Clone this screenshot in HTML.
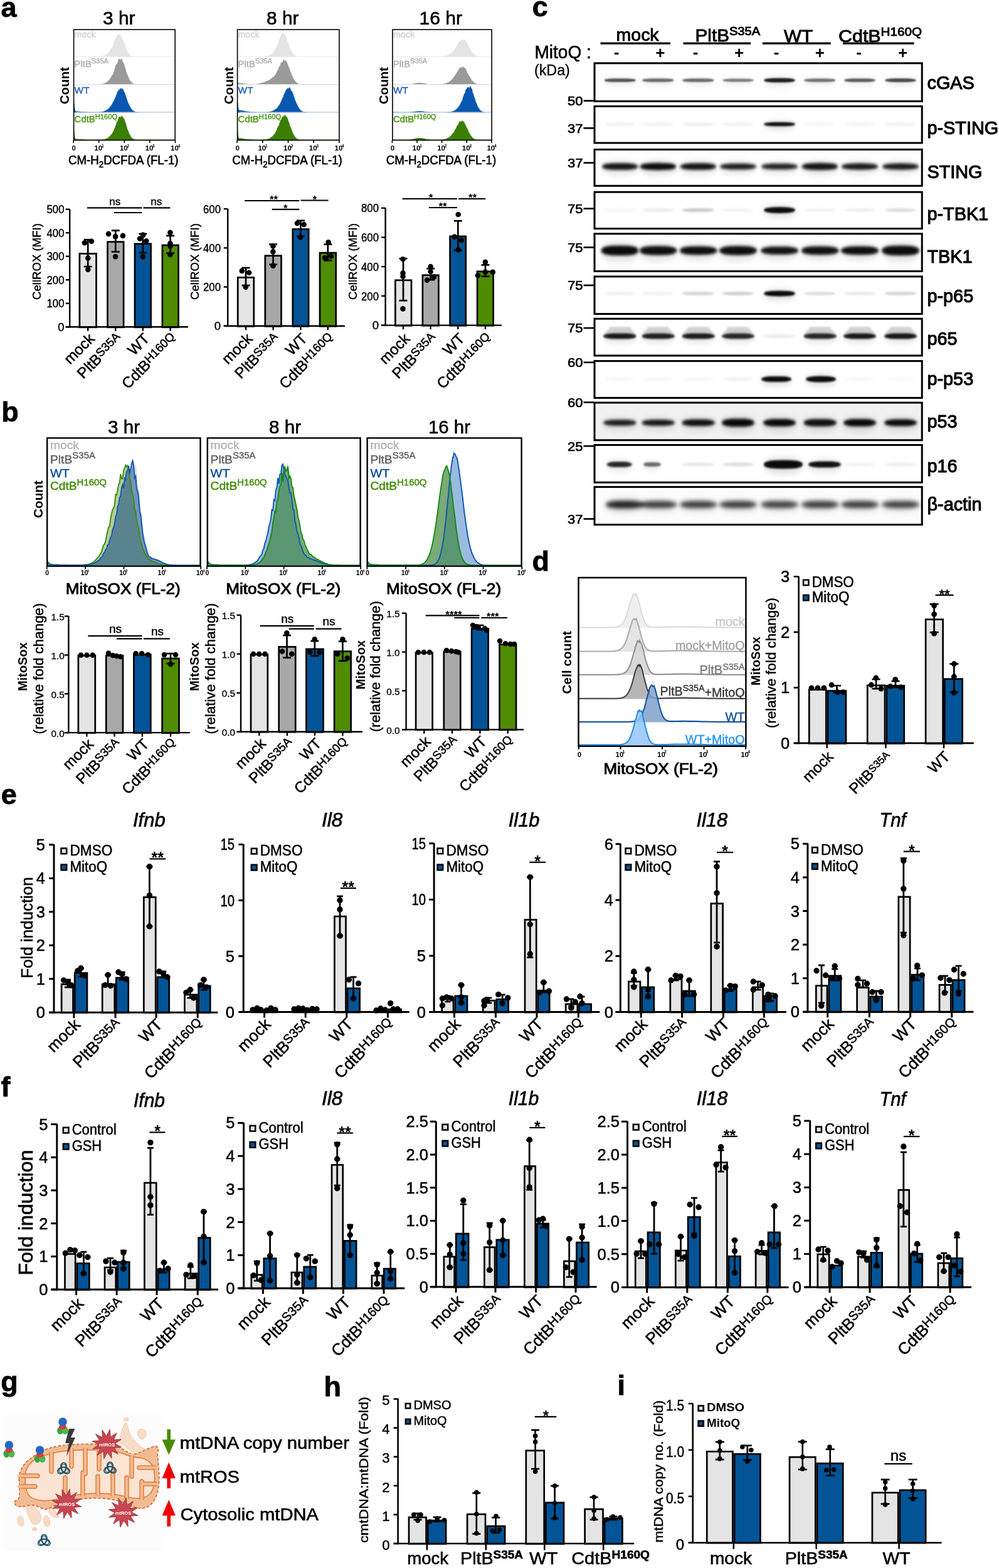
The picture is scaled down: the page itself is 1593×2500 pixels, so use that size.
<!DOCTYPE html>
<html><head><meta charset="utf-8"><title>Figure</title>
<style>html,body{margin:0;padding:0;background:#fff;} svg{display:block;} text{font-family:"Liberation Sans", Arial, sans-serif;}</style>
</head><body>
<svg xmlns="http://www.w3.org/2000/svg" width="1593" height="2500" viewBox="0 0 1593 2500">
<defs>
<filter id="b1" x="-50%" y="-300%" width="200%" height="700%"><feGaussianBlur stdDeviation="1.2"/></filter>
<filter id="b2" x="-50%" y="-300%" width="200%" height="700%"><feGaussianBlur stdDeviation="2"/></filter>
<filter id="b3" x="-50%" y="-300%" width="200%" height="700%"><feGaussianBlur stdDeviation="3.2"/></filter>
<filter id="b5" x="-50%" y="-300%" width="200%" height="700%"><feGaussianBlur stdDeviation="5"/></filter>
<filter id="bh" x="-30%" y="-300%" width="160%" height="700%"><feGaussianBlur stdDeviation="4"/></filter><filter id="bb0" x="-20%" y="-300%" width="140%" height="700%"><feGaussianBlur stdDeviation="1.3"/></filter><filter id="bb1" x="-20%" y="-300%" width="140%" height="700%"><feGaussianBlur stdDeviation="1.5"/></filter><filter id="bb2" x="-20%" y="-300%" width="140%" height="700%"><feGaussianBlur stdDeviation="2.0"/></filter><filter id="bb3" x="-20%" y="-300%" width="140%" height="700%"><feGaussianBlur stdDeviation="1.4"/></filter><filter id="bb4" x="-20%" y="-300%" width="140%" height="700%"><feGaussianBlur stdDeviation="2.2"/></filter><filter id="bb5" x="-20%" y="-300%" width="140%" height="700%"><feGaussianBlur stdDeviation="1.4"/></filter><filter id="bb6" x="-20%" y="-300%" width="140%" height="700%"><feGaussianBlur stdDeviation="1.8"/></filter><filter id="bb7" x="-20%" y="-300%" width="140%" height="700%"><feGaussianBlur stdDeviation="1.5"/></filter><filter id="bb8" x="-20%" y="-300%" width="140%" height="700%"><feGaussianBlur stdDeviation="2.0"/></filter><filter id="bb9" x="-20%" y="-300%" width="140%" height="700%"><feGaussianBlur stdDeviation="1.6"/></filter><filter id="bb10" x="-20%" y="-300%" width="140%" height="700%"><feGaussianBlur stdDeviation="3.0"/></filter>
</defs>
<rect x="0" y="0" width="1593" height="2500" fill="#fff"/>
<text x="1.6" y="26.6" font-size="45" font-weight="bold" stroke="#000" stroke-width="0.8" >a</text>
<text x="2.2" y="671.7" font-size="45" font-weight="bold" stroke="#000" stroke-width="0.8" >b</text>
<text x="848.8" y="26.2" font-size="45" font-weight="bold" stroke="#000" stroke-width="0.8" >c</text>
<text x="848.4" y="909.6" font-size="45" font-weight="bold" stroke="#000" stroke-width="0.8" >d</text>
<text x="1.8" y="1282.4" font-size="45" font-weight="bold" stroke="#000" stroke-width="0.8" >e</text>
<text x="1.6" y="1748.4" font-size="45" font-weight="bold" stroke="#000" stroke-width="0.8" >f</text>
<text x="1.2" y="2217.5" font-size="45" font-weight="bold" stroke="#000" stroke-width="0.8" >g</text>
<text x="516.4" y="2225.6" font-size="45" font-weight="bold" stroke="#000" stroke-width="0.8" >h</text>
<text x="984.6" y="2224.2" font-size="45" font-weight="bold" stroke="#000" stroke-width="0.8" >i</text>
<path d="M117.8 90.6 L117.8 90.6 L118.4 90.6 L119 90.6 L119.6 90.6 L120.2 90.6 L120.8 90.6 L121.4 90.6 L122 90.6 L122.6 90.6 L123.2 90.6 L123.8 90.6 L124.4 90.6 L125 90.6 L125.6 90.6 L126.2 90.6 L126.8 90.6 L127.4 90.6 L128 90.6 L128.6 90.6 L129.2 90.6 L129.8 90.6 L130.4 90.6 L131 90.6 L131.6 90.6 L132.2 90.6 L132.8 90.6 L133.4 90.6 L134 90.6 L134.6 90.6 L135.2 90.6 L135.8 90.6 L136.4 90.6 L137 90.6 L137.6 90.6 L138.2 90.6 L138.8 90.6 L139.4 90.6 L140 90.6 L140.6 90.6 L141.2 90.6 L141.8 90.6 L142.4 90.6 L143 90.6 L143.6 90.6 L144.2 90.6 L144.8 90.6 L145.4 90.6 L146 90.6 L146.6 90.6 L147.2 90.6 L147.8 90.6 L148.4 90.6 L149 90.6 L149.6 90.6 L150.2 90.5 L150.8 90.5 L151.4 90.5 L152 90.5 L152.6 90.5 L153.2 90.5 L153.8 90.4 L154.4 90.4 L155 90.4 L155.6 90.4 L156.2 90.3 L156.8 90.3 L157.4 90.2 L158 90.1 L158.6 90.1 L159.2 90 L159.8 90 L160.4 89.8 L161 89.7 L161.6 89.6 L162.2 89.5 L162.8 89.4 L163.4 89.2 L164 89.1 L164.6 88.8 L165.2 88.6 L165.8 88.4 L166.4 88.2 L167 88 L167.6 87.8 L168.2 87.4 L168.8 86.9 L169.4 86.6 L170 86.3 L170.6 85.7 L171.2 85.3 L171.8 84.8 L172.4 84 L173 83.4 L173.6 83 L174.2 82 L174.8 81.3 L175.4 80.1 L176 79.3 L176.6 78.8 L177.2 76.8 L177.8 76.9 L178.4 75.3 L179 73.4 L179.6 73.2 L180.2 71.2 L180.8 70.7 L181.4 68 L182 66.2 L182.6 65.2 L183.2 63 L183.8 63.1 L184.4 60.6 L185 59.6 L185.6 58.4 L186.2 57.7 L186.8 55.4 L187.4 54.2 L188 55.5 L188.6 54.8 L189.2 57 L189.8 54.7 L190.4 54.9 L191 53.7 L191.6 54.3 L192.2 56.3 L192.8 56.7 L193.4 56.7 L194 60 L194.6 59.8 L195.2 62.1 L195.8 63.7 L196.4 65.3 L197 65.1 L197.6 68.3 L198.2 69.6 L198.8 71 L199.4 71.7 L200 74.7 L200.6 75.6 L201.2 77 L201.8 78 L202.4 79.4 L203 80.6 L203.6 82.3 L204.2 83.2 L204.8 84.2 L205.4 84.8 L206 85.5 L206.6 86.6 L207.2 87.2 L207.8 87.7 L208.4 88.1 L209 88.5 L209.6 88.8 L210.2 89.1 L210.8 89.4 L211.4 89.6 L212 89.8 L212.6 89.9 L213.2 90 L213.8 90.1 L214.4 90.2 L215 90.3 L215.6 90.4 L216.2 90.4 L216.8 90.4 L217.4 90.5 L218 90.5 L218.6 90.5 L219.2 90.5 L219.8 90.6 L220.4 90.6 L221 90.6 L221.6 90.6 L222.2 90.6 L222.8 90.6 L223.4 90.6 L224 90.6 L224.6 90.6 L225.2 90.6 L225.8 90.6 L226.4 90.6 L227 90.6 L227.6 90.6 L228.2 90.6 L228.8 90.6 L229.4 90.6 L230 90.6 L230.6 90.6 L231.2 90.6 L231.8 90.6 L232.4 90.6 L233 90.6 L233.6 90.6 L234.2 90.6 L234.8 90.6 L235.4 90.6 L236 90.6 L236.6 90.6 L237.2 90.6 L237.8 90.6 L238.4 90.6 L239 90.6 L239.6 90.6 L240.2 90.6 L240.8 90.6 L241.4 90.6 L242 90.6 L242.6 90.6 L243.2 90.6 L243.8 90.6 L244.4 90.6 L245 90.6 L245.6 90.6 L246.2 90.6 L246.8 90.6 L247.4 90.6 L248 90.6 L248.6 90.6 L249.2 90.6 L249.8 90.6 L250.4 90.6 L251 90.6 L251.6 90.6 L252.2 90.6 L252.8 90.6 L253.4 90.6 L254 90.6 L254.6 90.6 L255.2 90.6 L255.8 90.6 L256.4 90.6 L257 90.6 L257.6 90.6 L258.2 90.6 L258.8 90.6 L259.4 90.6 L260 90.6 L260.6 90.6 L261.2 90.6 L261.8 90.6 L262.4 90.6 L263 90.6 L263.6 90.6 L264.2 90.6 L264.8 90.6 L265.4 90.6 L266 90.6 L266.6 90.6 L267.2 90.6 L267.8 90.6 L268.4 90.6 L269 90.6 L269.6 90.6 L270.2 90.6 L270.8 90.6 L271.4 90.6 L272 90.6 L272.6 90.6 L273.2 90.6 L273.8 90.6 L274.4 90.6 L275 90.6 L275.6 90.6 L276.2 90.6 L276.8 90.6 L277.4 90.6 L278 90.6 L278.6 90.6 L279 90.6 Z" fill="#e4e4e4" />
<line x1="117.8" y1="90.2" x2="279" y2="90.2" stroke="#e8e8e8" stroke-width="1.0" />
<path d="M117.8 135 L117.8 135 L118.4 135 L119 135 L119.6 135 L120.2 135 L120.8 135 L121.4 135 L122 135 L122.6 135 L123.2 135 L123.8 135 L124.4 135 L125 135 L125.6 135 L126.2 135 L126.8 135 L127.4 135 L128 135 L128.6 135 L129.2 135 L129.8 135 L130.4 135 L131 135 L131.6 135 L132.2 135 L132.8 135 L133.4 135 L134 135 L134.6 135 L135.2 135 L135.8 135 L136.4 135 L137 135 L137.6 135 L138.2 135 L138.8 135 L139.4 135 L140 135 L140.6 135 L141.2 135 L141.8 135 L142.4 135 L143 135 L143.6 135 L144.2 135 L144.8 135 L145.4 135 L146 135 L146.6 135 L147.2 135 L147.8 135 L148.4 135 L149 135 L149.6 135 L150.2 135 L150.8 134.9 L151.4 134.9 L152 134.9 L152.6 134.9 L153.2 134.9 L153.8 134.9 L154.4 134.8 L155 134.8 L155.6 134.8 L156.2 134.7 L156.8 134.7 L157.4 134.6 L158 134.6 L158.6 134.5 L159.2 134.5 L159.8 134.4 L160.4 134.3 L161 134.2 L161.6 134.1 L162.2 134 L162.8 133.9 L163.4 133.8 L164 133.5 L164.6 133.4 L165.2 133.3 L165.8 133 L166.4 132.9 L167 132.5 L167.6 132.1 L168.2 131.9 L168.8 131.6 L169.4 131.4 L170 131 L170.6 130.7 L171.2 129.9 L171.8 129.6 L172.4 128.9 L173 128.6 L173.6 128.1 L174.2 126.9 L174.8 126 L175.4 125.3 L176 124.5 L176.6 123.5 L177.2 122.6 L177.8 122.2 L178.4 120.6 L179 119.6 L179.6 118.9 L180.2 117.6 L180.8 115.8 L181.4 114.4 L182 111.9 L182.6 109.6 L183.2 109.3 L183.8 106.3 L184.4 104.4 L185 102.9 L185.6 103.1 L186.2 102.1 L186.8 100.7 L187.4 99.5 L188 98.3 L188.6 95.6 L189.2 93.5 L189.8 93.3 L190.4 94.8 L191 94.1 L191.6 93.5 L192.2 96.4 L192.8 94.1 L193.4 93.1 L194 93.6 L194.6 94.5 L195.2 96.6 L195.8 99 L196.4 98.1 L197 101.2 L197.6 101.3 L198.2 102.5 L198.8 106.1 L199.4 107.9 L200 108.3 L200.6 110.8 L201.2 113.9 L201.8 115.7 L202.4 117.4 L203 117.8 L203.6 119.6 L204.2 122.1 L204.8 122.6 L205.4 123.9 L206 125.5 L206.6 126.9 L207.2 127.7 L207.8 129 L208.4 129.8 L209 130.1 L209.6 130.9 L210.2 131.6 L210.8 132 L211.4 132.6 L212 132.9 L212.6 133.2 L213.2 133.6 L213.8 133.8 L214.4 134 L215 134.2 L215.6 134.3 L216.2 134.5 L216.8 134.6 L217.4 134.7 L218 134.7 L218.6 134.8 L219.2 134.8 L219.8 134.8 L220.4 134.9 L221 134.9 L221.6 134.9 L222.2 134.9 L222.8 135 L223.4 135 L224 135 L224.6 135 L225.2 135 L225.8 135 L226.4 135 L227 135 L227.6 135 L228.2 135 L228.8 135 L229.4 135 L230 135 L230.6 135 L231.2 135 L231.8 135 L232.4 135 L233 135 L233.6 135 L234.2 135 L234.8 135 L235.4 135 L236 135 L236.6 135 L237.2 135 L237.8 135 L238.4 135 L239 135 L239.6 135 L240.2 135 L240.8 135 L241.4 135 L242 135 L242.6 135 L243.2 135 L243.8 135 L244.4 135 L245 135 L245.6 135 L246.2 135 L246.8 135 L247.4 135 L248 135 L248.6 135 L249.2 135 L249.8 135 L250.4 135 L251 135 L251.6 135 L252.2 135 L252.8 135 L253.4 135 L254 135 L254.6 135 L255.2 135 L255.8 135 L256.4 135 L257 135 L257.6 135 L258.2 135 L258.8 135 L259.4 135 L260 135 L260.6 135 L261.2 135 L261.8 135 L262.4 135 L263 135 L263.6 135 L264.2 135 L264.8 135 L265.4 135 L266 135 L266.6 135 L267.2 135 L267.8 135 L268.4 135 L269 135 L269.6 135 L270.2 135 L270.8 135 L271.4 135 L272 135 L272.6 135 L273.2 135 L273.8 135 L274.4 135 L275 135 L275.6 135 L276.2 135 L276.8 135 L277.4 135 L278 135 L278.6 135 L279 135 Z" fill="#9a9a9a" />
<line x1="117.8" y1="134.6" x2="279" y2="134.6" stroke="#d8d8d8" stroke-width="1.0" />
<path d="M117.8 179.3 L117.8 176.9 L118.4 177 L119 176.9 L119.6 177.1 L120.2 177.1 L120.8 177.2 L121.4 177.3 L122 177.4 L122.6 177.4 L123.2 177.4 L123.8 177.4 L124.4 177.6 L125 177.6 L125.6 177.7 L126.2 177.7 L126.8 177.7 L127.4 177.8 L128 177.9 L128.6 177.9 L129.2 177.9 L129.8 178 L130.4 178 L131 178.1 L131.6 178.2 L132.2 178.2 L132.8 178.3 L133.4 178.3 L134 178.3 L134.6 178.3 L135.2 178.4 L135.8 178.4 L136.4 178.5 L137 178.6 L137.6 178.6 L138.2 178.6 L138.8 178.6 L139.4 178.7 L140 178.8 L140.6 178.8 L141.2 178.8 L141.8 178.8 L142.4 178.9 L143 178.9 L143.6 178.9 L144.2 178.9 L144.8 178.9 L145.4 178.9 L146 178.9 L146.6 179 L147.2 179 L147.8 179 L148.4 179 L149 179 L149.6 179 L150.2 179 L150.8 179 L151.4 179 L152 179 L152.6 179 L153.2 179 L153.8 179 L154.4 178.9 L155 178.9 L155.6 178.9 L156.2 178.9 L156.8 178.8 L157.4 178.8 L158 178.7 L158.6 178.7 L159.2 178.6 L159.8 178.5 L160.4 178.5 L161 178.3 L161.6 178.2 L162.2 178.1 L162.8 178 L163.4 177.9 L164 177.8 L164.6 177.5 L165.2 177.4 L165.8 177.3 L166.4 177 L167 176.6 L167.6 176.4 L168.2 176.3 L168.8 176 L169.4 175.5 L170 175.2 L170.6 174.8 L171.2 174.7 L171.8 174.3 L172.4 173.5 L173 173.1 L173.6 172.8 L174.2 171.6 L174.8 171.1 L175.4 170.3 L176 170.2 L176.6 168.6 L177.2 168.5 L177.8 166.7 L178.4 166.2 L179 165.3 L179.6 163.8 L180.2 162 L180.8 161.9 L181.4 160.8 L182 158.7 L182.6 158 L183.2 156.9 L183.8 155.3 L184.4 154.2 L185 152.4 L185.6 150.7 L186.2 149.3 L186.8 146.5 L187.4 146.7 L188 144.8 L188.6 144.8 L189.2 143.2 L189.8 143.5 L190.4 142 L191 142.9 L191.6 140.1 L192.2 140.8 L192.8 142.2 L193.4 141.1 L194 139.4 L194.6 142.5 L195.2 139.9 L195.8 142.2 L196.4 142.9 L197 142.8 L197.6 145.6 L198.2 146.6 L198.8 147.5 L199.4 148.2 L200 151.7 L200.6 152 L201.2 154 L201.8 155.9 L202.4 158.1 L203 159.8 L203.6 162 L204.2 163.3 L204.8 164.9 L205.4 165.3 L206 167.3 L206.6 168.6 L207.2 169.9 L207.8 170.3 L208.4 171.3 L209 172.4 L209.6 173.5 L210.2 174.3 L210.8 174.9 L211.4 175.4 L212 176.1 L212.6 176.5 L213.2 176.9 L213.8 177.1 L214.4 177.5 L215 177.8 L215.6 178.1 L216.2 178.2 L216.8 178.5 L217.4 178.6 L218 178.7 L218.6 178.8 L219.2 178.9 L219.8 179 L220.4 179 L221 179.1 L221.6 179.1 L222.2 179.2 L222.8 179.2 L223.4 179.2 L224 179.2 L224.6 179.2 L225.2 179.2 L225.8 179.3 L226.4 179.3 L227 179.3 L227.6 179.3 L228.2 179.3 L228.8 179.3 L229.4 179.3 L230 179.3 L230.6 179.3 L231.2 179.3 L231.8 179.3 L232.4 179.3 L233 179.3 L233.6 179.3 L234.2 179.3 L234.8 179.3 L235.4 179.3 L236 179.3 L236.6 179.3 L237.2 179.3 L237.8 179.3 L238.4 179.3 L239 179.3 L239.6 179.3 L240.2 179.3 L240.8 179.3 L241.4 179.3 L242 179.3 L242.6 179.3 L243.2 179.3 L243.8 179.3 L244.4 179.3 L245 179.3 L245.6 179.3 L246.2 179.3 L246.8 179.3 L247.4 179.3 L248 179.3 L248.6 179.3 L249.2 179.3 L249.8 179.3 L250.4 179.3 L251 179.3 L251.6 179.3 L252.2 179.3 L252.8 179.3 L253.4 179.3 L254 179.3 L254.6 179.3 L255.2 179.3 L255.8 179.3 L256.4 179.3 L257 179.3 L257.6 179.3 L258.2 179.3 L258.8 179.3 L259.4 179.3 L260 179.3 L260.6 179.3 L261.2 179.3 L261.8 179.3 L262.4 179.3 L263 179.3 L263.6 179.3 L264.2 179.3 L264.8 179.3 L265.4 179.3 L266 179.3 L266.6 179.3 L267.2 179.3 L267.8 179.3 L268.4 179.3 L269 179.3 L269.6 179.3 L270.2 179.3 L270.8 179.3 L271.4 179.3 L272 179.3 L272.6 179.3 L273.2 179.3 L273.8 179.3 L274.4 179.3 L275 179.3 L275.6 179.3 L276.2 179.3 L276.8 179.3 L277.4 179.3 L278 179.3 L278.6 179.3 L279 179.3 Z" fill="#0a57b0" />
<line x1="117.8" y1="178.9" x2="279" y2="178.9" stroke="#9ab8e0" stroke-width="1.0" />
<path d="M117.6 179.3 L117.6 157.3 L119 171.3 L120.3 177.3 L121.8 179.3 Z" fill="#0a57b0" />
<path d="M117.8 223.5 L117.8 221 L118.4 221.1 L119 221.1 L119.6 221.3 L120.2 221.4 L120.8 221.3 L121.4 221.5 L122 221.5 L122.6 221.6 L123.2 221.7 L123.8 221.6 L124.4 221.7 L125 221.8 L125.6 221.8 L126.2 221.9 L126.8 222 L127.4 222 L128 222.1 L128.6 222.1 L129.2 222.1 L129.8 222.2 L130.4 222.3 L131 222.3 L131.6 222.3 L132.2 222.4 L132.8 222.5 L133.4 222.5 L134 222.6 L134.6 222.6 L135.2 222.7 L135.8 222.6 L136.4 222.7 L137 222.7 L137.6 222.8 L138.2 222.8 L138.8 222.9 L139.4 222.9 L140 222.9 L140.6 222.9 L141.2 223 L141.8 223 L142.4 223 L143 223.1 L143.6 223.1 L144.2 223.1 L144.8 223.1 L145.4 223.2 L146 223.2 L146.6 223.2 L147.2 223.2 L147.8 223.2 L148.4 223.2 L149 223.2 L149.6 223.2 L150.2 223.2 L150.8 223.2 L151.4 223.3 L152 223.3 L152.6 223.3 L153.2 223.3 L153.8 223.3 L154.4 223.2 L155 223.2 L155.6 223.2 L156.2 223.2 L156.8 223.2 L157.4 223.2 L158 223.1 L158.6 223.1 L159.2 223.1 L159.8 223 L160.4 223 L161 222.9 L161.6 222.9 L162.2 222.8 L162.8 222.7 L163.4 222.6 L164 222.5 L164.6 222.3 L165.2 222.3 L165.8 222.1 L166.4 221.9 L167 221.7 L167.6 221.6 L168.2 221.5 L168.8 221.2 L169.4 220.8 L170 220.7 L170.6 220.3 L171.2 220.2 L171.8 219.7 L172.4 219.1 L173 219 L173.6 218.2 L174.2 217.9 L174.8 217.1 L175.4 216.6 L176 216.3 L176.6 215.1 L177.2 214.6 L177.8 214.3 L178.4 213.4 L179 211.9 L179.6 210.9 L180.2 210 L180.8 209.1 L181.4 207.6 L182 206.3 L182.6 203.9 L183.2 204.1 L183.8 201 L184.4 199.3 L185 199.4 L185.6 195.8 L186.2 194.7 L186.8 192.6 L187.4 192.9 L188 191.2 L188.6 189.8 L189.2 186.4 L189.8 186.7 L190.4 186.6 L191 185.5 L191.6 186.1 L192.2 187 L192.8 186.8 L193.4 183.9 L194 186 L194.6 183.6 L195.2 186.2 L195.8 186.6 L196.4 186.7 L197 189 L197.6 189.6 L198.2 189.2 L198.8 191 L199.4 193 L200 195.3 L200.6 196.3 L201.2 198.1 L201.8 200.9 L202.4 202.4 L203 205.4 L203.6 205.9 L204.2 208 L204.8 209.1 L205.4 210.8 L206 212.6 L206.6 214.1 L207.2 214.5 L207.8 216.2 L208.4 216.9 L209 217.9 L209.6 218.7 L210.2 219.2 L210.8 219.8 L211.4 220.5 L212 220.9 L212.6 221.4 L213.2 221.7 L213.8 222 L214.4 222.3 L215 222.5 L215.6 222.7 L216.2 222.8 L216.8 222.9 L217.4 223.1 L218 223.1 L218.6 223.2 L219.2 223.3 L219.8 223.3 L220.4 223.4 L221 223.4 L221.6 223.4 L222.2 223.4 L222.8 223.4 L223.4 223.5 L224 223.5 L224.6 223.5 L225.2 223.5 L225.8 223.5 L226.4 223.5 L227 223.5 L227.6 223.5 L228.2 223.5 L228.8 223.5 L229.4 223.5 L230 223.5 L230.6 223.5 L231.2 223.5 L231.8 223.5 L232.4 223.5 L233 223.5 L233.6 223.5 L234.2 223.5 L234.8 223.5 L235.4 223.5 L236 223.5 L236.6 223.5 L237.2 223.5 L237.8 223.5 L238.4 223.5 L239 223.5 L239.6 223.5 L240.2 223.5 L240.8 223.5 L241.4 223.5 L242 223.5 L242.6 223.5 L243.2 223.5 L243.8 223.5 L244.4 223.5 L245 223.5 L245.6 223.5 L246.2 223.5 L246.8 223.5 L247.4 223.5 L248 223.5 L248.6 223.5 L249.2 223.5 L249.8 223.5 L250.4 223.5 L251 223.5 L251.6 223.5 L252.2 223.5 L252.8 223.5 L253.4 223.5 L254 223.5 L254.6 223.5 L255.2 223.5 L255.8 223.5 L256.4 223.5 L257 223.5 L257.6 223.5 L258.2 223.5 L258.8 223.5 L259.4 223.5 L260 223.5 L260.6 223.5 L261.2 223.5 L261.8 223.5 L262.4 223.5 L263 223.5 L263.6 223.5 L264.2 223.5 L264.8 223.5 L265.4 223.5 L266 223.5 L266.6 223.5 L267.2 223.5 L267.8 223.5 L268.4 223.5 L269 223.5 L269.6 223.5 L270.2 223.5 L270.8 223.5 L271.4 223.5 L272 223.5 L272.6 223.5 L273.2 223.5 L273.8 223.5 L274.4 223.5 L275 223.5 L275.6 223.5 L276.2 223.5 L276.8 223.5 L277.4 223.5 L278 223.5 L278.6 223.5 L279 223.5 Z" fill="#3b7f00" />
<line x1="117.8" y1="223.1" x2="279" y2="223.1" stroke="#3b7f00" stroke-width="1.0" />
<path d="M117.6 223.5 L117.6 201.5 L119 215.5 L120.3 221.5 L121.8 223.5 Z" fill="#3b7f00" />
<rect x="117.6" y="47.2" width="161.6" height="176.3" fill="none" stroke="#000" stroke-width="1.6" />
<text x="118.6" y="59.7" font-size="15" fill="#cfcfcf" textLength="34.4" lengthAdjust="spacingAndGlyphs" stroke="#cfcfcf" stroke-width="0.33" >mock</text>
<text x="118.6" y="106.8" font-size="15" fill="#ababab" textLength="54.4" lengthAdjust="spacingAndGlyphs" stroke="#ababab" stroke-width="0.33" >PltB<tspan font-size="0.75em" dy="-0.5em">S35A</tspan></text>
<text x="118.6" y="149.2" font-size="15" fill="#1a5fb4" textLength="24" lengthAdjust="spacingAndGlyphs" stroke="#1a5fb4" stroke-width="0.33" >WT</text>
<text x="118.6" y="195.4" font-size="15" fill="#3e9000" textLength="68.7" lengthAdjust="spacingAndGlyphs" stroke="#3e9000" stroke-width="0.33" >CdtB<tspan font-size="0.75em" dy="-0.5em">H160Q</tspan></text>
<text x="164" y="38.9" font-size="30" textLength="51.6" lengthAdjust="spacingAndGlyphs" stroke="#000" stroke-width="0.6" >3 hr</text>
<text x="109.9" y="136.5" font-size="21" text-anchor="middle" font-weight="bold" textLength="59.5" lengthAdjust="spacingAndGlyphs" transform="rotate(-90 109.9 136.5)" >Count</text>
<line x1="117.1" y1="223.5" x2="117.1" y2="228" stroke="#000" stroke-width="1.6" />
<text x="117.6" y="240" font-size="11.5" text-anchor="middle" font-weight="bold" >0</text>
<line x1="157.7" y1="223.5" x2="157.7" y2="228" stroke="#000" stroke-width="1.6" />
<text x="156.7" y="240" font-size="11.5" text-anchor="middle" font-weight="bold" >10</text>
<text x="163.7" y="234.5" font-size="6.5" text-anchor="middle" font-weight="bold" >1</text>
<line x1="198.3" y1="223.5" x2="198.3" y2="228" stroke="#000" stroke-width="1.6" />
<text x="197.3" y="240" font-size="11.5" text-anchor="middle" font-weight="bold" >10</text>
<text x="204.3" y="234.5" font-size="6.5" text-anchor="middle" font-weight="bold" >2</text>
<line x1="238.9" y1="223.5" x2="238.9" y2="228" stroke="#000" stroke-width="1.6" />
<text x="237.9" y="240" font-size="11.5" text-anchor="middle" font-weight="bold" >10</text>
<text x="244.9" y="234.5" font-size="6.5" text-anchor="middle" font-weight="bold" >3</text>
<line x1="279.5" y1="223.5" x2="279.5" y2="228" stroke="#000" stroke-width="1.6" />
<text x="278.5" y="240" font-size="11.5" text-anchor="middle" font-weight="bold" >10</text>
<text x="285.5" y="234.5" font-size="6.5" text-anchor="middle" font-weight="bold" >4</text>
<text x="196.8" y="261.5" font-size="20" text-anchor="middle" textLength="175.5" lengthAdjust="spacingAndGlyphs" stroke="#000" stroke-width="0.6">CM-H<tspan font-size="14" dy="5">2</tspan><tspan dy="-5">DCFDA (FL-1)</tspan></text>
<path d="M378.8 90.6 L378.8 90.6 L379.4 90.6 L380 90.6 L380.6 90.6 L381.2 90.6 L381.8 90.6 L382.4 90.6 L383 90.6 L383.6 90.6 L384.2 90.6 L384.8 90.6 L385.4 90.6 L386 90.6 L386.6 90.6 L387.2 90.6 L387.8 90.6 L388.4 90.6 L389 90.6 L389.6 90.6 L390.2 90.6 L390.8 90.6 L391.4 90.6 L392 90.6 L392.6 90.6 L393.2 90.6 L393.8 90.6 L394.4 90.6 L395 90.6 L395.6 90.6 L396.2 90.6 L396.8 90.6 L397.4 90.6 L398 90.6 L398.6 90.6 L399.2 90.6 L399.8 90.6 L400.4 90.6 L401 90.6 L401.6 90.6 L402.2 90.6 L402.8 90.6 L403.4 90.6 L404 90.6 L404.6 90.6 L405.2 90.6 L405.8 90.6 L406.4 90.6 L407 90.6 L407.6 90.6 L408.2 90.6 L408.8 90.6 L409.4 90.6 L410 90.6 L410.6 90.6 L411.2 90.6 L411.8 90.6 L412.4 90.6 L413 90.6 L413.6 90.6 L414.2 90.5 L414.8 90.5 L415.4 90.5 L416 90.5 L416.6 90.5 L417.2 90.4 L417.8 90.4 L418.4 90.4 L419 90.4 L419.6 90.3 L420.2 90.3 L420.8 90.2 L421.4 90.1 L422 90 L422.6 90 L423.2 89.9 L423.8 89.8 L424.4 89.6 L425 89.5 L425.6 89.4 L426.2 89.3 L426.8 89.1 L427.4 88.8 L428 88.6 L428.6 88.3 L429.2 88.1 L429.8 88 L430.4 87.7 L431 87.4 L431.6 86.9 L432.2 86.4 L432.8 85.8 L433.4 85.4 L434 84.9 L434.6 84.2 L435.2 83.8 L435.8 83 L436.4 82.7 L437 81.2 L437.6 80.8 L438.2 79.1 L438.8 78.3 L439.4 77.6 L440 76.6 L440.6 75.2 L441.2 73.2 L441.8 71.6 L442.4 71.2 L443 69.8 L443.6 67.2 L444.2 65.5 L444.8 64.3 L445.4 63.2 L446 60.5 L446.6 60.8 L447.2 58.5 L447.8 56.7 L448.4 53.7 L449 53.8 L449.6 52 L450.2 53.5 L450.8 54.4 L451.4 54.3 L452 51.7 L452.6 52.6 L453.2 54.1 L453.8 55.2 L454.4 54.2 L455 54.6 L455.6 56.8 L456.2 58.7 L456.8 59 L457.4 59.9 L458 63.7 L458.6 65.9 L459.2 67 L459.8 68.6 L460.4 69.9 L461 72.7 L461.6 73.4 L462.2 75.2 L462.8 77.2 L463.4 79 L464 79.6 L464.6 81.5 L465.2 82.3 L465.8 83.8 L466.4 84.8 L467 85.3 L467.6 86.3 L468.2 86.7 L468.8 87.5 L469.4 88.1 L470 88.5 L470.6 88.8 L471.2 89.1 L471.8 89.3 L472.4 89.7 L473 89.8 L473.6 90 L474.2 90.1 L474.8 90.2 L475.4 90.3 L476 90.4 L476.6 90.4 L477.2 90.4 L477.8 90.5 L478.4 90.5 L479 90.5 L479.6 90.5 L480.2 90.6 L480.8 90.6 L481.4 90.6 L482 90.6 L482.6 90.6 L483.2 90.6 L483.8 90.6 L484.4 90.6 L485 90.6 L485.6 90.6 L486.2 90.6 L486.8 90.6 L487.4 90.6 L488 90.6 L488.6 90.6 L489.2 90.6 L489.8 90.6 L490.4 90.6 L491 90.6 L491.6 90.6 L492.2 90.6 L492.8 90.6 L493.4 90.6 L494 90.6 L494.6 90.6 L495.2 90.6 L495.8 90.6 L496.4 90.6 L497 90.6 L497.6 90.6 L498.2 90.6 L498.8 90.6 L499.4 90.6 L500 90.6 L500.6 90.6 L501.2 90.6 L501.8 90.6 L502.4 90.6 L503 90.6 L503.6 90.6 L504.2 90.6 L504.8 90.6 L505.4 90.6 L506 90.6 L506.6 90.6 L507.2 90.6 L507.8 90.6 L508.4 90.6 L509 90.6 L509.6 90.6 L510.2 90.6 L510.8 90.6 L511.4 90.6 L512 90.6 L512.6 90.6 L513.2 90.6 L513.8 90.6 L514.4 90.6 L515 90.6 L515.6 90.6 L516.2 90.6 L516.8 90.6 L517.4 90.6 L518 90.6 L518.6 90.6 L519.2 90.6 L519.8 90.6 L520.4 90.6 L521 90.6 L521.6 90.6 L522.2 90.6 L522.8 90.6 L523.4 90.6 L524 90.6 L524.6 90.6 L525.2 90.6 L525.8 90.6 L526.4 90.6 L527 90.6 L527.6 90.6 L528.2 90.6 L528.8 90.6 L529.4 90.6 L530 90.6 L530.6 90.6 L531.2 90.6 L531.8 90.6 L532.4 90.6 L533 90.6 L533.6 90.6 L534.2 90.6 L534.8 90.6 L535.4 90.6 L536 90.6 L536.6 90.6 L537.2 90.6 L537.8 90.6 L538.4 90.6 L539 90.6 L539.6 90.6 L540.2 90.6 L540.7 90.6 Z" fill="#e4e4e4" />
<line x1="378.8" y1="90.2" x2="540.7" y2="90.2" stroke="#e8e8e8" stroke-width="1.0" />
<path d="M378.8 135 L378.8 131.8 L379.4 131.7 L380 131.9 L380.6 132 L381.2 132.2 L381.8 132.3 L382.4 132.5 L383 132.5 L383.6 132.5 L384.2 132.5 L384.8 132.8 L385.4 132.7 L386 132.9 L386.6 133 L387.2 132.9 L387.8 133 L388.4 133.2 L389 133.3 L389.6 133.3 L390.2 133.4 L390.8 133.4 L391.4 133.5 L392 133.6 L392.6 133.6 L393.2 133.7 L393.8 133.7 L394.4 133.7 L395 133.8 L395.6 133.9 L396.2 134 L396.8 134 L397.4 134 L398 134.1 L398.6 134 L399.2 134.1 L399.8 134.1 L400.4 134.1 L401 134.1 L401.6 134.1 L402.2 134.2 L402.8 134.1 L403.4 134.2 L404 134.1 L404.6 134.2 L405.2 134.1 L405.8 134 L406.4 134 L407 133.9 L407.6 134 L408.2 133.9 L408.8 133.8 L409.4 133.7 L410 133.6 L410.6 133.6 L411.2 133.5 L411.8 133.4 L412.4 133.2 L413 133 L413.6 133.1 L414.2 132.8 L414.8 132.7 L415.4 132.5 L416 132.4 L416.6 132.2 L417.2 132.1 L417.8 132 L418.4 131.8 L419 131.4 L419.6 131.5 L420.2 131.2 L420.8 130.8 L421.4 130.8 L422 130.7 L422.6 130.5 L423.2 130 L423.8 129.9 L424.4 129.3 L425 129.1 L425.6 128.7 L426.2 128.9 L426.8 128.8 L427.4 128.5 L428 127.9 L428.6 127.5 L429.2 127.4 L429.8 127.2 L430.4 126.7 L431 126.2 L431.6 125.8 L432.2 125.3 L432.8 124.8 L433.4 124.5 L434 124.6 L434.6 123.3 L435.2 123.4 L435.8 122.5 L436.4 122.1 L437 121 L437.6 121 L438.2 120.2 L438.8 119.4 L439.4 118.7 L440 116.5 L440.6 116 L441.2 115.4 L441.8 114.2 L442.4 111.7 L443 111.6 L443.6 111 L444.2 108.3 L444.8 107.4 L445.4 105.1 L446 106.4 L446.6 104 L447.2 101.6 L447.8 100.3 L448.4 98.9 L449 100.9 L449.6 99 L450.2 98.8 L450.8 97.9 L451.4 94.4 L452 96 L452.6 94.8 L453.2 97 L453.8 95.2 L454.4 96.8 L455 97.6 L455.6 95.7 L456.2 95.3 L456.8 99.3 L457.4 98.5 L458 99.5 L458.6 102.2 L459.2 103 L459.8 105.2 L460.4 106.5 L461 107.9 L461.6 108.6 L462.2 110.1 L462.8 112.8 L463.4 114.8 L464 115.7 L464.6 116.6 L465.2 119 L465.8 120.3 L466.4 121.8 L467 122.4 L467.6 123.9 L468.2 125.6 L468.8 126.6 L469.4 127.3 L470 128.1 L470.6 128.9 L471.2 130 L471.8 130.6 L472.4 131 L473 131.6 L473.6 132.1 L474.2 132.6 L474.8 132.8 L475.4 133.2 L476 133.5 L476.6 133.7 L477.2 133.9 L477.8 134.1 L478.4 134.2 L479 134.4 L479.6 134.5 L480.2 134.6 L480.8 134.7 L481.4 134.7 L482 134.8 L482.6 134.8 L483.2 134.8 L483.8 134.9 L484.4 134.9 L485 134.9 L485.6 134.9 L486.2 134.9 L486.8 135 L487.4 135 L488 135 L488.6 135 L489.2 135 L489.8 135 L490.4 135 L491 135 L491.6 135 L492.2 135 L492.8 135 L493.4 135 L494 135 L494.6 135 L495.2 135 L495.8 135 L496.4 135 L497 135 L497.6 135 L498.2 135 L498.8 135 L499.4 135 L500 135 L500.6 135 L501.2 135 L501.8 135 L502.4 135 L503 135 L503.6 135 L504.2 135 L504.8 135 L505.4 135 L506 135 L506.6 135 L507.2 135 L507.8 135 L508.4 135 L509 135 L509.6 135 L510.2 135 L510.8 135 L511.4 135 L512 135 L512.6 135 L513.2 135 L513.8 135 L514.4 135 L515 135 L515.6 135 L516.2 135 L516.8 135 L517.4 135 L518 135 L518.6 135 L519.2 135 L519.8 135 L520.4 135 L521 135 L521.6 135 L522.2 135 L522.8 135 L523.4 135 L524 135 L524.6 135 L525.2 135 L525.8 135 L526.4 135 L527 135 L527.6 135 L528.2 135 L528.8 135 L529.4 135 L530 135 L530.6 135 L531.2 135 L531.8 135 L532.4 135 L533 135 L533.6 135 L534.2 135 L534.8 135 L535.4 135 L536 135 L536.6 135 L537.2 135 L537.8 135 L538.4 135 L539 135 L539.6 135 L540.2 135 L540.7 135 Z" fill="#9a9a9a" />
<line x1="378.8" y1="134.6" x2="540.7" y2="134.6" stroke="#d8d8d8" stroke-width="1.0" />
<path d="M378.8 179.3 L378.8 174.4 L379.4 174.7 L380 174.8 L380.6 175.2 L381.2 175.2 L381.8 175.3 L382.4 175.3 L383 175.7 L383.6 175.7 L384.2 175.7 L384.8 175.8 L385.4 176.1 L386 176.3 L386.6 176.1 L387.2 176.2 L387.8 176.5 L388.4 176.7 L389 176.6 L389.6 176.8 L390.2 176.8 L390.8 176.9 L391.4 177 L392 177.2 L392.6 177.2 L393.2 177.4 L393.8 177.4 L394.4 177.4 L395 177.5 L395.6 177.7 L396.2 177.8 L396.8 177.8 L397.4 177.9 L398 178 L398.6 178.1 L399.2 178.1 L399.8 178.2 L400.4 178.2 L401 178.4 L401.6 178.4 L402.2 178.4 L402.8 178.5 L403.4 178.5 L404 178.6 L404.6 178.6 L405.2 178.6 L405.8 178.7 L406.4 178.7 L407 178.7 L407.6 178.8 L408.2 178.8 L408.8 178.8 L409.4 178.9 L410 178.9 L410.6 178.9 L411.2 178.9 L411.8 178.9 L412.4 179 L413 178.9 L413.6 179 L414.2 179 L414.8 179 L415.4 179 L416 179 L416.6 179 L417.2 179 L417.8 179 L418.4 179 L419 179 L419.6 179 L420.2 179 L420.8 179 L421.4 178.9 L422 178.9 L422.6 178.9 L423.2 178.9 L423.8 178.8 L424.4 178.8 L425 178.7 L425.6 178.7 L426.2 178.6 L426.8 178.5 L427.4 178.5 L428 178.4 L428.6 178.3 L429.2 178.1 L429.8 178.1 L430.4 177.9 L431 177.8 L431.6 177.7 L432.2 177.4 L432.8 177.2 L433.4 177.2 L434 176.9 L434.6 176.6 L435.2 176.5 L435.8 176 L436.4 175.9 L437 175.4 L437.6 175.3 L438.2 174.8 L438.8 174.2 L439.4 174.1 L440 173.6 L440.6 172.9 L441.2 172.5 L441.8 172.1 L442.4 171.4 L443 170.7 L443.6 169.2 L444.2 168.6 L444.8 167.5 L445.4 167.4 L446 165.6 L446.6 165.4 L447.2 163.7 L447.8 162.3 L448.4 161.6 L449 159.3 L449.6 158.5 L450.2 157.1 L450.8 154.9 L451.4 155.4 L452 151.6 L452.6 151.1 L453.2 150.3 L453.8 147.6 L454.4 147.9 L455 144.2 L455.6 144.3 L456.2 143.9 L456.8 141.4 L457.4 141.7 L458 141.9 L458.6 139.6 L459.2 142.3 L459.8 139.3 L460.4 141.5 L461 140 L461.6 138.6 L462.2 140.2 L462.8 139.9 L463.4 141.8 L464 143.9 L464.6 144.8 L465.2 145.5 L465.8 145.2 L466.4 147.2 L467 148.5 L467.6 148.9 L468.2 152.7 L468.8 154.1 L469.4 154.7 L470 157.8 L470.6 159.5 L471.2 160.3 L471.8 162.3 L472.4 163.4 L473 165.1 L473.6 165.9 L474.2 167.3 L474.8 168.9 L475.4 169.7 L476 170.9 L476.6 172.1 L477.2 172.5 L477.8 173.7 L478.4 174.5 L479 175.1 L479.6 175.5 L480.2 176 L480.8 176.5 L481.4 177 L482 177.3 L482.6 177.7 L483.2 177.9 L483.8 178.1 L484.4 178.3 L485 178.5 L485.6 178.6 L486.2 178.7 L486.8 178.8 L487.4 178.9 L488 179 L488.6 179 L489.2 179.1 L489.8 179.1 L490.4 179.2 L491 179.2 L491.6 179.2 L492.2 179.2 L492.8 179.2 L493.4 179.2 L494 179.3 L494.6 179.3 L495.2 179.3 L495.8 179.3 L496.4 179.3 L497 179.3 L497.6 179.3 L498.2 179.3 L498.8 179.3 L499.4 179.3 L500 179.3 L500.6 179.3 L501.2 179.3 L501.8 179.3 L502.4 179.3 L503 179.3 L503.6 179.3 L504.2 179.3 L504.8 179.3 L505.4 179.3 L506 179.3 L506.6 179.3 L507.2 179.3 L507.8 179.3 L508.4 179.3 L509 179.3 L509.6 179.3 L510.2 179.3 L510.8 179.3 L511.4 179.3 L512 179.3 L512.6 179.3 L513.2 179.3 L513.8 179.3 L514.4 179.3 L515 179.3 L515.6 179.3 L516.2 179.3 L516.8 179.3 L517.4 179.3 L518 179.3 L518.6 179.3 L519.2 179.3 L519.8 179.3 L520.4 179.3 L521 179.3 L521.6 179.3 L522.2 179.3 L522.8 179.3 L523.4 179.3 L524 179.3 L524.6 179.3 L525.2 179.3 L525.8 179.3 L526.4 179.3 L527 179.3 L527.6 179.3 L528.2 179.3 L528.8 179.3 L529.4 179.3 L530 179.3 L530.6 179.3 L531.2 179.3 L531.8 179.3 L532.4 179.3 L533 179.3 L533.6 179.3 L534.2 179.3 L534.8 179.3 L535.4 179.3 L536 179.3 L536.6 179.3 L537.2 179.3 L537.8 179.3 L538.4 179.3 L539 179.3 L539.6 179.3 L540.2 179.3 L540.7 179.3 Z" fill="#0a57b0" />
<line x1="378.8" y1="178.9" x2="540.7" y2="178.9" stroke="#9ab8e0" stroke-width="1.0" />
<path d="M378.6 179.3 L378.6 157.3 L380 171.3 L381.3 177.3 L382.8 179.3 Z" fill="#0a57b0" />
<path d="M378.8 223.5 L378.8 219.3 L379.4 219.3 L380 219.7 L380.6 219.8 L381.2 220 L381.8 220.2 L382.4 220 L383 220.2 L383.6 220.3 L384.2 220.6 L384.8 220.5 L385.4 220.6 L386 220.8 L386.6 220.8 L387.2 221 L387.8 221.1 L388.4 221.2 L389 221.3 L389.6 221.4 L390.2 221.4 L390.8 221.4 L391.4 221.5 L392 221.6 L392.6 221.7 L393.2 221.8 L393.8 221.9 L394.4 221.9 L395 222 L395.6 222.1 L396.2 222.2 L396.8 222.2 L397.4 222.2 L398 222.4 L398.6 222.4 L399.2 222.5 L399.8 222.5 L400.4 222.6 L401 222.6 L401.6 222.6 L402.2 222.7 L402.8 222.8 L403.4 222.8 L404 222.8 L404.6 222.9 L405.2 222.9 L405.8 222.9 L406.4 222.9 L407 223 L407.6 223 L408.2 223 L408.8 223 L409.4 223 L410 223 L410.6 223.1 L411.2 223.1 L411.8 223.1 L412.4 223.1 L413 223.1 L413.6 223.1 L414.2 223.1 L414.8 223.1 L415.4 223.1 L416 223.1 L416.6 223.1 L417.2 223 L417.8 223 L418.4 223 L419 222.9 L419.6 222.9 L420.2 222.8 L420.8 222.7 L421.4 222.6 L422 222.6 L422.6 222.5 L423.2 222.4 L423.8 222.3 L424.4 222.1 L425 222 L425.6 221.8 L426.2 221.8 L426.8 221.4 L427.4 221.2 L428 221 L428.6 220.9 L429.2 220.7 L429.8 220.4 L430.4 220.1 L431 219.5 L431.6 219.1 L432.2 218.8 L432.8 218.3 L433.4 217.9 L434 217.6 L434.6 217.1 L435.2 216.6 L435.8 215.4 L436.4 215.2 L437 214.3 L437.6 213.4 L438.2 212.9 L438.8 211.8 L439.4 210.7 L440 209 L440.6 208.4 L441.2 207.2 L441.8 204.8 L442.4 204.3 L443 202.1 L443.6 201.1 L444.2 201 L444.8 198.6 L445.4 197 L446 194.5 L446.6 194.2 L447.2 191.6 L447.8 190.7 L448.4 190.4 L449 186.8 L449.6 188.4 L450.2 184.6 L450.8 186.2 L451.4 186.2 L452 185.4 L452.6 183.2 L453.2 182.3 L453.8 186.2 L454.4 184.2 L455 184.2 L455.6 183 L456.2 185.7 L456.8 185.4 L457.4 187 L458 186.5 L458.6 189.8 L459.2 189 L459.8 192.7 L460.4 194.5 L461 194.8 L461.6 197.2 L462.2 199.9 L462.8 200.4 L463.4 203.3 L464 203.6 L464.6 205.5 L465.2 207 L465.8 208.8 L466.4 210.6 L467 211.9 L467.6 213.2 L468.2 213.9 L468.8 215.7 L469.4 216.1 L470 217.5 L470.6 218.2 L471.2 218.9 L471.8 219.3 L472.4 220 L473 220.6 L473.6 220.9 L474.2 221.4 L474.8 221.7 L475.4 222 L476 222.2 L476.6 222.4 L477.2 222.6 L477.8 222.8 L478.4 222.9 L479 223 L479.6 223.1 L480.2 223.2 L480.8 223.2 L481.4 223.3 L482 223.3 L482.6 223.4 L483.2 223.4 L483.8 223.4 L484.4 223.4 L485 223.4 L485.6 223.5 L486.2 223.5 L486.8 223.5 L487.4 223.5 L488 223.5 L488.6 223.5 L489.2 223.5 L489.8 223.5 L490.4 223.5 L491 223.5 L491.6 223.5 L492.2 223.5 L492.8 223.5 L493.4 223.5 L494 223.5 L494.6 223.5 L495.2 223.5 L495.8 223.5 L496.4 223.5 L497 223.5 L497.6 223.5 L498.2 223.5 L498.8 223.5 L499.4 223.5 L500 223.5 L500.6 223.5 L501.2 223.5 L501.8 223.5 L502.4 223.5 L503 223.5 L503.6 223.5 L504.2 223.5 L504.8 223.5 L505.4 223.5 L506 223.5 L506.6 223.5 L507.2 223.5 L507.8 223.5 L508.4 223.5 L509 223.5 L509.6 223.5 L510.2 223.5 L510.8 223.5 L511.4 223.5 L512 223.5 L512.6 223.5 L513.2 223.5 L513.8 223.5 L514.4 223.5 L515 223.5 L515.6 223.5 L516.2 223.5 L516.8 223.5 L517.4 223.5 L518 223.5 L518.6 223.5 L519.2 223.5 L519.8 223.5 L520.4 223.5 L521 223.5 L521.6 223.5 L522.2 223.5 L522.8 223.5 L523.4 223.5 L524 223.5 L524.6 223.5 L525.2 223.5 L525.8 223.5 L526.4 223.5 L527 223.5 L527.6 223.5 L528.2 223.5 L528.8 223.5 L529.4 223.5 L530 223.5 L530.6 223.5 L531.2 223.5 L531.8 223.5 L532.4 223.5 L533 223.5 L533.6 223.5 L534.2 223.5 L534.8 223.5 L535.4 223.5 L536 223.5 L536.6 223.5 L537.2 223.5 L537.8 223.5 L538.4 223.5 L539 223.5 L539.6 223.5 L540.2 223.5 L540.7 223.5 Z" fill="#3b7f00" />
<line x1="378.8" y1="223.1" x2="540.7" y2="223.1" stroke="#3b7f00" stroke-width="1.0" />
<path d="M378.6 223.5 L378.6 201.5 L380 215.5 L381.3 221.5 L382.8 223.5 Z" fill="#3b7f00" />
<rect x="378.6" y="47.2" width="162.3" height="176.3" fill="none" stroke="#000" stroke-width="1.6" />
<text x="379.6" y="59.7" font-size="15" fill="#cfcfcf" textLength="34.4" lengthAdjust="spacingAndGlyphs" stroke="#cfcfcf" stroke-width="0.33" >mock</text>
<text x="379.6" y="106.8" font-size="15" fill="#ababab" textLength="54.4" lengthAdjust="spacingAndGlyphs" stroke="#ababab" stroke-width="0.33" >PltB<tspan font-size="0.75em" dy="-0.5em">S35A</tspan></text>
<text x="379.6" y="149.2" font-size="15" fill="#1a5fb4" textLength="24" lengthAdjust="spacingAndGlyphs" stroke="#1a5fb4" stroke-width="0.33" >WT</text>
<text x="379.6" y="195.4" font-size="15" fill="#3e9000" textLength="68.7" lengthAdjust="spacingAndGlyphs" stroke="#3e9000" stroke-width="0.33" >CdtB<tspan font-size="0.75em" dy="-0.5em">H160Q</tspan></text>
<text x="425" y="38.9" font-size="30" textLength="51.5" lengthAdjust="spacingAndGlyphs" stroke="#000" stroke-width="0.6" >8 hr</text>
<text x="372.2" y="136.5" font-size="21" text-anchor="middle" font-weight="bold" textLength="59.5" lengthAdjust="spacingAndGlyphs" transform="rotate(-90 372.2 136.5)" >Count</text>
<line x1="378.1" y1="223.5" x2="378.1" y2="228" stroke="#000" stroke-width="1.6" />
<text x="378.6" y="240" font-size="11.5" text-anchor="middle" font-weight="bold" >0</text>
<line x1="418.8" y1="223.5" x2="418.8" y2="228" stroke="#000" stroke-width="1.6" />
<text x="417.8" y="240" font-size="11.5" text-anchor="middle" font-weight="bold" >10</text>
<text x="424.8" y="234.5" font-size="6.5" text-anchor="middle" font-weight="bold" >1</text>
<line x1="459.5" y1="223.5" x2="459.5" y2="228" stroke="#000" stroke-width="1.6" />
<text x="458.5" y="240" font-size="11.5" text-anchor="middle" font-weight="bold" >10</text>
<text x="465.5" y="234.5" font-size="6.5" text-anchor="middle" font-weight="bold" >2</text>
<line x1="500.2" y1="223.5" x2="500.2" y2="228" stroke="#000" stroke-width="1.6" />
<text x="499.2" y="240" font-size="11.5" text-anchor="middle" font-weight="bold" >10</text>
<text x="506.2" y="234.5" font-size="6.5" text-anchor="middle" font-weight="bold" >3</text>
<line x1="540.9" y1="223.5" x2="540.9" y2="228" stroke="#000" stroke-width="1.6" />
<text x="539.9" y="240" font-size="11.5" text-anchor="middle" font-weight="bold" >10</text>
<text x="546.9" y="234.5" font-size="6.5" text-anchor="middle" font-weight="bold" >4</text>
<text x="458.1" y="261.5" font-size="20" text-anchor="middle" textLength="175.5" lengthAdjust="spacingAndGlyphs" stroke="#000" stroke-width="0.6">CM-H<tspan font-size="14" dy="5">2</tspan><tspan dy="-5">DCFDA (FL-1)</tspan></text>
<path d="M626.1 90.6 L626.1 90.2 L626.7 90.2 L627.3 90.2 L627.9 90.2 L628.5 90.2 L629.1 90.2 L629.7 90.2 L630.3 90.3 L630.9 90.2 L631.5 90.3 L632.1 90.3 L632.7 90.3 L633.3 90.3 L633.9 90.3 L634.5 90.3 L635.1 90.3 L635.7 90.3 L636.3 90.3 L636.9 90.4 L637.5 90.4 L638.1 90.4 L638.7 90.4 L639.3 90.4 L639.9 90.4 L640.5 90.4 L641.1 90.4 L641.7 90.4 L642.3 90.4 L642.9 90.4 L643.5 90.4 L644.1 90.4 L644.7 90.4 L645.3 90.5 L645.9 90.4 L646.5 90.4 L647.1 90.5 L647.7 90.4 L648.3 90.4 L648.9 90.4 L649.5 90.4 L650.1 90.4 L650.7 90.4 L651.3 90.4 L651.9 90.4 L652.5 90.3 L653.1 90.3 L653.7 90.3 L654.3 90.3 L654.9 90.2 L655.5 90.2 L656.1 90.2 L656.7 90.1 L657.3 90.1 L657.9 90 L658.5 90 L659.1 90 L659.7 89.9 L660.3 89.9 L660.9 89.8 L661.5 89.8 L662.1 89.7 L662.7 89.6 L663.3 89.7 L663.9 89.6 L664.5 89.5 L665.1 89.5 L665.7 89.5 L666.3 89.4 L666.9 89.5 L667.5 89.4 L668.1 89.4 L668.7 89.4 L669.3 89.3 L669.9 89.4 L670.5 89.5 L671.1 89.4 L671.7 89.4 L672.3 89.4 L672.9 89.5 L673.5 89.5 L674.1 89.5 L674.7 89.6 L675.3 89.7 L675.9 89.7 L676.5 89.8 L677.1 89.8 L677.7 89.8 L678.3 89.9 L678.9 90 L679.5 90 L680.1 90 L680.7 90.1 L681.3 90.1 L681.9 90.2 L682.5 90.2 L683.1 90.2 L683.7 90.3 L684.3 90.3 L684.9 90.3 L685.5 90.4 L686.1 90.4 L686.7 90.4 L687.3 90.4 L687.9 90.5 L688.5 90.5 L689.1 90.5 L689.7 90.5 L690.3 90.5 L690.9 90.5 L691.5 90.5 L692.1 90.5 L692.7 90.5 L693.3 90.5 L693.9 90.5 L694.5 90.5 L695.1 90.5 L695.7 90.5 L696.3 90.5 L696.9 90.5 L697.5 90.5 L698.1 90.4 L698.7 90.4 L699.3 90.4 L699.9 90.4 L700.5 90.3 L701.1 90.3 L701.7 90.3 L702.3 90.2 L702.9 90.2 L703.5 90.1 L704.1 90.1 L704.7 90 L705.3 90 L705.9 89.8 L706.5 89.8 L707.1 89.7 L707.7 89.6 L708.3 89.5 L708.9 89.4 L709.5 89.2 L710.1 89.1 L710.7 89 L711.3 88.7 L711.9 88.5 L712.5 88.5 L713.1 88.1 L713.7 87.9 L714.3 87.6 L714.9 87.6 L715.5 87.1 L716.1 86.8 L716.7 86.8 L717.3 86.4 L717.9 85.6 L718.5 85.3 L719.1 85.1 L719.7 84.7 L720.3 84.2 L720.9 83.6 L721.5 82.6 L722.1 82.3 L722.7 81.9 L723.3 80.4 L723.9 79.8 L724.5 79.7 L725.1 78 L725.7 77.5 L726.3 76.3 L726.9 75.5 L727.5 74.2 L728.1 73.3 L728.7 72.2 L729.3 72.4 L729.9 70.4 L730.5 69.7 L731.1 68.3 L731.7 68 L732.3 66 L732.9 65.9 L733.5 65.9 L734.1 65.2 L734.7 64.8 L735.3 63.3 L735.9 64.3 L736.5 63.2 L737.1 64 L737.7 63.1 L738.3 63.1 L738.9 63 L739.5 62.1 L740.1 64.4 L740.7 62.2 L741.3 63.8 L741.9 64.2 L742.5 64.7 L743.1 65.1 L743.7 67.2 L744.3 68 L744.9 67.9 L745.5 70.9 L746.1 70.9 L746.7 72 L747.3 74.2 L747.9 74.4 L748.5 75.4 L749.1 76.2 L749.7 78.1 L750.3 78.4 L750.9 80 L751.5 81 L752.1 81.6 L752.7 83.1 L753.3 83.4 L753.9 84.3 L754.5 85.1 L755.1 85.5 L755.7 86.3 L756.3 86.8 L756.9 87.3 L757.5 87.6 L758.1 88.2 L758.7 88.4 L759.3 88.8 L759.9 89 L760.5 89.2 L761.1 89.5 L761.7 89.6 L762.3 89.8 L762.9 89.9 L763.5 90 L764.1 90.1 L764.7 90.2 L765.3 90.3 L765.9 90.3 L766.5 90.4 L767.1 90.4 L767.7 90.4 L768.3 90.5 L768.9 90.5 L769.5 90.5 L770.1 90.5 L770.7 90.5 L771.3 90.6 L771.9 90.6 L772.5 90.6 L773.1 90.6 L773.7 90.6 L774.3 90.6 L774.9 90.6 L775.5 90.6 L776.1 90.6 L776.7 90.6 L777.3 90.6 L777.9 90.6 L778.5 90.6 L779.1 90.6 L779.7 90.6 L780.3 90.6 L780.9 90.6 L781.5 90.6 L782.1 90.6 L782.7 90.6 L783.3 90.6 L783.9 90.6 L783.9 90.6 Z" fill="#e4e4e4" />
<line x1="626.1" y1="90.2" x2="783.9" y2="90.2" stroke="#e8e8e8" stroke-width="1.0" />
<path d="M626.1 135 L626.1 134.4 L626.7 134.4 L627.3 134.4 L627.9 134.4 L628.5 134.5 L629.1 134.5 L629.7 134.5 L630.3 134.5 L630.9 134.5 L631.5 134.5 L632.1 134.6 L632.7 134.6 L633.3 134.6 L633.9 134.6 L634.5 134.6 L635.1 134.6 L635.7 134.7 L636.3 134.7 L636.9 134.7 L637.5 134.7 L638.1 134.7 L638.7 134.7 L639.3 134.7 L639.9 134.7 L640.5 134.7 L641.1 134.7 L641.7 134.8 L642.3 134.8 L642.9 134.8 L643.5 134.8 L644.1 134.8 L644.7 134.8 L645.3 134.7 L645.9 134.8 L646.5 134.7 L647.1 134.7 L647.7 134.7 L648.3 134.7 L648.9 134.7 L649.5 134.6 L650.1 134.6 L650.7 134.6 L651.3 134.5 L651.9 134.5 L652.5 134.4 L653.1 134.3 L653.7 134.3 L654.3 134.2 L654.9 134.1 L655.5 134 L656.1 133.9 L656.7 133.9 L657.3 133.8 L657.9 133.7 L658.5 133.5 L659.1 133.4 L659.7 133.2 L660.3 133.2 L660.9 132.9 L661.5 133 L662.1 132.9 L662.7 132.6 L663.3 132.6 L663.9 132.4 L664.5 132.4 L665.1 132.4 L665.7 132.1 L666.3 132.1 L666.9 132 L667.5 132 L668.1 132.1 L668.7 132 L669.3 131.9 L669.9 132 L670.5 131.9 L671.1 132.1 L671.7 132 L672.3 132.1 L672.9 132.4 L673.5 132.5 L674.1 132.4 L674.7 132.4 L675.3 132.7 L675.9 132.8 L676.5 132.8 L677.1 133 L677.7 133 L678.3 133.2 L678.9 133.4 L679.5 133.5 L680.1 133.6 L680.7 133.7 L681.3 133.8 L681.9 133.9 L682.5 134 L683.1 134.1 L683.7 134.2 L684.3 134.3 L684.9 134.4 L685.5 134.4 L686.1 134.5 L686.7 134.5 L687.3 134.6 L687.9 134.6 L688.5 134.7 L689.1 134.7 L689.7 134.7 L690.3 134.8 L690.9 134.8 L691.5 134.8 L692.1 134.8 L692.7 134.8 L693.3 134.8 L693.9 134.8 L694.5 134.8 L695.1 134.8 L695.7 134.8 L696.3 134.8 L696.9 134.8 L697.5 134.8 L698.1 134.7 L698.7 134.7 L699.3 134.7 L699.9 134.7 L700.5 134.6 L701.1 134.6 L701.7 134.5 L702.3 134.4 L702.9 134.4 L703.5 134.3 L704.1 134.2 L704.7 134.1 L705.3 134 L705.9 134 L706.5 133.9 L707.1 133.7 L707.7 133.6 L708.3 133.5 L708.9 133.3 L709.5 133.2 L710.1 133.1 L710.7 132.8 L711.3 132.5 L711.9 132.5 L712.5 132.1 L713.1 131.8 L713.7 131.7 L714.3 131.3 L714.9 131 L715.5 130.7 L716.1 130.5 L716.7 130.1 L717.3 129.4 L717.9 128.9 L718.5 128.6 L719.1 128.3 L719.7 127.3 L720.3 126.7 L720.9 126.5 L721.5 125.5 L722.1 124.5 L722.7 123.7 L723.3 123.3 L723.9 122.5 L724.5 121.5 L725.1 121.1 L725.7 120.2 L726.3 119.3 L726.9 117.5 L727.5 117.1 L728.1 115.7 L728.7 115 L729.3 113.8 L729.9 113.6 L730.5 112.9 L731.1 109.8 L731.7 110.4 L732.3 110.3 L732.9 108.2 L733.5 107.1 L734.1 108.2 L734.7 106.7 L735.3 107.4 L735.9 106.9 L736.5 108.3 L737.1 108.3 L737.7 105.6 L738.3 105.9 L738.9 107 L739.5 106.8 L740.1 108 L740.7 107.2 L741.3 108.9 L741.9 108.3 L742.5 109.7 L743.1 110.5 L743.7 111.3 L744.3 113.9 L744.9 115.4 L745.5 116.2 L746.1 117.3 L746.7 118.6 L747.3 119.8 L747.9 120.1 L748.5 120.8 L749.1 122.4 L749.7 122.9 L750.3 124 L750.9 125.8 L751.5 126.2 L752.1 127.2 L752.7 128.2 L753.3 128.4 L753.9 129.5 L754.5 130 L755.1 130.5 L755.7 130.9 L756.3 131.5 L756.9 132.1 L757.5 132.4 L758.1 132.8 L758.7 133 L759.3 133.3 L759.9 133.6 L760.5 133.8 L761.1 134 L761.7 134.1 L762.3 134.2 L762.9 134.4 L763.5 134.5 L764.1 134.6 L764.7 134.6 L765.3 134.7 L765.9 134.7 L766.5 134.8 L767.1 134.8 L767.7 134.9 L768.3 134.9 L768.9 134.9 L769.5 134.9 L770.1 134.9 L770.7 134.9 L771.3 135 L771.9 135 L772.5 135 L773.1 135 L773.7 135 L774.3 135 L774.9 135 L775.5 135 L776.1 135 L776.7 135 L777.3 135 L777.9 135 L778.5 135 L779.1 135 L779.7 135 L780.3 135 L780.9 135 L781.5 135 L782.1 135 L782.7 135 L783.3 135 L783.9 135 L783.9 135 Z" fill="#9a9a9a" />
<line x1="626.1" y1="134.6" x2="783.9" y2="134.6" stroke="#d8d8d8" stroke-width="1.0" />
<path d="M626.1 179.3 L626.1 178.6 L626.7 178.6 L627.3 178.6 L627.9 178.6 L628.5 178.7 L629.1 178.6 L629.7 178.7 L630.3 178.7 L630.9 178.7 L631.5 178.8 L632.1 178.7 L632.7 178.8 L633.3 178.8 L633.9 178.8 L634.5 178.8 L635.1 178.8 L635.7 178.9 L636.3 178.9 L636.9 178.9 L637.5 178.9 L638.1 178.9 L638.7 178.9 L639.3 178.9 L639.9 178.9 L640.5 179 L641.1 179 L641.7 179 L642.3 179 L642.9 179 L643.5 179 L644.1 179 L644.7 179 L645.3 179 L645.9 179 L646.5 179 L647.1 179 L647.7 179 L648.3 179 L648.9 179 L649.5 179 L650.1 179 L650.7 178.9 L651.3 178.9 L651.9 178.9 L652.5 178.8 L653.1 178.8 L653.7 178.7 L654.3 178.7 L654.9 178.6 L655.5 178.6 L656.1 178.5 L656.7 178.4 L657.3 178.4 L657.9 178.3 L658.5 178.1 L659.1 178 L659.7 178 L660.3 178 L660.9 177.9 L661.5 177.7 L662.1 177.7 L662.7 177.5 L663.3 177.5 L663.9 177.3 L664.5 177.5 L665.1 177.2 L665.7 177.3 L666.3 177.3 L666.9 177.3 L667.5 177.1 L668.1 177.1 L668.7 177.2 L669.3 177.1 L669.9 177 L670.5 177.2 L671.1 177.1 L671.7 177.3 L672.3 177.3 L672.9 177.2 L673.5 177.3 L674.1 177.5 L674.7 177.6 L675.3 177.6 L675.9 177.6 L676.5 177.7 L677.1 177.9 L677.7 177.9 L678.3 178 L678.9 178.1 L679.5 178.1 L680.1 178.2 L680.7 178.4 L681.3 178.5 L681.9 178.5 L682.5 178.6 L683.1 178.6 L683.7 178.7 L684.3 178.8 L684.9 178.8 L685.5 178.9 L686.1 178.9 L686.7 179 L687.3 179 L687.9 179 L688.5 179.1 L689.1 179.1 L689.7 179.1 L690.3 179.2 L690.9 179.2 L691.5 179.2 L692.1 179.2 L692.7 179.2 L693.3 179.2 L693.9 179.3 L694.5 179.3 L695.1 179.3 L695.7 179.3 L696.3 179.3 L696.9 179.3 L697.5 179.3 L698.1 179.3 L698.7 179.3 L699.3 179.3 L699.9 179.3 L700.5 179.3 L701.1 179.3 L701.7 179.3 L702.3 179.3 L702.9 179.3 L703.5 179.3 L704.1 179.3 L704.7 179.3 L705.3 179.3 L705.9 179.3 L706.5 179.2 L707.1 179.2 L707.7 179.2 L708.3 179.2 L708.9 179.2 L709.5 179.2 L710.1 179.1 L710.7 179.1 L711.3 179.1 L711.9 179.1 L712.5 179 L713.1 179 L713.7 178.9 L714.3 178.9 L714.9 178.8 L715.5 178.8 L716.1 178.6 L716.7 178.6 L717.3 178.5 L717.9 178.3 L718.5 178.2 L719.1 178.1 L719.7 177.9 L720.3 177.8 L720.9 177.5 L721.5 177.4 L722.1 177.3 L722.7 177 L723.3 176.7 L723.9 176.4 L724.5 176.2 L725.1 175.9 L725.7 175.5 L726.3 175.2 L726.9 174.6 L727.5 174 L728.1 173.8 L728.7 173.1 L729.3 172.3 L729.9 172.1 L730.5 170.9 L731.1 170 L731.7 169.7 L732.3 168.7 L732.9 167.3 L733.5 166.6 L734.1 165.7 L734.7 163.7 L735.3 162.6 L735.9 162 L736.5 160.9 L737.1 159.2 L737.7 157.5 L738.3 154.7 L738.9 153.4 L739.5 151.4 L740.1 150 L740.7 148.2 L741.3 149 L741.9 146 L742.5 142.9 L743.1 141.5 L743.7 142.7 L744.3 140.9 L744.9 139 L745.5 139.2 L746.1 138.4 L746.7 140.3 L747.3 138.8 L747.9 138.5 L748.5 140.5 L749.1 140 L749.7 136.6 L750.3 137.6 L750.9 137.9 L751.5 140.2 L752.1 140.9 L752.7 142.1 L753.3 143.7 L753.9 148.2 L754.5 148.1 L755.1 151 L755.7 151.7 L756.3 154.6 L756.9 155.9 L757.5 156.9 L758.1 159.4 L758.7 161.8 L759.3 163 L759.9 164.8 L760.5 165.6 L761.1 167.9 L761.7 169.2 L762.3 170 L762.9 171.6 L763.5 172.3 L764.1 173 L764.7 174.1 L765.3 174.9 L765.9 175.5 L766.5 176 L767.1 176.6 L767.7 177.1 L768.3 177.4 L768.9 177.7 L769.5 178 L770.1 178.2 L770.7 178.4 L771.3 178.6 L771.9 178.7 L772.5 178.8 L773.1 178.9 L773.7 179 L774.3 179 L774.9 179.1 L775.5 179.1 L776.1 179.2 L776.7 179.2 L777.3 179.2 L777.9 179.2 L778.5 179.2 L779.1 179.3 L779.7 179.3 L780.3 179.3 L780.9 179.3 L781.5 179.3 L782.1 179.3 L782.7 179.3 L783.3 179.3 L783.9 179.3 L783.9 179.3 Z" fill="#0a57b0" />
<line x1="626.1" y1="178.9" x2="783.9" y2="178.9" stroke="#9ab8e0" stroke-width="1.0" />
<path d="M626.1 223.5 L626.1 222.7 L626.7 222.8 L627.3 222.8 L627.9 222.8 L628.5 222.9 L629.1 222.9 L629.7 222.9 L630.3 222.9 L630.9 222.9 L631.5 222.9 L632.1 222.9 L632.7 223 L633.3 223 L633.9 223 L634.5 223 L635.1 223.1 L635.7 223.1 L636.3 223.1 L636.9 223.1 L637.5 223.1 L638.1 223.1 L638.7 223.1 L639.3 223.1 L639.9 223.2 L640.5 223.2 L641.1 223.2 L641.7 223.2 L642.3 223.2 L642.9 223.2 L643.5 223.2 L644.1 223.2 L644.7 223.2 L645.3 223.2 L645.9 223.2 L646.5 223.2 L647.1 223.2 L647.7 223.1 L648.3 223.1 L648.9 223.1 L649.5 223 L650.1 223 L650.7 223 L651.3 222.9 L651.9 222.8 L652.5 222.7 L653.1 222.7 L653.7 222.6 L654.3 222.5 L654.9 222.4 L655.5 222.3 L656.1 222.2 L656.7 222.1 L657.3 222 L657.9 221.8 L658.5 221.7 L659.1 221.6 L659.7 221.4 L660.3 221.3 L660.9 221.2 L661.5 220.9 L662.1 220.7 L662.7 220.7 L663.3 220.6 L663.9 220.5 L664.5 220.4 L665.1 220.3 L665.7 220.1 L666.3 220 L666.9 220.1 L667.5 219.8 L668.1 220 L668.7 219.8 L669.3 219.8 L669.9 219.7 L670.5 220 L671.1 220 L671.7 219.9 L672.3 220.3 L672.9 220.4 L673.5 220.3 L674.1 220.4 L674.7 220.4 L675.3 220.6 L675.9 220.8 L676.5 220.8 L677.1 221.1 L677.7 221.2 L678.3 221.3 L678.9 221.5 L679.5 221.7 L680.1 221.8 L680.7 222 L681.3 222 L681.9 222.2 L682.5 222.3 L683.1 222.5 L683.7 222.5 L684.3 222.6 L684.9 222.7 L685.5 222.8 L686.1 222.9 L686.7 222.9 L687.3 223 L687.9 223.1 L688.5 223.1 L689.1 223.2 L689.7 223.2 L690.3 223.2 L690.9 223.3 L691.5 223.3 L692.1 223.3 L692.7 223.3 L693.3 223.3 L693.9 223.4 L694.5 223.4 L695.1 223.3 L695.7 223.3 L696.3 223.3 L696.9 223.3 L697.5 223.3 L698.1 223.3 L698.7 223.3 L699.3 223.2 L699.9 223.2 L700.5 223.2 L701.1 223.1 L701.7 223.1 L702.3 223 L702.9 223 L703.5 222.9 L704.1 222.8 L704.7 222.7 L705.3 222.7 L705.9 222.6 L706.5 222.4 L707.1 222.3 L707.7 222.2 L708.3 222.1 L708.9 221.9 L709.5 221.7 L710.1 221.5 L710.7 221.3 L711.3 221.2 L711.9 220.9 L712.5 220.6 L713.1 220.5 L713.7 220 L714.3 219.8 L714.9 219.2 L715.5 219 L716.1 218.7 L716.7 218.4 L717.3 218 L717.9 217.1 L718.5 217 L719.1 216.4 L719.7 215.8 L720.3 214.8 L720.9 213.8 L721.5 213.2 L722.1 212.1 L722.7 212.1 L723.3 211.3 L723.9 209.4 L724.5 209 L725.1 207.3 L725.7 206.8 L726.3 206.1 L726.9 204.8 L727.5 204 L728.1 201.2 L728.7 200.7 L729.3 200.2 L729.9 198.9 L730.5 198 L731.1 197.9 L731.7 194.7 L732.3 194.7 L732.9 192.9 L733.5 193.8 L734.1 193 L734.7 194.2 L735.3 194.8 L735.9 192.1 L736.5 192.3 L737.1 194 L737.7 192.2 L738.3 192.5 L738.9 194.3 L739.5 194.1 L740.1 193.9 L740.7 196.2 L741.3 196 L741.9 198.9 L742.5 199.7 L743.1 200.1 L743.7 202.5 L744.3 203.6 L744.9 203.8 L745.5 205.8 L746.1 206.6 L746.7 208.7 L747.3 210.1 L747.9 211 L748.5 212.3 L749.1 212.6 L749.7 214.3 L750.3 215 L750.9 216.3 L751.5 216.8 L752.1 217.7 L752.7 218.3 L753.3 219.1 L753.9 219.7 L754.5 219.9 L755.1 220.6 L755.7 221 L756.3 221.4 L756.9 221.7 L757.5 221.9 L758.1 222.2 L758.7 222.3 L759.3 222.6 L759.9 222.7 L760.5 222.8 L761.1 223 L761.7 223.1 L762.3 223.1 L762.9 223.2 L763.5 223.2 L764.1 223.3 L764.7 223.3 L765.3 223.4 L765.9 223.4 L766.5 223.4 L767.1 223.4 L767.7 223.4 L768.3 223.5 L768.9 223.5 L769.5 223.5 L770.1 223.5 L770.7 223.5 L771.3 223.5 L771.9 223.5 L772.5 223.5 L773.1 223.5 L773.7 223.5 L774.3 223.5 L774.9 223.5 L775.5 223.5 L776.1 223.5 L776.7 223.5 L777.3 223.5 L777.9 223.5 L778.5 223.5 L779.1 223.5 L779.7 223.5 L780.3 223.5 L780.9 223.5 L781.5 223.5 L782.1 223.5 L782.7 223.5 L783.3 223.5 L783.9 223.5 L783.9 223.5 Z" fill="#3b7f00" />
<line x1="626.1" y1="223.1" x2="783.9" y2="223.1" stroke="#3b7f00" stroke-width="1.0" />
<rect x="625.9" y="47.2" width="158.2" height="176.3" fill="none" stroke="#000" stroke-width="1.6" />
<text x="626.9" y="59.7" font-size="15" fill="#cfcfcf" textLength="34.4" lengthAdjust="spacingAndGlyphs" stroke="#cfcfcf" stroke-width="0.33" >mock</text>
<text x="626.9" y="106.8" font-size="15" fill="#ababab" textLength="54.4" lengthAdjust="spacingAndGlyphs" stroke="#ababab" stroke-width="0.33" >PltB<tspan font-size="0.75em" dy="-0.5em">S35A</tspan></text>
<text x="626.9" y="149.2" font-size="15" fill="#1a5fb4" textLength="24" lengthAdjust="spacingAndGlyphs" stroke="#1a5fb4" stroke-width="0.33" >WT</text>
<text x="626.9" y="195.4" font-size="15" fill="#3e9000" textLength="68.7" lengthAdjust="spacingAndGlyphs" stroke="#3e9000" stroke-width="0.33" >CdtB<tspan font-size="0.75em" dy="-0.5em">H160Q</tspan></text>
<text x="668.5" y="38.9" font-size="30" textLength="68.5" lengthAdjust="spacingAndGlyphs" stroke="#000" stroke-width="0.6" >16 hr</text>
<text x="619.1" y="136.5" font-size="21" text-anchor="middle" font-weight="bold" textLength="59.5" lengthAdjust="spacingAndGlyphs" transform="rotate(-90 619.1 136.5)" >Count</text>
<line x1="625.4" y1="223.5" x2="625.4" y2="228" stroke="#000" stroke-width="1.6" />
<text x="625.9" y="240" font-size="11.5" text-anchor="middle" font-weight="bold" >0</text>
<line x1="665" y1="223.5" x2="665" y2="228" stroke="#000" stroke-width="1.6" />
<text x="664" y="240" font-size="11.5" text-anchor="middle" font-weight="bold" >10</text>
<text x="671" y="234.5" font-size="6.5" text-anchor="middle" font-weight="bold" >1</text>
<line x1="704.6" y1="223.5" x2="704.6" y2="228" stroke="#000" stroke-width="1.6" />
<text x="703.6" y="240" font-size="11.5" text-anchor="middle" font-weight="bold" >10</text>
<text x="710.6" y="234.5" font-size="6.5" text-anchor="middle" font-weight="bold" >2</text>
<line x1="744.2" y1="223.5" x2="744.2" y2="228" stroke="#000" stroke-width="1.6" />
<text x="743.2" y="240" font-size="11.5" text-anchor="middle" font-weight="bold" >10</text>
<text x="750.2" y="234.5" font-size="6.5" text-anchor="middle" font-weight="bold" >3</text>
<line x1="783.8" y1="223.5" x2="783.8" y2="228" stroke="#000" stroke-width="1.6" />
<text x="782.8" y="240" font-size="11.5" text-anchor="middle" font-weight="bold" >10</text>
<text x="789.8" y="234.5" font-size="6.5" text-anchor="middle" font-weight="bold" >4</text>
<text x="703.4" y="261.5" font-size="20" text-anchor="middle" textLength="175.5" lengthAdjust="spacingAndGlyphs" stroke="#000" stroke-width="0.6">CM-H<tspan font-size="14" dy="5">2</tspan><tspan dy="-5">DCFDA (FL-1)</tspan></text>
<rect x="126.9" y="404.4" width="26.6" height="117.4" fill="#e4e4e4" stroke="#000" stroke-width="2.7" />
<rect x="171.5" y="385.6" width="25.6" height="136.2" fill="#a8a8a8" stroke="#000" stroke-width="2.7" />
<rect x="215" y="388.7" width="25.6" height="133.1" fill="#025497" stroke="#000" stroke-width="2.7" />
<rect x="258.9" y="390.9" width="25.6" height="130.9" fill="#4f8c00" stroke="#000" stroke-width="2.7" />
<line x1="140.2" y1="382.2" x2="140.2" y2="425" stroke="#000" stroke-width="2.7" />
<line x1="133.7" y1="382.2" x2="146.7" y2="382.2" stroke="#000" stroke-width="2.7" />
<line x1="133.7" y1="425" x2="146.7" y2="425" stroke="#000" stroke-width="2.7" />
<line x1="184.3" y1="367.5" x2="184.3" y2="401.4" stroke="#000" stroke-width="2.7" />
<line x1="177.8" y1="367.5" x2="190.8" y2="367.5" stroke="#000" stroke-width="2.7" />
<line x1="177.8" y1="401.4" x2="190.8" y2="401.4" stroke="#000" stroke-width="2.7" />
<line x1="227.8" y1="372.9" x2="227.8" y2="402.9" stroke="#000" stroke-width="2.7" />
<line x1="221.3" y1="372.9" x2="234.3" y2="372.9" stroke="#000" stroke-width="2.7" />
<line x1="221.3" y1="402.9" x2="234.3" y2="402.9" stroke="#000" stroke-width="2.7" />
<line x1="271.6" y1="375.8" x2="271.6" y2="403.7" stroke="#000" stroke-width="2.7" />
<line x1="265.1" y1="375.8" x2="278.1" y2="375.8" stroke="#000" stroke-width="2.7" />
<line x1="265.1" y1="403.7" x2="278.1" y2="403.7" stroke="#000" stroke-width="2.7" />
<circle cx="134.9" cy="387.3" r="4.3" fill="#000"/>
<circle cx="145.9" cy="384.7" r="4.3" fill="#000"/>
<circle cx="140.3" cy="411.5" r="4.3" fill="#000"/>
<circle cx="140.3" cy="429.7" r="4.3" fill="#000"/>
<circle cx="173" cy="372.9" r="4.3" fill="#000"/>
<circle cx="184.1" cy="377.1" r="4.3" fill="#000"/>
<circle cx="195.9" cy="375.9" r="4.3" fill="#000"/>
<circle cx="184.1" cy="409.3" r="4.3" fill="#000"/>
<circle cx="223" cy="380.5" r="4.3" fill="#000"/>
<circle cx="228.1" cy="374.6" r="4.3" fill="#000"/>
<circle cx="233.2" cy="384.2" r="4.3" fill="#000"/>
<circle cx="227.8" cy="409.3" r="4.3" fill="#000"/>
<circle cx="271.4" cy="370.8" r="4.3" fill="#000"/>
<circle cx="271.4" cy="388.1" r="4.3" fill="#000"/>
<circle cx="271.4" cy="392.4" r="4.3" fill="#000"/>
<circle cx="271.4" cy="405.9" r="4.3" fill="#000"/>
<line x1="111.2" y1="522.4" x2="111.2" y2="333.5" stroke="#000" stroke-width="2.4" />
<line x1="104.7" y1="521.2" x2="300" y2="521.2" stroke="#000" stroke-width="2.4" />
<line x1="104.7" y1="521.2" x2="111.2" y2="521.2" stroke="#000" stroke-width="2.4" />
<text x="102.5" y="527.8" font-size="18.5" text-anchor="end" stroke="#000" stroke-width="0.41" >0</text>
<line x1="104.7" y1="483.7" x2="111.2" y2="483.7" stroke="#000" stroke-width="2.4" />
<text x="102.5" y="490.3" font-size="18.5" text-anchor="end" textLength="28" lengthAdjust="spacingAndGlyphs" stroke="#000" stroke-width="0.41" >100</text>
<line x1="104.7" y1="446.2" x2="111.2" y2="446.2" stroke="#000" stroke-width="2.4" />
<text x="102.5" y="452.8" font-size="18.5" text-anchor="end" textLength="28" lengthAdjust="spacingAndGlyphs" stroke="#000" stroke-width="0.41" >200</text>
<line x1="104.7" y1="408.7" x2="111.2" y2="408.7" stroke="#000" stroke-width="2.4" />
<text x="102.5" y="415.3" font-size="18.5" text-anchor="end" textLength="28" lengthAdjust="spacingAndGlyphs" stroke="#000" stroke-width="0.41" >300</text>
<line x1="104.7" y1="371.2" x2="111.2" y2="371.2" stroke="#000" stroke-width="2.4" />
<text x="102.5" y="377.8" font-size="18.5" text-anchor="end" textLength="28" lengthAdjust="spacingAndGlyphs" stroke="#000" stroke-width="0.41" >400</text>
<line x1="104.7" y1="333.7" x2="111.2" y2="333.7" stroke="#000" stroke-width="2.4" />
<text x="102.5" y="340.3" font-size="18.5" text-anchor="end" textLength="28" lengthAdjust="spacingAndGlyphs" stroke="#000" stroke-width="0.41" >500</text>
<line x1="140.2" y1="521.2" x2="140.2" y2="527.7" stroke="#000" stroke-width="2.4" />
<line x1="184.3" y1="521.2" x2="184.3" y2="527.7" stroke="#000" stroke-width="2.4" />
<line x1="227.8" y1="521.2" x2="227.8" y2="527.7" stroke="#000" stroke-width="2.4" />
<line x1="271.6" y1="521.2" x2="271.6" y2="527.7" stroke="#000" stroke-width="2.4" />
<line x1="139" y1="331.4" x2="226.4" y2="331.4" stroke="#000" stroke-width="2.2" />
<text x="183.3" y="327" font-size="17" text-anchor="middle" stroke="#000" stroke-width="0.37" >ns</text>
<line x1="182" y1="339" x2="226.4" y2="339" stroke="#000" stroke-width="2.2" />
<line x1="228.5" y1="331.4" x2="271.4" y2="331.4" stroke="#000" stroke-width="2.2" />
<text x="249.3" y="327" font-size="17" text-anchor="middle" stroke="#000" stroke-width="0.37" >ns</text>
<text x="152.2" y="541.5" font-size="24" text-anchor="end" transform="rotate(-45 152.2 541.5)" stroke="#000" stroke-width="0.53" >mock</text>
<text x="196.3" y="541.5" font-size="24" text-anchor="end" transform="rotate(-45 196.3 541.5)" stroke="#000" stroke-width="0.53" >PltB<tspan font-size="0.78em" dy="-0.28em">S35A</tspan></text>
<text x="239.8" y="541.5" font-size="24" text-anchor="end" transform="rotate(-45 239.8 541.5)" stroke="#000" stroke-width="0.53" >WT</text>
<text x="283.6" y="541.5" font-size="24" text-anchor="end" transform="rotate(-45 283.6 541.5)" stroke="#000" stroke-width="0.53" >CdtB<tspan font-size="0.78em" dy="-0.28em">H160Q</tspan></text>
<text x="65" y="417" font-size="19" text-anchor="middle" textLength="122" lengthAdjust="spacingAndGlyphs" transform="rotate(-90 65 417)" stroke="#000" stroke-width="0.42" >CellROX (MFI)</text>
<rect x="379.2" y="442.4" width="25.6" height="77.9" fill="#e4e4e4" stroke="#000" stroke-width="2.7" />
<rect x="422.8" y="407.7" width="25.7" height="112.6" fill="#a8a8a8" stroke="#000" stroke-width="2.7" />
<rect x="466.8" y="365.4" width="25.3" height="154.9" fill="#025497" stroke="#000" stroke-width="2.7" />
<rect x="510" y="403.1" width="25.7" height="117.2" fill="#4f8c00" stroke="#000" stroke-width="2.7" />
<line x1="392" y1="427" x2="392" y2="455" stroke="#000" stroke-width="2.7" />
<line x1="385.5" y1="427" x2="398.5" y2="427" stroke="#000" stroke-width="2.7" />
<line x1="385.5" y1="455" x2="398.5" y2="455" stroke="#000" stroke-width="2.7" />
<line x1="435.6" y1="389.5" x2="435.6" y2="421.7" stroke="#000" stroke-width="2.7" />
<line x1="429.1" y1="389.5" x2="442.1" y2="389.5" stroke="#000" stroke-width="2.7" />
<line x1="429.1" y1="421.7" x2="442.1" y2="421.7" stroke="#000" stroke-width="2.7" />
<line x1="479.4" y1="351.7" x2="479.4" y2="376.8" stroke="#000" stroke-width="2.7" />
<line x1="472.9" y1="351.7" x2="485.9" y2="351.7" stroke="#000" stroke-width="2.7" />
<line x1="472.9" y1="376.8" x2="485.9" y2="376.8" stroke="#000" stroke-width="2.7" />
<line x1="522.8" y1="389.5" x2="522.8" y2="415.3" stroke="#000" stroke-width="2.7" />
<line x1="516.3" y1="389.5" x2="529.3" y2="389.5" stroke="#000" stroke-width="2.7" />
<line x1="516.3" y1="415.3" x2="529.3" y2="415.3" stroke="#000" stroke-width="2.7" />
<circle cx="385.8" cy="431.9" r="4.3" fill="#000"/>
<circle cx="397.1" cy="434.7" r="4.3" fill="#000"/>
<circle cx="391.7" cy="457.6" r="4.3" fill="#000"/>
<circle cx="435.4" cy="392.4" r="4.3" fill="#000"/>
<circle cx="435.4" cy="401.4" r="4.3" fill="#000"/>
<circle cx="435.4" cy="423.7" r="4.3" fill="#000"/>
<circle cx="473.9" cy="356" r="4.3" fill="#000"/>
<circle cx="484.6" cy="358" r="4.3" fill="#000"/>
<circle cx="479" cy="378.3" r="4.3" fill="#000"/>
<circle cx="523.6" cy="386.4" r="4.3" fill="#000"/>
<circle cx="518" cy="411" r="4.3" fill="#000"/>
<circle cx="528.1" cy="408.5" r="4.3" fill="#000"/>
<line x1="363.2" y1="521" x2="363.2" y2="332.8" stroke="#000" stroke-width="2.4" />
<line x1="356.7" y1="519.8" x2="550" y2="519.8" stroke="#000" stroke-width="2.4" />
<line x1="356.7" y1="519.8" x2="363.2" y2="519.8" stroke="#000" stroke-width="2.4" />
<text x="352" y="526.4" font-size="18.5" text-anchor="end" stroke="#000" stroke-width="0.41" >0</text>
<line x1="356.7" y1="457.5" x2="363.2" y2="457.5" stroke="#000" stroke-width="2.4" />
<text x="352" y="464.1" font-size="18.5" text-anchor="end" textLength="28" lengthAdjust="spacingAndGlyphs" stroke="#000" stroke-width="0.41" >200</text>
<line x1="356.7" y1="395.3" x2="363.2" y2="395.3" stroke="#000" stroke-width="2.4" />
<text x="352" y="401.9" font-size="18.5" text-anchor="end" textLength="28" lengthAdjust="spacingAndGlyphs" stroke="#000" stroke-width="0.41" >400</text>
<line x1="356.7" y1="333" x2="363.2" y2="333" stroke="#000" stroke-width="2.4" />
<text x="352" y="339.6" font-size="18.5" text-anchor="end" textLength="28" lengthAdjust="spacingAndGlyphs" stroke="#000" stroke-width="0.41" >600</text>
<line x1="392" y1="519.8" x2="392" y2="526.3" stroke="#000" stroke-width="2.4" />
<line x1="435.6" y1="519.8" x2="435.6" y2="526.3" stroke="#000" stroke-width="2.4" />
<line x1="479.4" y1="519.8" x2="479.4" y2="526.3" stroke="#000" stroke-width="2.4" />
<line x1="522.8" y1="519.8" x2="522.8" y2="526.3" stroke="#000" stroke-width="2.4" />
<line x1="390" y1="320" x2="477.3" y2="320" stroke="#000" stroke-width="2.2" />
<text x="436.5" y="324.1" font-size="17" text-anchor="middle" font-weight="bold" >**</text>
<line x1="433.7" y1="333.9" x2="477.3" y2="333.9" stroke="#000" stroke-width="2.2" />
<text x="455.3" y="338" font-size="17" text-anchor="middle" font-weight="bold" >*</text>
<line x1="479.5" y1="319.5" x2="523.6" y2="319.5" stroke="#000" stroke-width="2.2" />
<text x="501.8" y="323.6" font-size="17" text-anchor="middle" font-weight="bold" >*</text>
<text x="404" y="541.5" font-size="24" text-anchor="end" transform="rotate(-45 404 541.5)" stroke="#000" stroke-width="0.53" >mock</text>
<text x="447.6" y="541.5" font-size="24" text-anchor="end" transform="rotate(-45 447.6 541.5)" stroke="#000" stroke-width="0.53" >PltB<tspan font-size="0.78em" dy="-0.28em">S35A</tspan></text>
<text x="491.4" y="541.5" font-size="24" text-anchor="end" transform="rotate(-45 491.4 541.5)" stroke="#000" stroke-width="0.53" >WT</text>
<text x="534.8" y="541.5" font-size="24" text-anchor="end" transform="rotate(-45 534.8 541.5)" stroke="#000" stroke-width="0.53" >CdtB<tspan font-size="0.78em" dy="-0.28em">H160Q</tspan></text>
<text x="317" y="417" font-size="19" text-anchor="middle" textLength="122" lengthAdjust="spacingAndGlyphs" transform="rotate(-90 317 417)" stroke="#000" stroke-width="0.42" >CellROX (MFI)</text>
<rect x="630.4" y="446.8" width="25.6" height="72.4" fill="#e4e4e4" stroke="#000" stroke-width="2.7" />
<rect x="673.9" y="438.7" width="25.5" height="80.5" fill="#a8a8a8" stroke="#000" stroke-width="2.7" />
<rect x="717.6" y="376.8" width="25.2" height="142.4" fill="#025497" stroke="#000" stroke-width="2.7" />
<rect x="761.1" y="432.8" width="25.5" height="86.4" fill="#4f8c00" stroke="#000" stroke-width="2.7" />
<line x1="643" y1="412.2" x2="643" y2="479.2" stroke="#000" stroke-width="2.7" />
<line x1="636.5" y1="412.2" x2="649.5" y2="412.2" stroke="#000" stroke-width="2.7" />
<line x1="636.5" y1="479.2" x2="649.5" y2="479.2" stroke="#000" stroke-width="2.7" />
<line x1="686.6" y1="428.3" x2="686.6" y2="446.1" stroke="#000" stroke-width="2.7" />
<line x1="680.1" y1="428.3" x2="693.1" y2="428.3" stroke="#000" stroke-width="2.7" />
<line x1="680.1" y1="446.1" x2="693.1" y2="446.1" stroke="#000" stroke-width="2.7" />
<line x1="730.3" y1="352.2" x2="730.3" y2="399.2" stroke="#000" stroke-width="2.7" />
<line x1="723.8" y1="352.2" x2="736.8" y2="352.2" stroke="#000" stroke-width="2.7" />
<line x1="723.8" y1="399.2" x2="736.8" y2="399.2" stroke="#000" stroke-width="2.7" />
<line x1="774" y1="422.4" x2="774" y2="440.7" stroke="#000" stroke-width="2.7" />
<line x1="767.5" y1="422.4" x2="780.5" y2="422.4" stroke="#000" stroke-width="2.7" />
<line x1="767.5" y1="440.7" x2="780.5" y2="440.7" stroke="#000" stroke-width="2.7" />
<circle cx="642.5" cy="413.2" r="4.3" fill="#000"/>
<circle cx="642.5" cy="435.6" r="4.3" fill="#000"/>
<circle cx="642.5" cy="440.7" r="4.3" fill="#000"/>
<circle cx="642.5" cy="492.4" r="4.3" fill="#000"/>
<circle cx="686.6" cy="425" r="4.3" fill="#000"/>
<circle cx="686.6" cy="433" r="4.3" fill="#000"/>
<circle cx="692.2" cy="441.5" r="4.3" fill="#000"/>
<circle cx="681" cy="446.6" r="4.3" fill="#000"/>
<circle cx="730.7" cy="342" r="4.3" fill="#000"/>
<circle cx="724.7" cy="377.5" r="4.3" fill="#000"/>
<circle cx="735.8" cy="383" r="4.3" fill="#000"/>
<circle cx="730.7" cy="398.3" r="4.3" fill="#000"/>
<circle cx="773.9" cy="417.8" r="4.3" fill="#000"/>
<circle cx="773.9" cy="433.9" r="4.3" fill="#000"/>
<circle cx="762" cy="439.3" r="4.3" fill="#000"/>
<circle cx="785.8" cy="433.9" r="4.3" fill="#000"/>
<line x1="614.6" y1="519.8" x2="614.6" y2="331.5" stroke="#000" stroke-width="2.4" />
<line x1="608.1" y1="518.6" x2="800" y2="518.6" stroke="#000" stroke-width="2.4" />
<line x1="608.1" y1="518.6" x2="614.6" y2="518.6" stroke="#000" stroke-width="2.4" />
<text x="604" y="525.2" font-size="18.5" text-anchor="end" stroke="#000" stroke-width="0.41" >0</text>
<line x1="608.1" y1="471.9" x2="614.6" y2="471.9" stroke="#000" stroke-width="2.4" />
<text x="604" y="478.5" font-size="18.5" text-anchor="end" textLength="28" lengthAdjust="spacingAndGlyphs" stroke="#000" stroke-width="0.41" >200</text>
<line x1="608.1" y1="425.1" x2="614.6" y2="425.1" stroke="#000" stroke-width="2.4" />
<text x="604" y="431.8" font-size="18.5" text-anchor="end" textLength="28" lengthAdjust="spacingAndGlyphs" stroke="#000" stroke-width="0.41" >400</text>
<line x1="608.1" y1="378.4" x2="614.6" y2="378.4" stroke="#000" stroke-width="2.4" />
<text x="604" y="385" font-size="18.5" text-anchor="end" textLength="28" lengthAdjust="spacingAndGlyphs" stroke="#000" stroke-width="0.41" >600</text>
<line x1="608.1" y1="331.7" x2="614.6" y2="331.7" stroke="#000" stroke-width="2.4" />
<text x="604" y="338.3" font-size="18.5" text-anchor="end" textLength="28" lengthAdjust="spacingAndGlyphs" stroke="#000" stroke-width="0.41" >800</text>
<line x1="643" y1="518.6" x2="643" y2="525.1" stroke="#000" stroke-width="2.4" />
<line x1="686.6" y1="518.6" x2="686.6" y2="525.1" stroke="#000" stroke-width="2.4" />
<line x1="730.3" y1="518.6" x2="730.3" y2="525.1" stroke="#000" stroke-width="2.4" />
<line x1="774" y1="518.6" x2="774" y2="525.1" stroke="#000" stroke-width="2.4" />
<line x1="641.4" y1="317" x2="729" y2="317" stroke="#000" stroke-width="2.2" />
<text x="687" y="321.1" font-size="17" text-anchor="middle" font-weight="bold" >*</text>
<line x1="684" y1="331" x2="729" y2="331" stroke="#000" stroke-width="2.2" />
<text x="706" y="335.1" font-size="17" text-anchor="middle" font-weight="bold" >**</text>
<line x1="731" y1="317" x2="774.2" y2="317" stroke="#000" stroke-width="2.2" />
<text x="753.5" y="321.1" font-size="17" text-anchor="middle" font-weight="bold" >**</text>
<text x="655" y="541.5" font-size="24" text-anchor="end" transform="rotate(-45 655 541.5)" stroke="#000" stroke-width="0.53" >mock</text>
<text x="698.6" y="541.5" font-size="24" text-anchor="end" transform="rotate(-45 698.6 541.5)" stroke="#000" stroke-width="0.53" >PltB<tspan font-size="0.78em" dy="-0.28em">S35A</tspan></text>
<text x="742.3" y="541.5" font-size="24" text-anchor="end" transform="rotate(-45 742.3 541.5)" stroke="#000" stroke-width="0.53" >WT</text>
<text x="786" y="541.5" font-size="24" text-anchor="end" transform="rotate(-45 786 541.5)" stroke="#000" stroke-width="0.53" >CdtB<tspan font-size="0.78em" dy="-0.28em">H160Q</tspan></text>
<text x="568.5" y="417" font-size="19" text-anchor="middle" textLength="122" lengthAdjust="spacingAndGlyphs" transform="rotate(-90 568.5 417)" stroke="#000" stroke-width="0.42" >CellROX (MFI)</text>
<path d="M75.5 901.4 L75.5 895.1 L77.1 897.3 L78.7 899 L80.3 899.6 L81.9 900.1 L83.5 900.4 L85.1 900.5 L86.7 900.6 L88.3 900.7 L89.9 900.7 L91.5 900.8 L93.1 900.8 L94.7 900.9 L96.3 900.9 L97.9 900.9 L99.5 901 L101.1 901 L102.7 901 L104.3 901.1 L105.9 901.1 L107.5 901.1 L109.1 901.1 L110.7 901.1 L112.3 901.1 L113.9 901.1 L115.5 901.2 L117.1 901.2 L118.7 901.2 L120.3 901.2 L121.9 901.2 L123.5 901.2 L125.1 901.2 L126.7 901.2 L128.3 901.2 L129.9 901.1 L131.5 901.1 L133.1 901.1 L134.7 901 L136.3 900.9 L137.9 900.8 L139.5 900.7 L141.1 900.6 L142.7 900.4 L144.3 900.2 L145.9 899.7 L147.5 899.4 L149.1 899 L150.7 898.4 L152.3 897.7 L153.9 896.8 L155.5 896.2 L157.1 894.6 L158.7 893.8 L160.3 892 L161.9 890.9 L163.5 889.2 L165.1 885.4 L166.7 883.1 L168.3 880.2 L169.9 879.1 L171.5 875.8 L173.1 871.6 L174.7 867.3 L176.3 862.2 L177.9 856.8 L179.5 853.8 L181.1 846.3 L182.7 837.4 L184.3 835.3 L185.9 821.9 L187.5 817.8 L189.1 808.9 L190.7 807.8 L192.3 798.3 L193.9 787.4 L195.5 785.8 L197.1 785.3 L198.7 764.1 L200.3 758.9 L201.9 763 L203.5 763.3 L205.1 742 L206.7 743.5 L208.3 753.1 L209.9 746.7 L211.5 748.5 L213.1 732.7 L214.7 747.8 L216.3 738 L217.9 750.7 L219.5 774.9 L221.1 777.1 L222.7 796.3 L224.3 806.1 L225.9 820 L227.5 838.8 L229.1 851.7 L230.7 856.2 L232.3 867.7 L233.9 872.5 L235.5 878.8 L237.1 882.7 L238.7 885.4 L240.3 887.8 L241.9 889.4 L243.5 890.9 L245.1 890.6 L246.7 891.6 L248.3 892 L249.9 892.1 L251.5 893.7 L253.1 893.7 L254.7 895.2 L256.3 895.4 L257.9 896.2 L259.5 897.3 L261.1 897.9 L262.7 898.4 L264.3 899.1 L265.9 899.6 L267.5 900.1 L269.1 900.5 L270.7 900.7 L272.3 900.9 L273.9 901.1 L275.5 901.2 L277.1 901.2 L278.7 901.3 L280.3 901.3 L281.9 901.4 L283.5 901.4 L285.1 901.4 L286.7 901.4 L288.3 901.4 L289.9 901.4 L291.5 901.4 L293.1 901.4 L294.7 901.4 L296.3 901.4 L297.9 901.4 L299.5 901.4 L301.1 901.4 L302.7 901.4 L304.3 901.4 L305.9 901.4 L307.5 901.4 L309.1 901.4 L310.7 901.4 L312.3 901.4 L313.9 901.4 L315.5 901.4 L317.1 901.4 L318.7 901.4 L319.2 901.4 Z" fill="#d8d8d8" />
<path d="M75.5 901.4 L75.5 894.8 L77.1 897.5 L78.7 898.7 L80.3 899.7 L81.9 900.1 L83.5 900.3 L85.1 900.6 L86.7 900.6 L88.3 900.7 L89.9 900.7 L91.5 900.8 L93.1 900.8 L94.7 900.9 L96.3 900.9 L97.9 900.9 L99.5 901 L101.1 901 L102.7 901 L104.3 901.1 L105.9 901.1 L107.5 901.1 L109.1 901.1 L110.7 901.1 L112.3 901.1 L113.9 901.2 L115.5 901.1 L117.1 901.2 L118.7 901.2 L120.3 901.2 L121.9 901.2 L123.5 901.2 L125.1 901.1 L126.7 901.1 L128.3 901.1 L129.9 901 L131.5 900.9 L133.1 900.8 L134.7 900.6 L136.3 900.4 L137.9 900.2 L139.5 900 L141.1 899.6 L142.7 899.2 L144.3 898.7 L145.9 897.9 L147.5 897.4 L149.1 895.7 L150.7 894.7 L152.3 893.3 L153.9 891.2 L155.5 889.6 L157.1 888.1 L158.7 885.6 L160.3 883 L161.9 880.2 L163.5 874 L165.1 869.4 L166.7 867.2 L168.3 862.9 L169.9 854.8 L171.5 847.3 L173.1 840.1 L174.7 839.9 L176.3 827.2 L177.9 819.2 L179.5 812.6 L181.1 810.4 L182.7 805.2 L184.3 788.5 L185.9 789.2 L187.5 781.8 L189.1 772.3 L190.7 769.8 L192.3 755.7 L193.9 763 L195.5 763.5 L197.1 749.9 L198.7 746.7 L200.3 741.6 L201.9 744.3 L203.5 742.2 L205.1 745.7 L206.7 760.6 L208.3 767.8 L209.9 782.3 L211.5 789 L213.1 794.6 L214.7 811.8 L216.3 814.5 L217.9 830.4 L219.5 837.1 L221.1 842 L222.7 856.6 L224.3 863.9 L225.9 868 L227.5 874.5 L229.1 877.2 L230.7 883.1 L232.3 884.1 L233.9 886.7 L235.5 889 L237.1 891.2 L238.7 892.6 L240.3 893.2 L241.9 894.3 L243.5 895.2 L245.1 896 L246.7 896.5 L248.3 897 L249.9 897.6 L251.5 898.1 L253.1 898.9 L254.7 899.3 L256.3 899.7 L257.9 900 L259.5 900.4 L261.1 900.6 L262.7 900.8 L264.3 901 L265.9 901.1 L267.5 901.2 L269.1 901.2 L270.7 901.3 L272.3 901.3 L273.9 901.4 L275.5 901.4 L277.1 901.4 L278.7 901.4 L280.3 901.4 L281.9 901.4 L283.5 901.4 L285.1 901.4 L286.7 901.4 L288.3 901.4 L289.9 901.4 L291.5 901.4 L293.1 901.4 L294.7 901.4 L296.3 901.4 L297.9 901.4 L299.5 901.4 L301.1 901.4 L302.7 901.4 L304.3 901.4 L305.9 901.4 L307.5 901.4 L309.1 901.4 L310.7 901.4 L312.3 901.4 L313.9 901.4 L315.5 901.4 L317.1 901.4 L318.7 901.4 L319.2 901.4 Z" fill="rgb(107,159,43)" fill-opacity="0.5"/>
<path d="M75.5 901.4 L75.5 894.5 L77.1 897.7 L78.7 898.8 L80.3 899.6 L81.9 900.1 L83.5 900.3 L85.1 900.5 L86.7 900.6 L88.3 900.7 L89.9 900.8 L91.5 900.8 L93.1 900.8 L94.7 900.9 L96.3 900.9 L97.9 900.9 L99.5 901 L101.1 901 L102.7 901 L104.3 901 L105.9 901.1 L107.5 901.1 L109.1 901.1 L110.7 901.1 L112.3 901.1 L113.9 901.2 L115.5 901.2 L117.1 901.2 L118.7 901.2 L120.3 901.2 L121.9 901.2 L123.5 901.2 L125.1 901.2 L126.7 901.2 L128.3 901.1 L129.9 901.1 L131.5 901 L133.1 901 L134.7 900.9 L136.3 900.8 L137.9 900.7 L139.5 900.5 L141.1 900.4 L142.7 900.1 L144.3 899.8 L145.9 899.4 L147.5 898.8 L149.1 898.3 L150.7 897.6 L152.3 896.7 L153.9 896.2 L155.5 894.4 L157.1 893.3 L158.7 892.6 L160.3 889.8 L161.9 888.6 L163.5 886.8 L165.1 882.4 L166.7 880.5 L168.3 876.6 L169.9 875.4 L171.5 868.8 L173.1 868 L174.7 862.6 L176.3 856.9 L177.9 854.2 L179.5 844.3 L181.1 841.5 L182.7 834.7 L184.3 824 L185.9 820.3 L187.5 807.8 L189.1 804.1 L190.7 793.5 L192.3 791 L193.9 778.5 L195.5 772.5 L197.1 778.8 L198.7 762.5 L200.3 765 L201.9 751.9 L203.5 749.5 L205.1 743 L206.7 755.5 L208.3 748.3 L209.9 739.3 L211.5 734.6 L213.1 742.3 L214.7 762.4 L216.3 759.3 L217.9 779.3 L219.5 783.6 L221.1 793.3 L222.7 816.2 L224.3 819.9 L225.9 835.4 L227.5 850.1 L229.1 859.9 L230.7 866.7 L232.3 871.8 L233.9 878.2 L235.5 883.6 L237.1 886.6 L238.7 888.3 L240.3 888.5 L241.9 890.5 L243.5 890.5 L245.1 891.4 L246.7 891.4 L248.3 892.2 L249.9 893.1 L251.5 892.9 L253.1 893.9 L254.7 894.6 L256.3 895.3 L257.9 896.1 L259.5 897.4 L261.1 898 L262.7 898.7 L264.3 899.1 L265.9 899.6 L267.5 900 L269.1 900.5 L270.7 900.7 L272.3 900.9 L273.9 901 L275.5 901.2 L277.1 901.2 L278.7 901.3 L280.3 901.3 L281.9 901.4 L283.5 901.4 L285.1 901.4 L286.7 901.4 L288.3 901.4 L289.9 901.4 L291.5 901.4 L293.1 901.4 L294.7 901.4 L296.3 901.4 L297.9 901.4 L299.5 901.4 L301.1 901.4 L302.7 901.4 L304.3 901.4 L305.9 901.4 L307.5 901.4 L309.1 901.4 L310.7 901.4 L312.3 901.4 L313.9 901.4 L315.5 901.4 L317.1 901.4 L318.7 901.4 L319.2 901.4 Z" fill="rgb(0,61,157)" fill-opacity="0.45"/>
<path d="M75.5 894.8 L77.1 897.5 L78.7 898.7 L80.3 899.7 L81.9 900.1 L83.5 900.3 L85.1 900.6 L86.7 900.6 L88.3 900.7 L89.9 900.7 L91.5 900.8 L93.1 900.8 L94.7 900.9 L96.3 900.9 L97.9 900.9 L99.5 901 L101.1 901 L102.7 901 L104.3 901.1 L105.9 901.1 L107.5 901.1 L109.1 901.1 L110.7 901.1 L112.3 901.1 L113.9 901.2 L115.5 901.1 L117.1 901.2 L118.7 901.2 L120.3 901.2 L121.9 901.2 L123.5 901.2 L125.1 901.1 L126.7 901.1 L128.3 901.1 L129.9 901 L131.5 900.9 L133.1 900.8 L134.7 900.6 L136.3 900.4 L137.9 900.2 L139.5 900 L141.1 899.6 L142.7 899.2 L144.3 898.7 L145.9 897.9 L147.5 897.4 L149.1 895.7 L150.7 894.7 L152.3 893.3 L153.9 891.2 L155.5 889.6 L157.1 888.1 L158.7 885.6 L160.3 883 L161.9 880.2 L163.5 874 L165.1 869.4 L166.7 867.2 L168.3 862.9 L169.9 854.8 L171.5 847.3 L173.1 840.1 L174.7 839.9 L176.3 827.2 L177.9 819.2 L179.5 812.6 L181.1 810.4 L182.7 805.2 L184.3 788.5 L185.9 789.2 L187.5 781.8 L189.1 772.3 L190.7 769.8 L192.3 755.7 L193.9 763 L195.5 763.5 L197.1 749.9 L198.7 746.7 L200.3 741.6 L201.9 744.3 L203.5 742.2 L205.1 745.7 L206.7 760.6 L208.3 767.8 L209.9 782.3 L211.5 789 L213.1 794.6 L214.7 811.8 L216.3 814.5 L217.9 830.4 L219.5 837.1 L221.1 842 L222.7 856.6 L224.3 863.9 L225.9 868 L227.5 874.5 L229.1 877.2 L230.7 883.1 L232.3 884.1 L233.9 886.7 L235.5 889 L237.1 891.2 L238.7 892.6 L240.3 893.2 L241.9 894.3 L243.5 895.2 L245.1 896 L246.7 896.5 L248.3 897 L249.9 897.6 L251.5 898.1 L253.1 898.9 L254.7 899.3 L256.3 899.7 L257.9 900 L259.5 900.4 L261.1 900.6 L262.7 900.8 L264.3 901 L265.9 901.1 L267.5 901.2 L269.1 901.2 L270.7 901.3 L272.3 901.3 L273.9 901.4 L275.5 901.4 L277.1 901.4 L278.7 901.4 L280.3 901.4 L281.9 901.4 L283.5 901.4 L285.1 901.4 L286.7 901.4 L288.3 901.4 L289.9 901.4 L291.5 901.4 L293.1 901.4 L294.7 901.4 L296.3 901.4 L297.9 901.4 L299.5 901.4 L301.1 901.4 L302.7 901.4 L304.3 901.4 L305.9 901.4 L307.5 901.4 L309.1 901.4 L310.7 901.4 L312.3 901.4 L313.9 901.4 L315.5 901.4 L317.1 901.4 L318.7 901.4" fill="none" stroke="#3c8a10" stroke-width="1.9" />
<path d="M75.5 894.5 L77.1 897.7 L78.7 898.8 L80.3 899.6 L81.9 900.1 L83.5 900.3 L85.1 900.5 L86.7 900.6 L88.3 900.7 L89.9 900.8 L91.5 900.8 L93.1 900.8 L94.7 900.9 L96.3 900.9 L97.9 900.9 L99.5 901 L101.1 901 L102.7 901 L104.3 901 L105.9 901.1 L107.5 901.1 L109.1 901.1 L110.7 901.1 L112.3 901.1 L113.9 901.2 L115.5 901.2 L117.1 901.2 L118.7 901.2 L120.3 901.2 L121.9 901.2 L123.5 901.2 L125.1 901.2 L126.7 901.2 L128.3 901.1 L129.9 901.1 L131.5 901 L133.1 901 L134.7 900.9 L136.3 900.8 L137.9 900.7 L139.5 900.5 L141.1 900.4 L142.7 900.1 L144.3 899.8 L145.9 899.4 L147.5 898.8 L149.1 898.3 L150.7 897.6 L152.3 896.7 L153.9 896.2 L155.5 894.4 L157.1 893.3 L158.7 892.6 L160.3 889.8 L161.9 888.6 L163.5 886.8 L165.1 882.4 L166.7 880.5 L168.3 876.6 L169.9 875.4 L171.5 868.8 L173.1 868 L174.7 862.6 L176.3 856.9 L177.9 854.2 L179.5 844.3 L181.1 841.5 L182.7 834.7 L184.3 824 L185.9 820.3 L187.5 807.8 L189.1 804.1 L190.7 793.5 L192.3 791 L193.9 778.5 L195.5 772.5 L197.1 778.8 L198.7 762.5 L200.3 765 L201.9 751.9 L203.5 749.5 L205.1 743 L206.7 755.5 L208.3 748.3 L209.9 739.3 L211.5 734.6 L213.1 742.3 L214.7 762.4 L216.3 759.3 L217.9 779.3 L219.5 783.6 L221.1 793.3 L222.7 816.2 L224.3 819.9 L225.9 835.4 L227.5 850.1 L229.1 859.9 L230.7 866.7 L232.3 871.8 L233.9 878.2 L235.5 883.6 L237.1 886.6 L238.7 888.3 L240.3 888.5 L241.9 890.5 L243.5 890.5 L245.1 891.4 L246.7 891.4 L248.3 892.2 L249.9 893.1 L251.5 892.9 L253.1 893.9 L254.7 894.6 L256.3 895.3 L257.9 896.1 L259.5 897.4 L261.1 898 L262.7 898.7 L264.3 899.1 L265.9 899.6 L267.5 900 L269.1 900.5 L270.7 900.7 L272.3 900.9 L273.9 901 L275.5 901.2 L277.1 901.2 L278.7 901.3 L280.3 901.3 L281.9 901.4 L283.5 901.4 L285.1 901.4 L286.7 901.4 L288.3 901.4 L289.9 901.4 L291.5 901.4 L293.1 901.4 L294.7 901.4 L296.3 901.4 L297.9 901.4 L299.5 901.4 L301.1 901.4 L302.7 901.4 L304.3 901.4 L305.9 901.4 L307.5 901.4 L309.1 901.4 L310.7 901.4 L312.3 901.4 L313.9 901.4 L315.5 901.4 L317.1 901.4 L318.7 901.4" fill="none" stroke="#0b58b0" stroke-width="1.9" />
<rect x="75.2" y="698.4" width="244.3" height="204.2" fill="none" stroke="#000" stroke-width="2.4" />
<text x="80" y="715.5" font-size="18" fill="#b4b4b4" textLength="46" lengthAdjust="spacingAndGlyphs" stroke="#b4b4b4" stroke-width="0.4" >mock</text>
<text x="80" y="738.5" font-size="18" fill="#606060" textLength="72" lengthAdjust="spacingAndGlyphs" stroke="#606060" stroke-width="0.4" >PltB<tspan font-size="0.78em" dy="-0.5em">S35A</tspan></text>
<text x="80" y="760.5" font-size="18" fill="#0b4d9a" textLength="31" lengthAdjust="spacingAndGlyphs" stroke="#0b4d9a" stroke-width="0.4" >WT</text>
<text x="80" y="781" font-size="18" fill="#3c8a00" textLength="90" lengthAdjust="spacingAndGlyphs" stroke="#3c8a00" stroke-width="0.4" >CdtB<tspan font-size="0.78em" dy="-0.5em">H160Q</tspan></text>
<text x="172" y="690.5" font-size="30" textLength="51" lengthAdjust="spacingAndGlyphs" stroke="#000" stroke-width="0.6" >3 hr</text>
<text x="67.7" y="796" font-size="21" text-anchor="middle" font-weight="bold" textLength="60" lengthAdjust="spacingAndGlyphs" transform="rotate(-90 67.7 796)" >Count</text>
<line x1="74.7" y1="902.6" x2="74.7" y2="907.6" stroke="#000" stroke-width="1.8" />
<text x="75.2" y="917.1" font-size="10.5" text-anchor="middle" font-weight="bold" >0</text>
<line x1="136.1" y1="902.6" x2="136.1" y2="907.6" stroke="#000" stroke-width="1.8" />
<text x="134.6" y="917.1" font-size="10.5" text-anchor="middle" font-weight="bold" >10</text>
<text x="140.6" y="912.1" font-size="6" text-anchor="middle" font-weight="bold" >1</text>
<line x1="197.5" y1="902.6" x2="197.5" y2="907.6" stroke="#000" stroke-width="1.8" />
<text x="196" y="917.1" font-size="10.5" text-anchor="middle" font-weight="bold" >10</text>
<text x="202" y="912.1" font-size="6" text-anchor="middle" font-weight="bold" >2</text>
<line x1="258.9" y1="902.6" x2="258.9" y2="907.6" stroke="#000" stroke-width="1.8" />
<text x="257.4" y="917.1" font-size="10.5" text-anchor="middle" font-weight="bold" >10</text>
<text x="263.4" y="912.1" font-size="6" text-anchor="middle" font-weight="bold" >3</text>
<line x1="320.3" y1="902.6" x2="320.3" y2="907.6" stroke="#000" stroke-width="1.8" />
<text x="318.8" y="917.1" font-size="10.5" text-anchor="middle" font-weight="bold" >10</text>
<text x="324.8" y="912.1" font-size="6" text-anchor="middle" font-weight="bold" >4</text>
<text x="196.3" y="946.5" font-size="23" text-anchor="middle" textLength="183" lengthAdjust="spacingAndGlyphs" stroke="#000" stroke-width="0.9" >MitoSOX (FL-2)</text>
<path d="M331.1 901.4 L331.1 894.7 L332.7 897.7 L334.3 898.9 L335.9 899.7 L337.5 900 L339.1 900.3 L340.7 900.6 L342.3 900.7 L343.9 900.7 L345.5 900.8 L347.1 900.8 L348.7 900.8 L350.3 900.9 L351.9 900.9 L353.5 900.9 L355.1 901 L356.7 901 L358.3 901 L359.9 901 L361.5 901.1 L363.1 901.1 L364.7 901.1 L366.3 901.1 L367.9 901.1 L369.5 901.2 L371.1 901.2 L372.7 901.2 L374.3 901.2 L375.9 901.2 L377.5 901.2 L379.1 901.2 L380.7 901.2 L382.3 901.2 L383.9 901.2 L385.5 901.3 L387.1 901.3 L388.7 901.3 L390.3 901.3 L391.9 901.2 L393.5 901.2 L395.1 901.2 L396.7 901.1 L398.3 901 L399.9 900.9 L401.5 900.7 L403.1 900.5 L404.7 900.2 L406.3 899.8 L407.9 899.3 L409.5 898.5 L411.1 897.7 L412.7 896.8 L414.3 895.2 L415.9 893.5 L417.5 890.4 L419.1 888.5 L420.7 885.6 L422.3 882.3 L423.9 878.1 L425.5 872.8 L427.1 868.2 L428.7 862.8 L430.3 850.3 L431.9 845.3 L433.5 837 L435.1 826.8 L436.7 820.5 L438.3 812.9 L439.9 805.1 L441.5 792.4 L443.1 783.3 L444.7 767.2 L446.3 762.4 L447.9 747.5 L449.5 753.9 L451.1 736.9 L452.7 741.2 L454.3 750.9 L455.9 748.8 L457.5 741.5 L459.1 735.9 L460.7 754.1 L462.3 751.4 L463.9 765.4 L465.5 765.3 L467.1 787.9 L468.7 790 L470.3 793.4 L471.9 811.5 L473.5 820.7 L475.1 831.8 L476.7 838.4 L478.3 845 L479.9 848.9 L481.5 858.6 L483.1 863.2 L484.7 869.1 L486.3 871.7 L487.9 874.5 L489.5 878.5 L491.1 882.5 L492.7 883.3 L494.3 884.7 L495.9 887.1 L497.5 889.5 L499.1 889.4 L500.7 890.5 L502.3 892.2 L503.9 893.4 L505.5 894.2 L507.1 894.7 L508.7 895.2 L510.3 896.2 L511.9 896.7 L513.5 897.8 L515.1 898.3 L516.7 898.7 L518.3 899.2 L519.9 899.7 L521.5 900 L523.1 900.3 L524.7 900.6 L526.3 900.8 L527.9 901 L529.5 901 L531.1 901.1 L532.7 901.2 L534.3 901.3 L535.9 901.3 L537.5 901.3 L539.1 901.4 L540.7 901.4 L542.3 901.4 L543.9 901.4 L545.5 901.4 L547.1 901.4 L548.7 901.4 L550.3 901.4 L551.9 901.4 L553.5 901.4 L555.1 901.4 L556.7 901.4 L558.3 901.4 L559.9 901.4 L561.5 901.4 L563.1 901.4 L564.7 901.4 L566.3 901.4 L567.9 901.4 L569.5 901.4 L571.1 901.4 L572.7 901.4 L574.3 901.4 L574.3 901.4 Z" fill="#d8d8d8" />
<path d="M331.1 901.4 L331.1 894.7 L332.7 897.2 L334.3 899 L335.9 899.6 L337.5 900.1 L339.1 900.4 L340.7 900.6 L342.3 900.7 L343.9 900.7 L345.5 900.7 L347.1 900.8 L348.7 900.8 L350.3 900.9 L351.9 900.9 L353.5 900.9 L355.1 901 L356.7 901 L358.3 901 L359.9 901.1 L361.5 901.1 L363.1 901.1 L364.7 901.1 L366.3 901.1 L367.9 901.1 L369.5 901.2 L371.1 901.2 L372.7 901.2 L374.3 901.2 L375.9 901.2 L377.5 901.2 L379.1 901.2 L380.7 901.2 L382.3 901.2 L383.9 901.2 L385.5 901.2 L387.1 901.2 L388.7 901.1 L390.3 901.1 L391.9 901 L393.5 900.9 L395.1 900.8 L396.7 900.6 L398.3 900.3 L399.9 900 L401.5 899.5 L403.1 898.9 L404.7 898.3 L406.3 897 L407.9 896.2 L409.5 895 L411.1 893.3 L412.7 890.5 L414.3 887.6 L415.9 886.2 L417.5 883.3 L419.1 877.1 L420.7 874.5 L422.3 866.1 L423.9 862.6 L425.5 855.4 L427.1 850.5 L428.7 839.5 L430.3 834.5 L431.9 827.7 L433.5 812.6 L435.1 813.7 L436.7 796.7 L438.3 798.2 L439.9 781 L441.5 777.5 L443.1 762.1 L444.7 771.3 L446.3 756.4 L447.9 755.6 L449.5 742.2 L451.1 740.1 L452.7 746.8 L454.3 756.9 L455.9 759.5 L457.5 763.9 L459.1 766.6 L460.7 777.6 L462.3 786.1 L463.9 786.1 L465.5 797.6 L467.1 811.8 L468.7 813.1 L470.3 831.1 L471.9 836.5 L473.5 848.1 L475.1 850.6 L476.7 857.7 L478.3 867 L479.9 870 L481.5 874.3 L483.1 879.8 L484.7 882.6 L486.3 884.6 L487.9 885.6 L489.5 888.6 L491.1 888.8 L492.7 889.8 L494.3 890.8 L495.9 891.2 L497.5 891.4 L499.1 892.8 L500.7 892.5 L502.3 893.6 L503.9 893.8 L505.5 894.3 L507.1 895.6 L508.7 895.7 L510.3 896.2 L511.9 897.3 L513.5 898 L515.1 898.5 L516.7 898.7 L518.3 899.4 L519.9 899.6 L521.5 900.1 L523.1 900.3 L524.7 900.6 L526.3 900.8 L527.9 900.9 L529.5 901.1 L531.1 901.1 L532.7 901.2 L534.3 901.3 L535.9 901.3 L537.5 901.3 L539.1 901.4 L540.7 901.4 L542.3 901.4 L543.9 901.4 L545.5 901.4 L547.1 901.4 L548.7 901.4 L550.3 901.4 L551.9 901.4 L553.5 901.4 L555.1 901.4 L556.7 901.4 L558.3 901.4 L559.9 901.4 L561.5 901.4 L563.1 901.4 L564.7 901.4 L566.3 901.4 L567.9 901.4 L569.5 901.4 L571.1 901.4 L572.7 901.4 L574.3 901.4 L574.3 901.4 Z" fill="rgb(55,117,191)" fill-opacity="0.5"/>
<path d="M331.1 901.4 L331.1 894.5 L332.7 897.3 L334.3 899 L335.9 899.7 L337.5 900.1 L339.1 900.4 L340.7 900.6 L342.3 900.7 L343.9 900.6 L345.5 900.8 L347.1 900.8 L348.7 900.9 L350.3 900.9 L351.9 900.9 L353.5 900.9 L355.1 901 L356.7 901 L358.3 901 L359.9 901 L361.5 901.1 L363.1 901.1 L364.7 901.1 L366.3 901.1 L367.9 901.1 L369.5 901.2 L371.1 901.2 L372.7 901.2 L374.3 901.2 L375.9 901.2 L377.5 901.2 L379.1 901.2 L380.7 901.2 L382.3 901.3 L383.9 901.3 L385.5 901.3 L387.1 901.3 L388.7 901.3 L390.3 901.3 L391.9 901.3 L393.5 901.2 L395.1 901.2 L396.7 901.2 L398.3 901.1 L399.9 901 L401.5 900.8 L403.1 900.7 L404.7 900.4 L406.3 900.2 L407.9 899.8 L409.5 899.2 L411.1 898.2 L412.7 897.6 L414.3 896.4 L415.9 895 L417.5 893.5 L419.1 890.1 L420.7 889.1 L422.3 884.8 L423.9 880.1 L425.5 877.8 L427.1 871.6 L428.7 867 L430.3 861.6 L431.9 855.2 L433.5 848.6 L435.1 834.4 L436.7 826 L438.3 815.4 L439.9 816.7 L441.5 799.2 L443.1 795.7 L444.7 782.1 L446.3 775.7 L447.9 772.8 L449.5 754.1 L451.1 768.3 L452.7 749.5 L454.3 744.8 L455.9 751.2 L457.5 750 L459.1 743.7 L460.7 762.6 L462.3 759.3 L463.9 762.9 L465.5 776.2 L467.1 777.8 L468.7 791 L470.3 797.3 L471.9 804.7 L473.5 812.6 L475.1 825.1 L476.7 830 L478.3 838.6 L479.9 848.3 L481.5 851.9 L483.1 860 L484.7 861.7 L486.3 868.6 L487.9 871.5 L489.5 875.7 L491.1 878.7 L492.7 881.9 L494.3 884 L495.9 883.8 L497.5 886.2 L499.1 887.4 L500.7 888.5 L502.3 889.1 L503.9 891 L505.5 892 L507.1 892 L508.7 893.3 L510.3 894 L511.9 894.7 L513.5 895.5 L515.1 896.3 L516.7 897.5 L518.3 898 L519.9 898.4 L521.5 898.9 L523.1 899.6 L524.7 900 L526.3 900.3 L527.9 900.5 L529.5 900.7 L531.1 900.9 L532.7 901 L534.3 901.1 L535.9 901.2 L537.5 901.3 L539.1 901.3 L540.7 901.3 L542.3 901.4 L543.9 901.4 L545.5 901.4 L547.1 901.4 L548.7 901.4 L550.3 901.4 L551.9 901.4 L553.5 901.4 L555.1 901.4 L556.7 901.4 L558.3 901.4 L559.9 901.4 L561.5 901.4 L563.1 901.4 L564.7 901.4 L566.3 901.4 L567.9 901.4 L569.5 901.4 L571.1 901.4 L572.7 901.4 L574.3 901.4 L574.3 901.4 Z" fill="rgb(66,142,63)" fill-opacity="0.63"/>
<path d="M331.1 894.7 L332.7 897.2 L334.3 899 L335.9 899.6 L337.5 900.1 L339.1 900.4 L340.7 900.6 L342.3 900.7 L343.9 900.7 L345.5 900.7 L347.1 900.8 L348.7 900.8 L350.3 900.9 L351.9 900.9 L353.5 900.9 L355.1 901 L356.7 901 L358.3 901 L359.9 901.1 L361.5 901.1 L363.1 901.1 L364.7 901.1 L366.3 901.1 L367.9 901.1 L369.5 901.2 L371.1 901.2 L372.7 901.2 L374.3 901.2 L375.9 901.2 L377.5 901.2 L379.1 901.2 L380.7 901.2 L382.3 901.2 L383.9 901.2 L385.5 901.2 L387.1 901.2 L388.7 901.1 L390.3 901.1 L391.9 901 L393.5 900.9 L395.1 900.8 L396.7 900.6 L398.3 900.3 L399.9 900 L401.5 899.5 L403.1 898.9 L404.7 898.3 L406.3 897 L407.9 896.2 L409.5 895 L411.1 893.3 L412.7 890.5 L414.3 887.6 L415.9 886.2 L417.5 883.3 L419.1 877.1 L420.7 874.5 L422.3 866.1 L423.9 862.6 L425.5 855.4 L427.1 850.5 L428.7 839.5 L430.3 834.5 L431.9 827.7 L433.5 812.6 L435.1 813.7 L436.7 796.7 L438.3 798.2 L439.9 781 L441.5 777.5 L443.1 762.1 L444.7 771.3 L446.3 756.4 L447.9 755.6 L449.5 742.2 L451.1 740.1 L452.7 746.8 L454.3 756.9 L455.9 759.5 L457.5 763.9 L459.1 766.6 L460.7 777.6 L462.3 786.1 L463.9 786.1 L465.5 797.6 L467.1 811.8 L468.7 813.1 L470.3 831.1 L471.9 836.5 L473.5 848.1 L475.1 850.6 L476.7 857.7 L478.3 867 L479.9 870 L481.5 874.3 L483.1 879.8 L484.7 882.6 L486.3 884.6 L487.9 885.6 L489.5 888.6 L491.1 888.8 L492.7 889.8 L494.3 890.8 L495.9 891.2 L497.5 891.4 L499.1 892.8 L500.7 892.5 L502.3 893.6 L503.9 893.8 L505.5 894.3 L507.1 895.6 L508.7 895.7 L510.3 896.2 L511.9 897.3 L513.5 898 L515.1 898.5 L516.7 898.7 L518.3 899.4 L519.9 899.6 L521.5 900.1 L523.1 900.3 L524.7 900.6 L526.3 900.8 L527.9 900.9 L529.5 901.1 L531.1 901.1 L532.7 901.2 L534.3 901.3 L535.9 901.3 L537.5 901.3 L539.1 901.4 L540.7 901.4 L542.3 901.4 L543.9 901.4 L545.5 901.4 L547.1 901.4 L548.7 901.4 L550.3 901.4 L551.9 901.4 L553.5 901.4 L555.1 901.4 L556.7 901.4 L558.3 901.4 L559.9 901.4 L561.5 901.4 L563.1 901.4 L564.7 901.4 L566.3 901.4 L567.9 901.4 L569.5 901.4 L571.1 901.4 L572.7 901.4 L574.3 901.4" fill="none" stroke="#0b58b0" stroke-width="1.9" />
<path d="M331.1 894.5 L332.7 897.3 L334.3 899 L335.9 899.7 L337.5 900.1 L339.1 900.4 L340.7 900.6 L342.3 900.7 L343.9 900.6 L345.5 900.8 L347.1 900.8 L348.7 900.9 L350.3 900.9 L351.9 900.9 L353.5 900.9 L355.1 901 L356.7 901 L358.3 901 L359.9 901 L361.5 901.1 L363.1 901.1 L364.7 901.1 L366.3 901.1 L367.9 901.1 L369.5 901.2 L371.1 901.2 L372.7 901.2 L374.3 901.2 L375.9 901.2 L377.5 901.2 L379.1 901.2 L380.7 901.2 L382.3 901.3 L383.9 901.3 L385.5 901.3 L387.1 901.3 L388.7 901.3 L390.3 901.3 L391.9 901.3 L393.5 901.2 L395.1 901.2 L396.7 901.2 L398.3 901.1 L399.9 901 L401.5 900.8 L403.1 900.7 L404.7 900.4 L406.3 900.2 L407.9 899.8 L409.5 899.2 L411.1 898.2 L412.7 897.6 L414.3 896.4 L415.9 895 L417.5 893.5 L419.1 890.1 L420.7 889.1 L422.3 884.8 L423.9 880.1 L425.5 877.8 L427.1 871.6 L428.7 867 L430.3 861.6 L431.9 855.2 L433.5 848.6 L435.1 834.4 L436.7 826 L438.3 815.4 L439.9 816.7 L441.5 799.2 L443.1 795.7 L444.7 782.1 L446.3 775.7 L447.9 772.8 L449.5 754.1 L451.1 768.3 L452.7 749.5 L454.3 744.8 L455.9 751.2 L457.5 750 L459.1 743.7 L460.7 762.6 L462.3 759.3 L463.9 762.9 L465.5 776.2 L467.1 777.8 L468.7 791 L470.3 797.3 L471.9 804.7 L473.5 812.6 L475.1 825.1 L476.7 830 L478.3 838.6 L479.9 848.3 L481.5 851.9 L483.1 860 L484.7 861.7 L486.3 868.6 L487.9 871.5 L489.5 875.7 L491.1 878.7 L492.7 881.9 L494.3 884 L495.9 883.8 L497.5 886.2 L499.1 887.4 L500.7 888.5 L502.3 889.1 L503.9 891 L505.5 892 L507.1 892 L508.7 893.3 L510.3 894 L511.9 894.7 L513.5 895.5 L515.1 896.3 L516.7 897.5 L518.3 898 L519.9 898.4 L521.5 898.9 L523.1 899.6 L524.7 900 L526.3 900.3 L527.9 900.5 L529.5 900.7 L531.1 900.9 L532.7 901 L534.3 901.1 L535.9 901.2 L537.5 901.3 L539.1 901.3 L540.7 901.3 L542.3 901.4 L543.9 901.4 L545.5 901.4 L547.1 901.4 L548.7 901.4 L550.3 901.4 L551.9 901.4 L553.5 901.4 L555.1 901.4 L556.7 901.4 L558.3 901.4 L559.9 901.4 L561.5 901.4 L563.1 901.4 L564.7 901.4 L566.3 901.4 L567.9 901.4 L569.5 901.4 L571.1 901.4 L572.7 901.4 L574.3 901.4" fill="none" stroke="#138a10" stroke-width="1.9" />
<rect x="330.8" y="698.4" width="243.8" height="204.2" fill="none" stroke="#000" stroke-width="2.4" />
<text x="335.6" y="715.5" font-size="18" fill="#b4b4b4" textLength="46" lengthAdjust="spacingAndGlyphs" stroke="#b4b4b4" stroke-width="0.4" >mock</text>
<text x="335.6" y="738.5" font-size="18" fill="#606060" textLength="72" lengthAdjust="spacingAndGlyphs" stroke="#606060" stroke-width="0.4" >PltB<tspan font-size="0.78em" dy="-0.5em">S35A</tspan></text>
<text x="335.6" y="760.5" font-size="18" fill="#0b4d9a" textLength="31" lengthAdjust="spacingAndGlyphs" stroke="#0b4d9a" stroke-width="0.4" >WT</text>
<text x="335.6" y="781" font-size="18" fill="#3c8a00" textLength="90" lengthAdjust="spacingAndGlyphs" stroke="#3c8a00" stroke-width="0.4" >CdtB<tspan font-size="0.78em" dy="-0.5em">H160Q</tspan></text>
<text x="429" y="690.5" font-size="30" textLength="51" lengthAdjust="spacingAndGlyphs" stroke="#000" stroke-width="0.6" >8 hr</text>
<line x1="330" y1="902.6" x2="330" y2="907.6" stroke="#000" stroke-width="1.8" />
<text x="330.5" y="917.1" font-size="10.5" text-anchor="middle" font-weight="bold" >0</text>
<line x1="391.3" y1="902.6" x2="391.3" y2="907.6" stroke="#000" stroke-width="1.8" />
<text x="389.8" y="917.1" font-size="10.5" text-anchor="middle" font-weight="bold" >10</text>
<text x="395.8" y="912.1" font-size="6" text-anchor="middle" font-weight="bold" >1</text>
<line x1="452.6" y1="902.6" x2="452.6" y2="907.6" stroke="#000" stroke-width="1.8" />
<text x="451.1" y="917.1" font-size="10.5" text-anchor="middle" font-weight="bold" >10</text>
<text x="457.1" y="912.1" font-size="6" text-anchor="middle" font-weight="bold" >2</text>
<line x1="513.9" y1="902.6" x2="513.9" y2="907.6" stroke="#000" stroke-width="1.8" />
<text x="512.4" y="917.1" font-size="10.5" text-anchor="middle" font-weight="bold" >10</text>
<text x="518.4" y="912.1" font-size="6" text-anchor="middle" font-weight="bold" >3</text>
<line x1="575.2" y1="902.6" x2="575.2" y2="907.6" stroke="#000" stroke-width="1.8" />
<text x="573.7" y="917.1" font-size="10.5" text-anchor="middle" font-weight="bold" >10</text>
<text x="579.7" y="912.1" font-size="6" text-anchor="middle" font-weight="bold" >4</text>
<text x="451.7" y="946.5" font-size="23" text-anchor="middle" textLength="183" lengthAdjust="spacingAndGlyphs" stroke="#000" stroke-width="0.9" >MitoSOX (FL-2)</text>
<path d="M585.9 901.4 L585.9 894.7 L586.9 896.6 L587.9 897.9 L588.9 898.7 L589.9 899.3 L590.9 899.7 L591.9 900 L592.9 900.2 L593.9 900.4 L594.9 900.5 L595.9 900.6 L596.9 900.6 L597.9 900.7 L598.9 900.7 L599.9 900.7 L600.9 900.8 L601.9 900.8 L602.9 900.8 L603.9 900.8 L604.9 900.9 L605.9 900.9 L606.9 900.9 L607.9 900.9 L608.9 901 L609.9 901 L610.9 901 L611.9 901 L612.9 901 L613.9 901 L614.9 901 L615.9 901.1 L616.9 901.1 L617.9 901.1 L618.9 901.1 L619.9 901.1 L620.9 901.1 L621.9 901.1 L622.9 901.1 L623.9 901.2 L624.9 901.2 L625.9 901.2 L626.9 901.2 L627.9 901.2 L628.9 901.2 L629.9 901.2 L630.9 901.2 L631.9 901.2 L632.9 901.2 L633.9 901.2 L634.9 901.2 L635.9 901.2 L636.9 901.3 L637.9 901.3 L638.9 901.3 L639.9 901.3 L640.9 901.3 L641.9 901.3 L642.9 901.3 L643.9 901.3 L644.9 901.3 L645.9 901.3 L646.9 901.3 L647.9 901.3 L648.9 901.3 L649.9 901.3 L650.9 901.3 L651.9 901.3 L652.9 901.3 L653.9 901.3 L654.9 901.3 L655.9 901.3 L656.9 901.3 L657.9 901.3 L658.9 901.3 L659.9 901.3 L660.9 901.3 L661.9 901.3 L662.9 901.3 L663.9 901.3 L664.9 901.2 L665.9 901.2 L666.9 901.1 L667.9 901 L668.9 900.9 L669.9 900.8 L670.9 900.7 L671.9 900.4 L672.9 900.2 L673.9 899.9 L674.9 899.4 L675.9 898.9 L676.9 898.3 L677.9 897.6 L678.9 896.7 L679.9 895.6 L680.9 894.4 L681.9 892.6 L682.9 891 L683.9 888.9 L684.9 886.5 L685.9 883.7 L686.9 880.3 L687.9 876.9 L688.9 872.9 L689.9 868.5 L690.9 864 L691.9 858.5 L692.9 852.1 L693.9 846 L694.9 839.3 L695.9 833.3 L696.9 826.2 L697.9 819.2 L698.9 810.6 L699.9 803.4 L700.9 795.6 L701.9 788.1 L702.9 780.7 L703.9 774.5 L704.9 766.8 L705.9 763 L706.9 755.5 L707.9 752.4 L708.9 750.8 L709.9 747.3 L710.9 744.9 L711.9 744.7 L712.9 744.7 L713.9 747.4 L714.9 750.6 L715.9 752.9 L716.9 759.9 L717.9 764.7 L718.9 771.5 L719.9 779.8 L720.9 788.3 L721.9 795.6 L722.9 805.4 L723.9 813.2 L724.9 823.3 L725.9 830.8 L726.9 838.5 L727.9 846.8 L728.9 852.7 L729.9 860.1 L730.9 865.4 L731.9 871.1 L732.9 875.3 L733.9 879.7 L734.9 883.3 L735.9 886.6 L736.9 889.2 L737.9 891.5 L738.9 893.5 L739.9 895.1 L740.9 896.4 L741.9 897.5 L742.9 898.3 L743.9 899.1 L744.9 899.6 L745.9 900.1 L746.9 900.4 L747.9 900.6 L748.9 900.8 L749.9 901 L750.9 901.1 L751.9 901.2 L752.9 901.2 L753.9 901.3 L754.9 901.3 L755.9 901.3 L756.9 901.4 L757.9 901.4 L758.9 901.4 L759.9 901.4 L760.9 901.4 L761.9 901.4 L762.9 901.4 L763.9 901.4 L764.9 901.4 L765.9 901.4 L766.9 901.4 L767.9 901.4 L768.9 901.4 L769.9 901.4 L770.9 901.4 L771.9 901.4 L772.9 901.4 L773.9 901.4 L774.9 901.4 L775.9 901.4 L776.9 901.4 L777.9 901.4 L778.9 901.4 L779.9 901.4 L780.9 901.4 L781.9 901.4 L782.9 901.4 L783.9 901.4 L784.9 901.4 L785.9 901.4 L786.9 901.4 L787.9 901.4 L788.9 901.4 L789.9 901.4 L790.9 901.4 L791.9 901.4 L792.9 901.4 L793.9 901.4 L794.9 901.4 L795.9 901.4 L796.9 901.4 L797.9 901.4 L798.9 901.4 L799.9 901.4 L800.9 901.4 L801.9 901.4 L802.9 901.4 L803.9 901.4 L804.9 901.4 L805.9 901.4 L806.9 901.4 L807.9 901.4 L808.9 901.4 L809.9 901.4 L810.9 901.4 L811.9 901.4 L812.9 901.4 L813.9 901.4 L814.9 901.4 L815.9 901.4 L816.9 901.4 L817.9 901.4 L818.9 901.4 L819.9 901.4 L820.9 901.4 L821.9 901.4 L822.9 901.4 L823.9 901.4 L824.9 901.4 L825.9 901.4 L826.9 901.4 L827.9 901.4 L828.9 901.4 L829.9 901.4 L830.9 901.4 L831.3 901.4 Z" fill="#d8d8d8" />
<path d="M585.9 901.4 L585.9 894.8 L586.9 896.7 L587.9 897.9 L588.9 898.8 L589.9 899.3 L590.9 899.7 L591.9 900 L592.9 900.2 L593.9 900.3 L594.9 900.5 L595.9 900.5 L596.9 900.6 L597.9 900.7 L598.9 900.7 L599.9 900.7 L600.9 900.8 L601.9 900.8 L602.9 900.8 L603.9 900.9 L604.9 900.9 L605.9 900.9 L606.9 900.9 L607.9 900.9 L608.9 901 L609.9 901 L610.9 901 L611.9 901 L612.9 901 L613.9 901 L614.9 901 L615.9 901.1 L616.9 901.1 L617.9 901.1 L618.9 901.1 L619.9 901.1 L620.9 901.1 L621.9 901.1 L622.9 901.1 L623.9 901.2 L624.9 901.2 L625.9 901.2 L626.9 901.2 L627.9 901.2 L628.9 901.2 L629.9 901.2 L630.9 901.2 L631.9 901.2 L632.9 901.2 L633.9 901.2 L634.9 901.2 L635.9 901.2 L636.9 901.3 L637.9 901.3 L638.9 901.3 L639.9 901.3 L640.9 901.3 L641.9 901.3 L642.9 901.3 L643.9 901.3 L644.9 901.3 L645.9 901.3 L646.9 901.3 L647.9 901.3 L648.9 901.3 L649.9 901.3 L650.9 901.3 L651.9 901.3 L652.9 901.3 L653.9 901.3 L654.9 901.3 L655.9 901.3 L656.9 901.3 L657.9 901.3 L658.9 901.3 L659.9 901.3 L660.9 901.3 L661.9 901.3 L662.9 901.3 L663.9 901.4 L664.9 901.4 L665.9 901.4 L666.9 901.4 L667.9 901.4 L668.9 901.4 L669.9 901.4 L670.9 901.4 L671.9 901.4 L672.9 901.4 L673.9 901.4 L674.9 901.4 L675.9 901.4 L676.9 901.4 L677.9 901.4 L678.9 901.4 L679.9 901.4 L680.9 901.3 L681.9 901.3 L682.9 901.3 L683.9 901.3 L684.9 901.3 L685.9 901.2 L686.9 901.1 L687.9 901 L688.9 900.9 L689.9 900.7 L690.9 900.5 L691.9 900.1 L692.9 899.7 L693.9 899.2 L694.9 898.4 L695.9 897.6 L696.9 896.4 L697.9 895.1 L698.9 893.3 L699.9 891.3 L700.9 888.6 L701.9 885.6 L702.9 882.1 L703.9 877.5 L704.9 873.2 L705.9 867.3 L706.9 861.4 L707.9 854 L708.9 846.1 L709.9 837.8 L710.9 829.9 L711.9 820.2 L712.9 809.5 L713.9 798.4 L714.9 790.6 L715.9 778.8 L716.9 768.6 L717.9 758.7 L718.9 751.6 L719.9 742 L720.9 736.6 L721.9 729.3 L722.9 729 L723.9 722.5 L724.9 723.8 L725.9 724.2 L726.9 727.2 L727.9 729.1 L728.9 730.8 L729.9 735.8 L730.9 743.4 L731.9 749 L732.9 756.6 L733.9 763.9 L734.9 771.8 L735.9 779.7 L736.9 786.3 L737.9 794.8 L738.9 803.8 L739.9 812.7 L740.9 820.6 L741.9 827.7 L742.9 834.8 L743.9 841.9 L744.9 848.4 L745.9 854.8 L746.9 859.6 L747.9 864.3 L748.9 868.9 L749.9 873.3 L750.9 876.5 L751.9 879.9 L752.9 882.8 L753.9 885 L754.9 887.4 L755.9 889.4 L756.9 891.3 L757.9 892.7 L758.9 894.1 L759.9 895.3 L760.9 896.3 L761.9 897.2 L762.9 898 L763.9 898.7 L764.9 899.2 L765.9 899.7 L766.9 900 L767.9 900.3 L768.9 900.6 L769.9 900.8 L770.9 900.9 L771.9 901.1 L772.9 901.2 L773.9 901.2 L774.9 901.3 L775.9 901.3 L776.9 901.3 L777.9 901.4 L778.9 901.4 L779.9 901.4 L780.9 901.4 L781.9 901.4 L782.9 901.4 L783.9 901.4 L784.9 901.4 L785.9 901.4 L786.9 901.4 L787.9 901.4 L788.9 901.4 L789.9 901.4 L790.9 901.4 L791.9 901.4 L792.9 901.4 L793.9 901.4 L794.9 901.4 L795.9 901.4 L796.9 901.4 L797.9 901.4 L798.9 901.4 L799.9 901.4 L800.9 901.4 L801.9 901.4 L802.9 901.4 L803.9 901.4 L804.9 901.4 L805.9 901.4 L806.9 901.4 L807.9 901.4 L808.9 901.4 L809.9 901.4 L810.9 901.4 L811.9 901.4 L812.9 901.4 L813.9 901.4 L814.9 901.4 L815.9 901.4 L816.9 901.4 L817.9 901.4 L818.9 901.4 L819.9 901.4 L820.9 901.4 L821.9 901.4 L822.9 901.4 L823.9 901.4 L824.9 901.4 L825.9 901.4 L826.9 901.4 L827.9 901.4 L828.9 901.4 L829.9 901.4 L830.9 901.4 L831.3 901.4 Z" fill="rgb(55,117,191)" fill-opacity="0.5"/>
<path d="M585.9 901.4 L585.9 894.8 L586.9 896.6 L587.9 897.9 L588.9 898.7 L589.9 899.3 L590.9 899.7 L591.9 900 L592.9 900.2 L593.9 900.4 L594.9 900.5 L595.9 900.5 L596.9 900.6 L597.9 900.7 L598.9 900.7 L599.9 900.7 L600.9 900.8 L601.9 900.8 L602.9 900.8 L603.9 900.8 L604.9 900.9 L605.9 900.9 L606.9 900.9 L607.9 900.9 L608.9 900.9 L609.9 901 L610.9 901 L611.9 901 L612.9 901 L613.9 901 L614.9 901 L615.9 901.1 L616.9 901.1 L617.9 901.1 L618.9 901.1 L619.9 901.1 L620.9 901.1 L621.9 901.1 L622.9 901.1 L623.9 901.2 L624.9 901.2 L625.9 901.2 L626.9 901.2 L627.9 901.2 L628.9 901.2 L629.9 901.2 L630.9 901.2 L631.9 901.2 L632.9 901.2 L633.9 901.2 L634.9 901.2 L635.9 901.2 L636.9 901.3 L637.9 901.3 L638.9 901.3 L639.9 901.3 L640.9 901.3 L641.9 901.3 L642.9 901.3 L643.9 901.3 L644.9 901.3 L645.9 901.3 L646.9 901.3 L647.9 901.3 L648.9 901.3 L649.9 901.3 L650.9 901.3 L651.9 901.3 L652.9 901.3 L653.9 901.3 L654.9 901.3 L655.9 901.3 L656.9 901.3 L657.9 901.3 L658.9 901.3 L659.9 901.3 L660.9 901.3 L661.9 901.2 L662.9 901.2 L663.9 901.2 L664.9 901.1 L665.9 901 L666.9 900.9 L667.9 900.8 L668.9 900.6 L669.9 900.4 L670.9 900.2 L671.9 899.9 L672.9 899.5 L673.9 899 L674.9 898.5 L675.9 897.8 L676.9 897 L677.9 896.1 L678.9 895 L679.9 893.7 L680.9 892.2 L681.9 890.5 L682.9 888.5 L683.9 886.5 L684.9 883.8 L685.9 881.1 L686.9 877.4 L687.9 873.7 L688.9 870.2 L689.9 865.4 L690.9 860.5 L691.9 855.8 L692.9 849.8 L693.9 843.2 L694.9 836.9 L695.9 830.7 L696.9 822.8 L697.9 816.5 L698.9 808.6 L699.9 801.5 L700.9 792.7 L701.9 786.2 L702.9 778.7 L703.9 772.4 L704.9 767.2 L705.9 759.6 L706.9 755.5 L707.9 751.3 L708.9 749.5 L709.9 747.4 L710.9 744.4 L711.9 742.9 L712.9 743.6 L713.9 747.1 L714.9 750.9 L715.9 753.8 L716.9 757.9 L717.9 766.5 L718.9 771.6 L719.9 781 L720.9 788.7 L721.9 797.8 L722.9 805.8 L723.9 814.2 L724.9 821.6 L725.9 829.9 L726.9 839.1 L727.9 846.4 L728.9 852.6 L729.9 859.9 L730.9 865.7 L731.9 870.9 L732.9 875.8 L733.9 879.9 L734.9 883.5 L735.9 886.6 L736.9 889.2 L737.9 891.6 L738.9 893.6 L739.9 895 L740.9 896.4 L741.9 897.5 L742.9 898.4 L743.9 899 L744.9 899.6 L745.9 900 L746.9 900.4 L747.9 900.6 L748.9 900.8 L749.9 901 L750.9 901.1 L751.9 901.2 L752.9 901.2 L753.9 901.3 L754.9 901.3 L755.9 901.3 L756.9 901.4 L757.9 901.4 L758.9 901.4 L759.9 901.4 L760.9 901.4 L761.9 901.4 L762.9 901.4 L763.9 901.4 L764.9 901.4 L765.9 901.4 L766.9 901.4 L767.9 901.4 L768.9 901.4 L769.9 901.4 L770.9 901.4 L771.9 901.4 L772.9 901.4 L773.9 901.4 L774.9 901.4 L775.9 901.4 L776.9 901.4 L777.9 901.4 L778.9 901.4 L779.9 901.4 L780.9 901.4 L781.9 901.4 L782.9 901.4 L783.9 901.4 L784.9 901.4 L785.9 901.4 L786.9 901.4 L787.9 901.4 L788.9 901.4 L789.9 901.4 L790.9 901.4 L791.9 901.4 L792.9 901.4 L793.9 901.4 L794.9 901.4 L795.9 901.4 L796.9 901.4 L797.9 901.4 L798.9 901.4 L799.9 901.4 L800.9 901.4 L801.9 901.4 L802.9 901.4 L803.9 901.4 L804.9 901.4 L805.9 901.4 L806.9 901.4 L807.9 901.4 L808.9 901.4 L809.9 901.4 L810.9 901.4 L811.9 901.4 L812.9 901.4 L813.9 901.4 L814.9 901.4 L815.9 901.4 L816.9 901.4 L817.9 901.4 L818.9 901.4 L819.9 901.4 L820.9 901.4 L821.9 901.4 L822.9 901.4 L823.9 901.4 L824.9 901.4 L825.9 901.4 L826.9 901.4 L827.9 901.4 L828.9 901.4 L829.9 901.4 L830.9 901.4 L831.3 901.4 Z" fill="rgb(66,142,63)" fill-opacity="0.63"/>
<path d="M585.9 894.8 L586.9 896.7 L587.9 897.9 L588.9 898.8 L589.9 899.3 L590.9 899.7 L591.9 900 L592.9 900.2 L593.9 900.3 L594.9 900.5 L595.9 900.5 L596.9 900.6 L597.9 900.7 L598.9 900.7 L599.9 900.7 L600.9 900.8 L601.9 900.8 L602.9 900.8 L603.9 900.9 L604.9 900.9 L605.9 900.9 L606.9 900.9 L607.9 900.9 L608.9 901 L609.9 901 L610.9 901 L611.9 901 L612.9 901 L613.9 901 L614.9 901 L615.9 901.1 L616.9 901.1 L617.9 901.1 L618.9 901.1 L619.9 901.1 L620.9 901.1 L621.9 901.1 L622.9 901.1 L623.9 901.2 L624.9 901.2 L625.9 901.2 L626.9 901.2 L627.9 901.2 L628.9 901.2 L629.9 901.2 L630.9 901.2 L631.9 901.2 L632.9 901.2 L633.9 901.2 L634.9 901.2 L635.9 901.2 L636.9 901.3 L637.9 901.3 L638.9 901.3 L639.9 901.3 L640.9 901.3 L641.9 901.3 L642.9 901.3 L643.9 901.3 L644.9 901.3 L645.9 901.3 L646.9 901.3 L647.9 901.3 L648.9 901.3 L649.9 901.3 L650.9 901.3 L651.9 901.3 L652.9 901.3 L653.9 901.3 L654.9 901.3 L655.9 901.3 L656.9 901.3 L657.9 901.3 L658.9 901.3 L659.9 901.3 L660.9 901.3 L661.9 901.3 L662.9 901.3 L663.9 901.4 L664.9 901.4 L665.9 901.4 L666.9 901.4 L667.9 901.4 L668.9 901.4 L669.9 901.4 L670.9 901.4 L671.9 901.4 L672.9 901.4 L673.9 901.4 L674.9 901.4 L675.9 901.4 L676.9 901.4 L677.9 901.4 L678.9 901.4 L679.9 901.4 L680.9 901.3 L681.9 901.3 L682.9 901.3 L683.9 901.3 L684.9 901.3 L685.9 901.2 L686.9 901.1 L687.9 901 L688.9 900.9 L689.9 900.7 L690.9 900.5 L691.9 900.1 L692.9 899.7 L693.9 899.2 L694.9 898.4 L695.9 897.6 L696.9 896.4 L697.9 895.1 L698.9 893.3 L699.9 891.3 L700.9 888.6 L701.9 885.6 L702.9 882.1 L703.9 877.5 L704.9 873.2 L705.9 867.3 L706.9 861.4 L707.9 854 L708.9 846.1 L709.9 837.8 L710.9 829.9 L711.9 820.2 L712.9 809.5 L713.9 798.4 L714.9 790.6 L715.9 778.8 L716.9 768.6 L717.9 758.7 L718.9 751.6 L719.9 742 L720.9 736.6 L721.9 729.3 L722.9 729 L723.9 722.5 L724.9 723.8 L725.9 724.2 L726.9 727.2 L727.9 729.1 L728.9 730.8 L729.9 735.8 L730.9 743.4 L731.9 749 L732.9 756.6 L733.9 763.9 L734.9 771.8 L735.9 779.7 L736.9 786.3 L737.9 794.8 L738.9 803.8 L739.9 812.7 L740.9 820.6 L741.9 827.7 L742.9 834.8 L743.9 841.9 L744.9 848.4 L745.9 854.8 L746.9 859.6 L747.9 864.3 L748.9 868.9 L749.9 873.3 L750.9 876.5 L751.9 879.9 L752.9 882.8 L753.9 885 L754.9 887.4 L755.9 889.4 L756.9 891.3 L757.9 892.7 L758.9 894.1 L759.9 895.3 L760.9 896.3 L761.9 897.2 L762.9 898 L763.9 898.7 L764.9 899.2 L765.9 899.7 L766.9 900 L767.9 900.3 L768.9 900.6 L769.9 900.8 L770.9 900.9 L771.9 901.1 L772.9 901.2 L773.9 901.2 L774.9 901.3 L775.9 901.3 L776.9 901.3 L777.9 901.4 L778.9 901.4 L779.9 901.4 L780.9 901.4 L781.9 901.4 L782.9 901.4 L783.9 901.4 L784.9 901.4 L785.9 901.4 L786.9 901.4 L787.9 901.4 L788.9 901.4 L789.9 901.4 L790.9 901.4 L791.9 901.4 L792.9 901.4 L793.9 901.4 L794.9 901.4 L795.9 901.4 L796.9 901.4 L797.9 901.4 L798.9 901.4 L799.9 901.4 L800.9 901.4 L801.9 901.4 L802.9 901.4 L803.9 901.4 L804.9 901.4 L805.9 901.4 L806.9 901.4 L807.9 901.4 L808.9 901.4 L809.9 901.4 L810.9 901.4 L811.9 901.4 L812.9 901.4 L813.9 901.4 L814.9 901.4 L815.9 901.4 L816.9 901.4 L817.9 901.4 L818.9 901.4 L819.9 901.4 L820.9 901.4 L821.9 901.4 L822.9 901.4 L823.9 901.4 L824.9 901.4 L825.9 901.4 L826.9 901.4 L827.9 901.4 L828.9 901.4 L829.9 901.4 L830.9 901.4" fill="none" stroke="#0b58b0" stroke-width="1.9" />
<path d="M585.9 894.8 L586.9 896.6 L587.9 897.9 L588.9 898.7 L589.9 899.3 L590.9 899.7 L591.9 900 L592.9 900.2 L593.9 900.4 L594.9 900.5 L595.9 900.5 L596.9 900.6 L597.9 900.7 L598.9 900.7 L599.9 900.7 L600.9 900.8 L601.9 900.8 L602.9 900.8 L603.9 900.8 L604.9 900.9 L605.9 900.9 L606.9 900.9 L607.9 900.9 L608.9 900.9 L609.9 901 L610.9 901 L611.9 901 L612.9 901 L613.9 901 L614.9 901 L615.9 901.1 L616.9 901.1 L617.9 901.1 L618.9 901.1 L619.9 901.1 L620.9 901.1 L621.9 901.1 L622.9 901.1 L623.9 901.2 L624.9 901.2 L625.9 901.2 L626.9 901.2 L627.9 901.2 L628.9 901.2 L629.9 901.2 L630.9 901.2 L631.9 901.2 L632.9 901.2 L633.9 901.2 L634.9 901.2 L635.9 901.2 L636.9 901.3 L637.9 901.3 L638.9 901.3 L639.9 901.3 L640.9 901.3 L641.9 901.3 L642.9 901.3 L643.9 901.3 L644.9 901.3 L645.9 901.3 L646.9 901.3 L647.9 901.3 L648.9 901.3 L649.9 901.3 L650.9 901.3 L651.9 901.3 L652.9 901.3 L653.9 901.3 L654.9 901.3 L655.9 901.3 L656.9 901.3 L657.9 901.3 L658.9 901.3 L659.9 901.3 L660.9 901.3 L661.9 901.2 L662.9 901.2 L663.9 901.2 L664.9 901.1 L665.9 901 L666.9 900.9 L667.9 900.8 L668.9 900.6 L669.9 900.4 L670.9 900.2 L671.9 899.9 L672.9 899.5 L673.9 899 L674.9 898.5 L675.9 897.8 L676.9 897 L677.9 896.1 L678.9 895 L679.9 893.7 L680.9 892.2 L681.9 890.5 L682.9 888.5 L683.9 886.5 L684.9 883.8 L685.9 881.1 L686.9 877.4 L687.9 873.7 L688.9 870.2 L689.9 865.4 L690.9 860.5 L691.9 855.8 L692.9 849.8 L693.9 843.2 L694.9 836.9 L695.9 830.7 L696.9 822.8 L697.9 816.5 L698.9 808.6 L699.9 801.5 L700.9 792.7 L701.9 786.2 L702.9 778.7 L703.9 772.4 L704.9 767.2 L705.9 759.6 L706.9 755.5 L707.9 751.3 L708.9 749.5 L709.9 747.4 L710.9 744.4 L711.9 742.9 L712.9 743.6 L713.9 747.1 L714.9 750.9 L715.9 753.8 L716.9 757.9 L717.9 766.5 L718.9 771.6 L719.9 781 L720.9 788.7 L721.9 797.8 L722.9 805.8 L723.9 814.2 L724.9 821.6 L725.9 829.9 L726.9 839.1 L727.9 846.4 L728.9 852.6 L729.9 859.9 L730.9 865.7 L731.9 870.9 L732.9 875.8 L733.9 879.9 L734.9 883.5 L735.9 886.6 L736.9 889.2 L737.9 891.6 L738.9 893.6 L739.9 895 L740.9 896.4 L741.9 897.5 L742.9 898.4 L743.9 899 L744.9 899.6 L745.9 900 L746.9 900.4 L747.9 900.6 L748.9 900.8 L749.9 901 L750.9 901.1 L751.9 901.2 L752.9 901.2 L753.9 901.3 L754.9 901.3 L755.9 901.3 L756.9 901.4 L757.9 901.4 L758.9 901.4 L759.9 901.4 L760.9 901.4 L761.9 901.4 L762.9 901.4 L763.9 901.4 L764.9 901.4 L765.9 901.4 L766.9 901.4 L767.9 901.4 L768.9 901.4 L769.9 901.4 L770.9 901.4 L771.9 901.4 L772.9 901.4 L773.9 901.4 L774.9 901.4 L775.9 901.4 L776.9 901.4 L777.9 901.4 L778.9 901.4 L779.9 901.4 L780.9 901.4 L781.9 901.4 L782.9 901.4 L783.9 901.4 L784.9 901.4 L785.9 901.4 L786.9 901.4 L787.9 901.4 L788.9 901.4 L789.9 901.4 L790.9 901.4 L791.9 901.4 L792.9 901.4 L793.9 901.4 L794.9 901.4 L795.9 901.4 L796.9 901.4 L797.9 901.4 L798.9 901.4 L799.9 901.4 L800.9 901.4 L801.9 901.4 L802.9 901.4 L803.9 901.4 L804.9 901.4 L805.9 901.4 L806.9 901.4 L807.9 901.4 L808.9 901.4 L809.9 901.4 L810.9 901.4 L811.9 901.4 L812.9 901.4 L813.9 901.4 L814.9 901.4 L815.9 901.4 L816.9 901.4 L817.9 901.4 L818.9 901.4 L819.9 901.4 L820.9 901.4 L821.9 901.4 L822.9 901.4 L823.9 901.4 L824.9 901.4 L825.9 901.4 L826.9 901.4 L827.9 901.4 L828.9 901.4 L829.9 901.4 L830.9 901.4" fill="none" stroke="#138a10" stroke-width="1.9" />
<rect x="585.6" y="698.4" width="246" height="204.2" fill="none" stroke="#000" stroke-width="2.4" />
<text x="590.4" y="715.5" font-size="18" fill="#b4b4b4" textLength="46" lengthAdjust="spacingAndGlyphs" stroke="#b4b4b4" stroke-width="0.4" >mock</text>
<text x="590.4" y="738.5" font-size="18" fill="#606060" textLength="72" lengthAdjust="spacingAndGlyphs" stroke="#606060" stroke-width="0.4" >PltB<tspan font-size="0.78em" dy="-0.5em">S35A</tspan></text>
<text x="590.4" y="760.5" font-size="18" fill="#0b4d9a" textLength="31" lengthAdjust="spacingAndGlyphs" stroke="#0b4d9a" stroke-width="0.4" >WT</text>
<text x="590.4" y="781" font-size="18" fill="#3c8a00" textLength="90" lengthAdjust="spacingAndGlyphs" stroke="#3c8a00" stroke-width="0.4" >CdtB<tspan font-size="0.78em" dy="-0.5em">H160Q</tspan></text>
<text x="683" y="690.5" font-size="30" textLength="67" lengthAdjust="spacingAndGlyphs" stroke="#000" stroke-width="0.6" >16 hr</text>
<line x1="585.4" y1="902.6" x2="585.4" y2="907.6" stroke="#000" stroke-width="1.8" />
<text x="585.9" y="917.1" font-size="10.5" text-anchor="middle" font-weight="bold" >0</text>
<line x1="647.1" y1="902.6" x2="647.1" y2="907.6" stroke="#000" stroke-width="1.8" />
<text x="645.6" y="917.1" font-size="10.5" text-anchor="middle" font-weight="bold" >10</text>
<text x="651.6" y="912.1" font-size="6" text-anchor="middle" font-weight="bold" >1</text>
<line x1="708.8" y1="902.6" x2="708.8" y2="907.6" stroke="#000" stroke-width="1.8" />
<text x="707.3" y="917.1" font-size="10.5" text-anchor="middle" font-weight="bold" >10</text>
<text x="713.3" y="912.1" font-size="6" text-anchor="middle" font-weight="bold" >2</text>
<line x1="770.5" y1="902.6" x2="770.5" y2="907.6" stroke="#000" stroke-width="1.8" />
<text x="769" y="917.1" font-size="10.5" text-anchor="middle" font-weight="bold" >10</text>
<text x="775" y="912.1" font-size="6" text-anchor="middle" font-weight="bold" >3</text>
<line x1="832.2" y1="902.6" x2="832.2" y2="907.6" stroke="#000" stroke-width="1.8" />
<text x="830.7" y="917.1" font-size="10.5" text-anchor="middle" font-weight="bold" >10</text>
<text x="836.7" y="912.1" font-size="6" text-anchor="middle" font-weight="bold" >4</text>
<text x="707.6" y="946.5" font-size="23" text-anchor="middle" textLength="183" lengthAdjust="spacingAndGlyphs" stroke="#000" stroke-width="0.9" >MitoSOX (FL-2)</text>
<rect x="124.9" y="1045.3" width="26.9" height="123.2" fill="#e4e4e4" stroke="#000" stroke-width="2.7" />
<rect x="169.2" y="1045.3" width="26.8" height="123.2" fill="#a8a8a8" stroke="#000" stroke-width="2.7" />
<rect x="213.4" y="1043.5" width="26.9" height="125" fill="#025497" stroke="#000" stroke-width="2.7" />
<rect x="258.6" y="1049.9" width="26.9" height="118.7" fill="#4f8c00" stroke="#000" stroke-width="2.7" />
<line x1="272" y1="1042" x2="272" y2="1058" stroke="#000" stroke-width="2.7" />
<line x1="265.5" y1="1042" x2="278.5" y2="1042" stroke="#000" stroke-width="2.7" />
<line x1="265.5" y1="1058" x2="278.5" y2="1058" stroke="#000" stroke-width="2.7" />
<circle cx="129" cy="1044.5" r="4.3" fill="#000"/>
<circle cx="138.4" cy="1044.5" r="4.3" fill="#000"/>
<circle cx="147.8" cy="1044.5" r="4.3" fill="#000"/>
<circle cx="173" cy="1041.5" r="4.3" fill="#000"/>
<circle cx="180" cy="1045" r="4.3" fill="#000"/>
<circle cx="186" cy="1046" r="4.3" fill="#000"/>
<circle cx="192" cy="1047" r="4.3" fill="#000"/>
<circle cx="216.5" cy="1042" r="4.3" fill="#000"/>
<circle cx="226" cy="1042" r="4.3" fill="#000"/>
<circle cx="236" cy="1044" r="4.3" fill="#000"/>
<circle cx="262" cy="1044" r="4.3" fill="#000"/>
<circle cx="280" cy="1044" r="4.3" fill="#000"/>
<circle cx="272" cy="1059" r="4.3" fill="#000"/>
<line x1="109.4" y1="1169.3" x2="109.4" y2="982.3" stroke="#000" stroke-width="2.4" />
<line x1="102.9" y1="1168.1" x2="302.8" y2="1168.1" stroke="#000" stroke-width="2.4" />
<line x1="102.9" y1="1168.1" x2="109.4" y2="1168.1" stroke="#000" stroke-width="2.4" />
<text x="102.7" y="1174.7" font-size="14.8" text-anchor="end" textLength="21.3" lengthAdjust="spacingAndGlyphs" stroke="#000" stroke-width="0.33" >0.0</text>
<line x1="102.9" y1="1106.2" x2="109.4" y2="1106.2" stroke="#000" stroke-width="2.4" />
<text x="102.7" y="1112.8" font-size="14.8" text-anchor="end" textLength="21.3" lengthAdjust="spacingAndGlyphs" stroke="#000" stroke-width="0.33" >0.5</text>
<line x1="102.9" y1="1044.4" x2="109.4" y2="1044.4" stroke="#000" stroke-width="2.4" />
<text x="102.7" y="1051" font-size="14.8" text-anchor="end" textLength="21.3" lengthAdjust="spacingAndGlyphs" stroke="#000" stroke-width="0.33" >1.0</text>
<line x1="102.9" y1="982.5" x2="109.4" y2="982.5" stroke="#000" stroke-width="2.4" />
<text x="102.7" y="989.1" font-size="14.8" text-anchor="end" textLength="21.3" lengthAdjust="spacingAndGlyphs" stroke="#000" stroke-width="0.33" >1.5</text>
<line x1="138.4" y1="1168.1" x2="138.4" y2="1174.6" stroke="#000" stroke-width="2.4" />
<line x1="182.5" y1="1168.1" x2="182.5" y2="1174.6" stroke="#000" stroke-width="2.4" />
<line x1="226.9" y1="1168.1" x2="226.9" y2="1174.6" stroke="#000" stroke-width="2.4" />
<line x1="272" y1="1168.1" x2="272" y2="1174.6" stroke="#000" stroke-width="2.4" />
<line x1="140.4" y1="1013.9" x2="226.5" y2="1013.9" stroke="#000" stroke-width="2.2" />
<text x="184" y="1008.5" font-size="19" text-anchor="middle" stroke="#000" stroke-width="0.42" >ns</text>
<line x1="186" y1="1018.4" x2="226.5" y2="1018.4" stroke="#000" stroke-width="2.2" />
<line x1="228.9" y1="1018.4" x2="270.9" y2="1018.4" stroke="#000" stroke-width="2.2" />
<text x="251" y="1013" font-size="19" text-anchor="middle" stroke="#000" stroke-width="0.42" >ns</text>
<text x="150.4" y="1188" font-size="24" text-anchor="end" transform="rotate(-45 150.4 1188)" stroke="#000" stroke-width="0.53" >mock</text>
<text x="194.5" y="1188" font-size="24" text-anchor="end" transform="rotate(-45 194.5 1188)" stroke="#000" stroke-width="0.53" >PltB<tspan font-size="0.78em" dy="-0.28em">S35A</tspan></text>
<text x="238.9" y="1188" font-size="24" text-anchor="end" transform="rotate(-45 238.9 1188)" stroke="#000" stroke-width="0.53" >WT</text>
<text x="284" y="1188" font-size="24" text-anchor="end" transform="rotate(-45 284 1188)" stroke="#000" stroke-width="0.53" >CdtB<tspan font-size="0.78em" dy="-0.28em">H160Q</tspan></text>
<text x="42.7" y="1063" font-size="20" text-anchor="middle" font-weight="bold" textLength="77.5" lengthAdjust="spacingAndGlyphs" transform="rotate(-90 42.7 1063)" >MitoSox</text>
<text x="68.5" y="1066" font-size="22.5" text-anchor="middle" textLength="209" lengthAdjust="spacingAndGlyphs" transform="rotate(-90 68.5 1066)" stroke="#000" stroke-width="0.49" >(relative fold change)</text>
<rect x="400" y="1043.5" width="26.8" height="123.7" fill="#e4e4e4" stroke="#000" stroke-width="2.7" />
<rect x="444.7" y="1031.3" width="26.5" height="135.9" fill="#a8a8a8" stroke="#000" stroke-width="2.7" />
<rect x="488.4" y="1034.9" width="27.1" height="132.4" fill="#025497" stroke="#000" stroke-width="2.7" />
<rect x="533.1" y="1038.5" width="26.5" height="128.7" fill="#4f8c00" stroke="#000" stroke-width="2.7" />
<line x1="457.5" y1="1013" x2="457.5" y2="1048.6" stroke="#000" stroke-width="2.7" />
<line x1="451" y1="1013" x2="464" y2="1013" stroke="#000" stroke-width="2.7" />
<line x1="451" y1="1048.6" x2="464" y2="1048.6" stroke="#000" stroke-width="2.7" />
<line x1="501.8" y1="1022" x2="501.8" y2="1045.8" stroke="#000" stroke-width="2.7" />
<line x1="495.3" y1="1022" x2="508.3" y2="1022" stroke="#000" stroke-width="2.7" />
<line x1="495.3" y1="1045.8" x2="508.3" y2="1045.8" stroke="#000" stroke-width="2.7" />
<line x1="546.4" y1="1022.6" x2="546.4" y2="1053.7" stroke="#000" stroke-width="2.7" />
<line x1="539.9" y1="1022.6" x2="552.9" y2="1022.6" stroke="#000" stroke-width="2.7" />
<line x1="539.9" y1="1053.7" x2="552.9" y2="1053.7" stroke="#000" stroke-width="2.7" />
<circle cx="404" cy="1042.7" r="4.3" fill="#000"/>
<circle cx="413.2" cy="1042.7" r="4.3" fill="#000"/>
<circle cx="422.5" cy="1042.7" r="4.3" fill="#000"/>
<circle cx="457.3" cy="1009.3" r="4.3" fill="#000"/>
<circle cx="450" cy="1038.5" r="4.3" fill="#000"/>
<circle cx="465.2" cy="1042.7" r="4.3" fill="#000"/>
<circle cx="501.7" cy="1019.4" r="4.3" fill="#000"/>
<circle cx="494.4" cy="1039.8" r="4.3" fill="#000"/>
<circle cx="509.5" cy="1040.3" r="4.3" fill="#000"/>
<circle cx="546.4" cy="1019.4" r="4.3" fill="#000"/>
<circle cx="538.2" cy="1042.7" r="4.3" fill="#000"/>
<circle cx="553.7" cy="1049.5" r="4.3" fill="#000"/>
<line x1="384" y1="1168" x2="384" y2="980.5" stroke="#000" stroke-width="2.4" />
<line x1="377.5" y1="1166.8" x2="578" y2="1166.8" stroke="#000" stroke-width="2.4" />
<line x1="377.5" y1="1166.8" x2="384" y2="1166.8" stroke="#000" stroke-width="2.4" />
<text x="375" y="1173.4" font-size="14.8" text-anchor="end" textLength="21.3" lengthAdjust="spacingAndGlyphs" stroke="#000" stroke-width="0.33" >0.0</text>
<line x1="377.5" y1="1104.8" x2="384" y2="1104.8" stroke="#000" stroke-width="2.4" />
<text x="375" y="1111.4" font-size="14.8" text-anchor="end" textLength="21.3" lengthAdjust="spacingAndGlyphs" stroke="#000" stroke-width="0.33" >0.5</text>
<line x1="377.5" y1="1042.7" x2="384" y2="1042.7" stroke="#000" stroke-width="2.4" />
<text x="375" y="1049.3" font-size="14.8" text-anchor="end" textLength="21.3" lengthAdjust="spacingAndGlyphs" stroke="#000" stroke-width="0.33" >1.0</text>
<line x1="377.5" y1="980.7" x2="384" y2="980.7" stroke="#000" stroke-width="2.4" />
<text x="375" y="987.3" font-size="14.8" text-anchor="end" textLength="21.3" lengthAdjust="spacingAndGlyphs" stroke="#000" stroke-width="0.33" >1.5</text>
<line x1="413.3" y1="1166.8" x2="413.3" y2="1173.3" stroke="#000" stroke-width="2.4" />
<line x1="457.9" y1="1166.8" x2="457.9" y2="1173.3" stroke="#000" stroke-width="2.4" />
<line x1="501.9" y1="1166.8" x2="501.9" y2="1173.3" stroke="#000" stroke-width="2.4" />
<line x1="546.4" y1="1166.8" x2="546.4" y2="1173.3" stroke="#000" stroke-width="2.4" />
<line x1="414.6" y1="997.8" x2="500.8" y2="997.8" stroke="#000" stroke-width="2.2" />
<text x="458.3" y="992.5" font-size="19" text-anchor="middle" stroke="#000" stroke-width="0.42" >ns</text>
<line x1="460.6" y1="1002.6" x2="500.8" y2="1002.6" stroke="#000" stroke-width="2.2" />
<line x1="503.5" y1="1002.6" x2="544.6" y2="1002.6" stroke="#000" stroke-width="2.2" />
<text x="524.5" y="997" font-size="19" text-anchor="middle" stroke="#000" stroke-width="0.42" >ns</text>
<text x="425.3" y="1187" font-size="24" text-anchor="end" transform="rotate(-45 425.3 1187)" stroke="#000" stroke-width="0.53" >mock</text>
<text x="469.9" y="1187" font-size="24" text-anchor="end" transform="rotate(-45 469.9 1187)" stroke="#000" stroke-width="0.53" >PltB<tspan font-size="0.78em" dy="-0.28em">S35A</tspan></text>
<text x="513.9" y="1187" font-size="24" text-anchor="end" transform="rotate(-45 513.9 1187)" stroke="#000" stroke-width="0.53" >WT</text>
<text x="558.4" y="1187" font-size="24" text-anchor="end" transform="rotate(-45 558.4 1187)" stroke="#000" stroke-width="0.53" >CdtB<tspan font-size="0.78em" dy="-0.28em">H160Q</tspan></text>
<text x="317.3" y="1063" font-size="20" text-anchor="middle" font-weight="bold" textLength="77.5" lengthAdjust="spacingAndGlyphs" transform="rotate(-90 317.3 1063)" >MitoSox</text>
<text x="343" y="1066" font-size="22.5" text-anchor="middle" textLength="209" lengthAdjust="spacingAndGlyphs" transform="rotate(-90 343 1066)" stroke="#000" stroke-width="0.49" >(relative fold change)</text>
<rect x="663.1" y="1040.8" width="26.5" height="122.9" fill="#e4e4e4" stroke="#000" stroke-width="2.7" />
<rect x="707.8" y="1039.3" width="26.5" height="124.4" fill="#a8a8a8" stroke="#000" stroke-width="2.7" />
<rect x="752.1" y="1002.5" width="26.5" height="161.3" fill="#025497" stroke="#000" stroke-width="2.7" />
<rect x="796.5" y="1027.6" width="26.5" height="136.1" fill="#4f8c00" stroke="#000" stroke-width="2.7" />
<line x1="765.4" y1="997" x2="765.4" y2="1004" stroke="#000" stroke-width="2.7" />
<line x1="759.4" y1="997" x2="771.4" y2="997" stroke="#000" stroke-width="2.7" />
<line x1="759.4" y1="1004" x2="771.4" y2="1004" stroke="#000" stroke-width="2.7" />
<circle cx="667" cy="1040" r="4.3" fill="#000"/>
<circle cx="676" cy="1040" r="4.3" fill="#000"/>
<circle cx="685" cy="1040" r="4.3" fill="#000"/>
<circle cx="712" cy="1037" r="4.3" fill="#000"/>
<circle cx="720" cy="1038" r="4.3" fill="#000"/>
<circle cx="727" cy="1039" r="4.3" fill="#000"/>
<circle cx="731" cy="1040" r="4.3" fill="#000"/>
<circle cx="754" cy="997" r="4.3" fill="#000"/>
<circle cx="760" cy="999" r="4.3" fill="#000"/>
<circle cx="773" cy="1002" r="4.3" fill="#000"/>
<circle cx="776" cy="1005" r="4.3" fill="#000"/>
<circle cx="797" cy="1022" r="4.3" fill="#000"/>
<circle cx="806" cy="1026" r="4.3" fill="#000"/>
<circle cx="814" cy="1027" r="4.3" fill="#000"/>
<circle cx="820" cy="1027" r="4.3" fill="#000"/>
<line x1="647.6" y1="1164.4" x2="647.6" y2="977.5" stroke="#000" stroke-width="2.4" />
<line x1="641.1" y1="1163.2" x2="835" y2="1163.2" stroke="#000" stroke-width="2.4" />
<line x1="641.1" y1="1163.2" x2="647.6" y2="1163.2" stroke="#000" stroke-width="2.4" />
<text x="637.6" y="1169.8" font-size="14.8" text-anchor="end" textLength="21.3" lengthAdjust="spacingAndGlyphs" stroke="#000" stroke-width="0.33" >0.0</text>
<line x1="641.1" y1="1101.4" x2="647.6" y2="1101.4" stroke="#000" stroke-width="2.4" />
<text x="637.6" y="1108" font-size="14.8" text-anchor="end" textLength="21.3" lengthAdjust="spacingAndGlyphs" stroke="#000" stroke-width="0.33" >0.5</text>
<line x1="641.1" y1="1039.5" x2="647.6" y2="1039.5" stroke="#000" stroke-width="2.4" />
<text x="637.6" y="1046.1" font-size="14.8" text-anchor="end" textLength="21.3" lengthAdjust="spacingAndGlyphs" stroke="#000" stroke-width="0.33" >1.0</text>
<line x1="641.1" y1="977.7" x2="647.6" y2="977.7" stroke="#000" stroke-width="2.4" />
<text x="637.6" y="984.3" font-size="14.8" text-anchor="end" textLength="21.3" lengthAdjust="spacingAndGlyphs" stroke="#000" stroke-width="0.33" >1.5</text>
<line x1="676.3" y1="1163.2" x2="676.3" y2="1169.7" stroke="#000" stroke-width="2.4" />
<line x1="721" y1="1163.2" x2="721" y2="1169.7" stroke="#000" stroke-width="2.4" />
<line x1="765.4" y1="1163.2" x2="765.4" y2="1169.7" stroke="#000" stroke-width="2.4" />
<line x1="809.7" y1="1163.2" x2="809.7" y2="1169.7" stroke="#000" stroke-width="2.4" />
<line x1="678.7" y1="981.4" x2="764.5" y2="981.4" stroke="#000" stroke-width="2.2" />
<text x="723.5" y="985.5" font-size="17" text-anchor="middle" font-weight="bold" >****</text>
<line x1="724.3" y1="985" x2="764.5" y2="985" stroke="#000" stroke-width="2.2" />
<line x1="767.2" y1="985" x2="808.8" y2="985" stroke="#000" stroke-width="2.2" />
<text x="785.8" y="989.1" font-size="17" text-anchor="middle" font-weight="bold" >***</text>
<text x="688.3" y="1184" font-size="24" text-anchor="end" transform="rotate(-45 688.3 1184)" stroke="#000" stroke-width="0.53" >mock</text>
<text x="733" y="1184" font-size="24" text-anchor="end" transform="rotate(-45 733 1184)" stroke="#000" stroke-width="0.53" >PltB<tspan font-size="0.78em" dy="-0.28em">S35A</tspan></text>
<text x="777.4" y="1184" font-size="24" text-anchor="end" transform="rotate(-45 777.4 1184)" stroke="#000" stroke-width="0.53" >WT</text>
<text x="821.7" y="1184" font-size="24" text-anchor="end" transform="rotate(-45 821.7 1184)" stroke="#000" stroke-width="0.53" >CdtB<tspan font-size="0.78em" dy="-0.28em">H160Q</tspan></text>
<text x="581.5" y="1060" font-size="20" text-anchor="middle" font-weight="bold" textLength="78.5" lengthAdjust="spacingAndGlyphs" transform="rotate(-90 581.5 1060)" >MitoSox</text>
<text x="606.5" y="1062.6" font-size="22.5" text-anchor="middle" textLength="209" lengthAdjust="spacingAndGlyphs" transform="rotate(-90 606.5 1062.6)" stroke="#000" stroke-width="0.49" >(relative fold change)</text>
<rect x="948" y="100.8" width="522.2" height="60.7" fill="#fff" />
<g filter="url(#bh)">
<path d="M1014 130.0 L1013 132.9 L1010 134.7 L1005 136.0 L999 136.8 L989 137.1 L978 136.8 L972 136.0 L967 134.7 L964 132.9 L964 130.0 L964 127.1 L967 125.3 L972 124.0 L978 123.2 L988 123.0 L999 123.2 L1005 124.0 L1010 125.3 L1013 127.1 Z" fill="#000" fill-opacity="0.072"/>
<path d="M1074 130.0 L1074 132.9 L1071 134.7 L1066 136.0 L1060 136.8 L1050 137.1 L1039 136.8 L1033 136.0 L1028 134.7 L1025 132.9 L1024 130.0 L1025 127.1 L1028 125.3 L1033 124.0 L1039 123.2 L1049 123.0 L1060 123.2 L1066 124.0 L1071 125.3 L1074 127.1 Z" fill="#000" fill-opacity="0.062"/>
<path d="M1138 130.0 L1138 132.9 L1135 134.7 L1130 136.0 L1124 136.8 L1114 137.1 L1103 136.8 L1097 136.0 L1092 134.7 L1089 132.9 L1088 130.0 L1089 127.1 L1092 125.3 L1097 124.0 L1103 123.2 L1113 123.0 L1124 123.2 L1130 124.0 L1135 125.3 L1138 127.1 Z" fill="#000" fill-opacity="0.062"/>
<path d="M1202 130.0 L1201 132.7 L1198 134.4 L1194 135.6 L1187 136.4 L1177 136.6 L1167 136.4 L1160 135.6 L1156 134.4 L1153 132.7 L1152 130.0 L1153 127.3 L1156 125.6 L1160 124.4 L1167 123.6 L1177 123.4 L1187 123.6 L1194 124.4 L1198 125.6 L1201 127.3 Z" fill="#000" fill-opacity="0.055"/>
<path d="M1268 130.0 L1267 133.4 L1264 135.6 L1260 137.1 L1253 138.1 L1243 138.4 L1233 138.1 L1226 137.1 L1222 135.6 L1219 133.4 L1218 130.0 L1219 126.6 L1222 124.4 L1226 122.9 L1233 121.9 L1243 121.6 L1253 121.9 L1260 122.9 L1264 124.4 L1267 126.6 Z" fill="#000" fill-opacity="0.088"/>
<path d="M1332 130.0 L1332 132.9 L1329 134.7 L1324 136.0 L1318 136.8 L1308 137.1 L1297 136.8 L1291 136.0 L1286 134.7 L1283 132.9 L1282 130.0 L1283 127.1 L1286 125.3 L1291 124.0 L1297 123.2 L1307 123.0 L1318 123.2 L1324 124.0 L1329 125.3 L1332 127.1 Z" fill="#000" fill-opacity="0.058"/>
<path d="M1396 130.0 L1395 132.9 L1392 134.7 L1388 136.0 L1381 136.8 L1371 137.1 L1361 136.8 L1354 136.0 L1350 134.7 L1347 132.9 L1346 130.0 L1347 127.1 L1350 125.3 L1354 124.0 L1361 123.2 L1371 123.0 L1381 123.2 L1388 124.0 L1392 125.3 L1395 127.1 Z" fill="#000" fill-opacity="0.068"/>
<path d="M1461 130.0 L1460 133.0 L1457 135.0 L1453 136.4 L1446 137.2 L1436 137.5 L1426 137.2 L1419 136.4 L1415 135.0 L1412 133.0 L1411 130.0 L1412 127.0 L1415 125.0 L1419 123.6 L1426 122.8 L1436 122.5 L1446 122.8 L1453 123.6 L1457 125.0 L1460 127.0 Z" fill="#000" fill-opacity="0.075"/>
</g>
<g filter="url(#bb0)">
<path d="M1014 128.0 L1013 129.2 L1010 129.9 L1005 130.4 L999 130.7 L989 130.8 L978 130.7 L972 130.4 L967 129.9 L964 129.2 L964 128.0 L964 126.8 L967 126.1 L972 125.6 L978 125.3 L988 125.2 L999 125.3 L1005 125.6 L1010 126.1 L1013 126.8 Z" fill="#000" fill-opacity="0.662"/>
<path d="M1074 128.0 L1074 129.2 L1071 129.9 L1066 130.4 L1060 130.7 L1050 130.8 L1039 130.7 L1033 130.4 L1028 129.9 L1025 129.2 L1024 128.0 L1025 126.8 L1028 126.1 L1033 125.6 L1039 125.3 L1049 125.2 L1060 125.3 L1066 125.6 L1071 126.1 L1074 126.8 Z" fill="#000" fill-opacity="0.570"/>
<path d="M1138 128.0 L1138 129.2 L1135 129.9 L1130 130.4 L1124 130.7 L1114 130.8 L1103 130.7 L1097 130.4 L1092 129.9 L1089 129.2 L1088 128.0 L1089 126.8 L1092 126.1 L1097 125.6 L1103 125.3 L1113 125.2 L1124 125.3 L1130 125.6 L1135 126.1 L1138 126.8 Z" fill="#000" fill-opacity="0.570"/>
<path d="M1202 128.0 L1201 129.1 L1198 129.7 L1194 130.2 L1187 130.5 L1177 130.6 L1167 130.5 L1160 130.2 L1156 129.7 L1153 129.1 L1152 128.0 L1153 126.9 L1156 126.3 L1160 125.8 L1167 125.5 L1177 125.4 L1187 125.5 L1194 125.8 L1198 126.3 L1201 126.9 Z" fill="#000" fill-opacity="0.506"/>
<path d="M1268 128.0 L1267 129.5 L1264 130.4 L1260 131.1 L1253 131.5 L1243 131.6 L1233 131.5 L1226 131.1 L1222 130.4 L1219 129.5 L1218 128.0 L1219 126.5 L1222 125.6 L1226 124.9 L1233 124.5 L1243 124.4 L1253 124.5 L1260 124.9 L1264 125.6 L1267 126.5 Z" fill="#000" fill-opacity="0.810"/>
<path d="M1264 128.0 L1263 128.8 L1260 129.3 L1257 129.6 L1251 129.8 L1243 129.9 L1235 129.8 L1229 129.6 L1226 129.3 L1223 128.8 L1222 128.0 L1223 127.2 L1226 126.7 L1229 126.4 L1235 126.2 L1243 126.1 L1251 126.2 L1257 126.4 L1260 126.7 L1263 127.2 Z" fill="#000" fill-opacity="0.405"/>
<path d="M1332 128.0 L1332 129.2 L1329 129.9 L1324 130.4 L1318 130.7 L1308 130.8 L1297 130.7 L1291 130.4 L1286 129.9 L1283 129.2 L1282 128.0 L1283 126.8 L1286 126.1 L1291 125.6 L1297 125.3 L1307 125.2 L1318 125.3 L1324 125.6 L1329 126.1 L1332 126.8 Z" fill="#000" fill-opacity="0.534"/>
<path d="M1396 128.0 L1395 129.2 L1392 129.9 L1388 130.4 L1381 130.7 L1371 130.8 L1361 130.7 L1354 130.4 L1350 129.9 L1347 129.2 L1346 128.0 L1347 126.8 L1350 126.1 L1354 125.6 L1361 125.3 L1371 125.2 L1381 125.3 L1388 125.6 L1392 126.1 L1395 126.8 Z" fill="#000" fill-opacity="0.626"/>
<path d="M1461 128.0 L1460 129.3 L1457 130.1 L1453 130.6 L1446 131.0 L1436 131.1 L1426 131.0 L1419 130.6 L1415 130.1 L1412 129.3 L1411 128.0 L1412 126.7 L1415 125.9 L1419 125.4 L1426 125.0 L1436 124.9 L1446 125.0 L1453 125.4 L1457 125.9 L1460 126.7 Z" fill="#000" fill-opacity="0.690"/>
</g>
<rect x="948" y="100.8" width="522.2" height="60.7" fill="none" stroke="#000" stroke-width="3" />
<text x="1478.5" y="142" font-size="28.8" stroke="#000" stroke-width="1.1" >cGAS</text>
<rect x="948" y="169.5" width="522.2" height="58.4" fill="#fff" />
<g filter="url(#bh)">
<path d="M1268 200.0 L1267 203.2 L1264 205.3 L1260 206.8 L1253 207.6 L1243 207.9 L1233 207.6 L1226 206.8 L1222 205.3 L1219 203.2 L1218 200.0 L1219 196.8 L1222 194.7 L1226 193.2 L1233 192.4 L1243 192.1 L1253 192.4 L1260 193.2 L1264 194.7 L1267 196.8 Z" fill="#000" fill-opacity="0.100"/>
</g>
<g filter="url(#bb1)">
<path d="M1014 198.0 L1013 199.3 L1010 200.1 L1005 200.6 L999 201.0 L989 201.1 L978 201.0 L972 200.6 L967 200.1 L964 199.3 L964 198.0 L964 196.7 L967 195.9 L972 195.4 L978 195.0 L988 194.9 L999 195.0 L1005 195.4 L1010 195.9 L1013 196.7 Z" fill="#000" fill-opacity="0.046"/>
<path d="M1074 198.0 L1074 199.3 L1071 200.1 L1066 200.6 L1060 201.0 L1050 201.1 L1039 201.0 L1033 200.6 L1028 200.1 L1025 199.3 L1024 198.0 L1025 196.7 L1028 195.9 L1033 195.4 L1039 195.0 L1049 194.9 L1060 195.0 L1066 195.4 L1071 195.9 L1074 196.7 Z" fill="#000" fill-opacity="0.046"/>
<path d="M1138 198.0 L1138 199.3 L1135 200.1 L1130 200.6 L1124 201.0 L1114 201.1 L1103 201.0 L1097 200.6 L1092 200.1 L1089 199.3 L1088 198.0 L1089 196.7 L1092 195.9 L1097 195.4 L1103 195.0 L1113 194.9 L1124 195.0 L1130 195.4 L1135 195.9 L1138 196.7 Z" fill="#000" fill-opacity="0.064"/>
<path d="M1202 198.0 L1201 199.3 L1198 200.1 L1194 200.6 L1187 201.0 L1177 201.1 L1167 201.0 L1160 200.6 L1156 200.1 L1153 199.3 L1152 198.0 L1153 196.7 L1156 195.9 L1160 195.4 L1167 195.0 L1177 194.9 L1187 195.0 L1194 195.4 L1198 195.9 L1201 196.7 Z" fill="#000" fill-opacity="0.046"/>
<path d="M1268 198.0 L1267 199.4 L1264 200.2 L1260 200.8 L1253 201.2 L1243 201.3 L1233 201.2 L1226 200.8 L1222 200.2 L1219 199.4 L1218 198.0 L1219 196.6 L1222 195.8 L1226 195.2 L1233 194.8 L1243 194.7 L1253 194.8 L1260 195.2 L1264 195.8 L1267 196.6 Z" fill="#000" fill-opacity="0.920"/>
<path d="M1264 198.0 L1263 198.7 L1260 199.2 L1257 199.5 L1251 199.7 L1243 199.8 L1235 199.7 L1229 199.5 L1226 199.2 L1223 198.7 L1222 198.0 L1223 197.3 L1226 196.8 L1229 196.5 L1235 196.3 L1243 196.2 L1251 196.3 L1257 196.5 L1260 196.8 L1263 197.3 Z" fill="#000" fill-opacity="0.460"/>
<path d="M1332 198.0 L1332 199.3 L1329 200.1 L1324 200.6 L1318 201.0 L1308 201.1 L1297 201.0 L1291 200.6 L1286 200.1 L1283 199.3 L1282 198.0 L1283 196.7 L1286 195.9 L1291 195.4 L1297 195.0 L1307 194.9 L1318 195.0 L1324 195.4 L1329 195.9 L1332 196.7 Z" fill="#000" fill-opacity="0.032"/>
<path d="M1396 198.0 L1395 199.3 L1392 200.1 L1388 200.6 L1381 201.0 L1371 201.1 L1361 201.0 L1354 200.6 L1350 200.1 L1347 199.3 L1346 198.0 L1347 196.7 L1350 195.9 L1354 195.4 L1361 195.0 L1371 194.9 L1381 195.0 L1388 195.4 L1392 195.9 L1395 196.7 Z" fill="#000" fill-opacity="0.037"/>
<path d="M1461 198.0 L1460 199.3 L1457 200.1 L1453 200.6 L1446 201.0 L1436 201.1 L1426 201.0 L1419 200.6 L1415 200.1 L1412 199.3 L1411 198.0 L1412 196.7 L1415 195.9 L1419 195.4 L1426 195.0 L1436 194.9 L1446 195.0 L1453 195.4 L1457 195.9 L1460 196.7 Z" fill="#000" fill-opacity="0.046"/>
</g>
<rect x="948" y="169.5" width="522.2" height="58.4" fill="none" stroke="#000" stroke-width="3" />
<text x="1478.5" y="214" font-size="28.8" stroke="#000" stroke-width="1.1" >p-STING</text>
<rect x="948" y="238.4" width="522.2" height="57.9" fill="#fff" />
<g filter="url(#bh)">
<path d="M1018 267.5 L1016 272.4 L1013 275.5 L1008 277.7 L1000 279.0 L989 279.5 L977 279.0 L969 277.7 L964 275.5 L961 272.4 L960 267.5 L961 262.6 L964 259.5 L969 257.3 L977 256.0 L988 255.5 L1000 256.0 L1008 257.3 L1013 259.5 L1016 262.6 Z" fill="#000" fill-opacity="0.092"/>
<path d="M1078 267.5 L1077 272.5 L1074 275.8 L1069 278.1 L1061 279.5 L1050 279.9 L1038 279.5 L1030 278.1 L1025 275.8 L1022 272.5 L1020 267.5 L1022 262.5 L1025 259.2 L1030 256.9 L1038 255.5 L1049 255.1 L1061 255.5 L1069 256.9 L1074 259.2 L1077 262.5 Z" fill="#000" fill-opacity="0.098"/>
<path d="M1142 267.5 L1141 272.4 L1138 275.5 L1133 277.7 L1125 279.0 L1114 279.5 L1102 279.0 L1094 277.7 L1089 275.5 L1086 272.4 L1084 267.5 L1086 262.6 L1089 259.5 L1094 257.3 L1102 256.0 L1113 255.5 L1125 256.0 L1133 257.3 L1138 259.5 L1141 262.6 Z" fill="#000" fill-opacity="0.092"/>
<path d="M1206 267.5 L1205 272.0 L1202 274.9 L1196 276.9 L1189 278.2 L1177 278.6 L1165 278.2 L1158 276.9 L1152 274.9 L1149 272.0 L1148 267.5 L1149 263.0 L1152 260.1 L1158 258.1 L1165 256.8 L1177 256.4 L1189 256.8 L1196 258.1 L1202 260.1 L1205 263.0 Z" fill="#000" fill-opacity="0.085"/>
<path d="M1272 267.5 L1271 272.0 L1268 274.9 L1262 276.9 L1255 278.2 L1243 278.6 L1231 278.2 L1224 276.9 L1218 274.9 L1215 272.0 L1214 267.5 L1215 263.0 L1218 260.1 L1224 258.1 L1231 256.8 L1243 256.4 L1255 256.8 L1262 258.1 L1268 260.1 L1271 263.0 Z" fill="#000" fill-opacity="0.082"/>
<path d="M1336 267.5 L1335 272.5 L1332 275.8 L1327 278.1 L1319 279.5 L1308 279.9 L1296 279.5 L1288 278.1 L1283 275.8 L1280 272.5 L1278 267.5 L1280 262.5 L1283 259.2 L1288 256.9 L1296 255.5 L1307 255.1 L1319 255.5 L1327 256.9 L1332 259.2 L1335 262.5 Z" fill="#000" fill-opacity="0.092"/>
<path d="M1400 267.5 L1399 272.2 L1396 275.2 L1390 277.3 L1383 278.6 L1371 279.1 L1359 278.6 L1352 277.3 L1346 275.2 L1343 272.2 L1342 267.5 L1343 262.8 L1346 259.8 L1352 257.7 L1359 256.4 L1371 255.9 L1383 256.4 L1390 257.7 L1396 259.8 L1399 262.8 Z" fill="#000" fill-opacity="0.088"/>
<path d="M1465 267.5 L1464 272.2 L1461 275.2 L1455 277.3 L1448 278.6 L1436 279.1 L1424 278.6 L1417 277.3 L1411 275.2 L1408 272.2 L1407 267.5 L1408 262.8 L1411 259.8 L1417 257.7 L1424 256.4 L1436 255.9 L1448 256.4 L1455 257.7 L1461 259.8 L1464 262.8 Z" fill="#000" fill-opacity="0.086"/>
</g>
<g filter="url(#bb2)">
<path d="M1018 265.5 L1016 267.8 L1013 269.2 L1008 270.3 L1000 270.9 L989 271.1 L977 270.9 L969 270.3 L964 269.2 L961 267.8 L960 265.5 L961 263.2 L964 261.8 L969 260.7 L977 260.1 L988 259.9 L1000 260.1 L1008 260.7 L1013 261.8 L1016 263.2 Z" fill="#000" fill-opacity="0.846"/>
<path d="M1012 265.5 L1011 266.8 L1009 267.6 L1004 268.2 L998 268.6 L989 268.7 L979 268.6 L973 268.2 L968 267.6 L966 266.8 L965 265.5 L966 264.2 L968 263.4 L973 262.8 L979 262.4 L988 262.3 L998 262.4 L1004 262.8 L1009 263.4 L1011 264.2 Z" fill="#000" fill-opacity="0.423"/>
<path d="M1078 265.5 L1077 267.9 L1074 269.4 L1069 270.5 L1061 271.1 L1050 271.4 L1038 271.1 L1030 270.5 L1025 269.4 L1022 267.9 L1020 265.5 L1022 263.1 L1025 261.6 L1030 260.5 L1038 259.9 L1049 259.6 L1061 259.9 L1069 260.5 L1074 261.6 L1077 263.1 Z" fill="#000" fill-opacity="0.902"/>
<path d="M1073 265.5 L1072 266.9 L1070 267.7 L1065 268.4 L1059 268.7 L1050 268.9 L1040 268.7 L1034 268.4 L1029 267.7 L1027 266.9 L1026 265.5 L1027 264.1 L1029 263.3 L1034 262.6 L1040 262.3 L1049 262.1 L1059 262.3 L1065 262.6 L1070 263.3 L1072 264.1 Z" fill="#000" fill-opacity="0.451"/>
<path d="M1142 265.5 L1141 267.8 L1138 269.2 L1133 270.3 L1125 270.9 L1114 271.1 L1102 270.9 L1094 270.3 L1089 269.2 L1086 267.8 L1084 265.5 L1086 263.2 L1089 261.8 L1094 260.7 L1102 260.1 L1113 259.9 L1125 260.1 L1133 260.7 L1138 261.8 L1141 263.2 Z" fill="#000" fill-opacity="0.846"/>
<path d="M1137 265.5 L1136 266.8 L1134 267.6 L1129 268.2 L1123 268.6 L1114 268.7 L1104 268.6 L1098 268.2 L1093 267.6 L1091 266.8 L1090 265.5 L1091 264.2 L1093 263.4 L1098 262.8 L1104 262.4 L1113 262.3 L1123 262.4 L1129 262.8 L1134 263.4 L1136 264.2 Z" fill="#000" fill-opacity="0.423"/>
<path d="M1206 265.5 L1205 267.6 L1202 268.9 L1196 269.8 L1189 270.4 L1177 270.6 L1165 270.4 L1158 269.8 L1152 268.9 L1149 267.6 L1148 265.5 L1149 263.4 L1152 262.1 L1158 261.2 L1165 260.6 L1177 260.4 L1189 260.6 L1196 261.2 L1202 262.1 L1205 263.4 Z" fill="#000" fill-opacity="0.782"/>
<path d="M1201 265.5 L1200 266.7 L1197 267.4 L1193 267.9 L1187 268.3 L1177 268.4 L1167 268.3 L1161 267.9 L1157 267.4 L1154 266.7 L1153 265.5 L1154 264.3 L1157 263.6 L1161 263.1 L1167 262.7 L1177 262.6 L1187 262.7 L1193 263.1 L1197 263.6 L1200 264.3 Z" fill="#000" fill-opacity="0.391"/>
<path d="M1272 265.5 L1271 267.6 L1268 268.9 L1262 269.8 L1255 270.4 L1243 270.6 L1231 270.4 L1224 269.8 L1218 268.9 L1215 267.6 L1214 265.5 L1215 263.4 L1218 262.1 L1224 261.2 L1231 260.6 L1243 260.4 L1255 260.6 L1262 261.2 L1268 262.1 L1271 263.4 Z" fill="#000" fill-opacity="0.754"/>
<path d="M1267 265.5 L1266 266.7 L1263 267.4 L1259 267.9 L1253 268.3 L1243 268.4 L1233 268.3 L1227 267.9 L1223 267.4 L1220 266.7 L1219 265.5 L1220 264.3 L1223 263.6 L1227 263.1 L1233 262.7 L1243 262.6 L1253 262.7 L1259 263.1 L1263 263.6 L1266 264.3 Z" fill="#000" fill-opacity="0.377"/>
<path d="M1336 265.5 L1335 267.9 L1332 269.4 L1327 270.5 L1319 271.1 L1308 271.4 L1296 271.1 L1288 270.5 L1283 269.4 L1280 267.9 L1278 265.5 L1280 263.1 L1283 261.6 L1288 260.5 L1296 259.9 L1307 259.6 L1319 259.9 L1327 260.5 L1332 261.6 L1335 263.1 Z" fill="#000" fill-opacity="0.846"/>
<path d="M1331 265.5 L1330 266.9 L1328 267.7 L1323 268.4 L1317 268.7 L1308 268.9 L1298 268.7 L1292 268.4 L1287 267.7 L1285 266.9 L1284 265.5 L1285 264.1 L1287 263.3 L1292 262.6 L1298 262.3 L1307 262.1 L1317 262.3 L1323 262.6 L1328 263.3 L1330 264.1 Z" fill="#000" fill-opacity="0.423"/>
<path d="M1400 265.5 L1399 267.7 L1396 269.1 L1390 270.0 L1383 270.6 L1371 270.9 L1359 270.6 L1352 270.0 L1346 269.1 L1343 267.7 L1342 265.5 L1343 263.3 L1346 261.9 L1352 261.0 L1359 260.4 L1371 260.1 L1383 260.4 L1390 261.0 L1396 261.9 L1399 263.3 Z" fill="#000" fill-opacity="0.810"/>
<path d="M1395 265.5 L1394 266.7 L1391 267.5 L1387 268.1 L1381 268.4 L1371 268.5 L1361 268.4 L1355 268.1 L1351 267.5 L1348 266.7 L1347 265.5 L1348 264.3 L1351 263.5 L1355 262.9 L1361 262.6 L1371 262.5 L1381 262.6 L1387 262.9 L1391 263.5 L1394 264.3 Z" fill="#000" fill-opacity="0.405"/>
<path d="M1465 265.5 L1464 267.7 L1461 269.1 L1455 270.0 L1448 270.6 L1436 270.9 L1424 270.6 L1417 270.0 L1411 269.1 L1408 267.7 L1407 265.5 L1408 263.3 L1411 261.9 L1417 261.0 L1424 260.4 L1436 260.1 L1448 260.4 L1455 261.0 L1461 261.9 L1464 263.3 Z" fill="#000" fill-opacity="0.791"/>
<path d="M1460 265.5 L1459 266.7 L1456 267.5 L1452 268.1 L1446 268.4 L1436 268.5 L1426 268.4 L1420 268.1 L1416 267.5 L1413 266.7 L1412 265.5 L1413 264.3 L1416 263.5 L1420 262.9 L1426 262.6 L1436 262.5 L1446 262.6 L1452 262.9 L1456 263.5 L1459 264.3 Z" fill="#000" fill-opacity="0.396"/>
</g>
<rect x="948" y="238.4" width="522.2" height="57.9" fill="none" stroke="#000" stroke-width="3" />
<text x="1478.5" y="283.5" font-size="28.8" stroke="#000" stroke-width="1.1" >STING</text>
<rect x="948" y="306.2" width="522.2" height="58.3" fill="#fff" />
<g filter="url(#bh)">
<path d="M1268 337.0 L1267 341.3 L1264 344.1 L1260 346.0 L1253 347.2 L1243 347.6 L1233 347.2 L1226 346.0 L1222 344.1 L1219 341.3 L1218 337.0 L1219 332.7 L1222 329.9 L1226 328.0 L1233 326.8 L1243 326.4 L1253 326.8 L1260 328.0 L1264 329.9 L1267 332.7 Z" fill="#000" fill-opacity="0.100"/>
</g>
<g filter="url(#bb3)">
<path d="M1014 335.0 L1013 336.3 L1010 337.1 L1005 337.6 L999 338.0 L989 338.1 L978 338.0 L972 337.6 L967 337.1 L964 336.3 L964 335.0 L964 333.7 L967 332.9 L972 332.4 L978 332.0 L988 331.9 L999 332.0 L1005 332.4 L1010 332.9 L1013 333.7 Z" fill="#000" fill-opacity="0.028"/>
<path d="M1074 335.0 L1074 336.3 L1071 337.1 L1066 337.6 L1060 338.0 L1050 338.1 L1039 338.0 L1033 337.6 L1028 337.1 L1025 336.3 L1024 335.0 L1025 333.7 L1028 332.9 L1033 332.4 L1039 332.0 L1049 331.9 L1060 332.0 L1066 332.4 L1071 332.9 L1074 333.7 Z" fill="#000" fill-opacity="0.074"/>
<path d="M1138 335.0 L1138 336.3 L1135 337.1 L1130 337.6 L1124 338.0 L1114 338.1 L1103 338.0 L1097 337.6 L1092 337.1 L1089 336.3 L1088 335.0 L1089 333.7 L1092 332.9 L1097 332.4 L1103 332.0 L1113 331.9 L1124 332.0 L1130 332.4 L1135 332.9 L1138 333.7 Z" fill="#000" fill-opacity="0.202"/>
<path d="M1202 335.0 L1201 336.3 L1198 337.1 L1194 337.6 L1187 338.0 L1177 338.1 L1167 338.0 L1160 337.6 L1156 337.1 L1153 336.3 L1152 335.0 L1153 333.7 L1156 332.9 L1160 332.4 L1167 332.0 L1177 331.9 L1187 332.0 L1194 332.4 L1198 332.9 L1201 333.7 Z" fill="#000" fill-opacity="0.046"/>
<path d="M1268 335.0 L1267 337.0 L1264 338.2 L1260 339.1 L1253 339.7 L1243 339.9 L1233 339.7 L1226 339.1 L1222 338.2 L1219 337.0 L1218 335.0 L1219 333.0 L1222 331.8 L1226 330.9 L1233 330.3 L1243 330.1 L1253 330.3 L1260 330.9 L1264 331.8 L1267 333.0 Z" fill="#000" fill-opacity="0.920"/>
<path d="M1264 335.0 L1263 336.1 L1260 336.8 L1257 337.3 L1251 337.6 L1243 337.7 L1235 337.6 L1229 337.3 L1226 336.8 L1223 336.1 L1222 335.0 L1223 333.9 L1226 333.2 L1229 332.7 L1235 332.4 L1243 332.3 L1251 332.4 L1257 332.7 L1260 333.2 L1263 333.9 Z" fill="#000" fill-opacity="0.460"/>
<path d="M1332 335.0 L1332 336.3 L1329 337.1 L1324 337.6 L1318 338.0 L1308 338.1 L1297 338.0 L1291 337.6 L1286 337.1 L1283 336.3 L1282 335.0 L1283 333.7 L1286 332.9 L1291 332.4 L1297 332.0 L1307 331.9 L1318 332.0 L1324 332.4 L1329 332.9 L1332 333.7 Z" fill="#000" fill-opacity="0.046"/>
<path d="M1396 335.0 L1395 336.3 L1392 337.1 L1388 337.6 L1381 338.0 L1371 338.1 L1361 338.0 L1354 337.6 L1350 337.1 L1347 336.3 L1346 335.0 L1347 333.7 L1350 332.9 L1354 332.4 L1361 332.0 L1371 331.9 L1381 332.0 L1388 332.4 L1392 332.9 L1395 333.7 Z" fill="#000" fill-opacity="0.064"/>
<path d="M1461 335.0 L1460 336.3 L1457 337.1 L1453 337.6 L1446 338.0 L1436 338.1 L1426 338.0 L1419 337.6 L1415 337.1 L1412 336.3 L1411 335.0 L1412 333.7 L1415 332.9 L1419 332.4 L1426 332.0 L1436 331.9 L1446 332.0 L1453 332.4 L1457 332.9 L1460 333.7 Z" fill="#000" fill-opacity="0.120"/>
</g>
<rect x="948" y="306.2" width="522.2" height="58.3" fill="none" stroke="#000" stroke-width="3" />
<text x="1478.5" y="351" font-size="28.8" stroke="#000" stroke-width="1.1" >p-TBK1</text>
<rect x="948" y="372.7" width="522.2" height="59.8" fill="#fff" />
<g filter="url(#bh)">
<path d="M1018 401.5 L1017 408.2 L1014 412.5 L1008 415.5 L1001 417.4 L989 418.0 L976 417.4 L969 415.5 L963 412.5 L960 408.2 L958 401.5 L960 394.8 L963 390.5 L969 387.5 L976 385.6 L988 385.0 L1001 385.6 L1008 387.5 L1014 390.5 L1017 394.8 Z" fill="#000" fill-opacity="0.100"/>
<path d="M1080 401.5 L1078 407.8 L1075 411.9 L1069 414.8 L1062 416.5 L1050 417.1 L1037 416.5 L1030 414.8 L1024 411.9 L1021 407.8 L1020 401.5 L1021 395.2 L1024 391.1 L1030 388.2 L1037 386.5 L1049 385.9 L1062 386.5 L1069 388.2 L1075 391.1 L1078 395.2 Z" fill="#000" fill-opacity="0.097"/>
<path d="M1144 401.5 L1142 407.5 L1139 411.3 L1133 414.0 L1126 415.6 L1114 416.2 L1101 415.6 L1094 414.0 L1088 411.3 L1085 407.5 L1084 401.5 L1085 395.5 L1088 391.7 L1094 389.0 L1101 387.4 L1113 386.8 L1126 387.4 L1133 389.0 L1139 391.7 L1142 395.5 Z" fill="#000" fill-opacity="0.097"/>
<path d="M1207 401.5 L1206 407.8 L1202 411.9 L1197 414.8 L1189 416.5 L1177 417.1 L1165 416.5 L1157 414.8 L1152 411.9 L1148 407.8 L1147 401.5 L1148 395.2 L1152 391.1 L1157 388.2 L1165 386.5 L1177 385.9 L1189 386.5 L1197 388.2 L1202 391.1 L1206 395.2 Z" fill="#000" fill-opacity="0.097"/>
<path d="M1273 401.5 L1272 407.1 L1268 410.7 L1263 413.2 L1255 414.8 L1243 415.3 L1231 414.8 L1223 413.2 L1218 410.7 L1214 407.1 L1213 401.5 L1214 395.9 L1218 392.3 L1223 389.8 L1231 388.2 L1243 387.7 L1255 388.2 L1263 389.8 L1268 392.3 L1272 395.9 Z" fill="#000" fill-opacity="0.093"/>
<path d="M1338 401.5 L1336 407.5 L1333 411.3 L1327 414.0 L1320 415.6 L1308 416.2 L1295 415.6 L1288 414.0 L1282 411.3 L1279 407.5 L1278 401.5 L1279 395.5 L1282 391.7 L1288 389.0 L1295 387.4 L1307 386.8 L1320 387.4 L1327 389.0 L1333 391.7 L1336 395.5 Z" fill="#000" fill-opacity="0.095"/>
<path d="M1401 401.5 L1400 407.5 L1396 411.3 L1391 414.0 L1383 415.6 L1371 416.2 L1359 415.6 L1351 414.0 L1346 411.3 L1342 407.5 L1341 401.5 L1342 395.5 L1346 391.7 L1351 389.0 L1359 387.4 L1371 386.8 L1383 387.4 L1391 389.0 L1396 391.7 L1400 395.5 Z" fill="#000" fill-opacity="0.097"/>
<path d="M1466 401.5 L1465 408.2 L1461 412.5 L1456 415.5 L1448 417.4 L1436 418.0 L1424 417.4 L1416 415.5 L1411 412.5 L1407 408.2 L1406 401.5 L1407 394.8 L1411 390.5 L1416 387.5 L1424 385.6 L1436 385.0 L1448 385.6 L1456 387.5 L1461 390.5 L1465 394.8 Z" fill="#000" fill-opacity="0.099"/>
</g>
<g filter="url(#bb4)">
<path d="M1018 399.5 L1017 402.8 L1014 404.9 L1008 406.4 L1001 407.3 L989 407.6 L976 407.3 L969 406.4 L963 404.9 L960 402.8 L958 399.5 L960 396.2 L963 394.1 L969 392.6 L976 391.7 L988 391.4 L1001 391.7 L1008 392.6 L1014 394.1 L1017 396.2 Z" fill="#000" fill-opacity="0.920"/>
<path d="M1013 399.5 L1012 401.4 L1009 402.7 L1005 403.6 L998 404.1 L989 404.3 L979 404.1 L972 403.6 L968 402.7 L965 401.4 L964 399.5 L965 397.6 L968 396.3 L972 395.4 L979 394.9 L988 394.7 L998 394.9 L1005 395.4 L1009 396.3 L1012 397.6 Z" fill="#000" fill-opacity="0.460"/>
<path d="M1080 399.5 L1078 402.6 L1075 404.5 L1069 406.0 L1062 406.8 L1050 407.1 L1037 406.8 L1030 406.0 L1024 404.5 L1021 402.6 L1020 399.5 L1021 396.4 L1024 394.5 L1030 393.0 L1037 392.2 L1049 391.9 L1062 392.2 L1069 393.0 L1075 394.5 L1078 396.4 Z" fill="#000" fill-opacity="0.892"/>
<path d="M1074 399.5 L1073 401.3 L1070 402.5 L1066 403.3 L1059 403.8 L1050 404.0 L1040 403.8 L1033 403.3 L1029 402.5 L1026 401.3 L1025 399.5 L1026 397.7 L1029 396.5 L1033 395.7 L1040 395.2 L1049 395.0 L1059 395.2 L1066 395.7 L1070 396.5 L1073 397.7 Z" fill="#000" fill-opacity="0.446"/>
<path d="M1144 399.5 L1142 402.4 L1139 404.2 L1133 405.5 L1126 406.3 L1114 406.6 L1101 406.3 L1094 405.5 L1088 404.2 L1085 402.4 L1084 399.5 L1085 396.6 L1088 394.8 L1094 393.5 L1101 392.7 L1113 392.4 L1126 392.7 L1133 393.5 L1139 394.8 L1142 396.6 Z" fill="#000" fill-opacity="0.892"/>
<path d="M1138 399.5 L1137 401.2 L1134 402.3 L1130 403.0 L1123 403.5 L1114 403.7 L1104 403.5 L1097 403.0 L1093 402.3 L1090 401.2 L1089 399.5 L1090 397.8 L1093 396.7 L1097 396.0 L1104 395.5 L1113 395.3 L1123 395.5 L1130 396.0 L1134 396.7 L1137 397.8 Z" fill="#000" fill-opacity="0.446"/>
<path d="M1207 399.5 L1206 402.6 L1202 404.5 L1197 406.0 L1189 406.8 L1177 407.1 L1165 406.8 L1157 406.0 L1152 404.5 L1148 402.6 L1147 399.5 L1148 396.4 L1152 394.5 L1157 393.0 L1165 392.2 L1177 391.9 L1189 392.2 L1197 393.0 L1202 394.5 L1206 396.4 Z" fill="#000" fill-opacity="0.892"/>
<path d="M1202 399.5 L1201 401.3 L1198 402.5 L1193 403.3 L1187 403.8 L1177 404.0 L1167 403.8 L1161 403.3 L1156 402.5 L1153 401.3 L1152 399.5 L1153 397.7 L1156 396.5 L1161 395.7 L1167 395.2 L1177 395.0 L1187 395.2 L1193 395.7 L1198 396.5 L1201 397.7 Z" fill="#000" fill-opacity="0.446"/>
<path d="M1273 399.5 L1272 402.2 L1268 403.9 L1263 405.1 L1255 405.9 L1243 406.1 L1231 405.9 L1223 405.1 L1218 403.9 L1214 402.2 L1213 399.5 L1214 396.8 L1218 395.1 L1223 393.9 L1231 393.1 L1243 392.9 L1255 393.1 L1263 393.9 L1268 395.1 L1272 396.8 Z" fill="#000" fill-opacity="0.856"/>
<path d="M1268 399.5 L1267 401.1 L1264 402.1 L1259 402.8 L1253 403.2 L1243 403.3 L1233 403.2 L1227 402.8 L1222 402.1 L1219 401.1 L1218 399.5 L1219 397.9 L1222 396.9 L1227 396.2 L1233 395.8 L1243 395.7 L1253 395.8 L1259 396.2 L1264 396.9 L1267 397.9 Z" fill="#000" fill-opacity="0.428"/>
<path d="M1338 399.5 L1336 402.4 L1333 404.2 L1327 405.5 L1320 406.3 L1308 406.6 L1295 406.3 L1288 405.5 L1282 404.2 L1279 402.4 L1278 399.5 L1279 396.6 L1282 394.8 L1288 393.5 L1295 392.7 L1307 392.4 L1320 392.7 L1327 393.5 L1333 394.8 L1336 396.6 Z" fill="#000" fill-opacity="0.874"/>
<path d="M1332 399.5 L1331 401.2 L1328 402.3 L1324 403.0 L1317 403.5 L1308 403.7 L1298 403.5 L1291 403.0 L1287 402.3 L1284 401.2 L1283 399.5 L1284 397.8 L1287 396.7 L1291 396.0 L1298 395.5 L1307 395.3 L1317 395.5 L1324 396.0 L1328 396.7 L1331 397.8 Z" fill="#000" fill-opacity="0.437"/>
<path d="M1401 399.5 L1400 402.4 L1396 404.2 L1391 405.5 L1383 406.3 L1371 406.6 L1359 406.3 L1351 405.5 L1346 404.2 L1342 402.4 L1341 399.5 L1342 396.6 L1346 394.8 L1351 393.5 L1359 392.7 L1371 392.4 L1383 392.7 L1391 393.5 L1396 394.8 L1400 396.6 Z" fill="#000" fill-opacity="0.892"/>
<path d="M1396 399.5 L1395 401.2 L1392 402.3 L1387 403.0 L1381 403.5 L1371 403.7 L1361 403.5 L1355 403.0 L1350 402.3 L1347 401.2 L1346 399.5 L1347 397.8 L1350 396.7 L1355 396.0 L1361 395.5 L1371 395.3 L1381 395.5 L1387 396.0 L1392 396.7 L1395 397.8 Z" fill="#000" fill-opacity="0.446"/>
<path d="M1466 399.5 L1465 402.8 L1461 404.9 L1456 406.4 L1448 407.3 L1436 407.6 L1424 407.3 L1416 406.4 L1411 404.9 L1407 402.8 L1406 399.5 L1407 396.2 L1411 394.1 L1416 392.6 L1424 391.7 L1436 391.4 L1448 391.7 L1456 392.6 L1461 394.1 L1465 396.2 Z" fill="#000" fill-opacity="0.911"/>
<path d="M1461 399.5 L1460 401.4 L1457 402.7 L1452 403.6 L1446 404.1 L1436 404.3 L1426 404.1 L1420 403.6 L1415 402.7 L1412 401.4 L1411 399.5 L1412 397.6 L1415 396.3 L1420 395.4 L1426 394.9 L1436 394.7 L1446 394.9 L1452 395.4 L1457 396.3 L1460 397.6 Z" fill="#000" fill-opacity="0.455"/>
</g>
<rect x="948" y="372.7" width="522.2" height="59.8" fill="none" stroke="#000" stroke-width="3" />
<text x="1478.5" y="418.5" font-size="28.8" stroke="#000" stroke-width="1.1" >TBK1</text>
<rect x="948" y="440.9" width="522.2" height="59.6" fill="#fff" />
<g filter="url(#bh)">
<path d="M1268 470.0 L1267 474.0 L1264 476.5 L1260 478.3 L1253 479.4 L1243 479.8 L1233 479.4 L1226 478.3 L1222 476.5 L1219 474.0 L1218 470.0 L1219 466.0 L1222 463.5 L1226 461.7 L1233 460.6 L1243 460.2 L1253 460.6 L1260 461.7 L1264 463.5 L1267 466.0 Z" fill="#000" fill-opacity="0.100"/>
</g>
<g filter="url(#bb5)">
<path d="M1014 468.0 L1013 469.2 L1010 469.9 L1005 470.4 L999 470.7 L989 470.9 L978 470.7 L972 470.4 L967 469.9 L964 469.2 L964 468.0 L964 466.8 L967 466.1 L972 465.6 L978 465.3 L988 465.1 L999 465.3 L1005 465.6 L1010 466.1 L1013 466.8 Z" fill="#000" fill-opacity="0.055"/>
<path d="M1074 468.0 L1074 469.2 L1071 469.9 L1066 470.4 L1060 470.7 L1050 470.9 L1039 470.7 L1033 470.4 L1028 469.9 L1025 469.2 L1024 468.0 L1025 466.8 L1028 466.1 L1033 465.6 L1039 465.3 L1049 465.1 L1060 465.3 L1066 465.6 L1071 466.1 L1074 466.8 Z" fill="#000" fill-opacity="0.046"/>
<path d="M1138 468.0 L1138 469.2 L1135 469.9 L1130 470.4 L1124 470.7 L1114 470.9 L1103 470.7 L1097 470.4 L1092 469.9 L1089 469.2 L1088 468.0 L1089 466.8 L1092 466.1 L1097 465.6 L1103 465.3 L1113 465.1 L1124 465.3 L1130 465.6 L1135 466.1 L1138 466.8 Z" fill="#000" fill-opacity="0.166"/>
<path d="M1202 468.0 L1201 469.2 L1198 469.9 L1194 470.4 L1187 470.7 L1177 470.9 L1167 470.7 L1160 470.4 L1156 469.9 L1153 469.2 L1152 468.0 L1153 466.8 L1156 466.1 L1160 465.6 L1167 465.3 L1177 465.1 L1187 465.3 L1194 465.6 L1198 466.1 L1201 466.8 Z" fill="#000" fill-opacity="0.184"/>
<path d="M1268 468.0 L1267 469.8 L1264 470.9 L1260 471.7 L1253 472.2 L1243 472.4 L1233 472.2 L1226 471.7 L1222 470.9 L1219 469.8 L1218 468.0 L1219 466.2 L1222 465.1 L1226 464.3 L1233 463.8 L1243 463.6 L1253 463.8 L1260 464.3 L1264 465.1 L1267 466.2 Z" fill="#000" fill-opacity="0.920"/>
<path d="M1264 468.0 L1263 469.0 L1260 469.6 L1257 470.0 L1251 470.3 L1243 470.4 L1235 470.3 L1229 470.0 L1226 469.6 L1223 469.0 L1222 468.0 L1223 467.0 L1226 466.4 L1229 466.0 L1235 465.7 L1243 465.6 L1251 465.7 L1257 466.0 L1260 466.4 L1263 467.0 Z" fill="#000" fill-opacity="0.460"/>
<path d="M1332 468.0 L1332 469.2 L1329 469.9 L1324 470.4 L1318 470.7 L1308 470.9 L1297 470.7 L1291 470.4 L1286 469.9 L1283 469.2 L1282 468.0 L1283 466.8 L1286 466.1 L1291 465.6 L1297 465.3 L1307 465.1 L1318 465.3 L1324 465.6 L1329 466.1 L1332 466.8 Z" fill="#000" fill-opacity="0.129"/>
<path d="M1396 468.0 L1395 469.2 L1392 469.9 L1388 470.4 L1381 470.7 L1371 470.9 L1361 470.7 L1354 470.4 L1350 469.9 L1347 469.2 L1346 468.0 L1347 466.8 L1350 466.1 L1354 465.6 L1361 465.3 L1371 465.1 L1381 465.3 L1388 465.6 L1392 466.1 L1395 466.8 Z" fill="#000" fill-opacity="0.083"/>
<path d="M1461 468.0 L1460 469.2 L1457 469.9 L1453 470.4 L1446 470.7 L1436 470.9 L1426 470.7 L1419 470.4 L1415 469.9 L1412 469.2 L1411 468.0 L1412 466.8 L1415 466.1 L1419 465.6 L1426 465.3 L1436 465.1 L1446 465.3 L1453 465.6 L1457 466.1 L1460 466.8 Z" fill="#000" fill-opacity="0.166"/>
</g>
<rect x="948" y="440.9" width="522.2" height="59.6" fill="none" stroke="#000" stroke-width="3" />
<text x="1478.5" y="482" font-size="28.8" stroke="#000" stroke-width="1.1" >p-p65</text>
<rect x="948" y="508.2" width="522.2" height="58.8" fill="#fff" />
<g filter="url(#bh)">
<path d="M1014 538.0 L1014 542.1 L1011 544.8 L1006 546.7 L999 547.8 L989 548.2 L978 547.8 L971 546.7 L966 544.8 L963 542.1 L962 538.0 L963 533.9 L966 531.2 L971 529.3 L978 528.2 L988 527.8 L999 528.2 L1006 529.3 L1011 531.2 L1014 533.9 Z" fill="#000" fill-opacity="0.090"/>
<path d="M1076 538.0 L1075 542.1 L1072 544.8 L1067 546.7 L1060 547.8 L1050 548.2 L1039 547.8 L1032 546.7 L1027 544.8 L1024 542.1 L1024 538.0 L1024 533.9 L1027 531.2 L1032 529.3 L1039 528.2 L1049 527.8 L1060 528.2 L1067 529.3 L1072 531.2 L1075 533.9 Z" fill="#000" fill-opacity="0.086"/>
<path d="M1140 538.0 L1139 542.1 L1136 544.8 L1131 546.7 L1124 547.8 L1114 548.2 L1103 547.8 L1096 546.7 L1091 544.8 L1088 542.1 L1088 538.0 L1088 533.9 L1091 531.2 L1096 529.3 L1103 528.2 L1113 527.8 L1124 528.2 L1131 529.3 L1136 531.2 L1139 533.9 Z" fill="#000" fill-opacity="0.088"/>
<path d="M1203 538.0 L1202 542.1 L1199 544.8 L1194 546.7 L1188 547.8 L1177 548.2 L1166 547.8 L1160 546.7 L1155 544.8 L1152 542.1 L1151 538.0 L1152 533.9 L1155 531.2 L1160 529.3 L1166 528.2 L1177 527.8 L1188 528.2 L1194 529.3 L1199 531.2 L1202 533.9 Z" fill="#000" fill-opacity="0.082"/>
<path d="M1334 538.0 L1333 542.1 L1330 544.8 L1325 546.7 L1318 547.8 L1308 548.2 L1297 547.8 L1290 546.7 L1285 544.8 L1282 542.1 L1282 538.0 L1282 533.9 L1285 531.2 L1290 529.3 L1297 528.2 L1307 527.8 L1318 528.2 L1325 529.3 L1330 531.2 L1333 533.9 Z" fill="#000" fill-opacity="0.082"/>
<path d="M1397 538.0 L1396 542.1 L1393 544.8 L1388 546.7 L1382 547.8 L1371 548.2 L1360 547.8 L1354 546.7 L1349 544.8 L1346 542.1 L1345 538.0 L1346 533.9 L1349 531.2 L1354 529.3 L1360 528.2 L1371 527.8 L1382 528.2 L1388 529.3 L1393 531.2 L1396 533.9 Z" fill="#000" fill-opacity="0.090"/>
<path d="M1462 538.0 L1461 542.1 L1458 544.8 L1453 546.7 L1447 547.8 L1436 548.2 L1425 547.8 L1419 546.7 L1414 544.8 L1411 542.1 L1410 538.0 L1411 533.9 L1414 531.2 L1419 529.3 L1425 528.2 L1436 527.8 L1447 528.2 L1453 529.3 L1458 531.2 L1461 533.9 Z" fill="#000" fill-opacity="0.092"/>
</g>
<g filter="url(#bb6)">
<path d="M1014 536.0 L1014 537.9 L1011 539.1 L1006 539.9 L999 540.4 L989 540.6 L978 540.4 L971 539.9 L966 539.1 L963 537.9 L962 536.0 L963 534.1 L966 532.9 L971 532.1 L978 531.6 L988 531.4 L999 531.6 L1006 532.1 L1011 532.9 L1014 534.1 Z" fill="#000" fill-opacity="0.828"/>
<path d="M1010 536.0 L1009 537.0 L1007 537.7 L1003 538.2 L997 538.5 L989 538.6 L980 538.5 L974 538.2 L970 537.7 L968 537.0 L967 536.0 L968 535.0 L970 534.3 L974 533.8 L980 533.5 L988 533.4 L997 533.5 L1003 533.8 L1007 534.3 L1009 535.0 Z" fill="#000" fill-opacity="0.414"/>
<path d="M963.8 533 L972.9 521 L1004.1 521 L1013.2 533 Z" fill="#000" fill-opacity="0.16"/>
<path d="M1076 536.0 L1075 537.9 L1072 539.1 L1067 539.9 L1060 540.4 L1050 540.6 L1039 540.4 L1032 539.9 L1027 539.1 L1024 537.9 L1024 536.0 L1024 534.1 L1027 532.9 L1032 532.1 L1039 531.6 L1049 531.4 L1060 531.6 L1067 532.1 L1072 532.9 L1075 534.1 Z" fill="#000" fill-opacity="0.791"/>
<path d="M1071 536.0 L1070 537.0 L1068 537.7 L1064 538.2 L1058 538.5 L1050 538.6 L1041 538.5 L1035 538.2 L1031 537.7 L1029 537.0 L1028 536.0 L1029 535.0 L1031 534.3 L1035 533.8 L1041 533.5 L1049 533.4 L1058 533.5 L1064 533.8 L1068 534.3 L1070 535.0 Z" fill="#000" fill-opacity="0.396"/>
<path d="M1024.8 533 L1033.9 521 L1065.1 521 L1074.2 533 Z" fill="#000" fill-opacity="0.16"/>
<path d="M1140 536.0 L1139 537.9 L1136 539.1 L1131 539.9 L1124 540.4 L1114 540.6 L1103 540.4 L1096 539.9 L1091 539.1 L1088 537.9 L1088 536.0 L1088 534.1 L1091 532.9 L1096 532.1 L1103 531.6 L1113 531.4 L1124 531.6 L1131 532.1 L1136 532.9 L1139 534.1 Z" fill="#000" fill-opacity="0.810"/>
<path d="M1135 536.0 L1134 537.0 L1132 537.7 L1128 538.2 L1122 538.5 L1114 538.6 L1105 538.5 L1099 538.2 L1095 537.7 L1093 537.0 L1092 536.0 L1093 535.0 L1095 534.3 L1099 533.8 L1105 533.5 L1113 533.4 L1122 533.5 L1128 533.8 L1132 534.3 L1134 535.0 Z" fill="#000" fill-opacity="0.405"/>
<path d="M1088.8 533 L1097.9 521 L1129.1 521 L1138.2 533 Z" fill="#000" fill-opacity="0.16"/>
<path d="M1203 536.0 L1202 537.9 L1199 539.1 L1194 539.9 L1188 540.4 L1177 540.6 L1166 540.4 L1160 539.9 L1155 539.1 L1152 537.9 L1151 536.0 L1152 534.1 L1155 532.9 L1160 532.1 L1166 531.6 L1177 531.4 L1188 531.6 L1194 532.1 L1199 532.9 L1202 534.1 Z" fill="#000" fill-opacity="0.754"/>
<path d="M1198 536.0 L1198 537.0 L1195 537.7 L1191 538.2 L1186 538.5 L1177 538.6 L1168 538.5 L1163 538.2 L1159 537.7 L1156 537.0 L1156 536.0 L1156 535.0 L1159 534.3 L1163 533.8 L1168 533.5 L1177 533.4 L1186 533.5 L1191 533.8 L1195 534.3 L1198 535.0 Z" fill="#000" fill-opacity="0.377"/>
<path d="M1152.3 533 L1161.4 521 L1192.6 521 L1201.7 533 Z" fill="#000" fill-opacity="0.16"/>
<path d="M1269 536.0 L1268 537.3 L1265 538.1 L1260 538.6 L1254 539.0 L1243 539.1 L1232 539.0 L1226 538.6 L1221 538.1 L1218 537.3 L1217 536.0 L1218 534.7 L1221 533.9 L1226 533.4 L1232 533.0 L1243 532.9 L1254 533.0 L1260 533.4 L1265 533.9 L1268 534.7 Z" fill="#000" fill-opacity="0.074"/>
<path d="M1334 536.0 L1333 537.9 L1330 539.1 L1325 539.9 L1318 540.4 L1308 540.6 L1297 540.4 L1290 539.9 L1285 539.1 L1282 537.9 L1282 536.0 L1282 534.1 L1285 532.9 L1290 532.1 L1297 531.6 L1307 531.4 L1318 531.6 L1325 532.1 L1330 532.9 L1333 534.1 Z" fill="#000" fill-opacity="0.754"/>
<path d="M1329 536.0 L1328 537.0 L1326 537.7 L1322 538.2 L1316 538.5 L1308 538.6 L1299 538.5 L1293 538.2 L1289 537.7 L1287 537.0 L1286 536.0 L1287 535.0 L1289 534.3 L1293 533.8 L1299 533.5 L1307 533.4 L1316 533.5 L1322 533.8 L1326 534.3 L1328 535.0 Z" fill="#000" fill-opacity="0.377"/>
<path d="M1282.8 533 L1291.9 521 L1323.1 521 L1332.2 533 Z" fill="#000" fill-opacity="0.16"/>
<path d="M1397 536.0 L1396 537.9 L1393 539.1 L1388 539.9 L1382 540.4 L1371 540.6 L1360 540.4 L1354 539.9 L1349 539.1 L1346 537.9 L1345 536.0 L1346 534.1 L1349 532.9 L1354 532.1 L1360 531.6 L1371 531.4 L1382 531.6 L1388 532.1 L1393 532.9 L1396 534.1 Z" fill="#000" fill-opacity="0.828"/>
<path d="M1392 536.0 L1392 537.0 L1389 537.7 L1385 538.2 L1380 538.5 L1371 538.6 L1362 538.5 L1357 538.2 L1353 537.7 L1350 537.0 L1350 536.0 L1350 535.0 L1353 534.3 L1357 533.8 L1362 533.5 L1371 533.4 L1380 533.5 L1385 533.8 L1389 534.3 L1392 535.0 Z" fill="#000" fill-opacity="0.414"/>
<path d="M1346.3 533 L1355.4 521 L1386.6 521 L1395.7 533 Z" fill="#000" fill-opacity="0.16"/>
<path d="M1462 536.0 L1461 537.9 L1458 539.1 L1453 539.9 L1447 540.4 L1436 540.6 L1425 540.4 L1419 539.9 L1414 539.1 L1411 537.9 L1410 536.0 L1411 534.1 L1414 532.9 L1419 532.1 L1425 531.6 L1436 531.4 L1447 531.6 L1453 532.1 L1458 532.9 L1461 534.1 Z" fill="#000" fill-opacity="0.846"/>
<path d="M1457 536.0 L1457 537.0 L1454 537.7 L1450 538.2 L1445 538.5 L1436 538.6 L1427 538.5 L1422 538.2 L1418 537.7 L1415 537.0 L1415 536.0 L1415 535.0 L1418 534.3 L1422 533.8 L1427 533.5 L1436 533.4 L1445 533.5 L1450 533.8 L1454 534.3 L1457 535.0 Z" fill="#000" fill-opacity="0.423"/>
<path d="M1411.3 533 L1420.4 521 L1451.6 521 L1460.7 533 Z" fill="#000" fill-opacity="0.16"/>
</g>
<rect x="948" y="508.2" width="522.2" height="58.8" fill="none" stroke="#000" stroke-width="3" />
<text x="1478.5" y="549.5" font-size="28.8" stroke="#000" stroke-width="1.1" >p65</text>
<rect x="948" y="575.6" width="522.2" height="58.8" fill="#fff" />
<g filter="url(#bh)">
<path d="M1262 606.5 L1261 610.6 L1258 613.3 L1254 615.2 L1248 616.3 L1238 616.7 L1228 616.3 L1222 615.2 L1218 613.3 L1215 610.6 L1214 606.5 L1215 602.4 L1218 599.7 L1222 597.8 L1228 596.7 L1238 596.3 L1248 596.7 L1254 597.8 L1258 599.7 L1261 602.4 Z" fill="#000" fill-opacity="0.100"/>
<path d="M1333 606.5 L1332 610.8 L1329 613.6 L1325 615.5 L1319 616.7 L1309 617.1 L1299 616.7 L1293 615.5 L1289 613.6 L1286 610.8 L1285 606.5 L1286 602.2 L1289 599.4 L1293 597.5 L1299 596.3 L1309 595.9 L1319 596.3 L1325 597.5 L1329 599.4 L1332 602.2 Z" fill="#000" fill-opacity="0.100"/>
</g>
<g filter="url(#bb7)">
<path d="M1012 604.5 L1012 605.8 L1009 606.6 L1004 607.1 L998 607.5 L989 607.6 L979 607.5 L973 607.1 L968 606.6 L965 605.8 L964 604.5 L965 603.2 L968 602.4 L973 601.9 L979 601.5 L988 601.4 L998 601.5 L1004 601.9 L1009 602.4 L1012 603.2 Z" fill="#000" fill-opacity="0.028"/>
<path d="M1074 604.5 L1073 605.8 L1070 606.6 L1065 607.1 L1059 607.5 L1050 607.6 L1040 607.5 L1034 607.1 L1029 606.6 L1026 605.8 L1026 604.5 L1026 603.2 L1029 602.4 L1034 601.9 L1040 601.5 L1049 601.4 L1059 601.5 L1065 601.9 L1070 602.4 L1073 603.2 Z" fill="#000" fill-opacity="0.028"/>
<path d="M1138 604.5 L1137 605.8 L1134 606.6 L1129 607.1 L1123 607.5 L1114 607.6 L1104 607.5 L1098 607.1 L1093 606.6 L1090 605.8 L1090 604.5 L1090 603.2 L1093 602.4 L1098 601.9 L1104 601.5 L1113 601.4 L1123 601.5 L1129 601.9 L1134 602.4 L1137 603.2 Z" fill="#000" fill-opacity="0.028"/>
<path d="M1201 604.5 L1200 605.8 L1197 606.6 L1193 607.1 L1187 607.5 L1177 607.6 L1167 607.5 L1161 607.1 L1157 606.6 L1154 605.8 L1153 604.5 L1154 603.2 L1157 602.4 L1161 601.9 L1167 601.5 L1177 601.4 L1187 601.5 L1193 601.9 L1197 602.4 L1200 603.2 Z" fill="#000" fill-opacity="0.046"/>
<path d="M1262 604.5 L1261 606.4 L1258 607.6 L1254 608.4 L1248 608.9 L1238 609.1 L1228 608.9 L1222 608.4 L1218 607.6 L1215 606.4 L1214 604.5 L1215 602.6 L1218 601.4 L1222 600.6 L1228 600.1 L1238 599.9 L1248 600.1 L1254 600.6 L1258 601.4 L1261 602.6 Z" fill="#000" fill-opacity="0.920"/>
<path d="M1258 604.5 L1257 605.5 L1255 606.2 L1251 606.7 L1246 607.0 L1238 607.1 L1230 607.0 L1225 606.7 L1221 606.2 L1219 605.5 L1218 604.5 L1219 603.5 L1221 602.8 L1225 602.3 L1230 602.0 L1238 601.9 L1246 602.0 L1251 602.3 L1255 602.8 L1257 603.5 Z" fill="#000" fill-opacity="0.460"/>
<path d="M1333 604.5 L1332 606.5 L1329 607.7 L1325 608.6 L1319 609.2 L1309 609.4 L1299 609.2 L1293 608.6 L1289 607.7 L1286 606.5 L1285 604.5 L1286 602.5 L1289 601.3 L1293 600.4 L1299 599.8 L1309 599.6 L1319 599.8 L1325 600.4 L1329 601.3 L1332 602.5 Z" fill="#000" fill-opacity="0.920"/>
<path d="M1329 604.5 L1328 605.6 L1326 606.3 L1322 606.8 L1317 607.1 L1309 607.2 L1301 607.1 L1296 606.8 L1292 606.3 L1290 605.6 L1289 604.5 L1290 603.4 L1292 602.7 L1296 602.2 L1301 601.9 L1309 601.8 L1317 601.9 L1322 602.2 L1326 602.7 L1328 603.4 Z" fill="#000" fill-opacity="0.460"/>
<path d="M1395 604.5 L1394 605.8 L1391 606.6 L1387 607.1 L1381 607.5 L1371 607.6 L1361 607.5 L1355 607.1 L1351 606.6 L1348 605.8 L1347 604.5 L1348 603.2 L1351 602.4 L1355 601.9 L1361 601.5 L1371 601.4 L1381 601.5 L1387 601.9 L1391 602.4 L1394 603.2 Z" fill="#000" fill-opacity="0.028"/>
<path d="M1460 604.5 L1459 605.8 L1456 606.6 L1452 607.1 L1446 607.5 L1436 607.6 L1426 607.5 L1420 607.1 L1416 606.6 L1413 605.8 L1412 604.5 L1413 603.2 L1416 602.4 L1420 601.9 L1426 601.5 L1436 601.4 L1446 601.5 L1452 601.9 L1456 602.4 L1459 603.2 Z" fill="#000" fill-opacity="0.018"/>
</g>
<rect x="948" y="575.6" width="522.2" height="58.8" fill="none" stroke="#000" stroke-width="3" />
<text x="1478.5" y="613.5" font-size="28.8" stroke="#000" stroke-width="1.1" >p-p53</text>
<rect x="948" y="642" width="522.2" height="59.8" fill="#f1f1f1" />
<g filter="url(#bh)">
<path d="M1014 676.0 L1014 680.5 L1011 683.4 L1006 685.4 L999 686.7 L989 687.1 L978 686.7 L971 685.4 L966 683.4 L963 680.5 L962 676.0 L963 671.5 L966 668.6 L971 666.6 L978 665.3 L988 664.9 L999 665.3 L1006 666.6 L1011 668.6 L1014 671.5 Z" fill="#000" fill-opacity="0.085"/>
<path d="M1076 676.0 L1075 680.5 L1072 683.4 L1067 685.4 L1060 686.7 L1050 687.1 L1039 686.7 L1032 685.4 L1027 683.4 L1024 680.5 L1024 676.0 L1024 671.5 L1027 668.6 L1032 666.6 L1039 665.3 L1049 664.9 L1060 665.3 L1067 666.6 L1072 668.6 L1075 671.5 Z" fill="#000" fill-opacity="0.090"/>
<path d="M1140 676.0 L1139 680.9 L1136 684.0 L1131 686.2 L1124 687.5 L1114 688.0 L1103 687.5 L1096 686.2 L1091 684.0 L1088 680.9 L1088 676.0 L1088 671.1 L1091 668.0 L1096 665.8 L1103 664.5 L1113 664.0 L1124 664.5 L1131 665.8 L1136 668.0 L1139 671.1 Z" fill="#000" fill-opacity="0.095"/>
<path d="M1203 676.0 L1202 681.6 L1199 685.2 L1194 687.7 L1188 689.3 L1177 689.8 L1166 689.3 L1160 687.7 L1155 685.2 L1152 681.6 L1151 676.0 L1152 670.4 L1155 666.8 L1160 664.3 L1166 662.7 L1177 662.2 L1188 662.7 L1194 664.3 L1199 666.8 L1202 670.4 Z" fill="#000" fill-opacity="0.100"/>
<path d="M1269 676.0 L1268 681.2 L1265 684.6 L1260 687.0 L1254 688.4 L1243 688.9 L1232 688.4 L1226 687.0 L1221 684.6 L1218 681.2 L1217 676.0 L1218 670.8 L1221 667.4 L1226 665.0 L1232 663.6 L1243 663.1 L1254 663.6 L1260 665.0 L1265 667.4 L1268 670.8 Z" fill="#000" fill-opacity="0.100"/>
<path d="M1334 676.0 L1333 681.2 L1330 684.6 L1325 687.0 L1318 688.4 L1308 688.9 L1297 688.4 L1290 687.0 L1285 684.6 L1282 681.2 L1282 676.0 L1282 670.8 L1285 667.4 L1290 665.0 L1297 663.6 L1307 663.1 L1318 663.6 L1325 665.0 L1330 667.4 L1333 670.8 Z" fill="#000" fill-opacity="0.095"/>
<path d="M1397 676.0 L1396 681.2 L1393 684.6 L1388 687.0 L1382 688.4 L1371 688.9 L1360 688.4 L1354 687.0 L1349 684.6 L1346 681.2 L1345 676.0 L1346 670.8 L1349 667.4 L1354 665.0 L1360 663.6 L1371 663.1 L1382 663.6 L1388 665.0 L1393 667.4 L1396 670.8 Z" fill="#000" fill-opacity="0.100"/>
<path d="M1462 676.0 L1461 680.9 L1458 684.0 L1453 686.2 L1447 687.5 L1436 688.0 L1425 687.5 L1419 686.2 L1414 684.0 L1411 680.9 L1410 676.0 L1411 671.1 L1414 668.0 L1419 665.8 L1425 664.5 L1436 664.0 L1447 664.5 L1453 665.8 L1458 668.0 L1461 671.1 Z" fill="#000" fill-opacity="0.100"/>
</g>
<g filter="url(#bb8)">
<path d="M1014 674.0 L1014 676.1 L1011 677.4 L1006 678.3 L999 678.9 L989 679.1 L978 678.9 L971 678.3 L966 677.4 L963 676.1 L962 674.0 L963 671.9 L966 670.6 L971 669.7 L978 669.1 L988 668.9 L999 669.1 L1006 669.7 L1011 670.6 L1014 671.9 Z" fill="#000" fill-opacity="0.782"/>
<path d="M1010 674.0 L1009 675.2 L1007 675.9 L1003 676.4 L997 676.8 L989 676.9 L980 676.8 L974 676.4 L970 675.9 L968 675.2 L967 674.0 L968 672.8 L970 672.1 L974 671.6 L980 671.2 L988 671.1 L997 671.2 L1003 671.6 L1007 672.1 L1009 672.8 Z" fill="#000" fill-opacity="0.391"/>
<path d="M1076 674.0 L1075 676.1 L1072 677.4 L1067 678.3 L1060 678.9 L1050 679.1 L1039 678.9 L1032 678.3 L1027 677.4 L1024 676.1 L1024 674.0 L1024 671.9 L1027 670.6 L1032 669.7 L1039 669.1 L1049 668.9 L1060 669.1 L1067 669.7 L1072 670.6 L1075 671.9 Z" fill="#000" fill-opacity="0.828"/>
<path d="M1071 674.0 L1070 675.2 L1068 675.9 L1064 676.4 L1058 676.8 L1050 676.9 L1041 676.8 L1035 676.4 L1031 675.9 L1029 675.2 L1028 674.0 L1029 672.8 L1031 672.1 L1035 671.6 L1041 671.2 L1049 671.1 L1058 671.2 L1064 671.6 L1068 672.1 L1070 672.8 Z" fill="#000" fill-opacity="0.414"/>
<path d="M1140 674.0 L1139 676.3 L1136 677.7 L1131 678.8 L1124 679.4 L1114 679.6 L1103 679.4 L1096 678.8 L1091 677.7 L1088 676.3 L1088 674.0 L1088 671.7 L1091 670.3 L1096 669.2 L1103 668.6 L1113 668.4 L1124 668.6 L1131 669.2 L1136 670.3 L1139 671.7 Z" fill="#000" fill-opacity="0.874"/>
<path d="M1135 674.0 L1134 675.3 L1132 676.1 L1128 676.7 L1122 677.1 L1114 677.2 L1105 677.1 L1099 676.7 L1095 676.1 L1093 675.3 L1092 674.0 L1093 672.7 L1095 671.9 L1099 671.3 L1105 670.9 L1113 670.8 L1122 670.9 L1128 671.3 L1132 671.9 L1134 672.7 Z" fill="#000" fill-opacity="0.437"/>
<path d="M1203 674.0 L1202 676.7 L1199 678.4 L1194 679.6 L1188 680.4 L1177 680.6 L1166 680.4 L1160 679.6 L1155 678.4 L1152 676.7 L1151 674.0 L1152 671.3 L1155 669.6 L1160 668.4 L1166 667.6 L1177 667.4 L1188 667.6 L1194 668.4 L1199 669.6 L1202 671.3 Z" fill="#000" fill-opacity="0.920"/>
<path d="M1198 674.0 L1198 675.6 L1195 676.6 L1191 677.3 L1186 677.7 L1177 677.8 L1168 677.7 L1163 677.3 L1159 676.6 L1156 675.6 L1156 674.0 L1156 672.4 L1159 671.4 L1163 670.7 L1168 670.3 L1177 670.2 L1186 670.3 L1191 670.7 L1195 671.4 L1198 672.4 Z" fill="#000" fill-opacity="0.460"/>
<path d="M1269 674.0 L1268 676.5 L1265 678.1 L1260 679.2 L1254 679.9 L1243 680.1 L1232 679.9 L1226 679.2 L1221 678.1 L1218 676.5 L1217 674.0 L1218 671.5 L1221 669.9 L1226 668.8 L1232 668.1 L1243 667.9 L1254 668.1 L1260 668.8 L1265 669.9 L1268 671.5 Z" fill="#000" fill-opacity="0.920"/>
<path d="M1264 674.0 L1264 675.4 L1261 676.3 L1257 677.0 L1252 677.4 L1243 677.5 L1234 677.4 L1229 677.0 L1225 676.3 L1222 675.4 L1222 674.0 L1222 672.6 L1225 671.7 L1229 671.0 L1234 670.6 L1243 670.5 L1252 670.6 L1257 671.0 L1261 671.7 L1264 672.6 Z" fill="#000" fill-opacity="0.460"/>
<path d="M1334 674.0 L1333 676.5 L1330 678.1 L1325 679.2 L1318 679.9 L1308 680.1 L1297 679.9 L1290 679.2 L1285 678.1 L1282 676.5 L1282 674.0 L1282 671.5 L1285 669.9 L1290 668.8 L1297 668.1 L1307 667.9 L1318 668.1 L1325 668.8 L1330 669.9 L1333 671.5 Z" fill="#000" fill-opacity="0.874"/>
<path d="M1329 674.0 L1328 675.4 L1326 676.3 L1322 677.0 L1316 677.4 L1308 677.5 L1299 677.4 L1293 677.0 L1289 676.3 L1287 675.4 L1286 674.0 L1287 672.6 L1289 671.7 L1293 671.0 L1299 670.6 L1307 670.5 L1316 670.6 L1322 671.0 L1326 671.7 L1328 672.6 Z" fill="#000" fill-opacity="0.437"/>
<path d="M1397 674.0 L1396 676.5 L1393 678.1 L1388 679.2 L1382 679.9 L1371 680.1 L1360 679.9 L1354 679.2 L1349 678.1 L1346 676.5 L1345 674.0 L1346 671.5 L1349 669.9 L1354 668.8 L1360 668.1 L1371 667.9 L1382 668.1 L1388 668.8 L1393 669.9 L1396 671.5 Z" fill="#000" fill-opacity="0.920"/>
<path d="M1392 674.0 L1392 675.4 L1389 676.3 L1385 677.0 L1380 677.4 L1371 677.5 L1362 677.4 L1357 677.0 L1353 676.3 L1350 675.4 L1350 674.0 L1350 672.6 L1353 671.7 L1357 671.0 L1362 670.6 L1371 670.5 L1380 670.6 L1385 671.0 L1389 671.7 L1392 672.6 Z" fill="#000" fill-opacity="0.460"/>
<path d="M1462 674.0 L1461 676.3 L1458 677.7 L1453 678.8 L1447 679.4 L1436 679.6 L1425 679.4 L1419 678.8 L1414 677.7 L1411 676.3 L1410 674.0 L1411 671.7 L1414 670.3 L1419 669.2 L1425 668.6 L1436 668.4 L1447 668.6 L1453 669.2 L1458 670.3 L1461 671.7 Z" fill="#000" fill-opacity="0.920"/>
<path d="M1457 674.0 L1457 675.3 L1454 676.1 L1450 676.7 L1445 677.1 L1436 677.2 L1427 677.1 L1422 676.7 L1418 676.1 L1415 675.3 L1415 674.0 L1415 672.7 L1418 671.9 L1422 671.3 L1427 670.9 L1436 670.8 L1445 670.9 L1450 671.3 L1454 671.9 L1457 672.7 Z" fill="#000" fill-opacity="0.460"/>
</g>
<rect x="948" y="642" width="522.2" height="59.8" fill="none" stroke="#000" stroke-width="3" />
<text x="1478.5" y="682" font-size="28.8" stroke="#000" stroke-width="1.1" >p53</text>
<rect x="948" y="709.5" width="522.2" height="59.7" fill="#fff" />
<g filter="url(#bh)">
<path d="M1008 742.5 L1007 746.6 L1004 749.3 L1001 751.2 L996 752.3 L988 752.7 L979 752.3 L974 751.2 L971 749.3 L968 746.6 L968 742.5 L968 738.4 L971 735.7 L974 733.8 L979 732.7 L987 732.3 L996 732.7 L1001 733.8 L1004 735.7 L1007 738.4 Z" fill="#000" fill-opacity="0.082"/>
<path d="M1054 742.5 L1053 745.9 L1052 748.1 L1049 749.6 L1046 750.6 L1040 750.9 L1034 750.6 L1031 749.6 L1028 748.1 L1027 745.9 L1026 742.5 L1027 739.1 L1028 736.9 L1031 735.4 L1034 734.4 L1040 734.1 L1046 734.4 L1049 735.4 L1052 736.9 L1053 739.1 Z" fill="#000" fill-opacity="0.060"/>
<path d="M1280 742.5 L1279 748.5 L1275 752.3 L1270 755.0 L1262 756.6 L1249 757.2 L1236 756.6 L1228 755.0 L1223 752.3 L1219 748.5 L1218 742.5 L1219 736.5 L1223 732.7 L1228 730.0 L1236 728.4 L1249 727.8 L1262 728.4 L1270 730.0 L1275 732.7 L1279 736.5 Z" fill="#000" fill-opacity="0.100"/>
<path d="M1341 742.5 L1340 747.0 L1337 749.9 L1332 751.9 L1326 753.2 L1315 753.6 L1304 753.2 L1298 751.9 L1293 749.9 L1290 747.0 L1289 742.5 L1290 738.0 L1293 735.1 L1298 733.1 L1304 731.8 L1315 731.4 L1326 731.8 L1332 733.1 L1337 735.1 L1340 738.0 Z" fill="#000" fill-opacity="0.096"/>
</g>
<g filter="url(#bb9)">
<path d="M1008 740.5 L1007 742.4 L1004 743.6 L1001 744.4 L996 744.9 L988 745.1 L979 744.9 L974 744.4 L971 743.6 L968 742.4 L968 740.5 L968 738.6 L971 737.4 L974 736.6 L979 736.1 L987 735.9 L996 736.1 L1001 736.6 L1004 737.4 L1007 738.6 Z" fill="#000" fill-opacity="0.754"/>
<path d="M1004 740.5 L1003 741.5 L1001 742.2 L998 742.7 L994 743.0 L988 743.1 L981 743.0 L977 742.7 L974 742.2 L972 741.5 L971 740.5 L972 739.5 L974 738.8 L977 738.3 L981 738.0 L987 737.9 L994 738.0 L998 738.3 L1001 738.8 L1003 739.5 Z" fill="#000" fill-opacity="0.377"/>
<path d="M1054 740.5 L1053 742.0 L1052 742.9 L1049 743.6 L1046 744.0 L1040 744.1 L1034 744.0 L1031 743.6 L1028 742.9 L1027 742.0 L1026 740.5 L1027 739.0 L1028 738.1 L1031 737.4 L1034 737.0 L1040 736.9 L1046 737.0 L1049 737.4 L1052 738.1 L1053 739.0 Z" fill="#000" fill-opacity="0.552"/>
<path d="M1138 740.5 L1138 741.8 L1135 742.6 L1130 743.1 L1124 743.5 L1114 743.6 L1103 743.5 L1097 743.1 L1092 742.6 L1089 741.8 L1088 740.5 L1089 739.2 L1092 738.4 L1097 737.9 L1103 737.5 L1113 737.4 L1124 737.5 L1130 737.9 L1135 738.4 L1138 739.2 Z" fill="#000" fill-opacity="0.092"/>
<path d="M1202 740.5 L1201 741.8 L1198 742.6 L1194 743.1 L1187 743.5 L1177 743.6 L1167 743.5 L1160 743.1 L1156 742.6 L1153 741.8 L1152 740.5 L1153 739.2 L1156 738.4 L1160 737.9 L1167 737.5 L1177 737.4 L1187 737.5 L1194 737.9 L1198 738.4 L1201 739.2 Z" fill="#000" fill-opacity="0.120"/>
<path d="M1280 740.5 L1279 743.4 L1275 745.2 L1270 746.5 L1262 747.3 L1249 747.6 L1236 747.3 L1228 746.5 L1223 745.2 L1219 743.4 L1218 740.5 L1219 737.6 L1223 735.8 L1228 734.5 L1236 733.7 L1249 733.4 L1262 733.7 L1270 734.5 L1275 735.8 L1279 737.6 Z" fill="#000" fill-opacity="0.920"/>
<path d="M1274 740.5 L1273 742.2 L1271 743.3 L1266 744.0 L1259 744.5 L1249 744.7 L1239 744.5 L1232 744.0 L1227 743.3 L1225 742.2 L1224 740.5 L1225 738.8 L1227 737.7 L1232 737.0 L1239 736.5 L1249 736.3 L1259 736.5 L1266 737.0 L1271 737.7 L1273 738.8 Z" fill="#000" fill-opacity="0.460"/>
<path d="M1341 740.5 L1340 742.6 L1337 743.9 L1332 744.8 L1326 745.4 L1315 745.6 L1304 745.4 L1298 744.8 L1293 743.9 L1290 742.6 L1289 740.5 L1290 738.4 L1293 737.1 L1298 736.2 L1304 735.6 L1315 735.4 L1326 735.6 L1332 736.2 L1337 737.1 L1340 738.4 Z" fill="#000" fill-opacity="0.883"/>
<path d="M1336 740.5 L1336 741.7 L1333 742.4 L1329 742.9 L1324 743.3 L1315 743.4 L1306 743.3 L1301 742.9 L1297 742.4 L1294 741.7 L1294 740.5 L1294 739.3 L1297 738.6 L1301 738.1 L1306 737.7 L1315 737.6 L1324 737.7 L1329 738.1 L1333 738.6 L1336 739.3 Z" fill="#000" fill-opacity="0.442"/>
<path d="M1396 740.5 L1395 741.8 L1392 742.6 L1388 743.1 L1381 743.5 L1371 743.6 L1361 743.5 L1354 743.1 L1350 742.6 L1347 741.8 L1346 740.5 L1347 739.2 L1350 738.4 L1354 737.9 L1361 737.5 L1371 737.4 L1381 737.5 L1388 737.9 L1392 738.4 L1395 739.2 Z" fill="#000" fill-opacity="0.046"/>
<path d="M1461 740.5 L1460 741.8 L1457 742.6 L1453 743.1 L1446 743.5 L1436 743.6 L1426 743.5 L1419 743.1 L1415 742.6 L1412 741.8 L1411 740.5 L1412 739.2 L1415 738.4 L1419 737.9 L1426 737.5 L1436 737.4 L1446 737.5 L1453 737.9 L1457 738.4 L1460 739.2 Z" fill="#000" fill-opacity="0.064"/>
</g>
<rect x="948" y="709.5" width="522.2" height="59.7" fill="none" stroke="#000" stroke-width="3" />
<text x="1478.5" y="752.5" font-size="28.8" stroke="#000" stroke-width="1.1" >p16</text>
<rect x="948" y="776.4" width="522.2" height="60.1" fill="#fcfcfc" />
<g filter="url(#bh)">
<path d="M1026 806.5 L1025 812.1 L1021 815.7 L1016 818.2 L1008 819.8 L996 820.3 L984 819.8 L976 818.2 L971 815.7 L967 812.1 L966 806.5 L967 800.9 L971 797.3 L976 794.8 L984 793.2 L996 792.7 L1008 793.2 L1016 794.8 L1021 797.3 L1025 800.9 Z" fill="#000" fill-opacity="0.082"/>
<path d="M1080 806.5 L1078 811.7 L1075 815.1 L1069 817.5 L1062 818.9 L1050 819.4 L1037 818.9 L1030 817.5 L1024 815.1 L1021 811.7 L1020 806.5 L1021 801.3 L1024 797.9 L1030 795.5 L1037 794.1 L1049 793.6 L1062 794.1 L1069 795.5 L1075 797.9 L1078 801.3 Z" fill="#000" fill-opacity="0.068"/>
<path d="M1144 806.5 L1142 811.7 L1139 815.1 L1133 817.5 L1126 818.9 L1114 819.4 L1101 818.9 L1094 817.5 L1088 815.1 L1085 811.7 L1084 806.5 L1085 801.3 L1088 797.9 L1094 795.5 L1101 794.1 L1113 793.6 L1126 794.1 L1133 795.5 L1139 797.9 L1142 801.3 Z" fill="#000" fill-opacity="0.068"/>
<path d="M1207 806.5 L1206 811.7 L1202 815.1 L1197 817.5 L1189 818.9 L1177 819.4 L1165 818.9 L1157 817.5 L1152 815.1 L1148 811.7 L1147 806.5 L1148 801.3 L1152 797.9 L1157 795.5 L1165 794.1 L1177 793.6 L1189 794.1 L1197 795.5 L1202 797.9 L1206 801.3 Z" fill="#000" fill-opacity="0.068"/>
<path d="M1273 806.5 L1272 811.7 L1268 815.1 L1263 817.5 L1255 818.9 L1243 819.4 L1231 818.9 L1223 817.5 L1218 815.1 L1214 811.7 L1213 806.5 L1214 801.3 L1218 797.9 L1223 795.5 L1231 794.1 L1243 793.6 L1255 794.1 L1263 795.5 L1268 797.9 L1272 801.3 Z" fill="#000" fill-opacity="0.066"/>
<path d="M1338 806.5 L1336 811.7 L1333 815.1 L1327 817.5 L1320 818.9 L1308 819.4 L1295 818.9 L1288 817.5 L1282 815.1 L1279 811.7 L1278 806.5 L1279 801.3 L1282 797.9 L1288 795.5 L1295 794.1 L1307 793.6 L1320 794.1 L1327 795.5 L1333 797.9 L1336 801.3 Z" fill="#000" fill-opacity="0.068"/>
<path d="M1401 806.5 L1400 811.7 L1396 815.1 L1391 817.5 L1383 818.9 L1371 819.4 L1359 818.9 L1351 817.5 L1346 815.1 L1342 811.7 L1341 806.5 L1342 801.3 L1346 797.9 L1351 795.5 L1359 794.1 L1371 793.6 L1383 794.1 L1391 795.5 L1396 797.9 L1400 801.3 Z" fill="#000" fill-opacity="0.068"/>
<path d="M1466 806.5 L1465 811.7 L1461 815.1 L1456 817.5 L1448 818.9 L1436 819.4 L1424 818.9 L1416 817.5 L1411 815.1 L1407 811.7 L1406 806.5 L1407 801.3 L1411 797.9 L1416 795.5 L1424 794.1 L1436 793.6 L1448 794.1 L1456 795.5 L1461 797.9 L1465 801.3 Z" fill="#000" fill-opacity="0.066"/>
</g>
<g filter="url(#bb10)">
<path d="M1026 804.5 L1025 807.2 L1021 808.9 L1016 810.1 L1008 810.9 L996 811.1 L984 810.9 L976 810.1 L971 808.9 L967 807.2 L966 804.5 L967 801.8 L971 800.1 L976 798.9 L984 798.1 L996 797.9 L1008 798.1 L1016 798.9 L1021 800.1 L1025 801.8 Z" fill="#000" fill-opacity="0.754"/>
<path d="M1021 804.5 L1020 806.1 L1017 807.1 L1012 807.8 L1006 808.2 L996 808.3 L986 808.2 L980 807.8 L975 807.1 L972 806.1 L971 804.5 L972 802.9 L975 801.9 L980 801.2 L986 800.8 L996 800.7 L1006 800.8 L1012 801.2 L1017 801.9 L1020 802.9 Z" fill="#000" fill-opacity="0.377"/>
<path d="M1080 804.5 L1078 807.0 L1075 808.6 L1069 809.7 L1062 810.4 L1050 810.6 L1037 810.4 L1030 809.7 L1024 808.6 L1021 807.0 L1020 804.5 L1021 802.0 L1024 800.4 L1030 799.3 L1037 798.6 L1049 798.4 L1062 798.6 L1069 799.3 L1075 800.4 L1078 802.0 Z" fill="#000" fill-opacity="0.626"/>
<path d="M1074 804.5 L1073 805.9 L1070 806.8 L1066 807.5 L1059 807.9 L1050 808.0 L1040 807.9 L1033 807.5 L1029 806.8 L1026 805.9 L1025 804.5 L1026 803.1 L1029 802.2 L1033 801.5 L1040 801.1 L1049 801.0 L1059 801.1 L1066 801.5 L1070 802.2 L1073 803.1 Z" fill="#000" fill-opacity="0.313"/>
<path d="M1144 804.5 L1142 807.0 L1139 808.6 L1133 809.7 L1126 810.4 L1114 810.6 L1101 810.4 L1094 809.7 L1088 808.6 L1085 807.0 L1084 804.5 L1085 802.0 L1088 800.4 L1094 799.3 L1101 798.6 L1113 798.4 L1126 798.6 L1133 799.3 L1139 800.4 L1142 802.0 Z" fill="#000" fill-opacity="0.626"/>
<path d="M1138 804.5 L1137 805.9 L1134 806.8 L1130 807.5 L1123 807.9 L1114 808.0 L1104 807.9 L1097 807.5 L1093 806.8 L1090 805.9 L1089 804.5 L1090 803.1 L1093 802.2 L1097 801.5 L1104 801.1 L1113 801.0 L1123 801.1 L1130 801.5 L1134 802.2 L1137 803.1 Z" fill="#000" fill-opacity="0.313"/>
<path d="M1207 804.5 L1206 807.0 L1202 808.6 L1197 809.7 L1189 810.4 L1177 810.6 L1165 810.4 L1157 809.7 L1152 808.6 L1148 807.0 L1147 804.5 L1148 802.0 L1152 800.4 L1157 799.3 L1165 798.6 L1177 798.4 L1189 798.6 L1197 799.3 L1202 800.4 L1206 802.0 Z" fill="#000" fill-opacity="0.626"/>
<path d="M1202 804.5 L1201 805.9 L1198 806.8 L1193 807.5 L1187 807.9 L1177 808.0 L1167 807.9 L1161 807.5 L1156 806.8 L1153 805.9 L1152 804.5 L1153 803.1 L1156 802.2 L1161 801.5 L1167 801.1 L1177 801.0 L1187 801.1 L1193 801.5 L1198 802.2 L1201 803.1 Z" fill="#000" fill-opacity="0.313"/>
<path d="M1273 804.5 L1272 807.0 L1268 808.6 L1263 809.7 L1255 810.4 L1243 810.6 L1231 810.4 L1223 809.7 L1218 808.6 L1214 807.0 L1213 804.5 L1214 802.0 L1218 800.4 L1223 799.3 L1231 798.6 L1243 798.4 L1255 798.6 L1263 799.3 L1268 800.4 L1272 802.0 Z" fill="#000" fill-opacity="0.607"/>
<path d="M1268 804.5 L1267 805.9 L1264 806.8 L1259 807.5 L1253 807.9 L1243 808.0 L1233 807.9 L1227 807.5 L1222 806.8 L1219 805.9 L1218 804.5 L1219 803.1 L1222 802.2 L1227 801.5 L1233 801.1 L1243 801.0 L1253 801.1 L1259 801.5 L1264 802.2 L1267 803.1 Z" fill="#000" fill-opacity="0.304"/>
<path d="M1338 804.5 L1336 807.0 L1333 808.6 L1327 809.7 L1320 810.4 L1308 810.6 L1295 810.4 L1288 809.7 L1282 808.6 L1279 807.0 L1278 804.5 L1279 802.0 L1282 800.4 L1288 799.3 L1295 798.6 L1307 798.4 L1320 798.6 L1327 799.3 L1333 800.4 L1336 802.0 Z" fill="#000" fill-opacity="0.626"/>
<path d="M1332 804.5 L1331 805.9 L1328 806.8 L1324 807.5 L1317 807.9 L1308 808.0 L1298 807.9 L1291 807.5 L1287 806.8 L1284 805.9 L1283 804.5 L1284 803.1 L1287 802.2 L1291 801.5 L1298 801.1 L1307 801.0 L1317 801.1 L1324 801.5 L1328 802.2 L1331 803.1 Z" fill="#000" fill-opacity="0.313"/>
<path d="M1401 804.5 L1400 807.0 L1396 808.6 L1391 809.7 L1383 810.4 L1371 810.6 L1359 810.4 L1351 809.7 L1346 808.6 L1342 807.0 L1341 804.5 L1342 802.0 L1346 800.4 L1351 799.3 L1359 798.6 L1371 798.4 L1383 798.6 L1391 799.3 L1396 800.4 L1400 802.0 Z" fill="#000" fill-opacity="0.626"/>
<path d="M1396 804.5 L1395 805.9 L1392 806.8 L1387 807.5 L1381 807.9 L1371 808.0 L1361 807.9 L1355 807.5 L1350 806.8 L1347 805.9 L1346 804.5 L1347 803.1 L1350 802.2 L1355 801.5 L1361 801.1 L1371 801.0 L1381 801.1 L1387 801.5 L1392 802.2 L1395 803.1 Z" fill="#000" fill-opacity="0.313"/>
<path d="M1466 804.5 L1465 807.0 L1461 808.6 L1456 809.7 L1448 810.4 L1436 810.6 L1424 810.4 L1416 809.7 L1411 808.6 L1407 807.0 L1406 804.5 L1407 802.0 L1411 800.4 L1416 799.3 L1424 798.6 L1436 798.4 L1448 798.6 L1456 799.3 L1461 800.4 L1465 802.0 Z" fill="#000" fill-opacity="0.607"/>
<path d="M1461 804.5 L1460 805.9 L1457 806.8 L1452 807.5 L1446 807.9 L1436 808.0 L1426 807.9 L1420 807.5 L1415 806.8 L1412 805.9 L1411 804.5 L1412 803.1 L1415 802.2 L1420 801.5 L1426 801.1 L1436 801.0 L1446 801.1 L1452 801.5 L1457 802.2 L1460 803.1 Z" fill="#000" fill-opacity="0.304"/>
</g>
<rect x="948" y="776.4" width="522.2" height="60.1" fill="none" stroke="#000" stroke-width="3" />
<text x="1478.5" y="814" font-size="28.8" stroke="#000" stroke-width="1.1" >β-actin</text>
<line x1="930.5" y1="160.7" x2="947" y2="160.7" stroke="#000" stroke-width="2.6" />
<text x="929.5" y="168" font-size="21" text-anchor="end" textLength="24.5" lengthAdjust="spacingAndGlyphs" stroke="#000" stroke-width="0.7" >50</text>
<line x1="930.5" y1="204.3" x2="947" y2="204.3" stroke="#000" stroke-width="2.6" />
<text x="929.5" y="211.6" font-size="21" text-anchor="end" textLength="24.5" lengthAdjust="spacingAndGlyphs" stroke="#000" stroke-width="0.7" >37</text>
<line x1="930.5" y1="259.6" x2="947" y2="259.6" stroke="#000" stroke-width="2.6" />
<text x="929.5" y="266.9" font-size="21" text-anchor="end" textLength="24.5" lengthAdjust="spacingAndGlyphs" stroke="#000" stroke-width="0.7" >37</text>
<line x1="930.5" y1="332.6" x2="947" y2="332.6" stroke="#000" stroke-width="2.6" />
<text x="929.5" y="339.9" font-size="21" text-anchor="end" textLength="24.5" lengthAdjust="spacingAndGlyphs" stroke="#000" stroke-width="0.7" >75</text>
<line x1="930.5" y1="394.4" x2="947" y2="394.4" stroke="#000" stroke-width="2.6" />
<text x="929.5" y="401.7" font-size="21" text-anchor="end" textLength="24.5" lengthAdjust="spacingAndGlyphs" stroke="#000" stroke-width="0.7" >75</text>
<line x1="930.5" y1="454.9" x2="947" y2="454.9" stroke="#000" stroke-width="2.6" />
<text x="929.5" y="462.2" font-size="21" text-anchor="end" textLength="24.5" lengthAdjust="spacingAndGlyphs" stroke="#000" stroke-width="0.7" >75</text>
<line x1="930.5" y1="523" x2="947" y2="523" stroke="#000" stroke-width="2.6" />
<text x="929.5" y="530.3" font-size="21" text-anchor="end" textLength="24.5" lengthAdjust="spacingAndGlyphs" stroke="#000" stroke-width="0.7" >75</text>
<line x1="930.5" y1="577.8" x2="947" y2="577.8" stroke="#000" stroke-width="2.6" />
<text x="929.5" y="585.1" font-size="21" text-anchor="end" textLength="24.5" lengthAdjust="spacingAndGlyphs" stroke="#000" stroke-width="0.7" >60</text>
<line x1="930.5" y1="641.5" x2="947" y2="641.5" stroke="#000" stroke-width="2.6" />
<text x="929.5" y="648.8" font-size="21" text-anchor="end" textLength="24.5" lengthAdjust="spacingAndGlyphs" stroke="#000" stroke-width="0.7" >60</text>
<line x1="930.5" y1="711.2" x2="947" y2="711.2" stroke="#000" stroke-width="2.6" />
<text x="929.5" y="718.5" font-size="21" text-anchor="end" textLength="24.5" lengthAdjust="spacingAndGlyphs" stroke="#000" stroke-width="0.7" >25</text>
<line x1="930.5" y1="827.4" x2="947" y2="827.4" stroke="#000" stroke-width="2.6" />
<text x="929.5" y="834.7" font-size="21" text-anchor="end" textLength="24.5" lengthAdjust="spacingAndGlyphs" stroke="#000" stroke-width="0.7" >37</text>
<text x="982.6" y="65.2" font-size="28" textLength="68" lengthAdjust="spacingAndGlyphs" stroke="#000" stroke-width="0.9" >mock</text>
<text x="1108.6" y="65.6" font-size="28" textLength="103.5" lengthAdjust="spacingAndGlyphs" stroke="#000" stroke-width="0.9" >PltB<tspan font-size="19" dy="-9.5">S35A</tspan></text>
<text x="1250" y="66.6" font-size="28" textLength="46" lengthAdjust="spacingAndGlyphs" stroke="#000" stroke-width="0.9" >WT</text>
<text x="1337" y="66.6" font-size="28" textLength="133" lengthAdjust="spacingAndGlyphs" stroke="#000" stroke-width="0.9" >CdtB<tspan font-size="19" dy="-10">H160Q</tspan></text>
<line x1="957.6" y1="69.1" x2="1069" y2="69.1" stroke="#000" stroke-width="3.2" />
<line x1="1089.6" y1="69.1" x2="1197.2" y2="69.1" stroke="#000" stroke-width="3.2" />
<line x1="1215.9" y1="69.1" x2="1324.8" y2="69.1" stroke="#000" stroke-width="3.2" />
<line x1="1344" y1="69.1" x2="1457.5" y2="69.1" stroke="#000" stroke-width="3.2" />
<text x="852.4" y="92.9" font-size="29" textLength="90.4" lengthAdjust="spacingAndGlyphs" stroke="#000" stroke-width="0.6" >MitoQ :</text>
<text x="851.9" y="119.5" font-size="23" textLength="57" lengthAdjust="spacingAndGlyphs" stroke="#000" stroke-width="0.3" >(kDa)</text>
<text x="983" y="92" font-size="26" text-anchor="middle" font-weight="bold" >-</text>
<text x="1109" y="92" font-size="26" text-anchor="middle" font-weight="bold" >-</text>
<text x="1238" y="92" font-size="26" text-anchor="middle" font-weight="bold" >-</text>
<text x="1369.5" y="92" font-size="26" text-anchor="middle" font-weight="bold" >-</text>
<text x="1052.8" y="92.5" font-size="26" text-anchor="middle" font-weight="bold" >+</text>
<text x="1178.5" y="92.5" font-size="26" text-anchor="middle" font-weight="bold" >+</text>
<text x="1307.4" y="92.5" font-size="26" text-anchor="middle" font-weight="bold" >+</text>
<text x="1439.5" y="92.5" font-size="26" text-anchor="middle" font-weight="bold" >+</text>
<path d="M923.3 1001 L923.3 1000.4 L924.1 1000.4 L924.9 1000.4 L925.7 1000.4 L926.5 1000.4 L927.3 1000.4 L928.1 1000.4 L928.9 1000.4 L929.7 1000.4 L930.5 1000.4 L931.3 1000.4 L932.1 1000.4 L932.9 1000.4 L933.7 1000.4 L934.5 1000.4 L935.3 1000.4 L936.1 1000.4 L936.9 1000.4 L937.7 1000.4 L938.5 1000.4 L939.3 1000.4 L940.1 1000.4 L940.9 1000.4 L941.7 1000.4 L942.5 1000.4 L943.3 1000.4 L944.1 1000.4 L944.9 1000.4 L945.7 1000.4 L946.5 1000.4 L947.3 1000.4 L948.1 1000.4 L948.9 1000.4 L949.7 1000.4 L950.5 1000.4 L951.3 1000.4 L952.1 1000.4 L952.9 1000.4 L953.7 1000.4 L954.5 1000.4 L955.3 1000.4 L956.1 1000.4 L956.9 1000.4 L957.7 1000.4 L958.5 1000.4 L959.3 1000.4 L960.1 1000.4 L960.9 1000.4 L961.7 1000.4 L962.5 1000.4 L963.3 1000.4 L964.1 1000.4 L964.9 1000.4 L965.7 1000.4 L966.5 1000.4 L967.3 1000.4 L968.1 1000.4 L968.9 1000.4 L969.7 1000.4 L970.5 1000.4 L971.3 1000.4 L972.1 1000.4 L972.9 1000.3 L973.7 1000.3 L974.5 1000.3 L975.3 1000.3 L976.1 1000.3 L976.9 1000.2 L977.7 1000.1 L978.5 1000.1 L979.3 1000 L980.1 1000 L980.9 999.9 L981.7 999.7 L982.5 999.6 L983.3 999.4 L984.1 999.3 L984.9 999.1 L985.7 998.8 L986.5 998.5 L987.3 998 L988.1 997.7 L988.9 997.3 L989.7 996.6 L990.5 996.2 L991.3 995.4 L992.1 994.4 L992.9 993.5 L993.7 992.8 L994.5 990.9 L995.3 990.2 L996.1 988.6 L996.9 986.3 L997.7 984.9 L998.5 982.9 L999.3 981 L1000.1 978.6 L1000.9 975.1 L1001.7 973.1 L1002.5 969.4 L1003.3 967.1 L1004.1 964 L1004.9 959.5 L1005.7 958.2 L1006.5 955.2 L1007.3 951.6 L1008.1 952.1 L1008.9 950.4 L1009.7 945.7 L1010.5 946 L1011.3 948.5 L1012.1 948.7 L1012.9 946.4 L1013.7 945.5 L1014.5 949 L1015.3 947.5 L1016.1 949.9 L1016.9 953.4 L1017.7 956.7 L1018.5 960.6 L1019.3 963.7 L1020.1 964.1 L1020.9 969.2 L1021.7 971.2 L1022.5 975.2 L1023.3 977.1 L1024.1 980.3 L1024.9 983.3 L1025.7 985.8 L1026.5 987.4 L1027.3 989.9 L1028.1 991.5 L1028.9 992.8 L1029.7 993.9 L1030.5 995.2 L1031.3 996.3 L1032.1 996.9 L1032.9 997.8 L1033.7 998.3 L1034.5 998.7 L1035.3 999 L1036.1 999.4 L1036.9 999.6 L1037.7 999.7 L1038.5 999.8 L1039.3 1000 L1040.1 1000 L1040.9 1000 L1041.7 1000.1 L1042.5 1000.1 L1043.3 1000.1 L1044.1 1000.1 L1044.9 1000.2 L1045.7 1000.2 L1046.5 1000.2 L1047.3 1000.1 L1048.1 1000.1 L1048.9 1000 L1049.7 1000.1 L1050.5 1000 L1051.3 1000 L1052.1 1000 L1052.9 1000 L1053.7 999.9 L1054.5 1000 L1055.3 999.9 L1056.1 999.9 L1056.9 999.9 L1057.7 999.9 L1058.5 999.8 L1059.3 999.8 L1060.1 999.8 L1060.9 999.8 L1061.7 999.7 L1062.5 999.7 L1063.3 999.7 L1064.1 999.7 L1064.9 999.6 L1065.7 999.6 L1066.5 999.6 L1067.3 999.6 L1068.1 999.6 L1068.9 999.6 L1069.7 999.5 L1070.5 999.6 L1071.3 999.5 L1072.1 999.4 L1072.9 999.4 L1073.7 999.4 L1074.5 999.4 L1075.3 999.4 L1076.1 999.4 L1076.9 999.4 L1077.7 999.3 L1078.5 999.4 L1079.3 999.3 L1080.1 999.4 L1080.9 999.3 L1081.7 999.3 L1082.5 999.3 L1083.3 999.2 L1084.1 999.2 L1084.9 999.2 L1085.7 999.2 L1086.5 999.2 L1087.3 999.3 L1088.1 999.2 L1088.9 999.2 L1089.7 999.2 L1090.5 999.2 L1091.3 999.1 L1092.1 999.2 L1092.9 999.2 L1093.7 999.2 L1094.5 999.2 L1095.3 999.2 L1096.1 999.3 L1096.9 999.3 L1097.7 999.2 L1098.5 999.2 L1099.3 999.2 L1100.1 999.3 L1100.9 999.3 L1101.7 999.3 L1102.5 999.4 L1103.3 999.4 L1104.1 999.3 L1104.9 999.4 L1105.7 999.4 L1106.5 999.4 L1107.3 999.5 L1108.1 999.5 L1108.9 999.5 L1109.7 999.5 L1110.5 999.6 L1111.3 999.6 L1112.1 999.6 L1112.9 999.6 L1113.7 999.7 L1114.5 999.6 L1115.3 999.6 L1116.1 999.7 L1116.9 999.8 L1117.7 999.8 L1118.5 999.7 L1119.3 999.8 L1120.1 999.8 L1120.9 999.8 L1121.7 999.9 L1122.5 999.9 L1123.3 999.9 L1124.1 1000 L1124.9 1000 L1125.7 1000 L1126.5 1000 L1127.3 1000 L1128.1 1000.1 L1128.9 1000.1 L1129.7 1000.1 L1130.5 1000.1 L1131.3 1000.1 L1132.1 1000.1 L1132.9 1000.1 L1133.7 1000.1 L1134.5 1000.1 L1135.3 1000.2 L1136.1 1000.2 L1136.9 1000.2 L1137.7 1000.2 L1138.5 1000.2 L1139.3 1000.2 L1140.1 1000.3 L1140.9 1000.3 L1141.7 1000.3 L1142.5 1000.3 L1143.3 1000.3 L1144.1 1000.3 L1144.9 1000.3 L1145.7 1000.3 L1146.5 1000.3 L1147.3 1000.3 L1148.1 1000.3 L1148.9 1000.3 L1149.7 1000.3 L1150.5 1000.4 L1151.3 1000.3 L1152.1 1000.3 L1152.9 1000.3 L1153.7 1000.4 L1154.5 1000.4 L1155.3 1000.3 L1156.1 1000.3 L1156.9 1000.3 L1157.7 1000.4 L1158.5 1000.4 L1159.3 1000.4 L1160.1 1000.4 L1160.9 1000.4 L1161.7 1000.4 L1162.5 1000.4 L1163.3 1000.4 L1164.1 1000.4 L1164.9 1000.4 L1165.7 1000.4 L1166.5 1000.4 L1167.3 1000.4 L1168.1 1000.4 L1168.9 1000.4 L1169.7 1000.4 L1170.5 1000.4 L1171.3 1000.4 L1172.1 1000.4 L1172.9 1000.4 L1173.7 1000.4 L1174.5 1000.4 L1175.3 1000.4 L1176.1 1000.4 L1176.9 1000.4 L1177.7 1000.4 L1178.5 1000.4 L1179.3 1000.4 L1180.1 1000.4 L1180.9 1000.4 L1181.7 1000.4 L1182.5 1000.4 L1183.3 1000.4 L1184.1 1000.4 L1184.9 1000.4 L1185.7 1000.4 L1186.5 1000.4 L1187.3 1000.4 L1188.1 1000.4 L1188.6 1001 Z" fill="#ececec" fill-opacity="0.85"/>
<path d="M923.3 1000.4 L924.1 1000.4 L924.9 1000.4 L925.7 1000.4 L926.5 1000.4 L927.3 1000.4 L928.1 1000.4 L928.9 1000.4 L929.7 1000.4 L930.5 1000.4 L931.3 1000.4 L932.1 1000.4 L932.9 1000.4 L933.7 1000.4 L934.5 1000.4 L935.3 1000.4 L936.1 1000.4 L936.9 1000.4 L937.7 1000.4 L938.5 1000.4 L939.3 1000.4 L940.1 1000.4 L940.9 1000.4 L941.7 1000.4 L942.5 1000.4 L943.3 1000.4 L944.1 1000.4 L944.9 1000.4 L945.7 1000.4 L946.5 1000.4 L947.3 1000.4 L948.1 1000.4 L948.9 1000.4 L949.7 1000.4 L950.5 1000.4 L951.3 1000.4 L952.1 1000.4 L952.9 1000.4 L953.7 1000.4 L954.5 1000.4 L955.3 1000.4 L956.1 1000.4 L956.9 1000.4 L957.7 1000.4 L958.5 1000.4 L959.3 1000.4 L960.1 1000.4 L960.9 1000.4 L961.7 1000.4 L962.5 1000.4 L963.3 1000.4 L964.1 1000.4 L964.9 1000.4 L965.7 1000.4 L966.5 1000.4 L967.3 1000.4 L968.1 1000.4 L968.9 1000.4 L969.7 1000.4 L970.5 1000.4 L971.3 1000.4 L972.1 1000.4 L972.9 1000.3 L973.7 1000.3 L974.5 1000.3 L975.3 1000.3 L976.1 1000.3 L976.9 1000.2 L977.7 1000.1 L978.5 1000.1 L979.3 1000 L980.1 999.9 L980.9 999.8 L981.7 999.8 L982.5 999.6 L983.3 999.4 L984.1 999.2 L984.9 999.1 L985.7 998.8 L986.5 998.4 L987.3 998.2 L988.1 997.6 L988.9 997.2 L989.7 996.8 L990.5 996.2 L991.3 995.3 L992.1 994.7 L992.9 993.8 L993.7 992.4 L994.5 991.4 L995.3 989.7 L996.1 988.6 L996.9 986.7 L997.7 984.5 L998.5 983.1 L999.3 980.7 L1000.1 977.6 L1000.9 974.6 L1001.7 971.7 L1002.5 970.4 L1003.3 966.8 L1004.1 963.3 L1004.9 961 L1005.7 957.7 L1006.5 956.3 L1007.3 954.3 L1008.1 952 L1008.9 950.4 L1009.7 947.3 L1010.5 947.3 L1011.3 947.2 L1012.1 948.5 L1012.9 948.4 L1013.7 948.3 L1014.5 946.6 L1015.3 947.9 L1016.1 950.1 L1016.9 954.9 L1017.7 957.6 L1018.5 958.1 L1019.3 962.4 L1020.1 964.8 L1020.9 968.9 L1021.7 971.7 L1022.5 974.7 L1023.3 977.8 L1024.1 980.3 L1024.9 983.6 L1025.7 985.2 L1026.5 987.3 L1027.3 989.8 L1028.1 991.3 L1028.9 992.7 L1029.7 994.2 L1030.5 995.4 L1031.3 996.3 L1032.1 997 L1032.9 997.8 L1033.7 998.2 L1034.5 998.6 L1035.3 999 L1036.1 999.3 L1036.9 999.5 L1037.7 999.7 L1038.5 999.8 L1039.3 999.9 L1040.1 1000 L1040.9 1000 L1041.7 1000.1 L1042.5 1000.1 L1043.3 1000.1 L1044.1 1000.1 L1044.9 1000.1 L1045.7 1000.1 L1046.5 1000.1 L1047.3 1000.1 L1048.1 1000.1 L1048.9 1000.1 L1049.7 1000.1 L1050.5 1000.1 L1051.3 1000 L1052.1 1000 L1052.9 1000 L1053.7 1000 L1054.5 1000 L1055.3 1000 L1056.1 999.9 L1056.9 999.9 L1057.7 999.9 L1058.5 999.8 L1059.3 999.8 L1060.1 999.8 L1060.9 999.8 L1061.7 999.8 L1062.5 999.7 L1063.3 999.7 L1064.1 999.7 L1064.9 999.7 L1065.7 999.6 L1066.5 999.6 L1067.3 999.6 L1068.1 999.6 L1068.9 999.5 L1069.7 999.5 L1070.5 999.5 L1071.3 999.5 L1072.1 999.5 L1072.9 999.5 L1073.7 999.4 L1074.5 999.4 L1075.3 999.4 L1076.1 999.3 L1076.9 999.3 L1077.7 999.3 L1078.5 999.3 L1079.3 999.3 L1080.1 999.2 L1080.9 999.3 L1081.7 999.2 L1082.5 999.3 L1083.3 999.2 L1084.1 999.2 L1084.9 999.3 L1085.7 999.2 L1086.5 999.2 L1087.3 999.2 L1088.1 999.2 L1088.9 999.2 L1089.7 999.2 L1090.5 999.2 L1091.3 999.2 L1092.1 999.2 L1092.9 999.2 L1093.7 999.2 L1094.5 999.2 L1095.3 999.2 L1096.1 999.2 L1096.9 999.2 L1097.7 999.3 L1098.5 999.2 L1099.3 999.3 L1100.1 999.3 L1100.9 999.3 L1101.7 999.4 L1102.5 999.4 L1103.3 999.3 L1104.1 999.4 L1104.9 999.4 L1105.7 999.4 L1106.5 999.5 L1107.3 999.4 L1108.1 999.4 L1108.9 999.5 L1109.7 999.5 L1110.5 999.5 L1111.3 999.6 L1112.1 999.5 L1112.9 999.6 L1113.7 999.6 L1114.5 999.6 L1115.3 999.7 L1116.1 999.7 L1116.9 999.7 L1117.7 999.7 L1118.5 999.8 L1119.3 999.8 L1120.1 999.8 L1120.9 999.8 L1121.7 999.9 L1122.5 999.9 L1123.3 999.9 L1124.1 1000 L1124.9 1000 L1125.7 1000 L1126.5 1000 L1127.3 1000 L1128.1 1000 L1128.9 1000 L1129.7 1000 L1130.5 1000.1 L1131.3 1000.1 L1132.1 1000.1 L1132.9 1000.1 L1133.7 1000.2 L1134.5 1000.2 L1135.3 1000.1 L1136.1 1000.2 L1136.9 1000.2 L1137.7 1000.2 L1138.5 1000.2 L1139.3 1000.2 L1140.1 1000.2 L1140.9 1000.2 L1141.7 1000.3 L1142.5 1000.3 L1143.3 1000.3 L1144.1 1000.3 L1144.9 1000.3 L1145.7 1000.3 L1146.5 1000.3 L1147.3 1000.3 L1148.1 1000.3 L1148.9 1000.3 L1149.7 1000.3 L1150.5 1000.3 L1151.3 1000.4 L1152.1 1000.3 L1152.9 1000.4 L1153.7 1000.4 L1154.5 1000.4 L1155.3 1000.4 L1156.1 1000.4 L1156.9 1000.4 L1157.7 1000.4 L1158.5 1000.4 L1159.3 1000.4 L1160.1 1000.4 L1160.9 1000.4 L1161.7 1000.4 L1162.5 1000.4 L1163.3 1000.4 L1164.1 1000.4 L1164.9 1000.4 L1165.7 1000.4 L1166.5 1000.4 L1167.3 1000.4 L1168.1 1000.4 L1168.9 1000.4 L1169.7 1000.4 L1170.5 1000.4 L1171.3 1000.4 L1172.1 1000.4 L1172.9 1000.4 L1173.7 1000.4 L1174.5 1000.4 L1175.3 1000.4 L1176.1 1000.4 L1176.9 1000.4 L1177.7 1000.4 L1178.5 1000.4 L1179.3 1000.4 L1180.1 1000.4 L1180.9 1000.4 L1181.7 1000.4 L1182.5 1000.4 L1183.3 1000.4 L1184.1 1000.4 L1184.9 1000.4 L1185.7 1000.4 L1186.5 1000.4 L1187.3 1000.4 L1188.1 1000.4" fill="none" stroke="#dadada" stroke-width="2.0" />
<text x="1187.5" y="998" font-size="20" text-anchor="end" fill="#c8c8c8" textLength="47" lengthAdjust="spacingAndGlyphs" stroke="#c8c8c8" stroke-width="0.44" >mock</text>
<path d="M923.3 1039.1 L923.3 1038.5 L924.1 1038.5 L924.9 1038.5 L925.7 1038.5 L926.5 1038.5 L927.3 1038.5 L928.1 1038.5 L928.9 1038.5 L929.7 1038.5 L930.5 1038.5 L931.3 1038.5 L932.1 1038.5 L932.9 1038.5 L933.7 1038.5 L934.5 1038.5 L935.3 1038.5 L936.1 1038.5 L936.9 1038.5 L937.7 1038.5 L938.5 1038.5 L939.3 1038.5 L940.1 1038.5 L940.9 1038.5 L941.7 1038.5 L942.5 1038.5 L943.3 1038.5 L944.1 1038.5 L944.9 1038.5 L945.7 1038.5 L946.5 1038.5 L947.3 1038.5 L948.1 1038.5 L948.9 1038.5 L949.7 1038.5 L950.5 1038.5 L951.3 1038.5 L952.1 1038.5 L952.9 1038.5 L953.7 1038.5 L954.5 1038.5 L955.3 1038.5 L956.1 1038.5 L956.9 1038.5 L957.7 1038.5 L958.5 1038.5 L959.3 1038.5 L960.1 1038.5 L960.9 1038.5 L961.7 1038.5 L962.5 1038.5 L963.3 1038.5 L964.1 1038.5 L964.9 1038.5 L965.7 1038.5 L966.5 1038.5 L967.3 1038.5 L968.1 1038.5 L968.9 1038.5 L969.7 1038.5 L970.5 1038.5 L971.3 1038.4 L972.1 1038.4 L972.9 1038.4 L973.7 1038.4 L974.5 1038.4 L975.3 1038.4 L976.1 1038.3 L976.9 1038.3 L977.7 1038.2 L978.5 1038.2 L979.3 1038.1 L980.1 1038 L980.9 1037.9 L981.7 1037.8 L982.5 1037.7 L983.3 1037.6 L984.1 1037.4 L984.9 1037.2 L985.7 1036.9 L986.5 1036.7 L987.3 1036.4 L988.1 1036 L988.9 1035.4 L989.7 1034.8 L990.5 1034.4 L991.3 1033.8 L992.1 1033 L992.9 1032 L993.7 1031.1 L994.5 1029.4 L995.3 1028.8 L996.1 1027.1 L996.9 1025.7 L997.7 1023.2 L998.5 1021 L999.3 1019.7 L1000.1 1017.6 L1000.9 1014.4 L1001.7 1011.5 L1002.5 1008 L1003.3 1007.4 L1004.1 1004.5 L1004.9 1001.5 L1005.7 998.8 L1006.5 996.2 L1007.3 992.1 L1008.1 990.4 L1008.9 990.1 L1009.7 988.8 L1010.5 988.4 L1011.3 988.8 L1012.1 986.4 L1012.9 988.3 L1013.7 987.3 L1014.5 986.5 L1015.3 989.5 L1016.1 992.3 L1016.9 992.2 L1017.7 994.7 L1018.5 999.4 L1019.3 1001.7 L1020.1 1003.6 L1020.9 1007.9 L1021.7 1011.5 L1022.5 1014.7 L1023.3 1015.8 L1024.1 1018.8 L1024.9 1021.9 L1025.7 1024.1 L1026.5 1026.2 L1027.3 1028.3 L1028.1 1029.4 L1028.9 1031.1 L1029.7 1032.6 L1030.5 1033.8 L1031.3 1034.5 L1032.1 1035.3 L1032.9 1035.8 L1033.7 1036.4 L1034.5 1036.8 L1035.3 1037.2 L1036.1 1037.5 L1036.9 1037.7 L1037.7 1037.8 L1038.5 1037.9 L1039.3 1038 L1040.1 1038.1 L1040.9 1038.1 L1041.7 1038.2 L1042.5 1038.2 L1043.3 1038.2 L1044.1 1038.2 L1044.9 1038.3 L1045.7 1038.2 L1046.5 1038.2 L1047.3 1038.2 L1048.1 1038.2 L1048.9 1038.2 L1049.7 1038.2 L1050.5 1038.2 L1051.3 1038.1 L1052.1 1038.1 L1052.9 1038.1 L1053.7 1038.1 L1054.5 1038 L1055.3 1038.1 L1056.1 1038 L1056.9 1038 L1057.7 1037.9 L1058.5 1038 L1059.3 1037.9 L1060.1 1037.9 L1060.9 1037.9 L1061.7 1037.9 L1062.5 1037.9 L1063.3 1037.8 L1064.1 1037.8 L1064.9 1037.8 L1065.7 1037.8 L1066.5 1037.7 L1067.3 1037.7 L1068.1 1037.7 L1068.9 1037.7 L1069.7 1037.6 L1070.5 1037.7 L1071.3 1037.6 L1072.1 1037.6 L1072.9 1037.5 L1073.7 1037.5 L1074.5 1037.5 L1075.3 1037.6 L1076.1 1037.5 L1076.9 1037.4 L1077.7 1037.5 L1078.5 1037.4 L1079.3 1037.4 L1080.1 1037.5 L1080.9 1037.3 L1081.7 1037.3 L1082.5 1037.4 L1083.3 1037.3 L1084.1 1037.4 L1084.9 1037.3 L1085.7 1037.3 L1086.5 1037.3 L1087.3 1037.3 L1088.1 1037.3 L1088.9 1037.3 L1089.7 1037.3 L1090.5 1037.3 L1091.3 1037.3 L1092.1 1037.3 L1092.9 1037.2 L1093.7 1037.3 L1094.5 1037.3 L1095.3 1037.4 L1096.1 1037.3 L1096.9 1037.4 L1097.7 1037.4 L1098.5 1037.4 L1099.3 1037.4 L1100.1 1037.4 L1100.9 1037.5 L1101.7 1037.4 L1102.5 1037.4 L1103.3 1037.4 L1104.1 1037.5 L1104.9 1037.5 L1105.7 1037.6 L1106.5 1037.6 L1107.3 1037.6 L1108.1 1037.6 L1108.9 1037.5 L1109.7 1037.6 L1110.5 1037.6 L1111.3 1037.6 L1112.1 1037.7 L1112.9 1037.7 L1113.7 1037.7 L1114.5 1037.8 L1115.3 1037.8 L1116.1 1037.9 L1116.9 1037.8 L1117.7 1037.8 L1118.5 1037.8 L1119.3 1037.9 L1120.1 1037.9 L1120.9 1037.9 L1121.7 1038 L1122.5 1038 L1123.3 1038 L1124.1 1038 L1124.9 1038.1 L1125.7 1038.1 L1126.5 1038.1 L1127.3 1038.1 L1128.1 1038.1 L1128.9 1038.1 L1129.7 1038.2 L1130.5 1038.2 L1131.3 1038.2 L1132.1 1038.2 L1132.9 1038.2 L1133.7 1038.2 L1134.5 1038.3 L1135.3 1038.3 L1136.1 1038.2 L1136.9 1038.3 L1137.7 1038.3 L1138.5 1038.3 L1139.3 1038.3 L1140.1 1038.3 L1140.9 1038.3 L1141.7 1038.4 L1142.5 1038.4 L1143.3 1038.4 L1144.1 1038.4 L1144.9 1038.4 L1145.7 1038.4 L1146.5 1038.4 L1147.3 1038.4 L1148.1 1038.4 L1148.9 1038.4 L1149.7 1038.4 L1150.5 1038.5 L1151.3 1038.4 L1152.1 1038.4 L1152.9 1038.4 L1153.7 1038.5 L1154.5 1038.5 L1155.3 1038.4 L1156.1 1038.4 L1156.9 1038.5 L1157.7 1038.5 L1158.5 1038.5 L1159.3 1038.5 L1160.1 1038.5 L1160.9 1038.5 L1161.7 1038.5 L1162.5 1038.5 L1163.3 1038.5 L1164.1 1038.5 L1164.9 1038.5 L1165.7 1038.5 L1166.5 1038.5 L1167.3 1038.5 L1168.1 1038.5 L1168.9 1038.5 L1169.7 1038.5 L1170.5 1038.5 L1171.3 1038.5 L1172.1 1038.5 L1172.9 1038.5 L1173.7 1038.5 L1174.5 1038.5 L1175.3 1038.5 L1176.1 1038.5 L1176.9 1038.5 L1177.7 1038.5 L1178.5 1038.5 L1179.3 1038.5 L1180.1 1038.5 L1180.9 1038.5 L1181.7 1038.5 L1182.5 1038.5 L1183.3 1038.5 L1184.1 1038.5 L1184.9 1038.5 L1185.7 1038.5 L1186.5 1038.5 L1187.3 1038.5 L1188.1 1038.5 L1188.6 1039.1 Z" fill="#e0e0e0" fill-opacity="0.85"/>
<path d="M923.3 1038.5 L924.1 1038.5 L924.9 1038.5 L925.7 1038.5 L926.5 1038.5 L927.3 1038.5 L928.1 1038.5 L928.9 1038.5 L929.7 1038.5 L930.5 1038.5 L931.3 1038.5 L932.1 1038.5 L932.9 1038.5 L933.7 1038.5 L934.5 1038.5 L935.3 1038.5 L936.1 1038.5 L936.9 1038.5 L937.7 1038.5 L938.5 1038.5 L939.3 1038.5 L940.1 1038.5 L940.9 1038.5 L941.7 1038.5 L942.5 1038.5 L943.3 1038.5 L944.1 1038.5 L944.9 1038.5 L945.7 1038.5 L946.5 1038.5 L947.3 1038.5 L948.1 1038.5 L948.9 1038.5 L949.7 1038.5 L950.5 1038.5 L951.3 1038.5 L952.1 1038.5 L952.9 1038.5 L953.7 1038.5 L954.5 1038.5 L955.3 1038.5 L956.1 1038.5 L956.9 1038.5 L957.7 1038.5 L958.5 1038.5 L959.3 1038.5 L960.1 1038.5 L960.9 1038.5 L961.7 1038.5 L962.5 1038.5 L963.3 1038.5 L964.1 1038.5 L964.9 1038.5 L965.7 1038.5 L966.5 1038.5 L967.3 1038.5 L968.1 1038.5 L968.9 1038.5 L969.7 1038.5 L970.5 1038.5 L971.3 1038.4 L972.1 1038.4 L972.9 1038.4 L973.7 1038.4 L974.5 1038.4 L975.3 1038.4 L976.1 1038.4 L976.9 1038.3 L977.7 1038.3 L978.5 1038.2 L979.3 1038.1 L980.1 1038 L980.9 1038 L981.7 1037.9 L982.5 1037.8 L983.3 1037.5 L984.1 1037.4 L984.9 1037.2 L985.7 1036.9 L986.5 1036.7 L987.3 1036.3 L988.1 1036 L988.9 1035.4 L989.7 1034.9 L990.5 1034.5 L991.3 1033.6 L992.1 1033 L992.9 1031.8 L993.7 1031.2 L994.5 1030 L995.3 1028.3 L996.1 1027.1 L996.9 1024.9 L997.7 1023.1 L998.5 1021.2 L999.3 1019.6 L1000.1 1016.6 L1000.9 1013.7 L1001.7 1011.8 L1002.5 1009.7 L1003.3 1006.7 L1004.1 1003.8 L1004.9 1000.1 L1005.7 998.6 L1006.5 996.1 L1007.3 993.6 L1008.1 990.3 L1008.9 988.1 L1009.7 987.9 L1010.5 987 L1011.3 986.3 L1012.1 987.2 L1012.9 988.3 L1013.7 988.1 L1014.5 986.5 L1015.3 988.9 L1016.1 992 L1016.9 993.2 L1017.7 997.2 L1018.5 997.7 L1019.3 1002 L1020.1 1004.8 L1020.9 1007.8 L1021.7 1011.6 L1022.5 1013.6 L1023.3 1016.9 L1024.1 1019.6 L1024.9 1021.5 L1025.7 1024.5 L1026.5 1026.3 L1027.3 1027.9 L1028.1 1029.9 L1028.9 1031.3 L1029.7 1032.4 L1030.5 1033.6 L1031.3 1034.4 L1032.1 1035.1 L1032.9 1036 L1033.7 1036.4 L1034.5 1036.8 L1035.3 1037.2 L1036.1 1037.4 L1036.9 1037.7 L1037.7 1037.8 L1038.5 1037.9 L1039.3 1038 L1040.1 1038.1 L1040.9 1038.1 L1041.7 1038.2 L1042.5 1038.2 L1043.3 1038.2 L1044.1 1038.2 L1044.9 1038.2 L1045.7 1038.2 L1046.5 1038.2 L1047.3 1038.2 L1048.1 1038.2 L1048.9 1038.2 L1049.7 1038.2 L1050.5 1038.2 L1051.3 1038.1 L1052.1 1038.1 L1052.9 1038.1 L1053.7 1038.1 L1054.5 1038.1 L1055.3 1038 L1056.1 1038 L1056.9 1038 L1057.7 1038 L1058.5 1038 L1059.3 1037.9 L1060.1 1037.9 L1060.9 1037.9 L1061.7 1037.8 L1062.5 1037.9 L1063.3 1037.8 L1064.1 1037.8 L1064.9 1037.8 L1065.7 1037.8 L1066.5 1037.7 L1067.3 1037.7 L1068.1 1037.7 L1068.9 1037.7 L1069.7 1037.6 L1070.5 1037.6 L1071.3 1037.6 L1072.1 1037.5 L1072.9 1037.6 L1073.7 1037.6 L1074.5 1037.5 L1075.3 1037.5 L1076.1 1037.5 L1076.9 1037.4 L1077.7 1037.4 L1078.5 1037.4 L1079.3 1037.4 L1080.1 1037.4 L1080.9 1037.3 L1081.7 1037.4 L1082.5 1037.4 L1083.3 1037.4 L1084.1 1037.3 L1084.9 1037.3 L1085.7 1037.3 L1086.5 1037.4 L1087.3 1037.3 L1088.1 1037.3 L1088.9 1037.3 L1089.7 1037.2 L1090.5 1037.3 L1091.3 1037.3 L1092.1 1037.3 L1092.9 1037.3 L1093.7 1037.4 L1094.5 1037.3 L1095.3 1037.3 L1096.1 1037.4 L1096.9 1037.4 L1097.7 1037.3 L1098.5 1037.4 L1099.3 1037.4 L1100.1 1037.4 L1100.9 1037.4 L1101.7 1037.5 L1102.5 1037.5 L1103.3 1037.4 L1104.1 1037.5 L1104.9 1037.5 L1105.7 1037.5 L1106.5 1037.6 L1107.3 1037.6 L1108.1 1037.6 L1108.9 1037.6 L1109.7 1037.6 L1110.5 1037.7 L1111.3 1037.7 L1112.1 1037.6 L1112.9 1037.7 L1113.7 1037.8 L1114.5 1037.8 L1115.3 1037.8 L1116.1 1037.8 L1116.9 1037.8 L1117.7 1037.8 L1118.5 1037.8 L1119.3 1037.9 L1120.1 1037.9 L1120.9 1037.9 L1121.7 1038 L1122.5 1038 L1123.3 1038 L1124.1 1038 L1124.9 1038.1 L1125.7 1038.1 L1126.5 1038.1 L1127.3 1038.1 L1128.1 1038.1 L1128.9 1038.2 L1129.7 1038.2 L1130.5 1038.2 L1131.3 1038.2 L1132.1 1038.2 L1132.9 1038.2 L1133.7 1038.2 L1134.5 1038.2 L1135.3 1038.3 L1136.1 1038.3 L1136.9 1038.3 L1137.7 1038.3 L1138.5 1038.3 L1139.3 1038.3 L1140.1 1038.4 L1140.9 1038.4 L1141.7 1038.4 L1142.5 1038.4 L1143.3 1038.4 L1144.1 1038.4 L1144.9 1038.4 L1145.7 1038.4 L1146.5 1038.4 L1147.3 1038.4 L1148.1 1038.4 L1148.9 1038.4 L1149.7 1038.4 L1150.5 1038.4 L1151.3 1038.5 L1152.1 1038.5 L1152.9 1038.5 L1153.7 1038.5 L1154.5 1038.4 L1155.3 1038.5 L1156.1 1038.5 L1156.9 1038.5 L1157.7 1038.5 L1158.5 1038.5 L1159.3 1038.5 L1160.1 1038.5 L1160.9 1038.5 L1161.7 1038.5 L1162.5 1038.5 L1163.3 1038.5 L1164.1 1038.5 L1164.9 1038.5 L1165.7 1038.5 L1166.5 1038.5 L1167.3 1038.5 L1168.1 1038.5 L1168.9 1038.5 L1169.7 1038.5 L1170.5 1038.5 L1171.3 1038.5 L1172.1 1038.5 L1172.9 1038.5 L1173.7 1038.5 L1174.5 1038.5 L1175.3 1038.5 L1176.1 1038.5 L1176.9 1038.5 L1177.7 1038.5 L1178.5 1038.5 L1179.3 1038.5 L1180.1 1038.5 L1180.9 1038.5 L1181.7 1038.5 L1182.5 1038.5 L1183.3 1038.5 L1184.1 1038.5 L1184.9 1038.5 L1185.7 1038.5 L1186.5 1038.5 L1187.3 1038.5 L1188.1 1038.5" fill="none" stroke="#a9a9a9" stroke-width="2.0" />
<text x="1187.5" y="1035.7" font-size="20" text-anchor="end" fill="#a3a3a3" textLength="110.6" lengthAdjust="spacingAndGlyphs" stroke="#a3a3a3" stroke-width="0.44" >mock+MitoQ</text>
<path d="M923.3 1076.3 L923.3 1075.7 L924.1 1075.7 L924.9 1075.7 L925.7 1075.7 L926.5 1075.7 L927.3 1075.7 L928.1 1075.7 L928.9 1075.7 L929.7 1075.7 L930.5 1075.7 L931.3 1075.7 L932.1 1075.7 L932.9 1075.7 L933.7 1075.7 L934.5 1075.7 L935.3 1075.7 L936.1 1075.7 L936.9 1075.7 L937.7 1075.7 L938.5 1075.7 L939.3 1075.7 L940.1 1075.7 L940.9 1075.7 L941.7 1075.7 L942.5 1075.7 L943.3 1075.7 L944.1 1075.7 L944.9 1075.7 L945.7 1075.7 L946.5 1075.7 L947.3 1075.7 L948.1 1075.7 L948.9 1075.7 L949.7 1075.7 L950.5 1075.7 L951.3 1075.7 L952.1 1075.7 L952.9 1075.7 L953.7 1075.7 L954.5 1075.7 L955.3 1075.7 L956.1 1075.7 L956.9 1075.7 L957.7 1075.7 L958.5 1075.7 L959.3 1075.7 L960.1 1075.7 L960.9 1075.7 L961.7 1075.7 L962.5 1075.7 L963.3 1075.7 L964.1 1075.7 L964.9 1075.7 L965.7 1075.7 L966.5 1075.7 L967.3 1075.7 L968.1 1075.7 L968.9 1075.7 L969.7 1075.7 L970.5 1075.7 L971.3 1075.7 L972.1 1075.7 L972.9 1075.7 L973.7 1075.7 L974.5 1075.7 L975.3 1075.7 L976.1 1075.7 L976.9 1075.7 L977.7 1075.7 L978.5 1075.7 L979.3 1075.7 L980.1 1075.6 L980.9 1075.6 L981.7 1075.6 L982.5 1075.6 L983.3 1075.5 L984.1 1075.5 L984.9 1075.5 L985.7 1075.4 L986.5 1075.3 L987.3 1075.2 L988.1 1075.2 L988.9 1075.1 L989.7 1074.9 L990.5 1074.8 L991.3 1074.6 L992.1 1074.4 L992.9 1074.1 L993.7 1073.8 L994.5 1073.4 L995.3 1073.2 L996.1 1072.6 L996.9 1072.1 L997.7 1071.4 L998.5 1070.8 L999.3 1070 L1000.1 1068.8 L1000.9 1067.8 L1001.7 1066.8 L1002.5 1065.4 L1003.3 1063.8 L1004.1 1062.2 L1004.9 1059.8 L1005.7 1058.2 L1006.5 1056.1 L1007.3 1053.6 L1008.1 1050.9 L1008.9 1046.8 L1009.7 1045.4 L1010.5 1041.5 L1011.3 1037.6 L1012.1 1035.5 L1012.9 1033.8 L1013.7 1028.6 L1014.5 1026.1 L1015.3 1027.2 L1016.1 1024.7 L1016.9 1022.7 L1017.7 1021.4 L1018.5 1023.1 L1019.3 1021.8 L1020.1 1023.7 L1020.9 1021.7 L1021.7 1024.7 L1022.5 1026.6 L1023.3 1027.2 L1024.1 1029.5 L1024.9 1032.5 L1025.7 1036.5 L1026.5 1040.1 L1027.3 1042.6 L1028.1 1046 L1028.9 1048.7 L1029.7 1051.9 L1030.5 1056 L1031.3 1058.2 L1032.1 1060.3 L1032.9 1063 L1033.7 1065 L1034.5 1066.9 L1035.3 1068 L1036.1 1069.2 L1036.9 1070.4 L1037.7 1071.7 L1038.5 1072.3 L1039.3 1073 L1040.1 1073.5 L1040.9 1074 L1041.7 1074.3 L1042.5 1074.5 L1043.3 1074.9 L1044.1 1074.9 L1044.9 1075.1 L1045.7 1075.2 L1046.5 1075.2 L1047.3 1075.2 L1048.1 1075.3 L1048.9 1075.3 L1049.7 1075.3 L1050.5 1075.4 L1051.3 1075.3 L1052.1 1075.3 L1052.9 1075.3 L1053.7 1075.3 L1054.5 1075.2 L1055.3 1075.2 L1056.1 1075.2 L1056.9 1075.2 L1057.7 1075.2 L1058.5 1075.1 L1059.3 1075.1 L1060.1 1075.1 L1060.9 1075.1 L1061.7 1075.1 L1062.5 1075 L1063.3 1075.1 L1064.1 1075 L1064.9 1075 L1065.7 1074.9 L1066.5 1075 L1067.3 1074.9 L1068.1 1074.9 L1068.9 1074.9 L1069.7 1074.9 L1070.5 1074.8 L1071.3 1074.8 L1072.1 1074.8 L1072.9 1074.8 L1073.7 1074.8 L1074.5 1074.7 L1075.3 1074.7 L1076.1 1074.7 L1076.9 1074.7 L1077.7 1074.7 L1078.5 1074.6 L1079.3 1074.6 L1080.1 1074.6 L1080.9 1074.6 L1081.7 1074.6 L1082.5 1074.5 L1083.3 1074.6 L1084.1 1074.5 L1084.9 1074.5 L1085.7 1074.5 L1086.5 1074.5 L1087.3 1074.5 L1088.1 1074.6 L1088.9 1074.5 L1089.7 1074.5 L1090.5 1074.5 L1091.3 1074.5 L1092.1 1074.4 L1092.9 1074.5 L1093.7 1074.4 L1094.5 1074.5 L1095.3 1074.5 L1096.1 1074.5 L1096.9 1074.6 L1097.7 1074.6 L1098.5 1074.6 L1099.3 1074.6 L1100.1 1074.7 L1100.9 1074.6 L1101.7 1074.6 L1102.5 1074.7 L1103.3 1074.7 L1104.1 1074.7 L1104.9 1074.7 L1105.7 1074.7 L1106.5 1074.8 L1107.3 1074.8 L1108.1 1074.7 L1108.9 1074.8 L1109.7 1074.8 L1110.5 1074.9 L1111.3 1074.8 L1112.1 1074.9 L1112.9 1074.9 L1113.7 1074.9 L1114.5 1075 L1115.3 1074.9 L1116.1 1075 L1116.9 1075 L1117.7 1075.1 L1118.5 1075 L1119.3 1075.1 L1120.1 1075.1 L1120.9 1075.2 L1121.7 1075.2 L1122.5 1075.2 L1123.3 1075.2 L1124.1 1075.2 L1124.9 1075.3 L1125.7 1075.3 L1126.5 1075.3 L1127.3 1075.3 L1128.1 1075.3 L1128.9 1075.4 L1129.7 1075.4 L1130.5 1075.4 L1131.3 1075.4 L1132.1 1075.4 L1132.9 1075.4 L1133.7 1075.4 L1134.5 1075.4 L1135.3 1075.5 L1136.1 1075.5 L1136.9 1075.5 L1137.7 1075.5 L1138.5 1075.5 L1139.3 1075.6 L1140.1 1075.5 L1140.9 1075.6 L1141.7 1075.6 L1142.5 1075.6 L1143.3 1075.6 L1144.1 1075.6 L1144.9 1075.6 L1145.7 1075.6 L1146.5 1075.6 L1147.3 1075.6 L1148.1 1075.6 L1148.9 1075.6 L1149.7 1075.6 L1150.5 1075.7 L1151.3 1075.6 L1152.1 1075.6 L1152.9 1075.7 L1153.7 1075.7 L1154.5 1075.6 L1155.3 1075.6 L1156.1 1075.7 L1156.9 1075.7 L1157.7 1075.7 L1158.5 1075.6 L1159.3 1075.7 L1160.1 1075.7 L1160.9 1075.7 L1161.7 1075.7 L1162.5 1075.7 L1163.3 1075.7 L1164.1 1075.7 L1164.9 1075.7 L1165.7 1075.7 L1166.5 1075.7 L1167.3 1075.7 L1168.1 1075.7 L1168.9 1075.7 L1169.7 1075.7 L1170.5 1075.7 L1171.3 1075.7 L1172.1 1075.7 L1172.9 1075.7 L1173.7 1075.7 L1174.5 1075.7 L1175.3 1075.7 L1176.1 1075.7 L1176.9 1075.7 L1177.7 1075.7 L1178.5 1075.7 L1179.3 1075.7 L1180.1 1075.7 L1180.9 1075.7 L1181.7 1075.7 L1182.5 1075.7 L1183.3 1075.7 L1184.1 1075.7 L1184.9 1075.7 L1185.7 1075.7 L1186.5 1075.7 L1187.3 1075.7 L1188.1 1075.7 L1188.6 1076.3 Z" fill="#d3d3d3" fill-opacity="0.85"/>
<path d="M923.3 1075.7 L924.1 1075.7 L924.9 1075.7 L925.7 1075.7 L926.5 1075.7 L927.3 1075.7 L928.1 1075.7 L928.9 1075.7 L929.7 1075.7 L930.5 1075.7 L931.3 1075.7 L932.1 1075.7 L932.9 1075.7 L933.7 1075.7 L934.5 1075.7 L935.3 1075.7 L936.1 1075.7 L936.9 1075.7 L937.7 1075.7 L938.5 1075.7 L939.3 1075.7 L940.1 1075.7 L940.9 1075.7 L941.7 1075.7 L942.5 1075.7 L943.3 1075.7 L944.1 1075.7 L944.9 1075.7 L945.7 1075.7 L946.5 1075.7 L947.3 1075.7 L948.1 1075.7 L948.9 1075.7 L949.7 1075.7 L950.5 1075.7 L951.3 1075.7 L952.1 1075.7 L952.9 1075.7 L953.7 1075.7 L954.5 1075.7 L955.3 1075.7 L956.1 1075.7 L956.9 1075.7 L957.7 1075.7 L958.5 1075.7 L959.3 1075.7 L960.1 1075.7 L960.9 1075.7 L961.7 1075.7 L962.5 1075.7 L963.3 1075.7 L964.1 1075.7 L964.9 1075.7 L965.7 1075.7 L966.5 1075.7 L967.3 1075.7 L968.1 1075.7 L968.9 1075.7 L969.7 1075.7 L970.5 1075.7 L971.3 1075.7 L972.1 1075.7 L972.9 1075.7 L973.7 1075.7 L974.5 1075.7 L975.3 1075.7 L976.1 1075.7 L976.9 1075.7 L977.7 1075.7 L978.5 1075.7 L979.3 1075.7 L980.1 1075.7 L980.9 1075.6 L981.7 1075.6 L982.5 1075.6 L983.3 1075.6 L984.1 1075.5 L984.9 1075.5 L985.7 1075.4 L986.5 1075.3 L987.3 1075.3 L988.1 1075.2 L988.9 1075.1 L989.7 1074.9 L990.5 1074.8 L991.3 1074.6 L992.1 1074.4 L992.9 1074.1 L993.7 1073.9 L994.5 1073.5 L995.3 1073.1 L996.1 1072.6 L996.9 1072.1 L997.7 1071.4 L998.5 1070.7 L999.3 1069.9 L1000.1 1068.8 L1000.9 1067.9 L1001.7 1066.5 L1002.5 1065.1 L1003.3 1063.6 L1004.1 1062.2 L1004.9 1059.9 L1005.7 1057.9 L1006.5 1055.4 L1007.3 1052.2 L1008.1 1050.4 L1008.9 1047 L1009.7 1044 L1010.5 1041.9 L1011.3 1038.6 L1012.1 1036.4 L1012.9 1031.6 L1013.7 1030.7 L1014.5 1027.8 L1015.3 1025.9 L1016.1 1022.6 L1016.9 1021.6 L1017.7 1022.4 L1018.5 1022.5 L1019.3 1024 L1020.1 1021.4 L1020.9 1024 L1021.7 1024.4 L1022.5 1026.3 L1023.3 1027.5 L1024.1 1030.3 L1024.9 1034.1 L1025.7 1035.8 L1026.5 1038.9 L1027.3 1044.1 L1028.1 1046.1 L1028.9 1049.5 L1029.7 1052.7 L1030.5 1055.4 L1031.3 1058.2 L1032.1 1060.3 L1032.9 1062.7 L1033.7 1064.4 L1034.5 1066.2 L1035.3 1067.8 L1036.1 1069.5 L1036.9 1070.5 L1037.7 1071.5 L1038.5 1072.3 L1039.3 1072.9 L1040.1 1073.6 L1040.9 1074 L1041.7 1074.3 L1042.5 1074.6 L1043.3 1074.8 L1044.1 1074.9 L1044.9 1075.1 L1045.7 1075.2 L1046.5 1075.2 L1047.3 1075.3 L1048.1 1075.3 L1048.9 1075.3 L1049.7 1075.3 L1050.5 1075.3 L1051.3 1075.3 L1052.1 1075.3 L1052.9 1075.3 L1053.7 1075.3 L1054.5 1075.2 L1055.3 1075.2 L1056.1 1075.2 L1056.9 1075.2 L1057.7 1075.2 L1058.5 1075.1 L1059.3 1075.1 L1060.1 1075.1 L1060.9 1075.1 L1061.7 1075.1 L1062.5 1075 L1063.3 1075 L1064.1 1075 L1064.9 1075 L1065.7 1075 L1066.5 1074.9 L1067.3 1074.9 L1068.1 1074.9 L1068.9 1074.9 L1069.7 1074.9 L1070.5 1074.8 L1071.3 1074.8 L1072.1 1074.7 L1072.9 1074.8 L1073.7 1074.7 L1074.5 1074.8 L1075.3 1074.7 L1076.1 1074.7 L1076.9 1074.6 L1077.7 1074.6 L1078.5 1074.6 L1079.3 1074.6 L1080.1 1074.6 L1080.9 1074.6 L1081.7 1074.5 L1082.5 1074.6 L1083.3 1074.6 L1084.1 1074.5 L1084.9 1074.5 L1085.7 1074.5 L1086.5 1074.5 L1087.3 1074.6 L1088.1 1074.5 L1088.9 1074.5 L1089.7 1074.5 L1090.5 1074.5 L1091.3 1074.5 L1092.1 1074.5 L1092.9 1074.6 L1093.7 1074.6 L1094.5 1074.5 L1095.3 1074.5 L1096.1 1074.5 L1096.9 1074.5 L1097.7 1074.6 L1098.5 1074.6 L1099.3 1074.6 L1100.1 1074.6 L1100.9 1074.6 L1101.7 1074.6 L1102.5 1074.7 L1103.3 1074.7 L1104.1 1074.7 L1104.9 1074.7 L1105.7 1074.7 L1106.5 1074.7 L1107.3 1074.8 L1108.1 1074.7 L1108.9 1074.8 L1109.7 1074.8 L1110.5 1074.8 L1111.3 1074.9 L1112.1 1074.9 L1112.9 1074.9 L1113.7 1074.9 L1114.5 1075 L1115.3 1075 L1116.1 1075 L1116.9 1075.1 L1117.7 1075 L1118.5 1075.1 L1119.3 1075.1 L1120.1 1075.1 L1120.9 1075.1 L1121.7 1075.2 L1122.5 1075.2 L1123.3 1075.2 L1124.1 1075.2 L1124.9 1075.2 L1125.7 1075.3 L1126.5 1075.3 L1127.3 1075.3 L1128.1 1075.4 L1128.9 1075.3 L1129.7 1075.3 L1130.5 1075.4 L1131.3 1075.4 L1132.1 1075.4 L1132.9 1075.4 L1133.7 1075.4 L1134.5 1075.5 L1135.3 1075.5 L1136.1 1075.5 L1136.9 1075.5 L1137.7 1075.5 L1138.5 1075.5 L1139.3 1075.5 L1140.1 1075.5 L1140.9 1075.6 L1141.7 1075.6 L1142.5 1075.6 L1143.3 1075.6 L1144.1 1075.6 L1144.9 1075.6 L1145.7 1075.6 L1146.5 1075.6 L1147.3 1075.6 L1148.1 1075.6 L1148.9 1075.6 L1149.7 1075.6 L1150.5 1075.6 L1151.3 1075.6 L1152.1 1075.7 L1152.9 1075.6 L1153.7 1075.6 L1154.5 1075.7 L1155.3 1075.7 L1156.1 1075.7 L1156.9 1075.7 L1157.7 1075.7 L1158.5 1075.7 L1159.3 1075.7 L1160.1 1075.7 L1160.9 1075.7 L1161.7 1075.7 L1162.5 1075.7 L1163.3 1075.7 L1164.1 1075.7 L1164.9 1075.7 L1165.7 1075.7 L1166.5 1075.7 L1167.3 1075.7 L1168.1 1075.7 L1168.9 1075.7 L1169.7 1075.7 L1170.5 1075.7 L1171.3 1075.7 L1172.1 1075.7 L1172.9 1075.7 L1173.7 1075.7 L1174.5 1075.7 L1175.3 1075.7 L1176.1 1075.7 L1176.9 1075.7 L1177.7 1075.7 L1178.5 1075.7 L1179.3 1075.7 L1180.1 1075.7 L1180.9 1075.7 L1181.7 1075.7 L1182.5 1075.7 L1183.3 1075.7 L1184.1 1075.7 L1184.9 1075.7 L1185.7 1075.7 L1186.5 1075.7 L1187.3 1075.7 L1188.1 1075.7" fill="none" stroke="#8c8c8c" stroke-width="2.0" />
<text x="1187.5" y="1074.5" font-size="20" text-anchor="end" fill="#7c7c7c" textLength="72" lengthAdjust="spacingAndGlyphs" stroke="#7c7c7c" stroke-width="0.44" >PltB<tspan font-size="0.72em" dy="-0.45em">S35A</tspan></text>
<path d="M923.3 1114.4 L923.3 1113.8 L924.1 1113.8 L924.9 1113.8 L925.7 1113.8 L926.5 1113.8 L927.3 1113.8 L928.1 1113.8 L928.9 1113.8 L929.7 1113.8 L930.5 1113.8 L931.3 1113.8 L932.1 1113.8 L932.9 1113.8 L933.7 1113.8 L934.5 1113.8 L935.3 1113.8 L936.1 1113.8 L936.9 1113.8 L937.7 1113.8 L938.5 1113.8 L939.3 1113.8 L940.1 1113.8 L940.9 1113.8 L941.7 1113.8 L942.5 1113.8 L943.3 1113.8 L944.1 1113.8 L944.9 1113.8 L945.7 1113.8 L946.5 1113.8 L947.3 1113.8 L948.1 1113.8 L948.9 1113.8 L949.7 1113.8 L950.5 1113.8 L951.3 1113.8 L952.1 1113.8 L952.9 1113.8 L953.7 1113.8 L954.5 1113.8 L955.3 1113.8 L956.1 1113.8 L956.9 1113.8 L957.7 1113.8 L958.5 1113.8 L959.3 1113.8 L960.1 1113.8 L960.9 1113.8 L961.7 1113.8 L962.5 1113.8 L963.3 1113.8 L964.1 1113.8 L964.9 1113.8 L965.7 1113.8 L966.5 1113.8 L967.3 1113.8 L968.1 1113.8 L968.9 1113.8 L969.7 1113.8 L970.5 1113.8 L971.3 1113.8 L972.1 1113.8 L972.9 1113.8 L973.7 1113.8 L974.5 1113.8 L975.3 1113.8 L976.1 1113.8 L976.9 1113.8 L977.7 1113.8 L978.5 1113.8 L979.3 1113.7 L980.1 1113.7 L980.9 1113.7 L981.7 1113.7 L982.5 1113.7 L983.3 1113.6 L984.1 1113.6 L984.9 1113.6 L985.7 1113.5 L986.5 1113.5 L987.3 1113.4 L988.1 1113.3 L988.9 1113.2 L989.7 1113.1 L990.5 1112.9 L991.3 1112.7 L992.1 1112.6 L992.9 1112.3 L993.7 1112 L994.5 1111.7 L995.3 1111.3 L996.1 1110.8 L996.9 1110.1 L997.7 1109.7 L998.5 1108.7 L999.3 1107.9 L1000.1 1107 L1000.9 1106 L1001.7 1104.6 L1002.5 1103.3 L1003.3 1101.6 L1004.1 1099.6 L1004.9 1097.7 L1005.7 1096.3 L1006.5 1094.4 L1007.3 1090.3 L1008.1 1088.7 L1008.9 1085 L1009.7 1083.4 L1010.5 1080 L1011.3 1077.2 L1012.1 1073.2 L1012.9 1069.6 L1013.7 1068.5 L1014.5 1065.8 L1015.3 1064.6 L1016.1 1063.3 L1016.9 1059.4 L1017.7 1062.9 L1018.5 1059.4 L1019.3 1060.6 L1020.1 1063.1 L1020.9 1059.6 L1021.7 1064.2 L1022.5 1064.2 L1023.3 1068.2 L1024.1 1067.6 L1024.9 1072.8 L1025.7 1074 L1026.5 1079.6 L1027.3 1081.1 L1028.1 1085.7 L1028.9 1088.8 L1029.7 1090.7 L1030.5 1092.8 L1031.3 1096 L1032.1 1098.3 L1032.9 1100.7 L1033.7 1102.9 L1034.5 1105 L1035.3 1106.2 L1036.1 1107.8 L1036.9 1108.7 L1037.7 1109.7 L1038.5 1110.5 L1039.3 1111.2 L1040.1 1111.6 L1040.9 1112.1 L1041.7 1112.4 L1042.5 1112.8 L1043.3 1112.9 L1044.1 1113.1 L1044.9 1113.1 L1045.7 1113.3 L1046.5 1113.4 L1047.3 1113.4 L1048.1 1113.4 L1048.9 1113.4 L1049.7 1113.4 L1050.5 1113.4 L1051.3 1113.4 L1052.1 1113.4 L1052.9 1113.4 L1053.7 1113.3 L1054.5 1113.4 L1055.3 1113.3 L1056.1 1113.3 L1056.9 1113.3 L1057.7 1113.3 L1058.5 1113.2 L1059.3 1113.2 L1060.1 1113.3 L1060.9 1113.2 L1061.7 1113.1 L1062.5 1113.2 L1063.3 1113.2 L1064.1 1113.1 L1064.9 1113 L1065.7 1113.1 L1066.5 1113.1 L1067.3 1113 L1068.1 1113 L1068.9 1113 L1069.7 1112.9 L1070.5 1112.9 L1071.3 1112.9 L1072.1 1112.9 L1072.9 1112.9 L1073.7 1112.8 L1074.5 1112.7 L1075.3 1112.7 L1076.1 1112.8 L1076.9 1112.8 L1077.7 1112.8 L1078.5 1112.8 L1079.3 1112.7 L1080.1 1112.7 L1080.9 1112.7 L1081.7 1112.7 L1082.5 1112.7 L1083.3 1112.6 L1084.1 1112.6 L1084.9 1112.7 L1085.7 1112.6 L1086.5 1112.7 L1087.3 1112.7 L1088.1 1112.6 L1088.9 1112.6 L1089.7 1112.6 L1090.5 1112.6 L1091.3 1112.6 L1092.1 1112.6 L1092.9 1112.6 L1093.7 1112.6 L1094.5 1112.7 L1095.3 1112.6 L1096.1 1112.7 L1096.9 1112.7 L1097.7 1112.7 L1098.5 1112.7 L1099.3 1112.6 L1100.1 1112.7 L1100.9 1112.7 L1101.7 1112.7 L1102.5 1112.8 L1103.3 1112.7 L1104.1 1112.8 L1104.9 1112.8 L1105.7 1112.8 L1106.5 1112.8 L1107.3 1112.9 L1108.1 1112.9 L1108.9 1112.8 L1109.7 1112.9 L1110.5 1113 L1111.3 1113 L1112.1 1113 L1112.9 1113 L1113.7 1113.1 L1114.5 1113 L1115.3 1113.1 L1116.1 1113.1 L1116.9 1113.1 L1117.7 1113.1 L1118.5 1113.2 L1119.3 1113.2 L1120.1 1113.3 L1120.9 1113.2 L1121.7 1113.3 L1122.5 1113.3 L1123.3 1113.3 L1124.1 1113.4 L1124.9 1113.4 L1125.7 1113.3 L1126.5 1113.3 L1127.3 1113.4 L1128.1 1113.4 L1128.9 1113.4 L1129.7 1113.5 L1130.5 1113.5 L1131.3 1113.5 L1132.1 1113.5 L1132.9 1113.6 L1133.7 1113.5 L1134.5 1113.5 L1135.3 1113.6 L1136.1 1113.6 L1136.9 1113.6 L1137.7 1113.6 L1138.5 1113.6 L1139.3 1113.6 L1140.1 1113.6 L1140.9 1113.7 L1141.7 1113.7 L1142.5 1113.7 L1143.3 1113.7 L1144.1 1113.7 L1144.9 1113.7 L1145.7 1113.7 L1146.5 1113.7 L1147.3 1113.7 L1148.1 1113.7 L1148.9 1113.7 L1149.7 1113.7 L1150.5 1113.7 L1151.3 1113.8 L1152.1 1113.8 L1152.9 1113.8 L1153.7 1113.8 L1154.5 1113.7 L1155.3 1113.7 L1156.1 1113.8 L1156.9 1113.8 L1157.7 1113.8 L1158.5 1113.8 L1159.3 1113.8 L1160.1 1113.8 L1160.9 1113.8 L1161.7 1113.8 L1162.5 1113.8 L1163.3 1113.8 L1164.1 1113.8 L1164.9 1113.8 L1165.7 1113.8 L1166.5 1113.8 L1167.3 1113.8 L1168.1 1113.8 L1168.9 1113.8 L1169.7 1113.8 L1170.5 1113.8 L1171.3 1113.8 L1172.1 1113.8 L1172.9 1113.8 L1173.7 1113.8 L1174.5 1113.8 L1175.3 1113.8 L1176.1 1113.8 L1176.9 1113.8 L1177.7 1113.8 L1178.5 1113.8 L1179.3 1113.8 L1180.1 1113.8 L1180.9 1113.8 L1181.7 1113.8 L1182.5 1113.8 L1183.3 1113.8 L1184.1 1113.8 L1184.9 1113.8 L1185.7 1113.8 L1186.5 1113.8 L1187.3 1113.8 L1188.1 1113.8 L1188.6 1114.4 Z" fill="#a9a9a9" fill-opacity="0.85"/>
<path d="M923.3 1113.8 L924.1 1113.8 L924.9 1113.8 L925.7 1113.8 L926.5 1113.8 L927.3 1113.8 L928.1 1113.8 L928.9 1113.8 L929.7 1113.8 L930.5 1113.8 L931.3 1113.8 L932.1 1113.8 L932.9 1113.8 L933.7 1113.8 L934.5 1113.8 L935.3 1113.8 L936.1 1113.8 L936.9 1113.8 L937.7 1113.8 L938.5 1113.8 L939.3 1113.8 L940.1 1113.8 L940.9 1113.8 L941.7 1113.8 L942.5 1113.8 L943.3 1113.8 L944.1 1113.8 L944.9 1113.8 L945.7 1113.8 L946.5 1113.8 L947.3 1113.8 L948.1 1113.8 L948.9 1113.8 L949.7 1113.8 L950.5 1113.8 L951.3 1113.8 L952.1 1113.8 L952.9 1113.8 L953.7 1113.8 L954.5 1113.8 L955.3 1113.8 L956.1 1113.8 L956.9 1113.8 L957.7 1113.8 L958.5 1113.8 L959.3 1113.8 L960.1 1113.8 L960.9 1113.8 L961.7 1113.8 L962.5 1113.8 L963.3 1113.8 L964.1 1113.8 L964.9 1113.8 L965.7 1113.8 L966.5 1113.8 L967.3 1113.8 L968.1 1113.8 L968.9 1113.8 L969.7 1113.8 L970.5 1113.8 L971.3 1113.8 L972.1 1113.8 L972.9 1113.8 L973.7 1113.8 L974.5 1113.8 L975.3 1113.8 L976.1 1113.8 L976.9 1113.8 L977.7 1113.8 L978.5 1113.8 L979.3 1113.7 L980.1 1113.8 L980.9 1113.7 L981.7 1113.7 L982.5 1113.7 L983.3 1113.7 L984.1 1113.6 L984.9 1113.6 L985.7 1113.5 L986.5 1113.4 L987.3 1113.4 L988.1 1113.3 L988.9 1113.2 L989.7 1113 L990.5 1112.9 L991.3 1112.7 L992.1 1112.5 L992.9 1112.3 L993.7 1112 L994.5 1111.6 L995.3 1111.2 L996.1 1110.7 L996.9 1110.2 L997.7 1109.7 L998.5 1108.8 L999.3 1108.2 L1000.1 1106.9 L1000.9 1105.9 L1001.7 1104.6 L1002.5 1103.1 L1003.3 1101.8 L1004.1 1099.7 L1004.9 1098 L1005.7 1096 L1006.5 1093.8 L1007.3 1091.3 L1008.1 1089.2 L1008.9 1086.2 L1009.7 1082.2 L1010.5 1080.4 L1011.3 1076.5 L1012.1 1073.3 L1012.9 1070.6 L1013.7 1068.5 L1014.5 1066.6 L1015.3 1064.7 L1016.1 1063.2 L1016.9 1060.8 L1017.7 1060.7 L1018.5 1059.9 L1019.3 1061.8 L1020.1 1059.9 L1020.9 1060 L1021.7 1063.2 L1022.5 1063.1 L1023.3 1066.4 L1024.1 1068.1 L1024.9 1071.5 L1025.7 1075.6 L1026.5 1078.8 L1027.3 1081.5 L1028.1 1084.7 L1028.9 1088.5 L1029.7 1090.3 L1030.5 1093.6 L1031.3 1096.3 L1032.1 1098.5 L1032.9 1101.2 L1033.7 1103.2 L1034.5 1104.7 L1035.3 1106.4 L1036.1 1107.7 L1036.9 1108.9 L1037.7 1109.8 L1038.5 1110.5 L1039.3 1111.1 L1040.1 1111.6 L1040.9 1112.1 L1041.7 1112.4 L1042.5 1112.7 L1043.3 1112.9 L1044.1 1113.1 L1044.9 1113.1 L1045.7 1113.3 L1046.5 1113.3 L1047.3 1113.4 L1048.1 1113.4 L1048.9 1113.4 L1049.7 1113.4 L1050.5 1113.4 L1051.3 1113.4 L1052.1 1113.4 L1052.9 1113.4 L1053.7 1113.3 L1054.5 1113.4 L1055.3 1113.4 L1056.1 1113.3 L1056.9 1113.3 L1057.7 1113.3 L1058.5 1113.3 L1059.3 1113.3 L1060.1 1113.2 L1060.9 1113.2 L1061.7 1113.2 L1062.5 1113.1 L1063.3 1113.1 L1064.1 1113.1 L1064.9 1113.1 L1065.7 1113.1 L1066.5 1113.1 L1067.3 1113 L1068.1 1112.9 L1068.9 1112.9 L1069.7 1113 L1070.5 1113 L1071.3 1112.9 L1072.1 1112.9 L1072.9 1112.9 L1073.7 1112.9 L1074.5 1112.8 L1075.3 1112.8 L1076.1 1112.7 L1076.9 1112.8 L1077.7 1112.7 L1078.5 1112.7 L1079.3 1112.7 L1080.1 1112.7 L1080.9 1112.7 L1081.7 1112.7 L1082.5 1112.7 L1083.3 1112.6 L1084.1 1112.7 L1084.9 1112.7 L1085.7 1112.6 L1086.5 1112.6 L1087.3 1112.6 L1088.1 1112.6 L1088.9 1112.6 L1089.7 1112.6 L1090.5 1112.6 L1091.3 1112.6 L1092.1 1112.6 L1092.9 1112.6 L1093.7 1112.6 L1094.5 1112.6 L1095.3 1112.6 L1096.1 1112.6 L1096.9 1112.7 L1097.7 1112.7 L1098.5 1112.6 L1099.3 1112.7 L1100.1 1112.7 L1100.9 1112.7 L1101.7 1112.7 L1102.5 1112.8 L1103.3 1112.8 L1104.1 1112.8 L1104.9 1112.8 L1105.7 1112.8 L1106.5 1112.8 L1107.3 1112.9 L1108.1 1112.9 L1108.9 1112.9 L1109.7 1112.9 L1110.5 1112.9 L1111.3 1113 L1112.1 1113 L1112.9 1113 L1113.7 1113 L1114.5 1113 L1115.3 1113.1 L1116.1 1113.1 L1116.9 1113.1 L1117.7 1113.2 L1118.5 1113.2 L1119.3 1113.2 L1120.1 1113.2 L1120.9 1113.2 L1121.7 1113.3 L1122.5 1113.3 L1123.3 1113.3 L1124.1 1113.3 L1124.9 1113.3 L1125.7 1113.3 L1126.5 1113.4 L1127.3 1113.4 L1128.1 1113.5 L1128.9 1113.4 L1129.7 1113.4 L1130.5 1113.5 L1131.3 1113.5 L1132.1 1113.5 L1132.9 1113.5 L1133.7 1113.5 L1134.5 1113.6 L1135.3 1113.5 L1136.1 1113.6 L1136.9 1113.6 L1137.7 1113.6 L1138.5 1113.6 L1139.3 1113.6 L1140.1 1113.6 L1140.9 1113.6 L1141.7 1113.6 L1142.5 1113.7 L1143.3 1113.7 L1144.1 1113.7 L1144.9 1113.7 L1145.7 1113.7 L1146.5 1113.7 L1147.3 1113.7 L1148.1 1113.7 L1148.9 1113.7 L1149.7 1113.7 L1150.5 1113.7 L1151.3 1113.7 L1152.1 1113.8 L1152.9 1113.7 L1153.7 1113.8 L1154.5 1113.8 L1155.3 1113.8 L1156.1 1113.8 L1156.9 1113.8 L1157.7 1113.8 L1158.5 1113.8 L1159.3 1113.8 L1160.1 1113.8 L1160.9 1113.8 L1161.7 1113.8 L1162.5 1113.8 L1163.3 1113.8 L1164.1 1113.8 L1164.9 1113.8 L1165.7 1113.8 L1166.5 1113.8 L1167.3 1113.8 L1168.1 1113.8 L1168.9 1113.8 L1169.7 1113.8 L1170.5 1113.8 L1171.3 1113.8 L1172.1 1113.8 L1172.9 1113.8 L1173.7 1113.8 L1174.5 1113.8 L1175.3 1113.8 L1176.1 1113.8 L1176.9 1113.8 L1177.7 1113.8 L1178.5 1113.8 L1179.3 1113.8 L1180.1 1113.8 L1180.9 1113.8 L1181.7 1113.8 L1182.5 1113.8 L1183.3 1113.8 L1184.1 1113.8 L1184.9 1113.8 L1185.7 1113.8 L1186.5 1113.8 L1187.3 1113.8 L1188.1 1113.8" fill="none" stroke="#3e3e3e" stroke-width="2.0" />
<text x="1187.5" y="1108.7" font-size="20" text-anchor="end" fill="#3a3a3a" textLength="135" lengthAdjust="spacingAndGlyphs" stroke="#3a3a3a" stroke-width="0.44" >PltB<tspan font-size="0.72em" dy="-0.45em">S35A</tspan><tspan dy="0.45em">+MitoQ</tspan></text>
<path d="M923.3 1151.6 L923.3 1151 L924.1 1151 L924.9 1151 L925.7 1151 L926.5 1151 L927.3 1151 L928.1 1151 L928.9 1151 L929.7 1151 L930.5 1151 L931.3 1151 L932.1 1151 L932.9 1151 L933.7 1151 L934.5 1151 L935.3 1151 L936.1 1151 L936.9 1151 L937.7 1151 L938.5 1151 L939.3 1151 L940.1 1151 L940.9 1151 L941.7 1151 L942.5 1151 L943.3 1151 L944.1 1151 L944.9 1151 L945.7 1151 L946.5 1151 L947.3 1151 L948.1 1151 L948.9 1151 L949.7 1151 L950.5 1151 L951.3 1151 L952.1 1151 L952.9 1151 L953.7 1151 L954.5 1151 L955.3 1151 L956.1 1151 L956.9 1151 L957.7 1151 L958.5 1151 L959.3 1151 L960.1 1151 L960.9 1151 L961.7 1151 L962.5 1151 L963.3 1151 L964.1 1151 L964.9 1151 L965.7 1151 L966.5 1151 L967.3 1151 L968.1 1151 L968.9 1151 L969.7 1151 L970.5 1151 L971.3 1151 L972.1 1151 L972.9 1151 L973.7 1151 L974.5 1151 L975.3 1151 L976.1 1151 L976.9 1151 L977.7 1151 L978.5 1151 L979.3 1151 L980.1 1151 L980.9 1151 L981.7 1151 L982.5 1151 L983.3 1151 L984.1 1151 L984.9 1151 L985.7 1151 L986.5 1151 L987.3 1151 L988.1 1151 L988.9 1151 L989.7 1151 L990.5 1151 L991.3 1151 L992.1 1151 L992.9 1151 L993.7 1151 L994.5 1151 L995.3 1151 L996.1 1151 L996.9 1151 L997.7 1151 L998.5 1151 L999.3 1151 L1000.1 1150.9 L1000.9 1150.9 L1001.7 1150.9 L1002.5 1150.9 L1003.3 1150.8 L1004.1 1150.8 L1004.9 1150.8 L1005.7 1150.7 L1006.5 1150.6 L1007.3 1150.5 L1008.1 1150.4 L1008.9 1150.3 L1009.7 1150.3 L1010.5 1150.1 L1011.3 1149.8 L1012.1 1149.7 L1012.9 1149.5 L1013.7 1149.2 L1014.5 1148.8 L1015.3 1148.4 L1016.1 1147.9 L1016.9 1147.6 L1017.7 1146.7 L1018.5 1146.4 L1019.3 1145.6 L1020.1 1144.5 L1020.9 1143.3 L1021.7 1142.5 L1022.5 1140.8 L1023.3 1139 L1024.1 1137.8 L1024.9 1135.5 L1025.7 1133.6 L1026.5 1131.3 L1027.3 1129.5 L1028.1 1126.4 L1028.9 1122.6 L1029.7 1120.1 L1030.5 1118.2 L1031.3 1114.5 L1032.1 1111 L1032.9 1108.6 L1033.7 1104.7 L1034.5 1101.6 L1035.3 1101.4 L1036.1 1098.3 L1036.9 1094.3 L1037.7 1094.6 L1038.5 1095.2 L1039.3 1091.9 L1040.1 1093.9 L1040.9 1091 L1041.7 1092.8 L1042.5 1095.1 L1043.3 1094.3 L1044.1 1098 L1044.9 1098.1 L1045.7 1101.3 L1046.5 1104.3 L1047.3 1110 L1048.1 1113.3 L1048.9 1114.3 L1049.7 1119.5 L1050.5 1122.5 L1051.3 1126 L1052.1 1128.7 L1052.9 1130.9 L1053.7 1132.8 L1054.5 1136.1 L1055.3 1138.3 L1056.1 1139.7 L1056.9 1141.9 L1057.7 1143.1 L1058.5 1144.4 L1059.3 1145.3 L1060.1 1146.6 L1060.9 1147.2 L1061.7 1147.9 L1062.5 1148.3 L1063.3 1148.8 L1064.1 1149 L1064.9 1149.4 L1065.7 1149.5 L1066.5 1149.6 L1067.3 1149.8 L1068.1 1149.9 L1068.9 1149.9 L1069.7 1149.9 L1070.5 1150 L1071.3 1150 L1072.1 1150 L1072.9 1150 L1073.7 1150 L1074.5 1150 L1075.3 1149.9 L1076.1 1149.9 L1076.9 1149.9 L1077.7 1149.9 L1078.5 1149.9 L1079.3 1149.9 L1080.1 1149.9 L1080.9 1149.9 L1081.7 1149.9 L1082.5 1149.8 L1083.3 1149.9 L1084.1 1149.9 L1084.9 1149.8 L1085.7 1149.8 L1086.5 1149.8 L1087.3 1149.9 L1088.1 1149.8 L1088.9 1149.7 L1089.7 1149.8 L1090.5 1149.8 L1091.3 1149.8 L1092.1 1149.8 L1092.9 1149.8 L1093.7 1149.9 L1094.5 1149.9 L1095.3 1149.8 L1096.1 1149.9 L1096.9 1149.8 L1097.7 1149.9 L1098.5 1149.9 L1099.3 1149.9 L1100.1 1149.8 L1100.9 1149.9 L1101.7 1149.9 L1102.5 1149.9 L1103.3 1149.9 L1104.1 1150 L1104.9 1150 L1105.7 1150.1 L1106.5 1150.1 L1107.3 1150.1 L1108.1 1150.1 L1108.9 1150.1 L1109.7 1150.1 L1110.5 1150.2 L1111.3 1150.2 L1112.1 1150.1 L1112.9 1150.2 L1113.7 1150.2 L1114.5 1150.3 L1115.3 1150.3 L1116.1 1150.3 L1116.9 1150.4 L1117.7 1150.4 L1118.5 1150.4 L1119.3 1150.4 L1120.1 1150.5 L1120.9 1150.5 L1121.7 1150.5 L1122.5 1150.5 L1123.3 1150.5 L1124.1 1150.5 L1124.9 1150.5 L1125.7 1150.6 L1126.5 1150.6 L1127.3 1150.6 L1128.1 1150.6 L1128.9 1150.7 L1129.7 1150.7 L1130.5 1150.7 L1131.3 1150.7 L1132.1 1150.7 L1132.9 1150.7 L1133.7 1150.7 L1134.5 1150.7 L1135.3 1150.8 L1136.1 1150.8 L1136.9 1150.8 L1137.7 1150.8 L1138.5 1150.8 L1139.3 1150.8 L1140.1 1150.9 L1140.9 1150.9 L1141.7 1150.9 L1142.5 1150.9 L1143.3 1150.9 L1144.1 1150.9 L1144.9 1150.9 L1145.7 1150.9 L1146.5 1150.9 L1147.3 1150.9 L1148.1 1150.9 L1148.9 1150.9 L1149.7 1150.9 L1150.5 1150.9 L1151.3 1150.9 L1152.1 1151 L1152.9 1150.9 L1153.7 1150.9 L1154.5 1150.9 L1155.3 1151 L1156.1 1150.9 L1156.9 1150.9 L1157.7 1151 L1158.5 1151 L1159.3 1151 L1160.1 1151 L1160.9 1151 L1161.7 1151 L1162.5 1151 L1163.3 1151 L1164.1 1151 L1164.9 1151 L1165.7 1151 L1166.5 1151 L1167.3 1151 L1168.1 1151 L1168.9 1151 L1169.7 1151 L1170.5 1151 L1171.3 1151 L1172.1 1151 L1172.9 1151 L1173.7 1151 L1174.5 1151 L1175.3 1151 L1176.1 1151 L1176.9 1151 L1177.7 1151 L1178.5 1151 L1179.3 1151 L1180.1 1151 L1180.9 1151 L1181.7 1151 L1182.5 1151 L1183.3 1151 L1184.1 1151 L1184.9 1151 L1185.7 1151 L1186.5 1151 L1187.3 1151 L1188.1 1151 L1188.6 1151.6 Z" fill="#7fa0ca" fill-opacity="0.85"/>
<path d="M923.3 1151 L924.1 1151 L924.9 1151 L925.7 1151 L926.5 1151 L927.3 1151 L928.1 1151 L928.9 1151 L929.7 1151 L930.5 1151 L931.3 1151 L932.1 1151 L932.9 1151 L933.7 1151 L934.5 1151 L935.3 1151 L936.1 1151 L936.9 1151 L937.7 1151 L938.5 1151 L939.3 1151 L940.1 1151 L940.9 1151 L941.7 1151 L942.5 1151 L943.3 1151 L944.1 1151 L944.9 1151 L945.7 1151 L946.5 1151 L947.3 1151 L948.1 1151 L948.9 1151 L949.7 1151 L950.5 1151 L951.3 1151 L952.1 1151 L952.9 1151 L953.7 1151 L954.5 1151 L955.3 1151 L956.1 1151 L956.9 1151 L957.7 1151 L958.5 1151 L959.3 1151 L960.1 1151 L960.9 1151 L961.7 1151 L962.5 1151 L963.3 1151 L964.1 1151 L964.9 1151 L965.7 1151 L966.5 1151 L967.3 1151 L968.1 1151 L968.9 1151 L969.7 1151 L970.5 1151 L971.3 1151 L972.1 1151 L972.9 1151 L973.7 1151 L974.5 1151 L975.3 1151 L976.1 1151 L976.9 1151 L977.7 1151 L978.5 1151 L979.3 1151 L980.1 1151 L980.9 1151 L981.7 1151 L982.5 1151 L983.3 1151 L984.1 1151 L984.9 1151 L985.7 1151 L986.5 1151 L987.3 1151 L988.1 1151 L988.9 1151 L989.7 1151 L990.5 1151 L991.3 1151 L992.1 1151 L992.9 1151 L993.7 1151 L994.5 1151 L995.3 1151 L996.1 1151 L996.9 1151 L997.7 1151 L998.5 1151 L999.3 1151 L1000.1 1150.9 L1000.9 1150.9 L1001.7 1150.9 L1002.5 1150.9 L1003.3 1150.9 L1004.1 1150.8 L1004.9 1150.8 L1005.7 1150.7 L1006.5 1150.6 L1007.3 1150.6 L1008.1 1150.5 L1008.9 1150.3 L1009.7 1150.3 L1010.5 1150.1 L1011.3 1149.9 L1012.1 1149.7 L1012.9 1149.4 L1013.7 1149.1 L1014.5 1148.9 L1015.3 1148.5 L1016.1 1148 L1016.9 1147.5 L1017.7 1146.9 L1018.5 1146.1 L1019.3 1145.5 L1020.1 1144.4 L1020.9 1143.6 L1021.7 1142 L1022.5 1140.6 L1023.3 1139.3 L1024.1 1137.8 L1024.9 1135.6 L1025.7 1133.3 L1026.5 1131.1 L1027.3 1129.6 L1028.1 1126.3 L1028.9 1124.1 L1029.7 1120.4 L1030.5 1116.5 L1031.3 1113.5 L1032.1 1111.8 L1032.9 1107.9 L1033.7 1105.5 L1034.5 1103.1 L1035.3 1098.7 L1036.1 1096.2 L1036.9 1095.5 L1037.7 1093.6 L1038.5 1092.5 L1039.3 1092.3 L1040.1 1093.3 L1040.9 1094.5 L1041.7 1094.5 L1042.5 1094.4 L1043.3 1093.8 L1044.1 1097 L1044.9 1099 L1045.7 1102.6 L1046.5 1105.6 L1047.3 1109.3 L1048.1 1110.6 L1048.9 1114.9 L1049.7 1119.3 L1050.5 1121.4 L1051.3 1124.8 L1052.1 1127.9 L1052.9 1130.5 L1053.7 1133.4 L1054.5 1135.5 L1055.3 1137.7 L1056.1 1140.1 L1056.9 1141.6 L1057.7 1143.2 L1058.5 1144.5 L1059.3 1145.6 L1060.1 1146.4 L1060.9 1147.3 L1061.7 1147.9 L1062.5 1148.3 L1063.3 1148.7 L1064.1 1149.1 L1064.9 1149.3 L1065.7 1149.6 L1066.5 1149.7 L1067.3 1149.8 L1068.1 1149.9 L1068.9 1150 L1069.7 1149.9 L1070.5 1150 L1071.3 1150 L1072.1 1150 L1072.9 1150 L1073.7 1150 L1074.5 1150 L1075.3 1149.9 L1076.1 1150 L1076.9 1150 L1077.7 1149.9 L1078.5 1149.9 L1079.3 1149.9 L1080.1 1149.9 L1080.9 1149.9 L1081.7 1149.9 L1082.5 1149.9 L1083.3 1149.8 L1084.1 1149.9 L1084.9 1149.8 L1085.7 1149.9 L1086.5 1149.8 L1087.3 1149.8 L1088.1 1149.8 L1088.9 1149.8 L1089.7 1149.8 L1090.5 1149.8 L1091.3 1149.8 L1092.1 1149.8 L1092.9 1149.9 L1093.7 1149.8 L1094.5 1149.8 L1095.3 1149.8 L1096.1 1149.9 L1096.9 1149.9 L1097.7 1149.9 L1098.5 1149.8 L1099.3 1149.9 L1100.1 1149.9 L1100.9 1149.9 L1101.7 1149.9 L1102.5 1150 L1103.3 1149.9 L1104.1 1150 L1104.9 1150 L1105.7 1150.1 L1106.5 1150.1 L1107.3 1150.1 L1108.1 1150.1 L1108.9 1150.1 L1109.7 1150.1 L1110.5 1150.1 L1111.3 1150.1 L1112.1 1150.2 L1112.9 1150.2 L1113.7 1150.2 L1114.5 1150.2 L1115.3 1150.3 L1116.1 1150.3 L1116.9 1150.3 L1117.7 1150.4 L1118.5 1150.4 L1119.3 1150.4 L1120.1 1150.4 L1120.9 1150.4 L1121.7 1150.4 L1122.5 1150.5 L1123.3 1150.5 L1124.1 1150.5 L1124.9 1150.6 L1125.7 1150.6 L1126.5 1150.6 L1127.3 1150.6 L1128.1 1150.6 L1128.9 1150.6 L1129.7 1150.7 L1130.5 1150.7 L1131.3 1150.7 L1132.1 1150.7 L1132.9 1150.7 L1133.7 1150.7 L1134.5 1150.8 L1135.3 1150.8 L1136.1 1150.8 L1136.9 1150.8 L1137.7 1150.8 L1138.5 1150.8 L1139.3 1150.8 L1140.1 1150.8 L1140.9 1150.8 L1141.7 1150.9 L1142.5 1150.9 L1143.3 1150.9 L1144.1 1150.9 L1144.9 1150.9 L1145.7 1150.9 L1146.5 1150.9 L1147.3 1150.9 L1148.1 1150.9 L1148.9 1150.9 L1149.7 1150.9 L1150.5 1151 L1151.3 1150.9 L1152.1 1150.9 L1152.9 1151 L1153.7 1151 L1154.5 1150.9 L1155.3 1150.9 L1156.1 1151 L1156.9 1151 L1157.7 1151 L1158.5 1151 L1159.3 1151 L1160.1 1151 L1160.9 1151 L1161.7 1151 L1162.5 1151 L1163.3 1151 L1164.1 1151 L1164.9 1151 L1165.7 1151 L1166.5 1151 L1167.3 1151 L1168.1 1151 L1168.9 1151 L1169.7 1151 L1170.5 1151 L1171.3 1151 L1172.1 1151 L1172.9 1151 L1173.7 1151 L1174.5 1151 L1175.3 1151 L1176.1 1151 L1176.9 1151 L1177.7 1151 L1178.5 1151 L1179.3 1151 L1180.1 1151 L1180.9 1151 L1181.7 1151 L1182.5 1151 L1183.3 1151 L1184.1 1151 L1184.9 1151 L1185.7 1151 L1186.5 1151 L1187.3 1151 L1188.1 1151" fill="none" stroke="#0c4ea0" stroke-width="2.0" />
<text x="1187.5" y="1149.8" font-size="20" text-anchor="end" fill="#1a5599" textLength="31" lengthAdjust="spacingAndGlyphs" stroke="#1a5599" stroke-width="0.44" >WT</text>
<path d="M923.3 1188.2 L923.3 1187.6 L924.1 1187.6 L924.9 1187.6 L925.7 1187.6 L926.5 1187.6 L927.3 1187.6 L928.1 1187.6 L928.9 1187.6 L929.7 1187.6 L930.5 1187.6 L931.3 1187.6 L932.1 1187.6 L932.9 1187.6 L933.7 1187.6 L934.5 1187.6 L935.3 1187.6 L936.1 1187.6 L936.9 1187.6 L937.7 1187.6 L938.5 1187.6 L939.3 1187.6 L940.1 1187.6 L940.9 1187.6 L941.7 1187.6 L942.5 1187.6 L943.3 1187.6 L944.1 1187.6 L944.9 1187.6 L945.7 1187.6 L946.5 1187.6 L947.3 1187.6 L948.1 1187.6 L948.9 1187.6 L949.7 1187.6 L950.5 1187.6 L951.3 1187.6 L952.1 1187.6 L952.9 1187.6 L953.7 1187.6 L954.5 1187.6 L955.3 1187.6 L956.1 1187.6 L956.9 1187.6 L957.7 1187.6 L958.5 1187.6 L959.3 1187.6 L960.1 1187.6 L960.9 1187.6 L961.7 1187.6 L962.5 1187.6 L963.3 1187.6 L964.1 1187.6 L964.9 1187.6 L965.7 1187.6 L966.5 1187.6 L967.3 1187.6 L968.1 1187.6 L968.9 1187.6 L969.7 1187.6 L970.5 1187.6 L971.3 1187.6 L972.1 1187.6 L972.9 1187.6 L973.7 1187.6 L974.5 1187.6 L975.3 1187.6 L976.1 1187.6 L976.9 1187.6 L977.7 1187.6 L978.5 1187.6 L979.3 1187.6 L980.1 1187.6 L980.9 1187.6 L981.7 1187.6 L982.5 1187.6 L983.3 1187.6 L984.1 1187.5 L984.9 1187.5 L985.7 1187.5 L986.5 1187.4 L987.3 1187.4 L988.1 1187.3 L988.9 1187.2 L989.7 1187.1 L990.5 1187 L991.3 1186.9 L992.1 1186.8 L992.9 1186.7 L993.7 1186.5 L994.5 1186.2 L995.3 1185.9 L996.1 1185.6 L996.9 1185.2 L997.7 1184.9 L998.5 1184.2 L999.3 1183.6 L1000.1 1182.9 L1000.9 1182 L1001.7 1181.5 L1002.5 1180.1 L1003.3 1179 L1004.1 1177.1 L1004.9 1176.1 L1005.7 1173.9 L1006.5 1172.4 L1007.3 1169.3 L1008.1 1167.2 L1008.9 1164.1 L1009.7 1162.1 L1010.5 1157.7 L1011.3 1156.8 L1012.1 1153.1 L1012.9 1148.3 L1013.7 1144.6 L1014.5 1141.9 L1015.3 1140.9 L1016.1 1139.2 L1016.9 1134.4 L1017.7 1132.4 L1018.5 1134.8 L1019.3 1131 L1020.1 1132.8 L1020.9 1134.9 L1021.7 1133 L1022.5 1134.5 L1023.3 1137.4 L1024.1 1136.5 L1024.9 1139.2 L1025.7 1145.2 L1026.5 1147.4 L1027.3 1151.3 L1028.1 1153.6 L1028.9 1158.5 L1029.7 1161.3 L1030.5 1164.4 L1031.3 1167.3 L1032.1 1170.2 L1032.9 1172.6 L1033.7 1174.6 L1034.5 1176.8 L1035.3 1178.7 L1036.1 1180.3 L1036.9 1182 L1037.7 1183.1 L1038.5 1183.9 L1039.3 1184.6 L1040.1 1185.3 L1040.9 1185.8 L1041.7 1186.1 L1042.5 1186.5 L1043.3 1186.7 L1044.1 1186.9 L1044.9 1187 L1045.7 1187.1 L1046.5 1187.1 L1047.3 1187.2 L1048.1 1187.2 L1048.9 1187.2 L1049.7 1187.2 L1050.5 1187.2 L1051.3 1187.2 L1052.1 1187.2 L1052.9 1187.2 L1053.7 1187.1 L1054.5 1187.1 L1055.3 1187.1 L1056.1 1187.1 L1056.9 1187.1 L1057.7 1187.1 L1058.5 1187.1 L1059.3 1187 L1060.1 1187 L1060.9 1187 L1061.7 1187 L1062.5 1187 L1063.3 1186.9 L1064.1 1186.9 L1064.9 1186.9 L1065.7 1186.8 L1066.5 1186.8 L1067.3 1186.8 L1068.1 1186.7 L1068.9 1186.7 L1069.7 1186.7 L1070.5 1186.7 L1071.3 1186.7 L1072.1 1186.6 L1072.9 1186.6 L1073.7 1186.6 L1074.5 1186.7 L1075.3 1186.6 L1076.1 1186.5 L1076.9 1186.6 L1077.7 1186.5 L1078.5 1186.5 L1079.3 1186.5 L1080.1 1186.5 L1080.9 1186.5 L1081.7 1186.4 L1082.5 1186.5 L1083.3 1186.4 L1084.1 1186.5 L1084.9 1186.4 L1085.7 1186.4 L1086.5 1186.4 L1087.3 1186.4 L1088.1 1186.4 L1088.9 1186.4 L1089.7 1186.4 L1090.5 1186.4 L1091.3 1186.5 L1092.1 1186.5 L1092.9 1186.4 L1093.7 1186.4 L1094.5 1186.5 L1095.3 1186.5 L1096.1 1186.4 L1096.9 1186.4 L1097.7 1186.4 L1098.5 1186.4 L1099.3 1186.5 L1100.1 1186.4 L1100.9 1186.5 L1101.7 1186.5 L1102.5 1186.5 L1103.3 1186.6 L1104.1 1186.6 L1104.9 1186.7 L1105.7 1186.6 L1106.5 1186.7 L1107.3 1186.6 L1108.1 1186.6 L1108.9 1186.7 L1109.7 1186.7 L1110.5 1186.7 L1111.3 1186.7 L1112.1 1186.8 L1112.9 1186.8 L1113.7 1186.8 L1114.5 1186.9 L1115.3 1186.9 L1116.1 1186.9 L1116.9 1186.9 L1117.7 1186.9 L1118.5 1187 L1119.3 1187 L1120.1 1187 L1120.9 1187 L1121.7 1187 L1122.5 1187.1 L1123.3 1187.1 L1124.1 1187.1 L1124.9 1187.1 L1125.7 1187.2 L1126.5 1187.2 L1127.3 1187.2 L1128.1 1187.3 L1128.9 1187.3 L1129.7 1187.3 L1130.5 1187.2 L1131.3 1187.3 L1132.1 1187.3 L1132.9 1187.3 L1133.7 1187.4 L1134.5 1187.4 L1135.3 1187.4 L1136.1 1187.4 L1136.9 1187.4 L1137.7 1187.4 L1138.5 1187.4 L1139.3 1187.4 L1140.1 1187.4 L1140.9 1187.5 L1141.7 1187.5 L1142.5 1187.5 L1143.3 1187.5 L1144.1 1187.5 L1144.9 1187.5 L1145.7 1187.5 L1146.5 1187.5 L1147.3 1187.5 L1148.1 1187.5 L1148.9 1187.5 L1149.7 1187.6 L1150.5 1187.5 L1151.3 1187.6 L1152.1 1187.5 L1152.9 1187.5 L1153.7 1187.5 L1154.5 1187.6 L1155.3 1187.5 L1156.1 1187.6 L1156.9 1187.6 L1157.7 1187.6 L1158.5 1187.6 L1159.3 1187.6 L1160.1 1187.6 L1160.9 1187.6 L1161.7 1187.6 L1162.5 1187.6 L1163.3 1187.6 L1164.1 1187.6 L1164.9 1187.6 L1165.7 1187.6 L1166.5 1187.6 L1167.3 1187.6 L1168.1 1187.6 L1168.9 1187.6 L1169.7 1187.6 L1170.5 1187.6 L1171.3 1187.6 L1172.1 1187.6 L1172.9 1187.6 L1173.7 1187.6 L1174.5 1187.6 L1175.3 1187.6 L1176.1 1187.6 L1176.9 1187.6 L1177.7 1187.6 L1178.5 1187.6 L1179.3 1187.6 L1180.1 1187.6 L1180.9 1187.6 L1181.7 1187.6 L1182.5 1187.6 L1183.3 1187.6 L1184.1 1187.6 L1184.9 1187.6 L1185.7 1187.6 L1186.5 1187.6 L1187.3 1187.6 L1188.1 1187.6 L1188.6 1188.2 Z" fill="#92c6f6" fill-opacity="0.85"/>
<path d="M923.3 1187.6 L924.1 1187.6 L924.9 1187.6 L925.7 1187.6 L926.5 1187.6 L927.3 1187.6 L928.1 1187.6 L928.9 1187.6 L929.7 1187.6 L930.5 1187.6 L931.3 1187.6 L932.1 1187.6 L932.9 1187.6 L933.7 1187.6 L934.5 1187.6 L935.3 1187.6 L936.1 1187.6 L936.9 1187.6 L937.7 1187.6 L938.5 1187.6 L939.3 1187.6 L940.1 1187.6 L940.9 1187.6 L941.7 1187.6 L942.5 1187.6 L943.3 1187.6 L944.1 1187.6 L944.9 1187.6 L945.7 1187.6 L946.5 1187.6 L947.3 1187.6 L948.1 1187.6 L948.9 1187.6 L949.7 1187.6 L950.5 1187.6 L951.3 1187.6 L952.1 1187.6 L952.9 1187.6 L953.7 1187.6 L954.5 1187.6 L955.3 1187.6 L956.1 1187.6 L956.9 1187.6 L957.7 1187.6 L958.5 1187.6 L959.3 1187.6 L960.1 1187.6 L960.9 1187.6 L961.7 1187.6 L962.5 1187.6 L963.3 1187.6 L964.1 1187.6 L964.9 1187.6 L965.7 1187.6 L966.5 1187.6 L967.3 1187.6 L968.1 1187.6 L968.9 1187.6 L969.7 1187.6 L970.5 1187.6 L971.3 1187.6 L972.1 1187.6 L972.9 1187.6 L973.7 1187.6 L974.5 1187.6 L975.3 1187.6 L976.1 1187.6 L976.9 1187.6 L977.7 1187.6 L978.5 1187.6 L979.3 1187.6 L980.1 1187.6 L980.9 1187.6 L981.7 1187.6 L982.5 1187.6 L983.3 1187.5 L984.1 1187.5 L984.9 1187.5 L985.7 1187.5 L986.5 1187.4 L987.3 1187.4 L988.1 1187.3 L988.9 1187.3 L989.7 1187.2 L990.5 1187.1 L991.3 1186.9 L992.1 1186.8 L992.9 1186.7 L993.7 1186.4 L994.5 1186.3 L995.3 1185.9 L996.1 1185.6 L996.9 1185.2 L997.7 1184.7 L998.5 1184.2 L999.3 1183.8 L1000.1 1183.1 L1000.9 1182.2 L1001.7 1181.3 L1002.5 1180.1 L1003.3 1179.1 L1004.1 1177.3 L1004.9 1175.9 L1005.7 1174.4 L1006.5 1172.3 L1007.3 1169.2 L1008.1 1166.8 L1008.9 1164 L1009.7 1161.9 L1010.5 1157.8 L1011.3 1156.2 L1012.1 1151.8 L1012.9 1148 L1013.7 1146.6 L1014.5 1144.2 L1015.3 1141.1 L1016.1 1138.7 L1016.9 1134.3 L1017.7 1133.1 L1018.5 1133 L1019.3 1134.2 L1020.1 1132.4 L1020.9 1134.1 L1021.7 1134.1 L1022.5 1133.5 L1023.3 1135.2 L1024.1 1137.2 L1024.9 1139.9 L1025.7 1144.9 L1026.5 1147.7 L1027.3 1151.4 L1028.1 1154.1 L1028.9 1158.4 L1029.7 1160.4 L1030.5 1164 L1031.3 1166.9 L1032.1 1170.2 L1032.9 1172.4 L1033.7 1174.8 L1034.5 1176.9 L1035.3 1178.8 L1036.1 1180.7 L1036.9 1181.9 L1037.7 1183.1 L1038.5 1183.9 L1039.3 1184.7 L1040.1 1185.2 L1040.9 1185.8 L1041.7 1186.2 L1042.5 1186.4 L1043.3 1186.6 L1044.1 1186.8 L1044.9 1187 L1045.7 1187 L1046.5 1187.2 L1047.3 1187.2 L1048.1 1187.2 L1048.9 1187.2 L1049.7 1187.2 L1050.5 1187.2 L1051.3 1187.2 L1052.1 1187.2 L1052.9 1187.2 L1053.7 1187.2 L1054.5 1187.2 L1055.3 1187.1 L1056.1 1187.1 L1056.9 1187.1 L1057.7 1187.1 L1058.5 1187.1 L1059.3 1187 L1060.1 1187 L1060.9 1187 L1061.7 1187 L1062.5 1187 L1063.3 1186.9 L1064.1 1186.9 L1064.9 1186.9 L1065.7 1186.9 L1066.5 1186.9 L1067.3 1186.8 L1068.1 1186.8 L1068.9 1186.7 L1069.7 1186.7 L1070.5 1186.7 L1071.3 1186.7 L1072.1 1186.7 L1072.9 1186.7 L1073.7 1186.6 L1074.5 1186.6 L1075.3 1186.6 L1076.1 1186.6 L1076.9 1186.6 L1077.7 1186.6 L1078.5 1186.5 L1079.3 1186.5 L1080.1 1186.4 L1080.9 1186.5 L1081.7 1186.5 L1082.5 1186.5 L1083.3 1186.4 L1084.1 1186.4 L1084.9 1186.4 L1085.7 1186.4 L1086.5 1186.4 L1087.3 1186.5 L1088.1 1186.5 L1088.9 1186.4 L1089.7 1186.4 L1090.5 1186.4 L1091.3 1186.5 L1092.1 1186.4 L1092.9 1186.4 L1093.7 1186.4 L1094.5 1186.4 L1095.3 1186.4 L1096.1 1186.5 L1096.9 1186.4 L1097.7 1186.5 L1098.5 1186.4 L1099.3 1186.5 L1100.1 1186.5 L1100.9 1186.5 L1101.7 1186.5 L1102.5 1186.6 L1103.3 1186.5 L1104.1 1186.6 L1104.9 1186.6 L1105.7 1186.6 L1106.5 1186.7 L1107.3 1186.7 L1108.1 1186.7 L1108.9 1186.7 L1109.7 1186.7 L1110.5 1186.8 L1111.3 1186.7 L1112.1 1186.8 L1112.9 1186.8 L1113.7 1186.9 L1114.5 1186.9 L1115.3 1186.8 L1116.1 1186.9 L1116.9 1186.9 L1117.7 1186.9 L1118.5 1187 L1119.3 1187 L1120.1 1187 L1120.9 1187 L1121.7 1187.1 L1122.5 1187.1 L1123.3 1187.1 L1124.1 1187.1 L1124.9 1187.1 L1125.7 1187.1 L1126.5 1187.2 L1127.3 1187.2 L1128.1 1187.3 L1128.9 1187.3 L1129.7 1187.3 L1130.5 1187.3 L1131.3 1187.3 L1132.1 1187.3 L1132.9 1187.3 L1133.7 1187.3 L1134.5 1187.3 L1135.3 1187.4 L1136.1 1187.4 L1136.9 1187.4 L1137.7 1187.4 L1138.5 1187.4 L1139.3 1187.4 L1140.1 1187.4 L1140.9 1187.5 L1141.7 1187.5 L1142.5 1187.5 L1143.3 1187.5 L1144.1 1187.5 L1144.9 1187.5 L1145.7 1187.5 L1146.5 1187.5 L1147.3 1187.5 L1148.1 1187.5 L1148.9 1187.5 L1149.7 1187.5 L1150.5 1187.5 L1151.3 1187.6 L1152.1 1187.5 L1152.9 1187.5 L1153.7 1187.5 L1154.5 1187.6 L1155.3 1187.6 L1156.1 1187.6 L1156.9 1187.6 L1157.7 1187.6 L1158.5 1187.6 L1159.3 1187.6 L1160.1 1187.6 L1160.9 1187.6 L1161.7 1187.6 L1162.5 1187.6 L1163.3 1187.6 L1164.1 1187.6 L1164.9 1187.6 L1165.7 1187.6 L1166.5 1187.6 L1167.3 1187.6 L1168.1 1187.6 L1168.9 1187.6 L1169.7 1187.6 L1170.5 1187.6 L1171.3 1187.6 L1172.1 1187.6 L1172.9 1187.6 L1173.7 1187.6 L1174.5 1187.6 L1175.3 1187.6 L1176.1 1187.6 L1176.9 1187.6 L1177.7 1187.6 L1178.5 1187.6 L1179.3 1187.6 L1180.1 1187.6 L1180.9 1187.6 L1181.7 1187.6 L1182.5 1187.6 L1183.3 1187.6 L1184.1 1187.6 L1184.9 1187.6 L1185.7 1187.6 L1186.5 1187.6 L1187.3 1187.6 L1188.1 1187.6" fill="none" stroke="#1f8ae6" stroke-width="2.0" />
<text x="1187.5" y="1186" font-size="20" text-anchor="end" fill="#2a96f0" textLength="94.7" lengthAdjust="spacingAndGlyphs" stroke="#2a96f0" stroke-width="0.44" >WT+MitoQ</text>
<rect x="922.5" y="921" width="266.9" height="268.7" fill="none" stroke="#000" stroke-width="2.5" />
<line x1="922.9" y1="1189.7" x2="922.9" y2="1194.7" stroke="#000" stroke-width="2" />
<text x="923.9" y="1206.7" font-size="11.5" text-anchor="middle" font-weight="bold" >0</text>
<line x1="989.4" y1="1189.7" x2="989.4" y2="1194.7" stroke="#000" stroke-width="2" />
<text x="987.9" y="1206.7" font-size="11.5" text-anchor="middle" font-weight="bold" >10</text>
<text x="994.4" y="1201.2" font-size="7" text-anchor="middle" font-weight="bold" >1</text>
<line x1="1056" y1="1189.7" x2="1056" y2="1194.7" stroke="#000" stroke-width="2" />
<text x="1054.5" y="1206.7" font-size="11.5" text-anchor="middle" font-weight="bold" >10</text>
<text x="1061" y="1201.2" font-size="7" text-anchor="middle" font-weight="bold" >2</text>
<line x1="1122.5" y1="1189.7" x2="1122.5" y2="1194.7" stroke="#000" stroke-width="2" />
<text x="1121" y="1206.7" font-size="11.5" text-anchor="middle" font-weight="bold" >10</text>
<text x="1127.5" y="1201.2" font-size="7" text-anchor="middle" font-weight="bold" >3</text>
<line x1="1189.1" y1="1189.7" x2="1189.1" y2="1194.7" stroke="#000" stroke-width="2" />
<text x="1187.6" y="1206.7" font-size="11.5" text-anchor="middle" font-weight="bold" >10</text>
<text x="1194.1" y="1201.2" font-size="7" text-anchor="middle" font-weight="bold" >4</text>
<text x="1053.7" y="1234" font-size="23" text-anchor="middle" textLength="182.6" lengthAdjust="spacingAndGlyphs" stroke="#000" stroke-width="0.9" >MitoSOX (FL-2)</text>
<text x="911" y="1056.2" font-size="21" text-anchor="middle" font-weight="bold" textLength="100.4" lengthAdjust="spacingAndGlyphs" transform="rotate(-90 911 1056.2)" >Cell count</text>
<rect x="1290.3" y="1099.5" width="27" height="85.9" fill="#e4e4e4" stroke="#000" stroke-width="2.7" />
<rect x="1320" y="1101.5" width="29" height="83.9" fill="#025497" stroke="#000" stroke-width="2.7" />
<rect x="1383.2" y="1092.8" width="27.8" height="92.6" fill="#e4e4e4" stroke="#000" stroke-width="2.7" />
<rect x="1413.8" y="1093.3" width="27.9" height="92.1" fill="#025497" stroke="#000" stroke-width="2.7" />
<rect x="1476.1" y="987.6" width="27.5" height="197.9" fill="#e4e4e4" stroke="#000" stroke-width="2.7" />
<rect x="1506.3" y="1082.6" width="28.3" height="102.8" fill="#025497" stroke="#000" stroke-width="2.7" />
<line x1="1334.5" y1="1093.2" x2="1334.5" y2="1104" stroke="#000" stroke-width="2.7" />
<line x1="1328" y1="1093.2" x2="1341" y2="1093.2" stroke="#000" stroke-width="2.7" />
<line x1="1328" y1="1104" x2="1341" y2="1104" stroke="#000" stroke-width="2.7" />
<line x1="1397" y1="1083" x2="1397" y2="1098" stroke="#000" stroke-width="2.7" />
<line x1="1390.5" y1="1083" x2="1403.5" y2="1083" stroke="#000" stroke-width="2.7" />
<line x1="1390.5" y1="1098" x2="1403.5" y2="1098" stroke="#000" stroke-width="2.7" />
<line x1="1428" y1="1086" x2="1428" y2="1096" stroke="#000" stroke-width="2.7" />
<line x1="1421.5" y1="1086" x2="1434.5" y2="1086" stroke="#000" stroke-width="2.7" />
<line x1="1421.5" y1="1096" x2="1434.5" y2="1096" stroke="#000" stroke-width="2.7" />
<line x1="1489.6" y1="963.2" x2="1489.6" y2="1008.2" stroke="#000" stroke-width="2.7" />
<line x1="1482.6" y1="963.2" x2="1496.6" y2="963.2" stroke="#000" stroke-width="2.7" />
<line x1="1482.6" y1="1008.2" x2="1496.6" y2="1008.2" stroke="#000" stroke-width="2.7" />
<line x1="1521.3" y1="1058.5" x2="1521.3" y2="1103.6" stroke="#000" stroke-width="2.7" />
<line x1="1514.3" y1="1058.5" x2="1528.3" y2="1058.5" stroke="#000" stroke-width="2.7" />
<line x1="1514.3" y1="1103.6" x2="1528.3" y2="1103.6" stroke="#000" stroke-width="2.7" />
<circle cx="1294" cy="1096.9" r="4.4" fill="#000"/>
<circle cx="1303.9" cy="1096.9" r="4.4" fill="#000"/>
<circle cx="1313.8" cy="1096.9" r="4.4" fill="#000"/>
<circle cx="1326" cy="1092" r="4.4" fill="#000"/>
<circle cx="1335.6" cy="1103.6" r="4.4" fill="#000"/>
<circle cx="1344.7" cy="1103.6" r="4.4" fill="#000"/>
<circle cx="1396.7" cy="1080.8" r="4.4" fill="#000"/>
<circle cx="1389.3" cy="1092" r="4.4" fill="#000"/>
<circle cx="1404.9" cy="1098.2" r="4.4" fill="#000"/>
<circle cx="1427.7" cy="1083.3" r="4.4" fill="#000"/>
<circle cx="1419.8" cy="1094.5" r="4.4" fill="#000"/>
<circle cx="1436.4" cy="1095.7" r="4.4" fill="#000"/>
<circle cx="1489.6" cy="965.6" r="4.4" fill="#000"/>
<circle cx="1489.6" cy="979.3" r="4.4" fill="#000"/>
<circle cx="1489.6" cy="1010.2" r="4.4" fill="#000"/>
<circle cx="1521.3" cy="1058.5" r="4.4" fill="#000"/>
<circle cx="1521.3" cy="1078.8" r="4.4" fill="#000"/>
<circle cx="1521.3" cy="1104.4" r="4.4" fill="#000"/>
<line x1="1273.6" y1="1186.2" x2="1273.6" y2="919" stroke="#000" stroke-width="2.6" />
<line x1="1265.6" y1="1184.9" x2="1552.8" y2="1184.9" stroke="#000" stroke-width="2.6" />
<line x1="1265.6" y1="1184.9" x2="1273.6" y2="1184.9" stroke="#000" stroke-width="2.6" />
<text x="1259.3" y="1193.9" font-size="25.5" text-anchor="end" stroke="#000" stroke-width="0.56" >0</text>
<line x1="1265.6" y1="1096.4" x2="1273.6" y2="1096.4" stroke="#000" stroke-width="2.6" />
<text x="1259.3" y="1105.4" font-size="25.5" text-anchor="end" stroke="#000" stroke-width="0.56" >1</text>
<line x1="1265.6" y1="1007.8" x2="1273.6" y2="1007.8" stroke="#000" stroke-width="2.6" />
<text x="1259.3" y="1016.8" font-size="25.5" text-anchor="end" stroke="#000" stroke-width="0.56" >2</text>
<line x1="1265.6" y1="919.3" x2="1273.6" y2="919.3" stroke="#000" stroke-width="2.6" />
<text x="1259.3" y="928.3" font-size="25.5" text-anchor="end" stroke="#000" stroke-width="0.56" >3</text>
<line x1="1318.7" y1="1184.9" x2="1318.7" y2="1192.9" stroke="#000" stroke-width="2.6" />
<line x1="1412.4" y1="1184.9" x2="1412.4" y2="1192.9" stroke="#000" stroke-width="2.6" />
<line x1="1505" y1="1184.9" x2="1505" y2="1192.9" stroke="#000" stroke-width="2.6" />
<line x1="1491.6" y1="948.8" x2="1520.6" y2="948.8" stroke="#000" stroke-width="2.2" />
<text x="1506" y="954.7" font-size="22" text-anchor="middle" font-weight="bold" >**</text>
<text x="1330" y="1208" font-size="24" text-anchor="end" transform="rotate(-45 1330 1208)" stroke="#000" stroke-width="0.53" >mock</text>
<text x="1423" y="1208" font-size="24" text-anchor="end" transform="rotate(-45 1423 1208)" stroke="#000" stroke-width="0.53" >PltB<tspan font-size="0.68em" dy="-0.3em">S35A</tspan></text>
<text x="1516" y="1208" font-size="24" text-anchor="end" transform="rotate(-45 1516 1208)" stroke="#000" stroke-width="0.53" >WT</text>
<text x="1212" y="1054" font-size="20" text-anchor="middle" font-weight="bold" textLength="78" lengthAdjust="spacingAndGlyphs" transform="rotate(-90 1212 1054)" >MitoSox</text>
<text x="1237" y="1057" font-size="22.5" text-anchor="middle" textLength="208" lengthAdjust="spacingAndGlyphs" transform="rotate(-90 1237 1057)" stroke="#000" stroke-width="0.49" >(relative fold change)</text>
<rect x="1281" y="924.6" width="8.5" height="8.5" fill="#e4e4e4" stroke="#000" stroke-width="2.4" />
<text x="1294.7" y="935.7" font-size="23" textLength="67" lengthAdjust="spacingAndGlyphs" stroke="#000" stroke-width="0.51" >DMSO</text>
<rect x="1281" y="948.8" width="8.5" height="8.5" fill="#025497" stroke="#000" stroke-width="2.4" />
<text x="1294.7" y="959.9" font-size="23" textLength="59.6" lengthAdjust="spacingAndGlyphs" stroke="#000" stroke-width="0.51" >MitoQ</text>
<rect x="98.1" y="1569.3" width="18.4" height="45.4" fill="#e4e4e4" stroke="#000" stroke-width="2.7" />
<rect x="119.2" y="1551.4" width="19.7" height="63.3" fill="#025497" stroke="#000" stroke-width="2.7" />
<rect x="163.2" y="1569.3" width="19.5" height="45.4" fill="#e4e4e4" stroke="#000" stroke-width="2.7" />
<rect x="185.3" y="1559" width="19.4" height="55.6" fill="#025497" stroke="#000" stroke-width="2.7" />
<rect x="229.3" y="1430.5" width="18.9" height="184.2" fill="#e4e4e4" stroke="#000" stroke-width="2.7" />
<rect x="250.9" y="1557.9" width="18.8" height="56.8" fill="#025497" stroke="#000" stroke-width="2.7" />
<rect x="294.4" y="1585.9" width="19.5" height="28.8" fill="#e4e4e4" stroke="#000" stroke-width="2.7" />
<rect x="316.6" y="1571.9" width="18.6" height="42.8" fill="#025497" stroke="#000" stroke-width="2.7" />
<line x1="108" y1="1562" x2="108" y2="1574" stroke="#000" stroke-width="2.8" />
<line x1="103" y1="1562" x2="113" y2="1562" stroke="#000" stroke-width="2.8" />
<line x1="103" y1="1574" x2="113" y2="1574" stroke="#000" stroke-width="2.8" />
<line x1="129" y1="1544" x2="129" y2="1557" stroke="#000" stroke-width="2.8" />
<line x1="124" y1="1544" x2="134" y2="1544" stroke="#000" stroke-width="2.8" />
<line x1="124" y1="1557" x2="134" y2="1557" stroke="#000" stroke-width="2.8" />
<line x1="172.1" y1="1554.4" x2="172.1" y2="1571" stroke="#000" stroke-width="2.8" />
<line x1="167.1" y1="1554.4" x2="177.1" y2="1554.4" stroke="#000" stroke-width="2.8" />
<line x1="167.1" y1="1571" x2="177.1" y2="1571" stroke="#000" stroke-width="2.8" />
<line x1="194.7" y1="1550" x2="194.7" y2="1562" stroke="#000" stroke-width="2.8" />
<line x1="189.7" y1="1550" x2="199.7" y2="1550" stroke="#000" stroke-width="2.8" />
<line x1="189.7" y1="1562" x2="199.7" y2="1562" stroke="#000" stroke-width="2.8" />
<line x1="238.4" y1="1381.7" x2="238.4" y2="1477" stroke="#000" stroke-width="2.8" />
<line x1="233.4" y1="1381.7" x2="243.4" y2="1381.7" stroke="#000" stroke-width="2.8" />
<line x1="233.4" y1="1477" x2="243.4" y2="1477" stroke="#000" stroke-width="2.8" />
<line x1="260.3" y1="1549" x2="260.3" y2="1558" stroke="#000" stroke-width="2.8" />
<line x1="255.3" y1="1549" x2="265.3" y2="1549" stroke="#000" stroke-width="2.8" />
<line x1="255.3" y1="1558" x2="265.3" y2="1558" stroke="#000" stroke-width="2.8" />
<line x1="303.4" y1="1578" x2="303.4" y2="1591" stroke="#000" stroke-width="2.8" />
<line x1="298.4" y1="1578" x2="308.4" y2="1578" stroke="#000" stroke-width="2.8" />
<line x1="298.4" y1="1591" x2="308.4" y2="1591" stroke="#000" stroke-width="2.8" />
<line x1="324.9" y1="1562" x2="324.9" y2="1578" stroke="#000" stroke-width="2.8" />
<line x1="319.9" y1="1562" x2="329.9" y2="1562" stroke="#000" stroke-width="2.8" />
<line x1="319.9" y1="1578" x2="329.9" y2="1578" stroke="#000" stroke-width="2.8" />
<circle cx="101.5" cy="1563" r="4.7" fill="#000"/>
<circle cx="108.6" cy="1566" r="4.7" fill="#000"/>
<circle cx="114" cy="1571" r="4.7" fill="#000"/>
<circle cx="123.7" cy="1548" r="4.7" fill="#000"/>
<circle cx="129" cy="1543.7" r="4.7" fill="#000"/>
<circle cx="134.5" cy="1555.5" r="4.7" fill="#000"/>
<circle cx="172.1" cy="1554.4" r="4.7" fill="#000"/>
<circle cx="167.8" cy="1570.6" r="4.7" fill="#000"/>
<circle cx="176.4" cy="1571.6" r="4.7" fill="#000"/>
<circle cx="188.9" cy="1550" r="4.7" fill="#000"/>
<circle cx="194.7" cy="1553.4" r="4.7" fill="#000"/>
<circle cx="201.2" cy="1561" r="4.7" fill="#000"/>
<circle cx="238.4" cy="1381.7" r="4.7" fill="#000"/>
<circle cx="238.4" cy="1427.5" r="4.7" fill="#000"/>
<circle cx="238.4" cy="1477" r="4.7" fill="#000"/>
<circle cx="253.9" cy="1549" r="4.7" fill="#000"/>
<circle cx="260.3" cy="1552.3" r="4.7" fill="#000"/>
<circle cx="266.8" cy="1557.7" r="4.7" fill="#000"/>
<circle cx="296.9" cy="1582.5" r="4.7" fill="#000"/>
<circle cx="303.4" cy="1578" r="4.7" fill="#000"/>
<circle cx="308.7" cy="1591" r="4.7" fill="#000"/>
<circle cx="319.5" cy="1570.6" r="4.7" fill="#000"/>
<circle cx="324.9" cy="1562" r="4.7" fill="#000"/>
<circle cx="329" cy="1574" r="4.7" fill="#000"/>
<line x1="86" y1="1615.7" x2="86" y2="1346.3" stroke="#000" stroke-width="3.0" />
<line x1="78.2" y1="1614.2" x2="347.3" y2="1614.2" stroke="#000" stroke-width="3.0" />
<line x1="78.2" y1="1614.2" x2="86" y2="1614.2" stroke="#000" stroke-width="3.0" />
<text x="72" y="1623.2" font-size="25.5" text-anchor="end" stroke="#000" stroke-width="0.56" >0</text>
<line x1="78.2" y1="1560.7" x2="86" y2="1560.7" stroke="#000" stroke-width="3.0" />
<text x="72" y="1569.7" font-size="25.5" text-anchor="end" stroke="#000" stroke-width="0.56" >1</text>
<line x1="78.2" y1="1507.2" x2="86" y2="1507.2" stroke="#000" stroke-width="3.0" />
<text x="72" y="1516.2" font-size="25.5" text-anchor="end" stroke="#000" stroke-width="0.56" >2</text>
<line x1="78.2" y1="1453.8" x2="86" y2="1453.8" stroke="#000" stroke-width="3.0" />
<text x="72" y="1462.8" font-size="25.5" text-anchor="end" stroke="#000" stroke-width="0.56" >3</text>
<line x1="78.2" y1="1400.3" x2="86" y2="1400.3" stroke="#000" stroke-width="3.0" />
<text x="72" y="1409.3" font-size="25.5" text-anchor="end" stroke="#000" stroke-width="0.56" >4</text>
<line x1="78.2" y1="1346.8" x2="86" y2="1346.8" stroke="#000" stroke-width="3.0" />
<text x="72" y="1355.8" font-size="25.5" text-anchor="end" stroke="#000" stroke-width="0.56" >5</text>
<line x1="117.9" y1="1614.2" x2="117.9" y2="1623.2" stroke="#000" stroke-width="3.0" />
<line x1="184" y1="1614.2" x2="184" y2="1623.2" stroke="#000" stroke-width="3.0" />
<line x1="249.1" y1="1614.2" x2="249.1" y2="1623.2" stroke="#000" stroke-width="3.0" />
<line x1="315.2" y1="1614.2" x2="315.2" y2="1623.2" stroke="#000" stroke-width="3.0" />
<line x1="238.4" y1="1369.4" x2="264.2" y2="1369.4" stroke="#000" stroke-width="2.2" />
<text x="251.3" y="1376.4" font-size="25" text-anchor="middle" font-weight="bold" >**</text>
<text x="129.4" y="1635.2" font-size="26" text-anchor="end" transform="rotate(-45 129.4 1635.2)" stroke="#000" stroke-width="0.57" >mock</text>
<text x="195.5" y="1635.2" font-size="26" text-anchor="end" transform="rotate(-45 195.5 1635.2)" stroke="#000" stroke-width="0.57" >PltB<tspan font-size="0.78em" dy="-0.28em">S35A</tspan></text>
<text x="260.6" y="1635.2" font-size="26" text-anchor="end" transform="rotate(-45 260.6 1635.2)" stroke="#000" stroke-width="0.57" >WT</text>
<text x="326.7" y="1635.2" font-size="26" text-anchor="end" transform="rotate(-45 326.7 1635.2)" stroke="#000" stroke-width="0.57" >CdtB<tspan font-size="0.78em" dy="-0.28em">H160Q</tspan></text>
<text x="51.6" y="1479" font-size="25" text-anchor="middle" textLength="161.3" lengthAdjust="spacingAndGlyphs" transform="rotate(-90 51.6 1479)" stroke="#000" stroke-width="0.55" >Fold induction</text>
<rect x="97.5" y="1352.5" width="8.7" height="8.7" fill="#e4e4e4" stroke="#000" stroke-width="2.5" />
<text x="111.5" y="1364.1" font-size="23.5" textLength="67.8" lengthAdjust="spacingAndGlyphs" stroke="#000" stroke-width="0.52" >DMSO</text>
<rect x="97.5" y="1378.5" width="8.7" height="8.7" fill="#025497" stroke="#000" stroke-width="2.5" />
<text x="111.5" y="1390.1" font-size="23.5" textLength="59.6" lengthAdjust="spacingAndGlyphs" stroke="#000" stroke-width="0.52" >MitoQ</text>
<text x="212" y="1317.8" font-size="30.5" font-style="italic" textLength="51.6" lengthAdjust="spacingAndGlyphs" stroke="#000" stroke-width="0.67" >Ifnb</text>
<rect x="401.4" y="1610.8" width="18.9" height="3.2" fill="#e4e4e4" stroke="#000" stroke-width="2.7" />
<rect x="423" y="1610.8" width="18.7" height="3.2" fill="#025497" stroke="#000" stroke-width="2.7" />
<rect x="467.1" y="1610.8" width="18.8" height="3.2" fill="#e4e4e4" stroke="#000" stroke-width="2.7" />
<rect x="488.6" y="1610.8" width="18.8" height="3.2" fill="#025497" stroke="#000" stroke-width="2.7" />
<rect x="533.4" y="1461.1" width="18.1" height="152.9" fill="#e4e4e4" stroke="#000" stroke-width="2.7" />
<rect x="554.1" y="1575.8" width="19.5" height="38.3" fill="#025497" stroke="#000" stroke-width="2.7" />
<rect x="598.4" y="1611.8" width="18.7" height="2.2" fill="#e4e4e4" stroke="#000" stroke-width="2.7" />
<rect x="619.8" y="1609.3" width="19.8" height="4.7" fill="#025497" stroke="#000" stroke-width="2.7" />
<line x1="542" y1="1429" x2="542" y2="1492" stroke="#000" stroke-width="2.8" />
<line x1="537" y1="1429" x2="547" y2="1429" stroke="#000" stroke-width="2.8" />
<line x1="537" y1="1492" x2="547" y2="1492" stroke="#000" stroke-width="2.8" />
<line x1="563.5" y1="1557.7" x2="563.5" y2="1592" stroke="#000" stroke-width="2.8" />
<line x1="558.5" y1="1557.7" x2="568.5" y2="1557.7" stroke="#000" stroke-width="2.8" />
<line x1="558.5" y1="1592" x2="568.5" y2="1592" stroke="#000" stroke-width="2.8" />
<circle cx="403" cy="1610" r="4.7" fill="#000"/>
<circle cx="410" cy="1607.5" r="4.7" fill="#000"/>
<circle cx="416" cy="1610" r="4.7" fill="#000"/>
<circle cx="425" cy="1611" r="4.7" fill="#000"/>
<circle cx="432" cy="1607.5" r="4.7" fill="#000"/>
<circle cx="439" cy="1610" r="4.7" fill="#000"/>
<circle cx="469" cy="1609" r="4.7" fill="#000"/>
<circle cx="476" cy="1607.5" r="4.7" fill="#000"/>
<circle cx="483" cy="1608" r="4.7" fill="#000"/>
<circle cx="490" cy="1610.5" r="4.7" fill="#000"/>
<circle cx="498" cy="1608.5" r="4.7" fill="#000"/>
<circle cx="505" cy="1609" r="4.7" fill="#000"/>
<circle cx="542" cy="1435.5" r="4.7" fill="#000"/>
<circle cx="542" cy="1450" r="4.7" fill="#000"/>
<circle cx="542" cy="1492" r="4.7" fill="#000"/>
<circle cx="556.5" cy="1562" r="4.7" fill="#000"/>
<circle cx="571.5" cy="1568" r="4.7" fill="#000"/>
<circle cx="563.5" cy="1592" r="4.7" fill="#000"/>
<circle cx="600" cy="1611" r="4.7" fill="#000"/>
<circle cx="607" cy="1608" r="4.7" fill="#000"/>
<circle cx="614" cy="1610" r="4.7" fill="#000"/>
<circle cx="622.7" cy="1599.6" r="4.7" fill="#000"/>
<circle cx="627" cy="1609" r="4.7" fill="#000"/>
<circle cx="634" cy="1609" r="4.7" fill="#000"/>
<line x1="388.2" y1="1615.1" x2="388.2" y2="1345.9" stroke="#000" stroke-width="3.0" />
<line x1="380.4" y1="1613.6" x2="652.7" y2="1613.6" stroke="#000" stroke-width="3.0" />
<line x1="380.4" y1="1613.6" x2="388.2" y2="1613.6" stroke="#000" stroke-width="3.0" />
<text x="374" y="1622.6" font-size="25.5" text-anchor="end" stroke="#000" stroke-width="0.56" >0</text>
<line x1="380.4" y1="1524.5" x2="388.2" y2="1524.5" stroke="#000" stroke-width="3.0" />
<text x="374" y="1533.5" font-size="25.5" text-anchor="end" stroke="#000" stroke-width="0.56" >5</text>
<line x1="380.4" y1="1435.5" x2="388.2" y2="1435.5" stroke="#000" stroke-width="3.0" />
<text x="374" y="1444.5" font-size="25.5" text-anchor="end" textLength="22.5" lengthAdjust="spacingAndGlyphs" stroke="#000" stroke-width="0.56" >10</text>
<line x1="380.4" y1="1346.4" x2="388.2" y2="1346.4" stroke="#000" stroke-width="3.0" />
<text x="374" y="1355.4" font-size="25.5" text-anchor="end" textLength="22.5" lengthAdjust="spacingAndGlyphs" stroke="#000" stroke-width="0.56" >15</text>
<line x1="421.6" y1="1613.6" x2="421.6" y2="1622.6" stroke="#000" stroke-width="3.0" />
<line x1="487.2" y1="1613.6" x2="487.2" y2="1622.6" stroke="#000" stroke-width="3.0" />
<line x1="552.8" y1="1613.6" x2="552.8" y2="1622.6" stroke="#000" stroke-width="3.0" />
<line x1="618.4" y1="1613.6" x2="618.4" y2="1622.6" stroke="#000" stroke-width="3.0" />
<line x1="542.7" y1="1416.1" x2="567.9" y2="1416.1" stroke="#000" stroke-width="2.2" />
<text x="555.3" y="1423.1" font-size="25" text-anchor="middle" font-weight="bold" >**</text>
<text x="433.1" y="1634.6" font-size="26" text-anchor="end" transform="rotate(-45 433.1 1634.6)" stroke="#000" stroke-width="0.57" >mock</text>
<text x="498.7" y="1634.6" font-size="26" text-anchor="end" transform="rotate(-45 498.7 1634.6)" stroke="#000" stroke-width="0.57" >PltB<tspan font-size="0.78em" dy="-0.28em">S35A</tspan></text>
<text x="564.3" y="1634.6" font-size="26" text-anchor="end" transform="rotate(-45 564.3 1634.6)" stroke="#000" stroke-width="0.57" >WT</text>
<text x="629.9" y="1634.6" font-size="26" text-anchor="end" transform="rotate(-45 629.9 1634.6)" stroke="#000" stroke-width="0.57" >CdtB<tspan font-size="0.78em" dy="-0.28em">H160Q</tspan></text>
<rect x="400.8" y="1352.8" width="8.7" height="8.7" fill="#e4e4e4" stroke="#000" stroke-width="2.5" />
<text x="414.7" y="1364.3" font-size="23.5" textLength="67.8" lengthAdjust="spacingAndGlyphs" stroke="#000" stroke-width="0.52" >DMSO</text>
<rect x="400.8" y="1378.8" width="8.7" height="8.7" fill="#025497" stroke="#000" stroke-width="2.5" />
<text x="414.7" y="1390.3" font-size="23.5" textLength="59.6" lengthAdjust="spacingAndGlyphs" stroke="#000" stroke-width="0.52" >MitoQ</text>
<text x="513" y="1317.8" font-size="30.5" font-style="italic" textLength="33.3" lengthAdjust="spacingAndGlyphs" stroke="#000" stroke-width="0.67" >Il8</text>
<rect x="704.6" y="1592.3" width="18.4" height="21.7" fill="#e4e4e4" stroke="#000" stroke-width="2.7" />
<rect x="725.8" y="1588" width="19.2" height="26" fill="#025497" stroke="#000" stroke-width="2.7" />
<rect x="770.2" y="1595.3" width="18.8" height="18.7" fill="#e4e4e4" stroke="#000" stroke-width="2.7" />
<rect x="791.8" y="1593.3" width="18.9" height="20.7" fill="#025497" stroke="#000" stroke-width="2.7" />
<rect x="837" y="1466.4" width="18.2" height="147.7" fill="#e4e4e4" stroke="#000" stroke-width="2.7" />
<rect x="857.9" y="1579.3" width="18.3" height="34.7" fill="#025497" stroke="#000" stroke-width="2.7" />
<rect x="902.1" y="1600.9" width="18.8" height="13.2" fill="#e4e4e4" stroke="#000" stroke-width="2.7" />
<rect x="923.6" y="1600.9" width="19" height="13.2" fill="#025497" stroke="#000" stroke-width="2.7" />
<line x1="713.8" y1="1588" x2="713.8" y2="1597" stroke="#000" stroke-width="2.8" />
<line x1="709.3" y1="1588" x2="718.3" y2="1588" stroke="#000" stroke-width="2.8" />
<line x1="709.3" y1="1597" x2="718.3" y2="1597" stroke="#000" stroke-width="2.8" />
<line x1="735.5" y1="1570.6" x2="735.5" y2="1600" stroke="#000" stroke-width="2.8" />
<line x1="730.5" y1="1570.6" x2="740.5" y2="1570.6" stroke="#000" stroke-width="2.8" />
<line x1="730.5" y1="1600" x2="740.5" y2="1600" stroke="#000" stroke-width="2.8" />
<line x1="779.7" y1="1591" x2="779.7" y2="1599" stroke="#000" stroke-width="2.8" />
<line x1="775.2" y1="1591" x2="784.2" y2="1591" stroke="#000" stroke-width="2.8" />
<line x1="775.2" y1="1599" x2="784.2" y2="1599" stroke="#000" stroke-width="2.8" />
<line x1="801.2" y1="1586" x2="801.2" y2="1598" stroke="#000" stroke-width="2.8" />
<line x1="796.7" y1="1586" x2="805.7" y2="1586" stroke="#000" stroke-width="2.8" />
<line x1="796.7" y1="1598" x2="805.7" y2="1598" stroke="#000" stroke-width="2.8" />
<line x1="845.3" y1="1398.5" x2="845.3" y2="1526.5" stroke="#000" stroke-width="2.8" />
<line x1="840.3" y1="1398.5" x2="850.3" y2="1398.5" stroke="#000" stroke-width="2.8" />
<line x1="840.3" y1="1526.5" x2="850.3" y2="1526.5" stroke="#000" stroke-width="2.8" />
<line x1="866.8" y1="1566.3" x2="866.8" y2="1582" stroke="#000" stroke-width="2.8" />
<line x1="861.8" y1="1566.3" x2="871.8" y2="1566.3" stroke="#000" stroke-width="2.8" />
<line x1="861.8" y1="1582" x2="871.8" y2="1582" stroke="#000" stroke-width="2.8" />
<line x1="910.9" y1="1593" x2="910.9" y2="1604" stroke="#000" stroke-width="2.8" />
<line x1="906.4" y1="1593" x2="915.4" y2="1593" stroke="#000" stroke-width="2.8" />
<line x1="906.4" y1="1604" x2="915.4" y2="1604" stroke="#000" stroke-width="2.8" />
<line x1="928" y1="1589" x2="928" y2="1600" stroke="#000" stroke-width="2.8" />
<line x1="923.5" y1="1589" x2="932.5" y2="1589" stroke="#000" stroke-width="2.8" />
<line x1="923.5" y1="1600" x2="932.5" y2="1600" stroke="#000" stroke-width="2.8" />
<circle cx="705.4" cy="1592" r="4.7" fill="#000"/>
<circle cx="705.4" cy="1603" r="4.7" fill="#000"/>
<circle cx="712" cy="1590" r="4.7" fill="#000"/>
<circle cx="720" cy="1592" r="4.7" fill="#000"/>
<circle cx="735.5" cy="1570.6" r="4.7" fill="#000"/>
<circle cx="735.5" cy="1590" r="4.7" fill="#000"/>
<circle cx="735.5" cy="1598.6" r="4.7" fill="#000"/>
<circle cx="772" cy="1596" r="4.7" fill="#000"/>
<circle cx="772" cy="1603" r="4.7" fill="#000"/>
<circle cx="775.3" cy="1594" r="4.7" fill="#000"/>
<circle cx="794.7" cy="1585.6" r="4.7" fill="#000"/>
<circle cx="801.2" cy="1599.6" r="4.7" fill="#000"/>
<circle cx="809.8" cy="1591" r="4.7" fill="#000"/>
<circle cx="845.3" cy="1398.5" r="4.7" fill="#000"/>
<circle cx="845.3" cy="1473.7" r="4.7" fill="#000"/>
<circle cx="845.3" cy="1521" r="4.7" fill="#000"/>
<circle cx="866.8" cy="1566.3" r="4.7" fill="#000"/>
<circle cx="860.3" cy="1582.4" r="4.7" fill="#000"/>
<circle cx="875.4" cy="1580.3" r="4.7" fill="#000"/>
<circle cx="903.4" cy="1593" r="4.7" fill="#000"/>
<circle cx="910.9" cy="1607" r="4.7" fill="#000"/>
<circle cx="917.3" cy="1597.5" r="4.7" fill="#000"/>
<circle cx="924.9" cy="1588.8" r="4.7" fill="#000"/>
<circle cx="928" cy="1599.6" r="4.7" fill="#000"/>
<line x1="692.1" y1="1615.1" x2="692.1" y2="1344.2" stroke="#000" stroke-width="3.0" />
<line x1="684.3" y1="1613.6" x2="956.4" y2="1613.6" stroke="#000" stroke-width="3.0" />
<line x1="684.3" y1="1613.6" x2="692.1" y2="1613.6" stroke="#000" stroke-width="3.0" />
<text x="679" y="1622.6" font-size="25.5" text-anchor="end" stroke="#000" stroke-width="0.56" >0</text>
<line x1="684.3" y1="1524" x2="692.1" y2="1524" stroke="#000" stroke-width="3.0" />
<text x="679" y="1533" font-size="25.5" text-anchor="end" stroke="#000" stroke-width="0.56" >5</text>
<line x1="684.3" y1="1434.3" x2="692.1" y2="1434.3" stroke="#000" stroke-width="3.0" />
<text x="679" y="1443.3" font-size="25.5" text-anchor="end" textLength="22.5" lengthAdjust="spacingAndGlyphs" stroke="#000" stroke-width="0.56" >10</text>
<line x1="684.3" y1="1344.7" x2="692.1" y2="1344.7" stroke="#000" stroke-width="3.0" />
<text x="679" y="1353.7" font-size="25.5" text-anchor="end" textLength="22.5" lengthAdjust="spacingAndGlyphs" stroke="#000" stroke-width="0.56" >15</text>
<line x1="724.4" y1="1613.6" x2="724.4" y2="1622.6" stroke="#000" stroke-width="3.0" />
<line x1="790.4" y1="1613.6" x2="790.4" y2="1622.6" stroke="#000" stroke-width="3.0" />
<line x1="856" y1="1613.6" x2="856" y2="1622.6" stroke="#000" stroke-width="3.0" />
<line x1="922.3" y1="1613.6" x2="922.3" y2="1622.6" stroke="#000" stroke-width="3.0" />
<line x1="844.2" y1="1374.8" x2="870" y2="1374.8" stroke="#000" stroke-width="2.2" />
<text x="857" y="1381.8" font-size="25" text-anchor="middle" font-weight="bold" >*</text>
<text x="735.9" y="1634.6" font-size="26" text-anchor="end" transform="rotate(-45 735.9 1634.6)" stroke="#000" stroke-width="0.57" >mock</text>
<text x="801.9" y="1634.6" font-size="26" text-anchor="end" transform="rotate(-45 801.9 1634.6)" stroke="#000" stroke-width="0.57" >PltB<tspan font-size="0.78em" dy="-0.28em">S35A</tspan></text>
<text x="867.5" y="1634.6" font-size="26" text-anchor="end" transform="rotate(-45 867.5 1634.6)" stroke="#000" stroke-width="0.57" >WT</text>
<text x="933.8" y="1634.6" font-size="26" text-anchor="end" transform="rotate(-45 933.8 1634.6)" stroke="#000" stroke-width="0.57" >CdtB<tspan font-size="0.78em" dy="-0.28em">H160Q</tspan></text>
<rect x="697.5" y="1352.5" width="8.7" height="8.7" fill="#e4e4e4" stroke="#000" stroke-width="2.5" />
<text x="711.5" y="1364.1" font-size="23.5" textLength="67.8" lengthAdjust="spacingAndGlyphs" stroke="#000" stroke-width="0.52" >DMSO</text>
<rect x="697.5" y="1378.5" width="8.7" height="8.7" fill="#025497" stroke="#000" stroke-width="2.5" />
<text x="711.5" y="1390.1" font-size="23.5" textLength="59.6" lengthAdjust="spacingAndGlyphs" stroke="#000" stroke-width="0.52" >MitoQ</text>
<text x="810.8" y="1317.8" font-size="30.5" font-style="italic" textLength="49.5" lengthAdjust="spacingAndGlyphs" stroke="#000" stroke-width="0.67" >Il1b</text>
<rect x="1002.4" y="1565" width="18.5" height="49" fill="#e4e4e4" stroke="#000" stroke-width="2.7" />
<rect x="1023.6" y="1574" width="19.2" height="40" fill="#025497" stroke="#000" stroke-width="2.7" />
<rect x="1068.8" y="1561.1" width="18.2" height="52.9" fill="#e4e4e4" stroke="#000" stroke-width="2.7" />
<rect x="1089.6" y="1580" width="18.8" height="34" fill="#025497" stroke="#000" stroke-width="2.7" />
<rect x="1133.8" y="1440.6" width="18.8" height="173.4" fill="#e4e4e4" stroke="#000" stroke-width="2.7" />
<rect x="1155.2" y="1577.3" width="19.2" height="36.7" fill="#025497" stroke="#000" stroke-width="2.7" />
<rect x="1200.3" y="1574" width="16.3" height="40" fill="#e4e4e4" stroke="#000" stroke-width="2.7" />
<rect x="1219.3" y="1588" width="19.3" height="26" fill="#025497" stroke="#000" stroke-width="2.7" />
<line x1="1010.8" y1="1551" x2="1010.8" y2="1572" stroke="#000" stroke-width="2.8" />
<line x1="1005.8" y1="1551" x2="1015.8" y2="1551" stroke="#000" stroke-width="2.8" />
<line x1="1005.8" y1="1572" x2="1015.8" y2="1572" stroke="#000" stroke-width="2.8" />
<line x1="1033.4" y1="1546" x2="1033.4" y2="1590" stroke="#000" stroke-width="2.8" />
<line x1="1028.4" y1="1546" x2="1038.4" y2="1546" stroke="#000" stroke-width="2.8" />
<line x1="1028.4" y1="1590" x2="1038.4" y2="1590" stroke="#000" stroke-width="2.8" />
<line x1="1077.5" y1="1556" x2="1077.5" y2="1563" stroke="#000" stroke-width="2.8" />
<line x1="1072.5" y1="1556" x2="1082.5" y2="1556" stroke="#000" stroke-width="2.8" />
<line x1="1072.5" y1="1563" x2="1082.5" y2="1563" stroke="#000" stroke-width="2.8" />
<line x1="1099" y1="1563" x2="1099" y2="1588" stroke="#000" stroke-width="2.8" />
<line x1="1094" y1="1563" x2="1104" y2="1563" stroke="#000" stroke-width="2.8" />
<line x1="1094" y1="1588" x2="1104" y2="1588" stroke="#000" stroke-width="2.8" />
<line x1="1143" y1="1373.7" x2="1143" y2="1502.8" stroke="#000" stroke-width="2.8" />
<line x1="1138" y1="1373.7" x2="1148" y2="1373.7" stroke="#000" stroke-width="2.8" />
<line x1="1138" y1="1502.8" x2="1148" y2="1502.8" stroke="#000" stroke-width="2.8" />
<line x1="1164.6" y1="1571" x2="1164.6" y2="1580" stroke="#000" stroke-width="2.8" />
<line x1="1159.6" y1="1571" x2="1169.6" y2="1571" stroke="#000" stroke-width="2.8" />
<line x1="1159.6" y1="1580" x2="1169.6" y2="1580" stroke="#000" stroke-width="2.8" />
<line x1="1208.5" y1="1565" x2="1208.5" y2="1578" stroke="#000" stroke-width="2.8" />
<line x1="1203.5" y1="1565" x2="1213.5" y2="1565" stroke="#000" stroke-width="2.8" />
<line x1="1203.5" y1="1578" x2="1213.5" y2="1578" stroke="#000" stroke-width="2.8" />
<line x1="1229" y1="1584" x2="1229" y2="1596" stroke="#000" stroke-width="2.8" />
<line x1="1224" y1="1584" x2="1234" y2="1584" stroke="#000" stroke-width="2.8" />
<line x1="1224" y1="1596" x2="1234" y2="1596" stroke="#000" stroke-width="2.8" />
<circle cx="1010.8" cy="1549" r="4.7" fill="#000"/>
<circle cx="1010.8" cy="1562" r="4.7" fill="#000"/>
<circle cx="1010.8" cy="1573.8" r="4.7" fill="#000"/>
<circle cx="1033.4" cy="1545.8" r="4.7" fill="#000"/>
<circle cx="1033.4" cy="1578" r="4.7" fill="#000"/>
<circle cx="1033.4" cy="1588.8" r="4.7" fill="#000"/>
<circle cx="1070" cy="1563" r="4.7" fill="#000"/>
<circle cx="1077.5" cy="1555.5" r="4.7" fill="#000"/>
<circle cx="1085" cy="1556.6" r="4.7" fill="#000"/>
<circle cx="1099" cy="1563" r="4.7" fill="#000"/>
<circle cx="1091.5" cy="1585.6" r="4.7" fill="#000"/>
<circle cx="1106.5" cy="1585.6" r="4.7" fill="#000"/>
<circle cx="1143" cy="1381.7" r="4.7" fill="#000"/>
<circle cx="1143" cy="1423.8" r="4.7" fill="#000"/>
<circle cx="1143" cy="1509.3" r="4.7" fill="#000"/>
<circle cx="1157.1" cy="1579" r="4.7" fill="#000"/>
<circle cx="1164.6" cy="1571.6" r="4.7" fill="#000"/>
<circle cx="1172.2" cy="1572.6" r="4.7" fill="#000"/>
<circle cx="1201.2" cy="1565" r="4.7" fill="#000"/>
<circle cx="1201.2" cy="1578" r="4.7" fill="#000"/>
<circle cx="1215.2" cy="1570.6" r="4.7" fill="#000"/>
<circle cx="1224.9" cy="1585.6" r="4.7" fill="#000"/>
<circle cx="1224.9" cy="1594" r="4.7" fill="#000"/>
<circle cx="1236" cy="1588" r="4.7" fill="#000"/>
<line x1="989.3" y1="1615.1" x2="989.3" y2="1345.2" stroke="#000" stroke-width="3.0" />
<line x1="981.5" y1="1613.6" x2="1253.8" y2="1613.6" stroke="#000" stroke-width="3.0" />
<line x1="981.5" y1="1613.6" x2="989.3" y2="1613.6" stroke="#000" stroke-width="3.0" />
<text x="978" y="1622.6" font-size="25.5" text-anchor="end" stroke="#000" stroke-width="0.56" >0</text>
<line x1="981.5" y1="1524.3" x2="989.3" y2="1524.3" stroke="#000" stroke-width="3.0" />
<text x="978" y="1533.3" font-size="25.5" text-anchor="end" stroke="#000" stroke-width="0.56" >2</text>
<line x1="981.5" y1="1435" x2="989.3" y2="1435" stroke="#000" stroke-width="3.0" />
<text x="978" y="1444" font-size="25.5" text-anchor="end" stroke="#000" stroke-width="0.56" >4</text>
<line x1="981.5" y1="1345.7" x2="989.3" y2="1345.7" stroke="#000" stroke-width="3.0" />
<text x="978" y="1354.7" font-size="25.5" text-anchor="end" stroke="#000" stroke-width="0.56" >6</text>
<line x1="1022.2" y1="1613.6" x2="1022.2" y2="1622.6" stroke="#000" stroke-width="3.0" />
<line x1="1087.6" y1="1613.6" x2="1087.6" y2="1622.6" stroke="#000" stroke-width="3.0" />
<line x1="1153.4" y1="1613.6" x2="1153.4" y2="1622.6" stroke="#000" stroke-width="3.0" />
<line x1="1218.4" y1="1613.6" x2="1218.4" y2="1622.6" stroke="#000" stroke-width="3.0" />
<line x1="1143" y1="1359" x2="1169" y2="1359" stroke="#000" stroke-width="2.2" />
<text x="1156" y="1366" font-size="25" text-anchor="middle" font-weight="bold" >*</text>
<text x="1033.7" y="1634.6" font-size="26" text-anchor="end" transform="rotate(-45 1033.7 1634.6)" stroke="#000" stroke-width="0.57" >mock</text>
<text x="1099.1" y="1634.6" font-size="26" text-anchor="end" transform="rotate(-45 1099.1 1634.6)" stroke="#000" stroke-width="0.57" >PltB<tspan font-size="0.78em" dy="-0.28em">S35A</tspan></text>
<text x="1164.9" y="1634.6" font-size="26" text-anchor="end" transform="rotate(-45 1164.9 1634.6)" stroke="#000" stroke-width="0.57" >WT</text>
<text x="1229.9" y="1634.6" font-size="26" text-anchor="end" transform="rotate(-45 1229.9 1634.6)" stroke="#000" stroke-width="0.57" >CdtB<tspan font-size="0.78em" dy="-0.28em">H160Q</tspan></text>
<rect x="997.5" y="1352.5" width="8.7" height="8.7" fill="#e4e4e4" stroke="#000" stroke-width="2.5" />
<text x="1011.5" y="1364.1" font-size="23.5" textLength="67.8" lengthAdjust="spacingAndGlyphs" stroke="#000" stroke-width="0.52" >DMSO</text>
<rect x="997.5" y="1378.5" width="8.7" height="8.7" fill="#025497" stroke="#000" stroke-width="2.5" />
<text x="1011.5" y="1390.1" font-size="23.5" textLength="59.6" lengthAdjust="spacingAndGlyphs" stroke="#000" stroke-width="0.52" >MitoQ</text>
<text x="1110.4" y="1317.8" font-size="30.5" font-style="italic" textLength="49.9" lengthAdjust="spacingAndGlyphs" stroke="#000" stroke-width="0.67" >Il18</text>
<rect x="1301.3" y="1571.6" width="17.7" height="42.1" fill="#e4e4e4" stroke="#000" stroke-width="2.7" />
<rect x="1321.8" y="1555.8" width="19.1" height="58" fill="#025497" stroke="#000" stroke-width="2.7" />
<rect x="1366.6" y="1574.6" width="18.5" height="39.1" fill="#e4e4e4" stroke="#000" stroke-width="2.7" />
<rect x="1387.8" y="1589" width="18.8" height="24.7" fill="#025497" stroke="#000" stroke-width="2.7" />
<rect x="1432.8" y="1429.9" width="18.3" height="183.9" fill="#e4e4e4" stroke="#000" stroke-width="2.7" />
<rect x="1453.8" y="1554.1" width="19" height="59.6" fill="#025497" stroke="#000" stroke-width="2.7" />
<rect x="1498" y="1570.3" width="18.3" height="43.4" fill="#e4e4e4" stroke="#000" stroke-width="2.7" />
<rect x="1519" y="1562.6" width="19.1" height="51.1" fill="#025497" stroke="#000" stroke-width="2.7" />
<line x1="1310" y1="1539" x2="1310" y2="1599" stroke="#000" stroke-width="2.8" />
<line x1="1305" y1="1539" x2="1315" y2="1539" stroke="#000" stroke-width="2.8" />
<line x1="1305" y1="1599" x2="1315" y2="1599" stroke="#000" stroke-width="2.8" />
<line x1="1331.2" y1="1545" x2="1331.2" y2="1563" stroke="#000" stroke-width="2.8" />
<line x1="1326.2" y1="1545" x2="1336.2" y2="1545" stroke="#000" stroke-width="2.8" />
<line x1="1326.2" y1="1563" x2="1336.2" y2="1563" stroke="#000" stroke-width="2.8" />
<line x1="1376" y1="1563" x2="1376" y2="1574" stroke="#000" stroke-width="2.8" />
<line x1="1371" y1="1563" x2="1381" y2="1563" stroke="#000" stroke-width="2.8" />
<line x1="1371" y1="1574" x2="1381" y2="1574" stroke="#000" stroke-width="2.8" />
<line x1="1397.3" y1="1580" x2="1397.3" y2="1592" stroke="#000" stroke-width="2.8" />
<line x1="1392.3" y1="1580" x2="1402.3" y2="1580" stroke="#000" stroke-width="2.8" />
<line x1="1392.3" y1="1592" x2="1402.3" y2="1592" stroke="#000" stroke-width="2.8" />
<line x1="1440.8" y1="1368.4" x2="1440.8" y2="1487" stroke="#000" stroke-width="2.8" />
<line x1="1435.8" y1="1368.4" x2="1445.8" y2="1368.4" stroke="#000" stroke-width="2.8" />
<line x1="1435.8" y1="1487" x2="1445.8" y2="1487" stroke="#000" stroke-width="2.8" />
<line x1="1463" y1="1544" x2="1463" y2="1563" stroke="#000" stroke-width="2.8" />
<line x1="1458" y1="1544" x2="1468" y2="1544" stroke="#000" stroke-width="2.8" />
<line x1="1458" y1="1563" x2="1468" y2="1563" stroke="#000" stroke-width="2.8" />
<line x1="1507" y1="1556" x2="1507" y2="1582" stroke="#000" stroke-width="2.8" />
<line x1="1502" y1="1556" x2="1512" y2="1556" stroke="#000" stroke-width="2.8" />
<line x1="1502" y1="1582" x2="1512" y2="1582" stroke="#000" stroke-width="2.8" />
<line x1="1528.5" y1="1540" x2="1528.5" y2="1580" stroke="#000" stroke-width="2.8" />
<line x1="1523.5" y1="1540" x2="1533.5" y2="1540" stroke="#000" stroke-width="2.8" />
<line x1="1523.5" y1="1580" x2="1533.5" y2="1580" stroke="#000" stroke-width="2.8" />
<circle cx="1302" cy="1547.7" r="4.7" fill="#000"/>
<circle cx="1316.6" cy="1555" r="4.7" fill="#000"/>
<circle cx="1309.7" cy="1603.6" r="4.7" fill="#000"/>
<circle cx="1331.2" cy="1540.3" r="4.7" fill="#000"/>
<circle cx="1325.5" cy="1560" r="4.7" fill="#000"/>
<circle cx="1338.4" cy="1560" r="4.7" fill="#000"/>
<circle cx="1367.8" cy="1560.5" r="4.7" fill="#000"/>
<circle cx="1367.8" cy="1570.3" r="4.7" fill="#000"/>
<circle cx="1382.4" cy="1568.2" r="4.7" fill="#000"/>
<circle cx="1390.9" cy="1581.8" r="4.7" fill="#000"/>
<circle cx="1405" cy="1581.8" r="4.7" fill="#000"/>
<circle cx="1397.3" cy="1594.6" r="4.7" fill="#000"/>
<circle cx="1440.8" cy="1372.5" r="4.7" fill="#000"/>
<circle cx="1440.8" cy="1417" r="4.7" fill="#000"/>
<circle cx="1440.8" cy="1491.3" r="4.7" fill="#000"/>
<circle cx="1462.6" cy="1539.5" r="4.7" fill="#000"/>
<circle cx="1456.2" cy="1560" r="4.7" fill="#000"/>
<circle cx="1470.3" cy="1554.9" r="4.7" fill="#000"/>
<circle cx="1499.8" cy="1559.2" r="4.7" fill="#000"/>
<circle cx="1513.9" cy="1562.6" r="4.7" fill="#000"/>
<circle cx="1506.2" cy="1583" r="4.7" fill="#000"/>
<circle cx="1521.5" cy="1546" r="4.7" fill="#000"/>
<circle cx="1536.2" cy="1552.8" r="4.7" fill="#000"/>
<circle cx="1528.5" cy="1584.4" r="4.7" fill="#000"/>
<line x1="1287.9" y1="1614.8" x2="1287.9" y2="1344.8" stroke="#000" stroke-width="3.0" />
<line x1="1280.1" y1="1613.3" x2="1552.3" y2="1613.3" stroke="#000" stroke-width="3.0" />
<line x1="1280.1" y1="1613.3" x2="1287.9" y2="1613.3" stroke="#000" stroke-width="3.0" />
<text x="1275" y="1622.3" font-size="25.5" text-anchor="end" stroke="#000" stroke-width="0.56" >0</text>
<line x1="1280.1" y1="1559.7" x2="1287.9" y2="1559.7" stroke="#000" stroke-width="3.0" />
<text x="1275" y="1568.7" font-size="25.5" text-anchor="end" stroke="#000" stroke-width="0.56" >1</text>
<line x1="1280.1" y1="1506.1" x2="1287.9" y2="1506.1" stroke="#000" stroke-width="3.0" />
<text x="1275" y="1515.1" font-size="25.5" text-anchor="end" stroke="#000" stroke-width="0.56" >2</text>
<line x1="1280.1" y1="1452.5" x2="1287.9" y2="1452.5" stroke="#000" stroke-width="3.0" />
<text x="1275" y="1461.5" font-size="25.5" text-anchor="end" stroke="#000" stroke-width="0.56" >3</text>
<line x1="1280.1" y1="1398.9" x2="1287.9" y2="1398.9" stroke="#000" stroke-width="3.0" />
<text x="1275" y="1407.9" font-size="25.5" text-anchor="end" stroke="#000" stroke-width="0.56" >4</text>
<line x1="1280.1" y1="1345.3" x2="1287.9" y2="1345.3" stroke="#000" stroke-width="3.0" />
<text x="1275" y="1354.3" font-size="25.5" text-anchor="end" stroke="#000" stroke-width="0.56" >5</text>
<line x1="1319.7" y1="1613.3" x2="1319.7" y2="1622.3" stroke="#000" stroke-width="3.0" />
<line x1="1386.3" y1="1613.3" x2="1386.3" y2="1622.3" stroke="#000" stroke-width="3.0" />
<line x1="1451.6" y1="1613.3" x2="1451.6" y2="1622.3" stroke="#000" stroke-width="3.0" />
<line x1="1517.7" y1="1613.3" x2="1517.7" y2="1622.3" stroke="#000" stroke-width="3.0" />
<line x1="1440.8" y1="1357.6" x2="1467" y2="1357.6" stroke="#000" stroke-width="2.2" />
<text x="1453.9" y="1364.6" font-size="25" text-anchor="middle" font-weight="bold" >*</text>
<text x="1331.2" y="1634.3" font-size="26" text-anchor="end" transform="rotate(-45 1331.2 1634.3)" stroke="#000" stroke-width="0.57" >mock</text>
<text x="1397.8" y="1634.3" font-size="26" text-anchor="end" transform="rotate(-45 1397.8 1634.3)" stroke="#000" stroke-width="0.57" >PltB<tspan font-size="0.78em" dy="-0.28em">S35A</tspan></text>
<text x="1463.1" y="1634.3" font-size="26" text-anchor="end" transform="rotate(-45 1463.1 1634.3)" stroke="#000" stroke-width="0.57" >WT</text>
<text x="1529.2" y="1634.3" font-size="26" text-anchor="end" transform="rotate(-45 1529.2 1634.3)" stroke="#000" stroke-width="0.57" >CdtB<tspan font-size="0.78em" dy="-0.28em">H160Q</tspan></text>
<rect x="1295" y="1351" width="8.7" height="8.7" fill="#e4e4e4" stroke="#000" stroke-width="2.5" />
<text x="1309" y="1362.5" font-size="23.5" textLength="67.8" lengthAdjust="spacingAndGlyphs" stroke="#000" stroke-width="0.52" >DMSO</text>
<rect x="1295" y="1377" width="8.7" height="8.7" fill="#025497" stroke="#000" stroke-width="2.5" />
<text x="1309" y="1388.5" font-size="23.5" textLength="59.6" lengthAdjust="spacingAndGlyphs" stroke="#000" stroke-width="0.52" >MitoQ</text>
<text x="1402.4" y="1317.8" font-size="30.5" font-style="italic" textLength="42.3" lengthAdjust="spacingAndGlyphs" stroke="#000" stroke-width="0.67" >Tnf</text>
<rect x="103.5" y="1999.3" width="16.7" height="57.1" fill="#e4e4e4" stroke="#000" stroke-width="2.7" />
<rect x="122.9" y="2014.3" width="19.4" height="42.1" fill="#025497" stroke="#000" stroke-width="2.7" />
<rect x="167" y="2020.8" width="17.7" height="35.6" fill="#e4e4e4" stroke="#000" stroke-width="2.7" />
<rect x="187.4" y="2012.2" width="18.8" height="44.2" fill="#025497" stroke="#000" stroke-width="2.7" />
<rect x="230.4" y="1885.9" width="18.8" height="170.6" fill="#e4e4e4" stroke="#000" stroke-width="2.7" />
<rect x="251.9" y="2023.6" width="18.2" height="32.9" fill="#025497" stroke="#000" stroke-width="2.7" />
<rect x="295.1" y="2030.5" width="18.8" height="25.9" fill="#e4e4e4" stroke="#000" stroke-width="2.7" />
<rect x="316.6" y="1973.5" width="18.6" height="82.9" fill="#025497" stroke="#000" stroke-width="2.7" />
<line x1="133.4" y1="1996" x2="133.4" y2="2030" stroke="#000" stroke-width="2.8" />
<line x1="128.4" y1="1996" x2="138.4" y2="1996" stroke="#000" stroke-width="2.8" />
<line x1="128.4" y1="2030" x2="138.4" y2="2030" stroke="#000" stroke-width="2.8" />
<line x1="176" y1="2006" x2="176" y2="2025" stroke="#000" stroke-width="2.8" />
<line x1="171" y1="2006" x2="181" y2="2006" stroke="#000" stroke-width="2.8" />
<line x1="171" y1="2025" x2="181" y2="2025" stroke="#000" stroke-width="2.8" />
<line x1="196.9" y1="1994" x2="196.9" y2="2022" stroke="#000" stroke-width="2.8" />
<line x1="191.9" y1="1994" x2="201.9" y2="1994" stroke="#000" stroke-width="2.8" />
<line x1="191.9" y1="2022" x2="201.9" y2="2022" stroke="#000" stroke-width="2.8" />
<line x1="239.9" y1="1830.2" x2="239.9" y2="1936.7" stroke="#000" stroke-width="2.8" />
<line x1="234.9" y1="1830.2" x2="244.9" y2="1830.2" stroke="#000" stroke-width="2.8" />
<line x1="234.9" y1="1936.7" x2="244.9" y2="1936.7" stroke="#000" stroke-width="2.8" />
<line x1="261.4" y1="2013" x2="261.4" y2="2029" stroke="#000" stroke-width="2.8" />
<line x1="256.4" y1="2013" x2="266.4" y2="2013" stroke="#000" stroke-width="2.8" />
<line x1="256.4" y1="2029" x2="266.4" y2="2029" stroke="#000" stroke-width="2.8" />
<line x1="303.8" y1="2020" x2="303.8" y2="2038" stroke="#000" stroke-width="2.8" />
<line x1="298.8" y1="2020" x2="308.8" y2="2020" stroke="#000" stroke-width="2.8" />
<line x1="298.8" y1="2038" x2="308.8" y2="2038" stroke="#000" stroke-width="2.8" />
<line x1="324.9" y1="1931.9" x2="324.9" y2="2013" stroke="#000" stroke-width="2.8" />
<line x1="319.9" y1="1931.9" x2="329.9" y2="1931.9" stroke="#000" stroke-width="2.8" />
<line x1="319.9" y1="2013" x2="329.9" y2="2013" stroke="#000" stroke-width="2.8" />
<circle cx="104.3" cy="1998" r="4.7" fill="#000"/>
<circle cx="111.9" cy="1992.6" r="4.7" fill="#000"/>
<circle cx="119.4" cy="1993.7" r="4.7" fill="#000"/>
<circle cx="126.9" cy="2001.2" r="4.7" fill="#000"/>
<circle cx="139.8" cy="2004.4" r="4.7" fill="#000"/>
<circle cx="133.4" cy="2030.2" r="4.7" fill="#000"/>
<circle cx="168.9" cy="2010.9" r="4.7" fill="#000"/>
<circle cx="182.9" cy="2013" r="4.7" fill="#000"/>
<circle cx="176" cy="2028" r="4.7" fill="#000"/>
<circle cx="196.9" cy="1997" r="4.7" fill="#000"/>
<circle cx="196.9" cy="2013" r="4.7" fill="#000"/>
<circle cx="196.9" cy="2022.7" r="4.7" fill="#000"/>
<circle cx="239.9" cy="1821.6" r="4.7" fill="#000"/>
<circle cx="239.9" cy="1908.3" r="4.7" fill="#000"/>
<circle cx="239.9" cy="1921.6" r="4.7" fill="#000"/>
<circle cx="255" cy="2026" r="4.7" fill="#000"/>
<circle cx="261.4" cy="2013" r="4.7" fill="#000"/>
<circle cx="267.9" cy="2022.7" r="4.7" fill="#000"/>
<circle cx="296.9" cy="2032.4" r="4.7" fill="#000"/>
<circle cx="303.8" cy="2017.3" r="4.7" fill="#000"/>
<circle cx="309.8" cy="2034.6" r="4.7" fill="#000"/>
<circle cx="324.9" cy="1931.9" r="4.7" fill="#000"/>
<circle cx="324.9" cy="1971.5" r="4.7" fill="#000"/>
<circle cx="324.9" cy="2013" r="4.7" fill="#000"/>
<line x1="90.8" y1="2057.5" x2="90.8" y2="1792" stroke="#000" stroke-width="3.0" />
<line x1="81.3" y1="2056" x2="347.8" y2="2056" stroke="#000" stroke-width="3.0" />
<line x1="81.3" y1="2056" x2="90.8" y2="2056" stroke="#000" stroke-width="3.0" />
<text x="76.5" y="2065" font-size="25.5" text-anchor="end" stroke="#000" stroke-width="0.56" >0</text>
<line x1="81.3" y1="2003.3" x2="90.8" y2="2003.3" stroke="#000" stroke-width="3.0" />
<text x="76.5" y="2012.3" font-size="25.5" text-anchor="end" stroke="#000" stroke-width="0.56" >1</text>
<line x1="81.3" y1="1950.6" x2="90.8" y2="1950.6" stroke="#000" stroke-width="3.0" />
<text x="76.5" y="1959.6" font-size="25.5" text-anchor="end" stroke="#000" stroke-width="0.56" >2</text>
<line x1="81.3" y1="1897.9" x2="90.8" y2="1897.9" stroke="#000" stroke-width="3.0" />
<text x="76.5" y="1906.9" font-size="25.5" text-anchor="end" stroke="#000" stroke-width="0.56" >3</text>
<line x1="81.3" y1="1845.2" x2="90.8" y2="1845.2" stroke="#000" stroke-width="3.0" />
<text x="76.5" y="1854.2" font-size="25.5" text-anchor="end" stroke="#000" stroke-width="0.56" >4</text>
<line x1="81.3" y1="1792.5" x2="90.8" y2="1792.5" stroke="#000" stroke-width="3.0" />
<text x="76.5" y="1801.5" font-size="25.5" text-anchor="end" stroke="#000" stroke-width="0.56" >5</text>
<line x1="121.6" y1="2056" x2="121.6" y2="2065" stroke="#000" stroke-width="3.0" />
<line x1="186.1" y1="2056" x2="186.1" y2="2065" stroke="#000" stroke-width="3.0" />
<line x1="250" y1="2056" x2="250" y2="2065" stroke="#000" stroke-width="3.0" />
<line x1="315.2" y1="2056" x2="315.2" y2="2065" stroke="#000" stroke-width="3.0" />
<line x1="238.4" y1="1805.4" x2="263.5" y2="1805.4" stroke="#000" stroke-width="2.2" />
<text x="251" y="1812.4" font-size="25" text-anchor="middle" font-weight="bold" >*</text>
<text x="134.6" y="2080" font-size="26" text-anchor="end" transform="rotate(-45 134.6 2080)" stroke="#000" stroke-width="0.57" >mock</text>
<text x="199.1" y="2080" font-size="26" text-anchor="end" transform="rotate(-45 199.1 2080)" stroke="#000" stroke-width="0.57" >PltB<tspan font-size="0.78em" dy="-0.28em">S35A</tspan></text>
<text x="263" y="2080" font-size="26" text-anchor="end" transform="rotate(-45 263 2080)" stroke="#000" stroke-width="0.57" >WT</text>
<text x="328.2" y="2080" font-size="26" text-anchor="end" transform="rotate(-45 328.2 2080)" stroke="#000" stroke-width="0.57" >CdtB<tspan font-size="0.78em" dy="-0.28em">H160Q</tspan></text>
<text x="51.6" y="1933.5" font-size="30.5" text-anchor="middle" textLength="200" lengthAdjust="spacingAndGlyphs" transform="rotate(-90 51.6 1933.5)" stroke="#000" stroke-width="0.67" >Fold induction</text>
<rect x="100.8" y="1797.7" width="8.7" height="8.7" fill="#e4e4e4" stroke="#000" stroke-width="2.5" />
<text x="114.7" y="1809.2" font-size="23.5" textLength="71" lengthAdjust="spacingAndGlyphs" stroke="#000" stroke-width="0.52" >Control</text>
<rect x="100.8" y="1823.7" width="8.7" height="8.7" fill="#025497" stroke="#000" stroke-width="2.5" />
<text x="114.7" y="1835.2" font-size="23.5" textLength="47.4" lengthAdjust="spacingAndGlyphs" stroke="#000" stroke-width="0.52" >GSH</text>
<text x="213" y="1764.5" font-size="30.5" font-style="italic" textLength="50" lengthAdjust="spacingAndGlyphs" stroke="#000" stroke-width="0.67" >Ifnb</text>
<rect x="400.8" y="2032.6" width="17.3" height="21.8" fill="#e4e4e4" stroke="#000" stroke-width="2.7" />
<rect x="420.8" y="2006.4" width="19.3" height="48" fill="#025497" stroke="#000" stroke-width="2.7" />
<rect x="464.9" y="2028.8" width="17.1" height="25.6" fill="#e4e4e4" stroke="#000" stroke-width="2.7" />
<rect x="484.7" y="2019.8" width="19" height="34.6" fill="#025497" stroke="#000" stroke-width="2.7" />
<rect x="529" y="1857.3" width="17.7" height="197.1" fill="#e4e4e4" stroke="#000" stroke-width="2.7" />
<rect x="549.4" y="1978.4" width="18.7" height="76" fill="#025497" stroke="#000" stroke-width="2.7" />
<rect x="592.9" y="2033.8" width="16.7" height="20.6" fill="#e4e4e4" stroke="#000" stroke-width="2.7" />
<rect x="612.2" y="2022.9" width="18.4" height="31.5" fill="#025497" stroke="#000" stroke-width="2.7" />
<line x1="409.7" y1="2011" x2="409.7" y2="2042" stroke="#000" stroke-width="2.8" />
<line x1="404.7" y1="2011" x2="414.7" y2="2011" stroke="#000" stroke-width="2.8" />
<line x1="404.7" y1="2042" x2="414.7" y2="2042" stroke="#000" stroke-width="2.8" />
<line x1="430.6" y1="1966" x2="430.6" y2="2042" stroke="#000" stroke-width="2.8" />
<line x1="425.6" y1="1966" x2="435.6" y2="1966" stroke="#000" stroke-width="2.8" />
<line x1="425.6" y1="2042" x2="435.6" y2="2042" stroke="#000" stroke-width="2.8" />
<line x1="473.8" y1="2000" x2="473.8" y2="2045" stroke="#000" stroke-width="2.8" />
<line x1="468.8" y1="2000" x2="478.8" y2="2000" stroke="#000" stroke-width="2.8" />
<line x1="468.8" y1="2045" x2="478.8" y2="2045" stroke="#000" stroke-width="2.8" />
<line x1="494.7" y1="2001" x2="494.7" y2="2036" stroke="#000" stroke-width="2.8" />
<line x1="489.7" y1="2001" x2="499.7" y2="2001" stroke="#000" stroke-width="2.8" />
<line x1="489.7" y1="2036" x2="499.7" y2="2036" stroke="#000" stroke-width="2.8" />
<line x1="537.7" y1="1822" x2="537.7" y2="1890" stroke="#000" stroke-width="2.8" />
<line x1="532.7" y1="1822" x2="542.7" y2="1822" stroke="#000" stroke-width="2.8" />
<line x1="532.7" y1="1890" x2="542.7" y2="1890" stroke="#000" stroke-width="2.8" />
<line x1="558.2" y1="1953" x2="558.2" y2="2000" stroke="#000" stroke-width="2.8" />
<line x1="553.2" y1="1953" x2="563.2" y2="1953" stroke="#000" stroke-width="2.8" />
<line x1="553.2" y1="2000" x2="563.2" y2="2000" stroke="#000" stroke-width="2.8" />
<line x1="601.2" y1="2014" x2="601.2" y2="2046" stroke="#000" stroke-width="2.8" />
<line x1="596.2" y1="2014" x2="606.2" y2="2014" stroke="#000" stroke-width="2.8" />
<line x1="596.2" y1="2046" x2="606.2" y2="2046" stroke="#000" stroke-width="2.8" />
<line x1="622.7" y1="1996" x2="622.7" y2="2040" stroke="#000" stroke-width="2.8" />
<line x1="617.7" y1="1996" x2="627.7" y2="1996" stroke="#000" stroke-width="2.8" />
<line x1="617.7" y1="2040" x2="627.7" y2="2040" stroke="#000" stroke-width="2.8" />
<circle cx="409.7" cy="2014" r="4.7" fill="#000"/>
<circle cx="404.3" cy="2033.5" r="4.7" fill="#000"/>
<circle cx="416.2" cy="2041" r="4.7" fill="#000"/>
<circle cx="430.6" cy="1966.8" r="4.7" fill="#000"/>
<circle cx="430.6" cy="2002.3" r="4.7" fill="#000"/>
<circle cx="430.6" cy="2042" r="4.7" fill="#000"/>
<circle cx="473.8" cy="2001.2" r="4.7" fill="#000"/>
<circle cx="473.8" cy="2032.4" r="4.7" fill="#000"/>
<circle cx="473.8" cy="2045.3" r="4.7" fill="#000"/>
<circle cx="488.3" cy="2006.6" r="4.7" fill="#000"/>
<circle cx="502.2" cy="2010.9" r="4.7" fill="#000"/>
<circle cx="494.7" cy="2036.7" r="4.7" fill="#000"/>
<circle cx="537.7" cy="1824.8" r="4.7" fill="#000"/>
<circle cx="537.7" cy="1848" r="4.7" fill="#000"/>
<circle cx="537.7" cy="1894.7" r="4.7" fill="#000"/>
<circle cx="558.2" cy="1956" r="4.7" fill="#000"/>
<circle cx="558.2" cy="1969" r="4.7" fill="#000"/>
<circle cx="558.2" cy="2001.2" r="4.7" fill="#000"/>
<circle cx="601.2" cy="2016.3" r="4.7" fill="#000"/>
<circle cx="601.2" cy="2029.2" r="4.7" fill="#000"/>
<circle cx="601.2" cy="2046.8" r="4.7" fill="#000"/>
<circle cx="622.7" cy="1995.8" r="4.7" fill="#000"/>
<circle cx="622.7" cy="2027" r="4.7" fill="#000"/>
<circle cx="622.7" cy="2038.8" r="4.7" fill="#000"/>
<line x1="388.6" y1="2055.4" x2="388.6" y2="1789.9" stroke="#000" stroke-width="3.0" />
<line x1="379.1" y1="2053.9" x2="645.2" y2="2053.9" stroke="#000" stroke-width="3.0" />
<line x1="379.1" y1="2053.9" x2="388.6" y2="2053.9" stroke="#000" stroke-width="3.0" />
<text x="374.5" y="2062.9" font-size="25.5" text-anchor="end" stroke="#000" stroke-width="0.56" >0</text>
<line x1="379.1" y1="2001.2" x2="388.6" y2="2001.2" stroke="#000" stroke-width="3.0" />
<text x="374.5" y="2010.2" font-size="25.5" text-anchor="end" stroke="#000" stroke-width="0.56" >1</text>
<line x1="379.1" y1="1948.5" x2="388.6" y2="1948.5" stroke="#000" stroke-width="3.0" />
<text x="374.5" y="1957.5" font-size="25.5" text-anchor="end" stroke="#000" stroke-width="0.56" >2</text>
<line x1="379.1" y1="1895.8" x2="388.6" y2="1895.8" stroke="#000" stroke-width="3.0" />
<text x="374.5" y="1904.8" font-size="25.5" text-anchor="end" stroke="#000" stroke-width="0.56" >3</text>
<line x1="379.1" y1="1843.1" x2="388.6" y2="1843.1" stroke="#000" stroke-width="3.0" />
<text x="374.5" y="1852.1" font-size="25.5" text-anchor="end" stroke="#000" stroke-width="0.56" >4</text>
<line x1="379.1" y1="1790.4" x2="388.6" y2="1790.4" stroke="#000" stroke-width="3.0" />
<text x="374.5" y="1799.4" font-size="25.5" text-anchor="end" stroke="#000" stroke-width="0.56" >5</text>
<line x1="419.4" y1="2053.9" x2="419.4" y2="2062.9" stroke="#000" stroke-width="3.0" />
<line x1="483.3" y1="2053.9" x2="483.3" y2="2062.9" stroke="#000" stroke-width="3.0" />
<line x1="547.4" y1="2053.9" x2="547.4" y2="2062.9" stroke="#000" stroke-width="3.0" />
<line x1="612" y1="2053.9" x2="612" y2="2062.9" stroke="#000" stroke-width="3.0" />
<line x1="537.3" y1="1806.5" x2="562.9" y2="1806.5" stroke="#000" stroke-width="2.2" />
<text x="550" y="1813.5" font-size="25" text-anchor="middle" font-weight="bold" >**</text>
<text x="432.4" y="2077.9" font-size="26" text-anchor="end" transform="rotate(-45 432.4 2077.9)" stroke="#000" stroke-width="0.57" >mock</text>
<text x="496.3" y="2077.9" font-size="26" text-anchor="end" transform="rotate(-45 496.3 2077.9)" stroke="#000" stroke-width="0.57" >PltB<tspan font-size="0.78em" dy="-0.28em">S35A</tspan></text>
<text x="560.4" y="2077.9" font-size="26" text-anchor="end" transform="rotate(-45 560.4 2077.9)" stroke="#000" stroke-width="0.57" >WT</text>
<text x="625" y="2077.9" font-size="26" text-anchor="end" transform="rotate(-45 625 2077.9)" stroke="#000" stroke-width="0.57" >CdtB<tspan font-size="0.78em" dy="-0.28em">H160Q</tspan></text>
<rect x="398.6" y="1794.8" width="8.7" height="8.7" fill="#e4e4e4" stroke="#000" stroke-width="2.5" />
<text x="412.6" y="1806.3" font-size="23.5" textLength="71" lengthAdjust="spacingAndGlyphs" stroke="#000" stroke-width="0.52" >Control</text>
<rect x="398.6" y="1820.8" width="8.7" height="8.7" fill="#025497" stroke="#000" stroke-width="2.5" />
<text x="412.6" y="1832.3" font-size="23.5" textLength="47.4" lengthAdjust="spacingAndGlyphs" stroke="#000" stroke-width="0.52" >GSH</text>
<text x="513" y="1762.4" font-size="30.5" font-style="italic" textLength="33.3" lengthAdjust="spacingAndGlyphs" stroke="#000" stroke-width="0.67" >Il8</text>
<rect x="707.9" y="2003.6" width="16.7" height="48.7" fill="#e4e4e4" stroke="#000" stroke-width="2.7" />
<rect x="727.2" y="1967" width="19.9" height="85.3" fill="#025497" stroke="#000" stroke-width="2.7" />
<rect x="772.4" y="1988.5" width="16.7" height="63.8" fill="#e4e4e4" stroke="#000" stroke-width="2.7" />
<rect x="791.8" y="1976.8" width="19.5" height="75.6" fill="#025497" stroke="#000" stroke-width="2.7" />
<rect x="836.4" y="1859.4" width="17.3" height="192.9" fill="#e4e4e4" stroke="#000" stroke-width="2.7" />
<rect x="856.4" y="1950.9" width="18.3" height="101.4" fill="#025497" stroke="#000" stroke-width="2.7" />
<rect x="899.4" y="2010.8" width="17.3" height="41.6" fill="#e4e4e4" stroke="#000" stroke-width="2.7" />
<rect x="919.4" y="1981" width="19.3" height="71.3" fill="#025497" stroke="#000" stroke-width="2.7" />
<line x1="717.3" y1="1985" x2="717.3" y2="2020" stroke="#000" stroke-width="2.8" />
<line x1="712.3" y1="1985" x2="722.3" y2="1985" stroke="#000" stroke-width="2.8" />
<line x1="712.3" y1="2020" x2="722.3" y2="2020" stroke="#000" stroke-width="2.8" />
<line x1="738.8" y1="1920" x2="738.8" y2="2009" stroke="#000" stroke-width="2.8" />
<line x1="733.8" y1="1920" x2="743.8" y2="1920" stroke="#000" stroke-width="2.8" />
<line x1="733.8" y1="2009" x2="743.8" y2="2009" stroke="#000" stroke-width="2.8" />
<line x1="780.7" y1="1950" x2="780.7" y2="2025" stroke="#000" stroke-width="2.8" />
<line x1="775.7" y1="1950" x2="785.7" y2="1950" stroke="#000" stroke-width="2.8" />
<line x1="775.7" y1="2025" x2="785.7" y2="2025" stroke="#000" stroke-width="2.8" />
<line x1="801.8" y1="1946" x2="801.8" y2="2001" stroke="#000" stroke-width="2.8" />
<line x1="796.8" y1="1946" x2="806.8" y2="1946" stroke="#000" stroke-width="2.8" />
<line x1="796.8" y1="2001" x2="806.8" y2="2001" stroke="#000" stroke-width="2.8" />
<line x1="844.2" y1="1818" x2="844.2" y2="1897" stroke="#000" stroke-width="2.8" />
<line x1="839.2" y1="1818" x2="849.2" y2="1818" stroke="#000" stroke-width="2.8" />
<line x1="839.2" y1="1897" x2="849.2" y2="1897" stroke="#000" stroke-width="2.8" />
<line x1="865.7" y1="1945" x2="865.7" y2="1957" stroke="#000" stroke-width="2.8" />
<line x1="860.7" y1="1945" x2="870.7" y2="1945" stroke="#000" stroke-width="2.8" />
<line x1="860.7" y1="1957" x2="870.7" y2="1957" stroke="#000" stroke-width="2.8" />
<line x1="907.7" y1="1975" x2="907.7" y2="2036" stroke="#000" stroke-width="2.8" />
<line x1="902.7" y1="1975" x2="912.7" y2="1975" stroke="#000" stroke-width="2.8" />
<line x1="902.7" y1="2036" x2="912.7" y2="2036" stroke="#000" stroke-width="2.8" />
<line x1="928.1" y1="1952" x2="928.1" y2="2008" stroke="#000" stroke-width="2.8" />
<line x1="923.1" y1="1952" x2="933.1" y2="1952" stroke="#000" stroke-width="2.8" />
<line x1="923.1" y1="2008" x2="933.1" y2="2008" stroke="#000" stroke-width="2.8" />
<circle cx="717.3" cy="1985" r="4.7" fill="#000"/>
<circle cx="717.3" cy="2000.1" r="4.7" fill="#000"/>
<circle cx="717.3" cy="2020.6" r="4.7" fill="#000"/>
<circle cx="738.8" cy="1914" r="4.7" fill="#000"/>
<circle cx="738.8" cy="1981.8" r="4.7" fill="#000"/>
<circle cx="738.8" cy="1999" r="4.7" fill="#000"/>
<circle cx="780.7" cy="1953.9" r="4.7" fill="#000"/>
<circle cx="780.7" cy="1980.8" r="4.7" fill="#000"/>
<circle cx="780.7" cy="2024.9" r="4.7" fill="#000"/>
<circle cx="801.8" cy="1946.3" r="4.7" fill="#000"/>
<circle cx="801.8" cy="1977.5" r="4.7" fill="#000"/>
<circle cx="801.8" cy="2001.2" r="4.7" fill="#000"/>
<circle cx="844.2" cy="1817.3" r="4.7" fill="#000"/>
<circle cx="844.2" cy="1862.4" r="4.7" fill="#000"/>
<circle cx="844.2" cy="1892.6" r="4.7" fill="#000"/>
<circle cx="859.3" cy="1945.3" r="4.7" fill="#000"/>
<circle cx="865.7" cy="1943.1" r="4.7" fill="#000"/>
<circle cx="871.5" cy="1955" r="4.7" fill="#000"/>
<circle cx="907.7" cy="1975.4" r="4.7" fill="#000"/>
<circle cx="902.3" cy="2020.6" r="4.7" fill="#000"/>
<circle cx="914.1" cy="2028.1" r="4.7" fill="#000"/>
<circle cx="928.1" cy="1956" r="4.7" fill="#000"/>
<circle cx="928.1" cy="1973.2" r="4.7" fill="#000"/>
<circle cx="928.1" cy="2008.7" r="4.7" fill="#000"/>
<line x1="695.3" y1="2053.3" x2="695.3" y2="1787.7" stroke="#000" stroke-width="3.0" />
<line x1="685.8" y1="2051.8" x2="951.6" y2="2051.8" stroke="#000" stroke-width="3.0" />
<line x1="685.8" y1="2051.8" x2="695.3" y2="2051.8" stroke="#000" stroke-width="3.0" />
<text x="683" y="2060.8" font-size="25.5" text-anchor="end" stroke="#000" stroke-width="0.56" >0</text>
<line x1="685.8" y1="1999.1" x2="695.3" y2="1999.1" stroke="#000" stroke-width="3.0" />
<text x="683" y="2008.1" font-size="25.5" text-anchor="end" stroke="#000" stroke-width="0.56" >0.5</text>
<line x1="685.8" y1="1946.4" x2="695.3" y2="1946.4" stroke="#000" stroke-width="3.0" />
<text x="683" y="1955.4" font-size="25.5" text-anchor="end" stroke="#000" stroke-width="0.56" >1.0</text>
<line x1="685.8" y1="1893.6" x2="695.3" y2="1893.6" stroke="#000" stroke-width="3.0" />
<text x="683" y="1902.6" font-size="25.5" text-anchor="end" stroke="#000" stroke-width="0.56" >1.5</text>
<line x1="685.8" y1="1840.9" x2="695.3" y2="1840.9" stroke="#000" stroke-width="3.0" />
<text x="683" y="1849.9" font-size="25.5" text-anchor="end" stroke="#000" stroke-width="0.56" >2.0</text>
<line x1="685.8" y1="1788.2" x2="695.3" y2="1788.2" stroke="#000" stroke-width="3.0" />
<text x="683" y="1797.2" font-size="25.5" text-anchor="end" stroke="#000" stroke-width="0.56" >2.5</text>
<line x1="727" y1="2051.8" x2="727" y2="2060.8" stroke="#000" stroke-width="3.0" />
<line x1="790" y1="2051.8" x2="790" y2="2060.8" stroke="#000" stroke-width="3.0" />
<line x1="854.5" y1="2051.8" x2="854.5" y2="2060.8" stroke="#000" stroke-width="3.0" />
<line x1="918" y1="2051.8" x2="918" y2="2060.8" stroke="#000" stroke-width="3.0" />
<line x1="844.2" y1="1797.9" x2="869.4" y2="1797.9" stroke="#000" stroke-width="2.2" />
<text x="856.8" y="1804.9" font-size="25" text-anchor="middle" font-weight="bold" >*</text>
<text x="740" y="2075.8" font-size="26" text-anchor="end" transform="rotate(-45 740 2075.8)" stroke="#000" stroke-width="0.57" >mock</text>
<text x="803" y="2075.8" font-size="26" text-anchor="end" transform="rotate(-45 803 2075.8)" stroke="#000" stroke-width="0.57" >PltB<tspan font-size="0.78em" dy="-0.28em">S35A</tspan></text>
<text x="867.5" y="2075.8" font-size="26" text-anchor="end" transform="rotate(-45 867.5 2075.8)" stroke="#000" stroke-width="0.57" >WT</text>
<text x="931" y="2075.8" font-size="26" text-anchor="end" transform="rotate(-45 931 2075.8)" stroke="#000" stroke-width="0.57" >CdtB<tspan font-size="0.78em" dy="-0.28em">H160Q</tspan></text>
<rect x="705.5" y="1792.8" width="8.7" height="8.7" fill="#e4e4e4" stroke="#000" stroke-width="2.5" />
<text x="719.5" y="1804.3" font-size="23.5" textLength="71" lengthAdjust="spacingAndGlyphs" stroke="#000" stroke-width="0.52" >Control</text>
<rect x="705.5" y="1818.8" width="8.7" height="8.7" fill="#025497" stroke="#000" stroke-width="2.5" />
<text x="719.5" y="1830.3" font-size="23.5" textLength="47.4" lengthAdjust="spacingAndGlyphs" stroke="#000" stroke-width="0.52" >GSH</text>
<text x="810.8" y="1762.4" font-size="30.5" font-style="italic" textLength="48.5" lengthAdjust="spacingAndGlyphs" stroke="#000" stroke-width="0.67" >Il1b</text>
<rect x="1013.2" y="1995" width="17.1" height="57.9" fill="#e4e4e4" stroke="#000" stroke-width="2.7" />
<rect x="1033" y="1964.9" width="19.4" height="88" fill="#025497" stroke="#000" stroke-width="2.7" />
<rect x="1077.3" y="1993.9" width="17.1" height="59" fill="#e4e4e4" stroke="#000" stroke-width="2.7" />
<rect x="1097.1" y="1940.5" width="19.2" height="112.4" fill="#025497" stroke="#000" stroke-width="2.7" />
<rect x="1141.8" y="1853.4" width="17.6" height="199.5" fill="#e4e4e4" stroke="#000" stroke-width="2.7" />
<rect x="1162.1" y="2003.1" width="18.3" height="49.8" fill="#025497" stroke="#000" stroke-width="2.7" />
<rect x="1205.1" y="1994.3" width="17.3" height="58.6" fill="#e4e4e4" stroke="#000" stroke-width="2.7" />
<rect x="1225.1" y="1964.9" width="18.5" height="88" fill="#025497" stroke="#000" stroke-width="2.7" />
<line x1="1022" y1="1979" x2="1022" y2="2006" stroke="#000" stroke-width="2.8" />
<line x1="1017" y1="1979" x2="1027" y2="1979" stroke="#000" stroke-width="2.8" />
<line x1="1017" y1="2006" x2="1027" y2="2006" stroke="#000" stroke-width="2.8" />
<line x1="1043" y1="1918" x2="1043" y2="1999" stroke="#000" stroke-width="2.8" />
<line x1="1038" y1="1918" x2="1048" y2="1918" stroke="#000" stroke-width="2.8" />
<line x1="1038" y1="1999" x2="1048" y2="1999" stroke="#000" stroke-width="2.8" />
<line x1="1085.5" y1="1972" x2="1085.5" y2="2010" stroke="#000" stroke-width="2.8" />
<line x1="1080.5" y1="1972" x2="1090.5" y2="1972" stroke="#000" stroke-width="2.8" />
<line x1="1080.5" y1="2010" x2="1090.5" y2="2010" stroke="#000" stroke-width="2.8" />
<line x1="1107" y1="1910" x2="1107" y2="1967" stroke="#000" stroke-width="2.8" />
<line x1="1102" y1="1910" x2="1112" y2="1910" stroke="#000" stroke-width="2.8" />
<line x1="1102" y1="1967" x2="1112" y2="1967" stroke="#000" stroke-width="2.8" />
<line x1="1149.6" y1="1834" x2="1149.6" y2="1868" stroke="#000" stroke-width="2.8" />
<line x1="1144.6" y1="1834" x2="1154.6" y2="1834" stroke="#000" stroke-width="2.8" />
<line x1="1144.6" y1="1868" x2="1154.6" y2="1868" stroke="#000" stroke-width="2.8" />
<line x1="1171.5" y1="1977" x2="1171.5" y2="2029" stroke="#000" stroke-width="2.8" />
<line x1="1166.5" y1="1977" x2="1176.5" y2="1977" stroke="#000" stroke-width="2.8" />
<line x1="1166.5" y1="2029" x2="1176.5" y2="2029" stroke="#000" stroke-width="2.8" />
<line x1="1214.5" y1="1985" x2="1214.5" y2="2000" stroke="#000" stroke-width="2.8" />
<line x1="1209.5" y1="1985" x2="1219.5" y2="1985" stroke="#000" stroke-width="2.8" />
<line x1="1209.5" y1="2000" x2="1219.5" y2="2000" stroke="#000" stroke-width="2.8" />
<line x1="1234.4" y1="1923" x2="1234.4" y2="1990" stroke="#000" stroke-width="2.8" />
<line x1="1229.4" y1="1923" x2="1239.4" y2="1923" stroke="#000" stroke-width="2.8" />
<line x1="1229.4" y1="1990" x2="1239.4" y2="1990" stroke="#000" stroke-width="2.8" />
<circle cx="1022" cy="1978.6" r="4.7" fill="#000"/>
<circle cx="1015.1" cy="1999" r="4.7" fill="#000"/>
<circle cx="1028.7" cy="1999" r="4.7" fill="#000"/>
<circle cx="1043" cy="1919.4" r="4.7" fill="#000"/>
<circle cx="1036" cy="1984" r="4.7" fill="#000"/>
<circle cx="1050.6" cy="1984" r="4.7" fill="#000"/>
<circle cx="1085.5" cy="1971.5" r="4.7" fill="#000"/>
<circle cx="1081.8" cy="1999.5" r="4.7" fill="#000"/>
<circle cx="1091.5" cy="2004.4" r="4.7" fill="#000"/>
<circle cx="1100.1" cy="1920.5" r="4.7" fill="#000"/>
<circle cx="1114.1" cy="1924.8" r="4.7" fill="#000"/>
<circle cx="1107" cy="1970.6" r="4.7" fill="#000"/>
<circle cx="1149.6" cy="1828.7" r="4.7" fill="#000"/>
<circle cx="1142" cy="1857" r="4.7" fill="#000"/>
<circle cx="1157.1" cy="1861.4" r="4.7" fill="#000"/>
<circle cx="1171.5" cy="1977.5" r="4.7" fill="#000"/>
<circle cx="1171.5" cy="1994.8" r="4.7" fill="#000"/>
<circle cx="1171.5" cy="2029.2" r="4.7" fill="#000"/>
<circle cx="1214.5" cy="1981.8" r="4.7" fill="#000"/>
<circle cx="1207.7" cy="1995.8" r="4.7" fill="#000"/>
<circle cx="1220.6" cy="1998" r="4.7" fill="#000"/>
<circle cx="1235.2" cy="1923" r="4.7" fill="#000"/>
<circle cx="1227.3" cy="1984" r="4.7" fill="#000"/>
<circle cx="1241.5" cy="1984" r="4.7" fill="#000"/>
<line x1="1000.5" y1="2053.9" x2="1000.5" y2="1787.7" stroke="#000" stroke-width="3.0" />
<line x1="991" y1="2052.4" x2="1257.6" y2="2052.4" stroke="#000" stroke-width="3.0" />
<line x1="991" y1="2052.4" x2="1000.5" y2="2052.4" stroke="#000" stroke-width="3.0" />
<text x="988" y="2061.4" font-size="25.5" text-anchor="end" stroke="#000" stroke-width="0.56" >0</text>
<line x1="991" y1="1999.6" x2="1000.5" y2="1999.6" stroke="#000" stroke-width="3.0" />
<text x="988" y="2008.6" font-size="25.5" text-anchor="end" stroke="#000" stroke-width="0.56" >0.5</text>
<line x1="991" y1="1946.7" x2="1000.5" y2="1946.7" stroke="#000" stroke-width="3.0" />
<text x="988" y="1955.7" font-size="25.5" text-anchor="end" stroke="#000" stroke-width="0.56" >1.0</text>
<line x1="991" y1="1893.9" x2="1000.5" y2="1893.9" stroke="#000" stroke-width="3.0" />
<text x="988" y="1902.9" font-size="25.5" text-anchor="end" stroke="#000" stroke-width="0.56" >1.5</text>
<line x1="991" y1="1841" x2="1000.5" y2="1841" stroke="#000" stroke-width="3.0" />
<text x="988" y="1850" font-size="25.5" text-anchor="end" stroke="#000" stroke-width="0.56" >2.0</text>
<line x1="991" y1="1788.2" x2="1000.5" y2="1788.2" stroke="#000" stroke-width="3.0" />
<text x="988" y="1797.2" font-size="25.5" text-anchor="end" stroke="#000" stroke-width="0.56" >2.5</text>
<line x1="1031.7" y1="2052.4" x2="1031.7" y2="2061.4" stroke="#000" stroke-width="3.0" />
<line x1="1095.8" y1="2052.4" x2="1095.8" y2="2061.4" stroke="#000" stroke-width="3.0" />
<line x1="1160.3" y1="2052.4" x2="1160.3" y2="2061.4" stroke="#000" stroke-width="3.0" />
<line x1="1223.8" y1="2052.4" x2="1223.8" y2="2061.4" stroke="#000" stroke-width="3.0" />
<line x1="1151.3" y1="1811.9" x2="1176" y2="1811.9" stroke="#000" stroke-width="2.2" />
<text x="1163.6" y="1818.9" font-size="25" text-anchor="middle" font-weight="bold" >**</text>
<text x="1044.7" y="2076.4" font-size="26" text-anchor="end" transform="rotate(-45 1044.7 2076.4)" stroke="#000" stroke-width="0.57" >mock</text>
<text x="1108.8" y="2076.4" font-size="26" text-anchor="end" transform="rotate(-45 1108.8 2076.4)" stroke="#000" stroke-width="0.57" >PltB<tspan font-size="0.78em" dy="-0.28em">S35A</tspan></text>
<text x="1173.3" y="2076.4" font-size="26" text-anchor="end" transform="rotate(-45 1173.3 2076.4)" stroke="#000" stroke-width="0.57" >WT</text>
<text x="1236.8" y="2076.4" font-size="26" text-anchor="end" transform="rotate(-45 1236.8 2076.4)" stroke="#000" stroke-width="0.57" >CdtB<tspan font-size="0.78em" dy="-0.28em">H160Q</tspan></text>
<rect x="1009.8" y="1792.8" width="8.7" height="8.7" fill="#e4e4e4" stroke="#000" stroke-width="2.5" />
<text x="1023.7" y="1804.3" font-size="23.5" textLength="71" lengthAdjust="spacingAndGlyphs" stroke="#000" stroke-width="0.52" >Control</text>
<rect x="1009.8" y="1818.8" width="8.7" height="8.7" fill="#025497" stroke="#000" stroke-width="2.5" />
<text x="1023.7" y="1830.3" font-size="23.5" textLength="47.4" lengthAdjust="spacingAndGlyphs" stroke="#000" stroke-width="0.52" >GSH</text>
<text x="1110.8" y="1762.4" font-size="30.5" font-style="italic" textLength="49.5" lengthAdjust="spacingAndGlyphs" stroke="#000" stroke-width="0.67" >Il18</text>
<rect x="1303.8" y="1999.8" width="18.3" height="53" fill="#e4e4e4" stroke="#000" stroke-width="2.7" />
<rect x="1324.8" y="2017.8" width="17.8" height="35.1" fill="#025497" stroke="#000" stroke-width="2.7" />
<rect x="1368.3" y="2003.6" width="17.8" height="49.2" fill="#e4e4e4" stroke="#000" stroke-width="2.7" />
<rect x="1388.8" y="1997.3" width="17.8" height="55.5" fill="#025497" stroke="#000" stroke-width="2.7" />
<rect x="1432.8" y="1897.3" width="16.9" height="155.5" fill="#e4e4e4" stroke="#000" stroke-width="2.7" />
<rect x="1452.3" y="1999" width="18.4" height="53.8" fill="#025497" stroke="#000" stroke-width="2.7" />
<rect x="1495.9" y="2013.9" width="17.8" height="38.9" fill="#e4e4e4" stroke="#000" stroke-width="2.7" />
<rect x="1516.4" y="2006.2" width="18.4" height="46.6" fill="#025497" stroke="#000" stroke-width="2.7" />
<line x1="1312.7" y1="1988" x2="1312.7" y2="2010" stroke="#000" stroke-width="2.8" />
<line x1="1307.7" y1="1988" x2="1317.7" y2="1988" stroke="#000" stroke-width="2.8" />
<line x1="1307.7" y1="2010" x2="1317.7" y2="2010" stroke="#000" stroke-width="2.8" />
<line x1="1377" y1="1995" x2="1377" y2="2005" stroke="#000" stroke-width="2.8" />
<line x1="1372" y1="1995" x2="1382" y2="1995" stroke="#000" stroke-width="2.8" />
<line x1="1372" y1="2005" x2="1382" y2="2005" stroke="#000" stroke-width="2.8" />
<line x1="1397.8" y1="1974" x2="1397.8" y2="2020" stroke="#000" stroke-width="2.8" />
<line x1="1392.8" y1="1974" x2="1402.8" y2="1974" stroke="#000" stroke-width="2.8" />
<line x1="1392.8" y1="2020" x2="1402.8" y2="2020" stroke="#000" stroke-width="2.8" />
<line x1="1440.8" y1="1837" x2="1440.8" y2="1955.7" stroke="#000" stroke-width="2.8" />
<line x1="1435.8" y1="1837" x2="1445.8" y2="1837" stroke="#000" stroke-width="2.8" />
<line x1="1435.8" y1="1955.7" x2="1445.8" y2="1955.7" stroke="#000" stroke-width="2.8" />
<line x1="1462.6" y1="1985" x2="1462.6" y2="2012" stroke="#000" stroke-width="2.8" />
<line x1="1457.6" y1="1985" x2="1467.6" y2="1985" stroke="#000" stroke-width="2.8" />
<line x1="1457.6" y1="2012" x2="1467.6" y2="2012" stroke="#000" stroke-width="2.8" />
<line x1="1505" y1="1998" x2="1505" y2="2027" stroke="#000" stroke-width="2.8" />
<line x1="1500" y1="1998" x2="1510" y2="1998" stroke="#000" stroke-width="2.8" />
<line x1="1500" y1="2027" x2="1510" y2="2027" stroke="#000" stroke-width="2.8" />
<line x1="1525.9" y1="1973" x2="1525.9" y2="2035" stroke="#000" stroke-width="2.8" />
<line x1="1520.9" y1="1973" x2="1530.9" y2="1973" stroke="#000" stroke-width="2.8" />
<line x1="1520.9" y1="2035" x2="1530.9" y2="2035" stroke="#000" stroke-width="2.8" />
<circle cx="1305" cy="1992" r="4.7" fill="#000"/>
<circle cx="1320" cy="1994" r="4.7" fill="#000"/>
<circle cx="1312.7" cy="2008.7" r="4.7" fill="#000"/>
<circle cx="1326.8" cy="2019.8" r="4.7" fill="#000"/>
<circle cx="1334.5" cy="2010.5" r="4.7" fill="#000"/>
<circle cx="1341" cy="2013.9" r="4.7" fill="#000"/>
<circle cx="1369.6" cy="1996.7" r="4.7" fill="#000"/>
<circle cx="1376.8" cy="1998.5" r="4.7" fill="#000"/>
<circle cx="1382.4" cy="2008.7" r="4.7" fill="#000"/>
<circle cx="1397.8" cy="1976.7" r="4.7" fill="#000"/>
<circle cx="1397.8" cy="1989.5" r="4.7" fill="#000"/>
<circle cx="1397.8" cy="2017.7" r="4.7" fill="#000"/>
<circle cx="1440.8" cy="1828" r="4.7" fill="#000"/>
<circle cx="1435.2" cy="1923" r="4.7" fill="#000"/>
<circle cx="1446.5" cy="1933" r="4.7" fill="#000"/>
<circle cx="1462.6" cy="1983.1" r="4.7" fill="#000"/>
<circle cx="1457.5" cy="1998.5" r="4.7" fill="#000"/>
<circle cx="1467.7" cy="2010" r="4.7" fill="#000"/>
<circle cx="1497.7" cy="2004.4" r="4.7" fill="#000"/>
<circle cx="1512.1" cy="2004.4" r="4.7" fill="#000"/>
<circle cx="1504.9" cy="2026.7" r="4.7" fill="#000"/>
<circle cx="1525.9" cy="1967.7" r="4.7" fill="#000"/>
<circle cx="1521.5" cy="2017.7" r="4.7" fill="#000"/>
<circle cx="1531.8" cy="2027.4" r="4.7" fill="#000"/>
<line x1="1291.7" y1="2053.8" x2="1291.7" y2="1786.6" stroke="#000" stroke-width="3.0" />
<line x1="1282.2" y1="2052.3" x2="1549" y2="2052.3" stroke="#000" stroke-width="3.0" />
<line x1="1282.2" y1="2052.3" x2="1291.7" y2="2052.3" stroke="#000" stroke-width="3.0" />
<text x="1278" y="2061.3" font-size="25.5" text-anchor="end" stroke="#000" stroke-width="0.56" >0</text>
<line x1="1282.2" y1="1999.3" x2="1291.7" y2="1999.3" stroke="#000" stroke-width="3.0" />
<text x="1278" y="2008.3" font-size="25.5" text-anchor="end" stroke="#000" stroke-width="0.56" >1</text>
<line x1="1282.2" y1="1946.2" x2="1291.7" y2="1946.2" stroke="#000" stroke-width="3.0" />
<text x="1278" y="1955.2" font-size="25.5" text-anchor="end" stroke="#000" stroke-width="0.56" >2</text>
<line x1="1282.2" y1="1893.2" x2="1291.7" y2="1893.2" stroke="#000" stroke-width="3.0" />
<text x="1278" y="1902.2" font-size="25.5" text-anchor="end" stroke="#000" stroke-width="0.56" >3</text>
<line x1="1282.2" y1="1840.1" x2="1291.7" y2="1840.1" stroke="#000" stroke-width="3.0" />
<text x="1278" y="1849.1" font-size="25.5" text-anchor="end" stroke="#000" stroke-width="0.56" >4</text>
<line x1="1282.2" y1="1787.1" x2="1291.7" y2="1787.1" stroke="#000" stroke-width="3.0" />
<text x="1278" y="1796.1" font-size="25.5" text-anchor="end" stroke="#000" stroke-width="0.56" >5</text>
<line x1="1323" y1="2052.3" x2="1323" y2="2061.3" stroke="#000" stroke-width="3.0" />
<line x1="1387" y1="2052.3" x2="1387" y2="2061.3" stroke="#000" stroke-width="3.0" />
<line x1="1451" y1="2052.3" x2="1451" y2="2061.3" stroke="#000" stroke-width="3.0" />
<line x1="1515.1" y1="2052.3" x2="1515.1" y2="2061.3" stroke="#000" stroke-width="3.0" />
<line x1="1440.8" y1="1812" x2="1466.5" y2="1812" stroke="#000" stroke-width="2.2" />
<text x="1453.6" y="1819" font-size="25" text-anchor="middle" font-weight="bold" >*</text>
<text x="1336" y="2076.3" font-size="26" text-anchor="end" transform="rotate(-45 1336 2076.3)" stroke="#000" stroke-width="0.57" >mock</text>
<text x="1400" y="2076.3" font-size="26" text-anchor="end" transform="rotate(-45 1400 2076.3)" stroke="#000" stroke-width="0.57" >PltB<tspan font-size="0.78em" dy="-0.28em">S35A</tspan></text>
<text x="1464" y="2076.3" font-size="26" text-anchor="end" transform="rotate(-45 1464 2076.3)" stroke="#000" stroke-width="0.57" >WT</text>
<text x="1528.1" y="2076.3" font-size="26" text-anchor="end" transform="rotate(-45 1528.1 2076.3)" stroke="#000" stroke-width="0.57" >CdtB<tspan font-size="0.78em" dy="-0.28em">H160Q</tspan></text>
<rect x="1301.2" y="1796.5" width="8.7" height="8.7" fill="#e4e4e4" stroke="#000" stroke-width="2.5" />
<text x="1315.1" y="1808.1" font-size="23.5" textLength="71" lengthAdjust="spacingAndGlyphs" stroke="#000" stroke-width="0.52" >Control</text>
<rect x="1301.2" y="1822.5" width="8.7" height="8.7" fill="#025497" stroke="#000" stroke-width="2.5" />
<text x="1315.1" y="1834.1" font-size="23.5" textLength="47.4" lengthAdjust="spacingAndGlyphs" stroke="#000" stroke-width="0.52" >GSH</text>
<text x="1402.4" y="1762.8" font-size="30.5" font-style="italic" textLength="42.3" lengthAdjust="spacingAndGlyphs" stroke="#000" stroke-width="0.67" >Tnf</text>
<rect x="652" y="2419.2" width="27.6" height="42.2" fill="#e4e4e4" stroke="#000" stroke-width="2.7" />
<rect x="682.2" y="2424.2" width="28.9" height="37.3" fill="#025497" stroke="#000" stroke-width="2.7" />
<rect x="745.1" y="2414.3" width="28.9" height="47.1" fill="#e4e4e4" stroke="#000" stroke-width="2.7" />
<rect x="776.8" y="2433.3" width="28.3" height="28.1" fill="#025497" stroke="#000" stroke-width="2.7" />
<rect x="838.8" y="2312.8" width="28.9" height="148.7" fill="#e4e4e4" stroke="#000" stroke-width="2.7" />
<rect x="870.4" y="2395.8" width="28.6" height="65.7" fill="#025497" stroke="#000" stroke-width="2.7" />
<rect x="932.6" y="2406.2" width="28.9" height="55.2" fill="#e4e4e4" stroke="#000" stroke-width="2.7" />
<rect x="964.1" y="2420.9" width="28.3" height="40.6" fill="#025497" stroke="#000" stroke-width="2.7" />
<line x1="666" y1="2413" x2="666" y2="2423" stroke="#000" stroke-width="2.7" />
<line x1="659.5" y1="2413" x2="672.5" y2="2413" stroke="#000" stroke-width="2.7" />
<line x1="659.5" y1="2423" x2="672.5" y2="2423" stroke="#000" stroke-width="2.7" />
<line x1="697" y1="2419" x2="697" y2="2426" stroke="#000" stroke-width="2.7" />
<line x1="690.5" y1="2419" x2="703.5" y2="2419" stroke="#000" stroke-width="2.7" />
<line x1="690.5" y1="2426" x2="703.5" y2="2426" stroke="#000" stroke-width="2.7" />
<line x1="759.8" y1="2380.5" x2="759.8" y2="2445.6" stroke="#000" stroke-width="2.7" />
<line x1="753.3" y1="2380.5" x2="766.3" y2="2380.5" stroke="#000" stroke-width="2.7" />
<line x1="753.3" y1="2445.6" x2="766.3" y2="2445.6" stroke="#000" stroke-width="2.7" />
<line x1="790.5" y1="2419.6" x2="790.5" y2="2444" stroke="#000" stroke-width="2.7" />
<line x1="784" y1="2419.6" x2="797" y2="2419.6" stroke="#000" stroke-width="2.7" />
<line x1="784" y1="2444" x2="797" y2="2444" stroke="#000" stroke-width="2.7" />
<line x1="853.6" y1="2280" x2="853.6" y2="2342" stroke="#000" stroke-width="2.7" />
<line x1="847.1" y1="2280" x2="860.1" y2="2280" stroke="#000" stroke-width="2.7" />
<line x1="847.1" y1="2342" x2="860.1" y2="2342" stroke="#000" stroke-width="2.7" />
<line x1="884.6" y1="2369" x2="884.6" y2="2421.2" stroke="#000" stroke-width="2.7" />
<line x1="878.1" y1="2369" x2="891.1" y2="2369" stroke="#000" stroke-width="2.7" />
<line x1="878.1" y1="2421.2" x2="891.1" y2="2421.2" stroke="#000" stroke-width="2.7" />
<line x1="947" y1="2387" x2="947" y2="2422.8" stroke="#000" stroke-width="2.7" />
<line x1="940.5" y1="2387" x2="953.5" y2="2387" stroke="#000" stroke-width="2.7" />
<line x1="940.5" y1="2422.8" x2="953.5" y2="2422.8" stroke="#000" stroke-width="2.7" />
<line x1="978" y1="2418" x2="978" y2="2423" stroke="#000" stroke-width="2.7" />
<line x1="971.5" y1="2418" x2="984.5" y2="2418" stroke="#000" stroke-width="2.7" />
<line x1="971.5" y1="2423" x2="984.5" y2="2423" stroke="#000" stroke-width="2.7" />
<circle cx="659.7" cy="2415" r="3.8" fill="#000"/>
<circle cx="671" cy="2415" r="3.8" fill="#000"/>
<circle cx="666.2" cy="2424.5" r="3.8" fill="#000"/>
<circle cx="685.8" cy="2426" r="3.8" fill="#000"/>
<circle cx="697.2" cy="2421.2" r="3.8" fill="#000"/>
<circle cx="708.6" cy="2423.8" r="3.8" fill="#000"/>
<circle cx="759.8" cy="2379.5" r="3.8" fill="#000"/>
<circle cx="759.8" cy="2414" r="3.8" fill="#000"/>
<circle cx="759.8" cy="2444.7" r="3.8" fill="#000"/>
<circle cx="791" cy="2417.3" r="3.8" fill="#000"/>
<circle cx="785.2" cy="2440.8" r="3.8" fill="#000"/>
<circle cx="796.6" cy="2439.1" r="3.8" fill="#000"/>
<circle cx="853.6" cy="2289.2" r="3.8" fill="#000"/>
<circle cx="853.6" cy="2299" r="3.8" fill="#000"/>
<circle cx="853.6" cy="2346.2" r="3.8" fill="#000"/>
<circle cx="884.6" cy="2369" r="3.8" fill="#000"/>
<circle cx="884.6" cy="2396.8" r="3.8" fill="#000"/>
<circle cx="884.6" cy="2420.5" r="3.8" fill="#000"/>
<circle cx="947.2" cy="2387" r="3.8" fill="#000"/>
<circle cx="947.2" cy="2408.2" r="3.8" fill="#000"/>
<circle cx="947.2" cy="2421.2" r="3.8" fill="#000"/>
<circle cx="967.7" cy="2422.8" r="3.8" fill="#000"/>
<circle cx="977.5" cy="2418" r="3.8" fill="#000"/>
<circle cx="989" cy="2419.6" r="3.8" fill="#000"/>
<line x1="634.6" y1="2462.3" x2="634.6" y2="2230.2" stroke="#000" stroke-width="2.6" />
<line x1="627.6" y1="2461" x2="1011.2" y2="2461" stroke="#000" stroke-width="2.6" />
<line x1="627.6" y1="2461" x2="634.6" y2="2461" stroke="#000" stroke-width="2.6" />
<text x="621.5" y="2470.7" font-size="22" text-anchor="end" stroke="#000" stroke-width="0.48" >0</text>
<line x1="627.6" y1="2414.9" x2="634.6" y2="2414.9" stroke="#000" stroke-width="2.6" />
<text x="621.5" y="2424.6" font-size="22" text-anchor="end" stroke="#000" stroke-width="0.48" >1</text>
<line x1="627.6" y1="2368.8" x2="634.6" y2="2368.8" stroke="#000" stroke-width="2.6" />
<text x="621.5" y="2378.5" font-size="22" text-anchor="end" stroke="#000" stroke-width="0.48" >2</text>
<line x1="627.6" y1="2322.7" x2="634.6" y2="2322.7" stroke="#000" stroke-width="2.6" />
<text x="621.5" y="2332.4" font-size="22" text-anchor="end" stroke="#000" stroke-width="0.48" >3</text>
<line x1="627.6" y1="2276.6" x2="634.6" y2="2276.6" stroke="#000" stroke-width="2.6" />
<text x="621.5" y="2286.3" font-size="22" text-anchor="end" stroke="#000" stroke-width="0.48" >4</text>
<line x1="627.6" y1="2230.5" x2="634.6" y2="2230.5" stroke="#000" stroke-width="2.6" />
<text x="621.5" y="2240.2" font-size="22" text-anchor="end" stroke="#000" stroke-width="0.48" >5</text>
<line x1="680.9" y1="2461" x2="680.9" y2="2471.5" stroke="#000" stroke-width="2.6" />
<line x1="774.8" y1="2461" x2="774.8" y2="2471.5" stroke="#000" stroke-width="2.6" />
<line x1="868.3" y1="2461" x2="868.3" y2="2471.5" stroke="#000" stroke-width="2.6" />
<line x1="962.2" y1="2461" x2="962.2" y2="2471.5" stroke="#000" stroke-width="2.6" />
<line x1="852.7" y1="2258.9" x2="887.2" y2="2258.9" stroke="#000" stroke-width="2.2" />
<text x="870.5" y="2265.5" font-size="24" text-anchor="middle" font-weight="bold" >*</text>
<text x="682.2" y="2494" font-size="27" text-anchor="middle" textLength="65.8" lengthAdjust="spacingAndGlyphs" stroke="#000" stroke-width="0.59" >mock</text>
<text x="784" y="2494" font-size="27" text-anchor="middle" textLength="100" lengthAdjust="spacingAndGlyphs" stroke="#000" stroke-width="0.59" >PltB<tspan font-size="0.66em" dy="-0.5em" font-weight="bold">S35A</tspan></text>
<text x="866.7" y="2494" font-size="27" text-anchor="middle" textLength="45.6" lengthAdjust="spacingAndGlyphs" stroke="#000" stroke-width="0.59" >WT</text>
<text x="973.6" y="2494" font-size="27" text-anchor="middle" textLength="124.7" lengthAdjust="spacingAndGlyphs" stroke="#000" stroke-width="0.59" >CdtB<tspan font-size="0.66em" dy="-0.5em" font-weight="bold">H160Q</tspan></text>
<text x="587" y="2343.5" font-size="20.5" text-anchor="middle" textLength="233" lengthAdjust="spacingAndGlyphs" transform="rotate(-90 587 2343.5)" stroke="#000" stroke-width="0.45" >cmtDNA:mtDNA (Fold)</text>
<rect x="646.8" y="2237.8" width="7.5" height="7.5" fill="#e4e4e4" stroke="#000" stroke-width="2.5" />
<text x="659.5" y="2247" font-size="21" textLength="60" lengthAdjust="spacingAndGlyphs" stroke="#000" stroke-width="0.46" >DMSO</text>
<rect x="646.8" y="2262.8" width="7.5" height="7.5" fill="#025497" stroke="#000" stroke-width="2.5" />
<text x="659.5" y="2272" font-size="21" textLength="53" lengthAdjust="spacingAndGlyphs" stroke="#000" stroke-width="0.46" >MitoQ</text>
<rect x="1127.2" y="2314.3" width="41.2" height="145.8" fill="#e4e4e4" stroke="#000" stroke-width="2.7" />
<rect x="1171.1" y="2318.3" width="41.3" height="141.8" fill="#025497" stroke="#000" stroke-width="2.7" />
<rect x="1259" y="2323.2" width="41.3" height="136.9" fill="#e4e4e4" stroke="#000" stroke-width="2.7" />
<rect x="1303" y="2333.2" width="41.2" height="126.9" fill="#025497" stroke="#000" stroke-width="2.7" />
<rect x="1390.9" y="2379.9" width="41.3" height="80.2" fill="#e4e4e4" stroke="#000" stroke-width="2.7" />
<rect x="1434.9" y="2375.9" width="41.2" height="84.2" fill="#025497" stroke="#000" stroke-width="2.7" />
<line x1="1147.8" y1="2299" x2="1147.8" y2="2327" stroke="#000" stroke-width="2.7" />
<line x1="1140.8" y1="2299" x2="1154.8" y2="2299" stroke="#000" stroke-width="2.7" />
<line x1="1140.8" y1="2327" x2="1154.8" y2="2327" stroke="#000" stroke-width="2.7" />
<line x1="1191.8" y1="2304.7" x2="1191.8" y2="2327.9" stroke="#000" stroke-width="2.7" />
<line x1="1184.8" y1="2304.7" x2="1198.8" y2="2304.7" stroke="#000" stroke-width="2.7" />
<line x1="1184.8" y1="2327.9" x2="1198.8" y2="2327.9" stroke="#000" stroke-width="2.7" />
<line x1="1279.7" y1="2298.7" x2="1279.7" y2="2343" stroke="#000" stroke-width="2.7" />
<line x1="1272.7" y1="2298.7" x2="1286.7" y2="2298.7" stroke="#000" stroke-width="2.7" />
<line x1="1272.7" y1="2343" x2="1286.7" y2="2343" stroke="#000" stroke-width="2.7" />
<line x1="1323.7" y1="2310.7" x2="1323.7" y2="2352.6" stroke="#000" stroke-width="2.7" />
<line x1="1316.7" y1="2310.7" x2="1330.7" y2="2310.7" stroke="#000" stroke-width="2.7" />
<line x1="1316.7" y1="2352.6" x2="1330.7" y2="2352.6" stroke="#000" stroke-width="2.7" />
<line x1="1411.6" y1="2359" x2="1411.6" y2="2397.8" stroke="#000" stroke-width="2.7" />
<line x1="1404.6" y1="2359" x2="1418.6" y2="2359" stroke="#000" stroke-width="2.7" />
<line x1="1404.6" y1="2397.8" x2="1418.6" y2="2397.8" stroke="#000" stroke-width="2.7" />
<line x1="1455.6" y1="2359" x2="1455.6" y2="2388.6" stroke="#000" stroke-width="2.7" />
<line x1="1448.6" y1="2359" x2="1462.6" y2="2359" stroke="#000" stroke-width="2.7" />
<line x1="1448.6" y1="2388.6" x2="1462.6" y2="2388.6" stroke="#000" stroke-width="2.7" />
<circle cx="1147.8" cy="2299" r="3.8" fill="#000"/>
<circle cx="1147.8" cy="2312.7" r="3.8" fill="#000"/>
<circle cx="1147.8" cy="2325.9" r="3.8" fill="#000"/>
<circle cx="1183.8" cy="2307.1" r="3.8" fill="#000"/>
<circle cx="1197.8" cy="2312" r="3.8" fill="#000"/>
<circle cx="1191.8" cy="2329.9" r="3.8" fill="#000"/>
<circle cx="1279.7" cy="2298.7" r="3.8" fill="#000"/>
<circle cx="1279.7" cy="2322.7" r="3.8" fill="#000"/>
<circle cx="1279.7" cy="2341.9" r="3.8" fill="#000"/>
<circle cx="1322.9" cy="2307.1" r="3.8" fill="#000"/>
<circle cx="1317.7" cy="2343.8" r="3.8" fill="#000"/>
<circle cx="1329.7" cy="2343" r="3.8" fill="#000"/>
<circle cx="1411.6" cy="2363" r="3.8" fill="#000"/>
<circle cx="1411.6" cy="2373" r="3.8" fill="#000"/>
<circle cx="1411.6" cy="2399" r="3.8" fill="#000"/>
<circle cx="1455.6" cy="2365.8" r="3.8" fill="#000"/>
<circle cx="1455.6" cy="2377" r="3.8" fill="#000"/>
<circle cx="1455.6" cy="2389.8" r="3.8" fill="#000"/>
<line x1="1104.7" y1="2461" x2="1104.7" y2="2237.6" stroke="#000" stroke-width="2.6" />
<line x1="1097.7" y1="2459.7" x2="1501.5" y2="2459.7" stroke="#000" stroke-width="2.6" />
<line x1="1097.7" y1="2459.7" x2="1104.7" y2="2459.7" stroke="#000" stroke-width="2.6" />
<text x="1091" y="2470.7" font-size="24" text-anchor="end" stroke="#000" stroke-width="0.53" >0</text>
<line x1="1097.7" y1="2385.8" x2="1104.7" y2="2385.8" stroke="#000" stroke-width="2.6" />
<text x="1091" y="2396.8" font-size="24" text-anchor="end" textLength="29" lengthAdjust="spacingAndGlyphs" stroke="#000" stroke-width="0.53" >0.5</text>
<line x1="1097.7" y1="2311.8" x2="1104.7" y2="2311.8" stroke="#000" stroke-width="2.6" />
<text x="1091" y="2322.8" font-size="24" text-anchor="end" textLength="29" lengthAdjust="spacingAndGlyphs" stroke="#000" stroke-width="0.53" >1.0</text>
<line x1="1097.7" y1="2237.9" x2="1104.7" y2="2237.9" stroke="#000" stroke-width="2.6" />
<text x="1091" y="2248.9" font-size="24" text-anchor="end" textLength="29" lengthAdjust="spacingAndGlyphs" stroke="#000" stroke-width="0.53" >1.5</text>
<line x1="1169.8" y1="2459.7" x2="1169.8" y2="2469.7" stroke="#000" stroke-width="2.6" />
<line x1="1301.7" y1="2459.7" x2="1301.7" y2="2469.7" stroke="#000" stroke-width="2.6" />
<line x1="1433.6" y1="2459.7" x2="1433.6" y2="2469.7" stroke="#000" stroke-width="2.6" />
<line x1="1410.4" y1="2333.9" x2="1454.7" y2="2333.9" stroke="#000" stroke-width="2.2" />
<text x="1432.5" y="2329" font-size="24" text-anchor="middle" stroke="#000" stroke-width="0.53" >ns</text>
<text x="1165.5" y="2494" font-size="27" text-anchor="middle" textLength="67" lengthAdjust="spacingAndGlyphs" stroke="#000" stroke-width="0.59" >mock</text>
<text x="1301.7" y="2494" font-size="27" text-anchor="middle" textLength="100" lengthAdjust="spacingAndGlyphs" stroke="#000" stroke-width="0.59" >PltB<tspan font-size="0.66em" dy="-0.5em" font-weight="bold">S35A</tspan></text>
<text x="1429.5" y="2494" font-size="27" text-anchor="middle" textLength="44" lengthAdjust="spacingAndGlyphs" stroke="#000" stroke-width="0.59" >WT</text>
<text x="1057" y="2346" font-size="20.5" text-anchor="middle" textLength="227" lengthAdjust="spacingAndGlyphs" transform="rotate(-90 1057 2346)" stroke="#000" stroke-width="0.45" >mtDNA copy no. (Fold)</text>
<rect x="1113.7" y="2241.3" width="8" height="8" fill="#e4e4e4" stroke="#000" stroke-width="2.8" />
<text x="1127.1" y="2250.3" font-size="19" font-weight="bold" textLength="60" lengthAdjust="spacingAndGlyphs" >DMSO</text>
<rect x="1113.7" y="2265.6" width="8" height="8" fill="#025497" stroke="#000" stroke-width="2.8" />
<text x="1127.1" y="2274.6" font-size="19" font-weight="bold" textLength="53" lengthAdjust="spacingAndGlyphs" >MitoQ</text>
<g>
<rect x="5" y="2254" width="251" height="218" fill="#fdfcfc"/>
<path d="M190 2300 C192 2285 197 2272 200 2268 C204 2272 206 2285 210 2292 C216 2298 222 2306 230 2310 C236 2316 228 2320 215 2318 Z" fill="#f9dcc6" stroke="#efc2a2" stroke-width="0.8"/>
<path d="M221 2280 C226 2276 234 2279 233 2287 C231 2295 224 2297 222 2292 C219 2288 218 2284 221 2280 Z" fill="#f9dcc6" stroke="#efc2a2" stroke-width="0.8"/>
<path d="M46 2395 C52 2396 56 2404 62 2410 C68 2418 66 2428 58 2430 C50 2432 48 2424 46 2418 C42 2410 40 2400 46 2395 Z" fill="#f9dcc6" stroke="#efc2a2" stroke-width="0.8"/>
<path d="M72 2417 C77 2415 81 2424 79 2432 C76 2436 71 2434 70 2428 C69 2423 70 2419 72 2417 Z" fill="#f9dcc6" stroke="#efc2a2" stroke-width="0.8"/>
<path d="M31 2417 C36 2416 39 2424 38 2431 C34 2436 29 2432 28 2426 C27 2421 29 2418 31 2417 Z" fill="#f9dcc6" stroke="#efc2a2" stroke-width="0.8"/>
<path d="M78 2405 C84 2402 92 2412 94 2419 C90 2422 82 2418 78 2412 Z" fill="#f9dcc6" stroke="#efc2a2" stroke-width="0.8"/>
<ellipse cx="201" cy="2263" rx="4" ry="2.5" fill="#f9dcc6" stroke="#e8b898" stroke-width="0.8"/>
<ellipse cx="55" cy="2438" rx="3.5" ry="2.5" fill="#f9dcc6" stroke="#e8b898" stroke-width="0.8"/>
<path d="M30.5 2358 C30 2345 38 2333 48 2326 C58 2318 70 2311 82 2308 C100 2303 125 2302 150 2302.5 C170 2303 185 2305 195 2310 C203 2315 210 2320 218 2318 C228 2314 238 2308 246 2306 C252 2305 254 2310 251 2316 C252 2330 254 2345 253.5 2362 C253 2378 249 2392 238 2401 C228 2407 218 2406 205 2399 C190 2392 172 2388.5 152 2388.5 C130 2389 110 2393 95 2398 C86 2401 80 2404 76 2406 C70 2408 62 2402 55 2400 C46 2398 38 2404 30 2402 C22 2400 20 2394 27 2392 C33 2390 31 2375 30.5 2358 Z" fill="#f2bb94" stroke="#c96a2c" stroke-width="1.7" stroke-dasharray="4.5 2.8"/>
<path d="M40 2356 C40 2340 48 2330 62 2324 C78 2317 98 2313 125 2312 C155 2311 180 2312 195 2317 C205 2322 215 2324 228 2325 C240 2330 246 2338 246 2348 C248 2360 246 2375 238 2383 C228 2391 214 2390 200 2386 C185 2382 170 2381 152 2381 C130 2381.5 110 2385 92 2390 C76 2394 58 2394 48 2386 C41 2380 40 2368 40 2356 Z" fill="#fbe4d3" stroke="#e07b34" stroke-width="1.5"/>
<path d="M82 2317 L82 2346" stroke="#e07b34" stroke-width="7.4" stroke-linecap="round" fill="none"/>
<path d="M114 2312 L114 2338" stroke="#e07b34" stroke-width="7.4" stroke-linecap="round" fill="none"/>
<path d="M136 2311 L136 2350" stroke="#e07b34" stroke-width="7.4" stroke-linecap="round" fill="none"/>
<path d="M158 2310 L158 2342" stroke="#e07b34" stroke-width="7.4" stroke-linecap="round" fill="none"/>
<path d="M210 2323 L210 2354" stroke="#e07b34" stroke-width="7.4" stroke-linecap="round" fill="none"/>
<path d="M104 2387 L104 2356" stroke="#e07b34" stroke-width="7.4" stroke-linecap="round" fill="none"/>
<path d="M132 2383 L132 2348" stroke="#e07b34" stroke-width="7.4" stroke-linecap="round" fill="none"/>
<path d="M156 2382 L156 2354" stroke="#e07b34" stroke-width="7.4" stroke-linecap="round" fill="none"/>
<path d="M180 2383 L180 2346" stroke="#e07b34" stroke-width="7.4" stroke-linecap="round" fill="none"/>
<path d="M202 2387 L202 2356" stroke="#e07b34" stroke-width="7.4" stroke-linecap="round" fill="none"/>
<path d="M226 2389 L226 2362" stroke="#e07b34" stroke-width="7.4" stroke-linecap="round" fill="none"/>
<path d="M36 2353 L60 2353" stroke="#e07b34" stroke-width="7.4" stroke-linecap="round" fill="none"/>
<path d="M36 2370 L56 2370" stroke="#e07b34" stroke-width="7.4" stroke-linecap="round" fill="none"/>
<path d="M222 2340 L246 2340" stroke="#e07b34" stroke-width="7.4" stroke-linecap="round" fill="none"/>
<path d="M226 2366 L248 2366" stroke="#e07b34" stroke-width="7.4" stroke-linecap="round" fill="none"/>
<path d="M82 2313 L82 2346" stroke="#f2bb94" stroke-width="4.4" stroke-linecap="round" fill="none"/>
<path d="M114 2308 L114 2338" stroke="#f2bb94" stroke-width="4.4" stroke-linecap="round" fill="none"/>
<path d="M136 2307 L136 2350" stroke="#f2bb94" stroke-width="4.4" stroke-linecap="round" fill="none"/>
<path d="M158 2306 L158 2342" stroke="#f2bb94" stroke-width="4.4" stroke-linecap="round" fill="none"/>
<path d="M210 2319 L210 2354" stroke="#f2bb94" stroke-width="4.4" stroke-linecap="round" fill="none"/>
<path d="M104 2391 L104 2356" stroke="#f2bb94" stroke-width="4.4" stroke-linecap="round" fill="none"/>
<path d="M132 2387 L132 2348" stroke="#f2bb94" stroke-width="4.4" stroke-linecap="round" fill="none"/>
<path d="M156 2386 L156 2354" stroke="#f2bb94" stroke-width="4.4" stroke-linecap="round" fill="none"/>
<path d="M180 2387 L180 2346" stroke="#f2bb94" stroke-width="4.4" stroke-linecap="round" fill="none"/>
<path d="M202 2391 L202 2356" stroke="#f2bb94" stroke-width="4.4" stroke-linecap="round" fill="none"/>
<path d="M226 2393 L226 2362" stroke="#f2bb94" stroke-width="4.4" stroke-linecap="round" fill="none"/>
<path d="M30 2353 L60 2353" stroke="#f2bb94" stroke-width="4.4" stroke-linecap="round" fill="none"/>
<path d="M30 2370 L56 2370" stroke="#f2bb94" stroke-width="4.4" stroke-linecap="round" fill="none"/>
<path d="M222 2340 L251 2340" stroke="#f2bb94" stroke-width="4.4" stroke-linecap="round" fill="none"/>
<path d="M226 2366 L251 2366" stroke="#f2bb94" stroke-width="4.4" stroke-linecap="round" fill="none"/>
<polygon points="194.0,2307.3 182.1,2308.3 188.5,2318.4 177.7,2313.3 178.1,2325.3 171.3,2315.5 165.7,2326.0 164.7,2314.1 154.6,2320.5 159.7,2309.7 147.7,2310.1 157.5,2303.3 147.0,2297.7 158.9,2296.7 152.5,2286.6 163.3,2291.7 162.9,2279.7 169.7,2289.5 175.3,2279.0 176.3,2290.9 186.4,2284.5 181.3,2295.3 193.3,2294.9 183.5,2301.7" fill="#c8464f" stroke="#8a2a30" stroke-width="0.8"/>
<text x="170.5" y="2305.5" font-size="7.5" text-anchor="middle" font-weight="bold" fill="#fff" >mtROS</text>
<polygon points="130.0,2402.3 118.1,2403.3 124.5,2413.4 113.7,2408.3 114.1,2420.3 107.3,2410.5 101.7,2421.0 100.7,2409.1 90.6,2415.5 95.7,2404.7 83.7,2405.1 93.5,2398.3 83.0,2392.7 94.9,2391.7 88.5,2381.6 99.3,2386.7 98.9,2374.7 105.7,2384.5 111.3,2374.0 112.3,2385.9 122.4,2379.5 117.3,2390.3 129.3,2389.9 119.5,2396.7" fill="#c8464f" stroke="#8a2a30" stroke-width="0.8"/>
<text x="106.5" y="2400.5" font-size="7.5" text-anchor="middle" font-weight="bold" fill="#fff" >mtROS</text>
<polygon points="220.0,2416.3 208.1,2417.3 214.5,2427.4 203.7,2422.3 204.1,2434.3 197.3,2424.5 191.7,2435.0 190.7,2423.1 180.6,2429.5 185.7,2418.7 173.7,2419.1 183.5,2412.3 173.0,2406.7 184.9,2405.7 178.5,2395.6 189.3,2400.7 188.9,2388.7 195.7,2398.5 201.3,2388.0 202.3,2399.9 212.4,2393.5 207.3,2404.3 219.3,2403.9 209.5,2410.7" fill="#c8464f" stroke="#8a2a30" stroke-width="0.8"/>
<text x="196.5" y="2414.5" font-size="7.5" text-anchor="middle" font-weight="bold" fill="#fff" >mtROS</text>
<path d="M101.5 2339.0 L102.4 2339.0 L103.3 2339.1 L104.2 2339.3 L105.1 2339.5 L105.9 2339.8 L106.7 2340.2 L107.4 2340.6 L108.1 2341.0 L108.8 2341.5 L109.3 2342.0 L109.8 2342.6 L110.2 2343.2 L110.5 2343.8 L110.8 2344.4 L111.0 2345.0 L111.1 2345.6 L111.1 2346.2 L111.0 2346.7 L110.8 2347.3 L110.6 2347.8 L110.3 2348.2 L109.9 2348.6 L109.5 2349.0 L108.9 2349.2 L108.4 2349.5 L107.8 2349.6 L107.1 2349.7 L106.4 2349.7 L105.7 2349.6 L105.0 2349.5 L104.3 2349.3 L103.5 2349.0 L102.8 2348.6 L102.1 2348.2 L101.4 2347.7 L100.7 2347.1 L100.1 2346.4 L99.5 2345.8 L99.0 2345.0 L98.5 2344.2 L98.0 2343.4 L97.7 2342.6 L97.4 2341.8 L97.1 2340.9 L97.0 2340.0 L96.9 2339.2 L96.9 2338.3 L96.9 2337.5 L97.0 2336.7 L97.2 2336.0 L97.4 2335.3 L97.7 2334.6 L98.1 2334.0 L98.5 2333.5 L98.9 2333.1 L99.4 2332.7 L99.9 2332.4 L100.4 2332.2 L101.0 2332.0 L101.5 2332.0 L102.0 2332.0 L102.6 2332.2 L103.1 2332.4 L103.6 2332.7 L104.1 2333.1 L104.5 2333.5 L104.9 2334.0 L105.3 2334.6 L105.6 2335.3 L105.8 2336.0 L106.0 2336.7 L106.1 2337.5 L106.1 2338.3 L106.1 2339.2 L106.0 2340.0 L105.9 2340.9 L105.6 2341.8 L105.3 2342.6 L105.0 2343.4 L104.5 2344.2 L104.0 2345.0 L103.5 2345.8 L102.9 2346.4 L102.3 2347.1 L101.6 2347.7 L100.9 2348.2 L100.2 2348.6 L99.5 2349.0 L98.7 2349.3 L98.0 2349.5 L97.3 2349.6 L96.6 2349.7 L95.9 2349.7 L95.2 2349.6 L94.6 2349.5 L94.1 2349.2 L93.5 2349.0 L93.1 2348.6 L92.7 2348.2 L92.4 2347.8 L92.2 2347.3 L92.0 2346.7 L91.9 2346.2 L91.9 2345.6 L92.0 2345.0 L92.2 2344.4 L92.5 2343.8 L92.8 2343.2 L93.2 2342.6 L93.7 2342.0 L94.2 2341.5 L94.9 2341.0 L95.6 2340.6 L96.3 2340.2 L97.1 2339.8 L97.9 2339.5 L98.8 2339.3 L99.7 2339.1 L100.6 2339.0 L101.5 2339.0 Z" fill="none" stroke="#1c4f66" stroke-width="1.7"/>
<path d="M101.5 2339.8 L102.2 2339.8 L102.9 2339.9 L103.6 2340.0 L104.3 2340.2 L104.9 2340.4 L105.6 2340.7 L106.1 2341.0 L106.7 2341.3 L107.2 2341.7 L107.6 2342.1 L108.0 2342.6 L108.3 2343.0 L108.6 2343.5 L108.8 2344.0 L108.9 2344.4 L109.0 2344.9 L109.0 2345.4 L108.9 2345.8 L108.8 2346.2 L108.6 2346.6 L108.3 2346.9 L108.1 2347.3 L107.7 2347.5 L107.3 2347.8 L106.9 2347.9 L106.4 2348.1 L105.9 2348.1 L105.4 2348.1 L104.8 2348.1 L104.2 2348.0 L103.7 2347.8 L103.1 2347.6 L102.5 2347.3 L101.9 2346.9 L101.4 2346.5 L100.9 2346.1 L100.4 2345.6 L99.9 2345.0 L99.5 2344.5 L99.1 2343.9 L98.8 2343.2 L98.5 2342.6 L98.3 2341.9 L98.1 2341.2 L98.0 2340.6 L97.9 2339.9 L97.9 2339.2 L97.9 2338.6 L98.0 2338.0 L98.1 2337.4 L98.3 2336.9 L98.6 2336.4 L98.8 2335.9 L99.1 2335.5 L99.5 2335.1 L99.8 2334.8 L100.2 2334.6 L100.7 2334.4 L101.1 2334.3 L101.5 2334.3 L101.9 2334.3 L102.3 2334.4 L102.8 2334.6 L103.2 2334.8 L103.5 2335.1 L103.9 2335.5 L104.2 2335.9 L104.4 2336.4 L104.7 2336.9 L104.9 2337.4 L105.0 2338.0 L105.1 2338.6 L105.1 2339.2 L105.1 2339.9 L105.0 2340.6 L104.9 2341.2 L104.7 2341.9 L104.5 2342.6 L104.2 2343.2 L103.9 2343.9 L103.5 2344.5 L103.1 2345.0 L102.6 2345.6 L102.1 2346.1 L101.6 2346.5 L101.1 2346.9 L100.5 2347.3 L99.9 2347.6 L99.3 2347.8 L98.8 2348.0 L98.2 2348.1 L97.6 2348.1 L97.1 2348.1 L96.6 2348.1 L96.1 2347.9 L95.7 2347.8 L95.3 2347.5 L94.9 2347.3 L94.7 2346.9 L94.4 2346.6 L94.2 2346.2 L94.1 2345.8 L94.0 2345.4 L94.0 2344.9 L94.1 2344.4 L94.2 2344.0 L94.4 2343.5 L94.7 2343.0 L95.0 2342.6 L95.4 2342.1 L95.8 2341.7 L96.3 2341.3 L96.9 2341.0 L97.4 2340.7 L98.1 2340.4 L98.7 2340.2 L99.4 2340.0 L100.1 2339.9 L100.8 2339.8 L101.5 2339.8 Z" fill="none" stroke="#1c4f66" stroke-width="1.3"/>
<path d="M175.5 2338.0 L176.4 2338.0 L177.3 2338.1 L178.2 2338.3 L179.1 2338.5 L179.9 2338.8 L180.7 2339.2 L181.4 2339.6 L182.1 2340.0 L182.8 2340.5 L183.3 2341.0 L183.8 2341.6 L184.2 2342.2 L184.5 2342.8 L184.8 2343.4 L185.0 2344.0 L185.1 2344.6 L185.1 2345.2 L185.0 2345.7 L184.8 2346.3 L184.6 2346.8 L184.3 2347.2 L183.9 2347.6 L183.5 2348.0 L182.9 2348.2 L182.4 2348.5 L181.8 2348.6 L181.1 2348.7 L180.4 2348.7 L179.7 2348.6 L179.0 2348.5 L178.3 2348.3 L177.5 2348.0 L176.8 2347.6 L176.1 2347.2 L175.4 2346.7 L174.7 2346.1 L174.1 2345.4 L173.5 2344.8 L173.0 2344.0 L172.5 2343.2 L172.0 2342.4 L171.7 2341.6 L171.4 2340.8 L171.1 2339.9 L171.0 2339.0 L170.9 2338.2 L170.9 2337.3 L170.9 2336.5 L171.0 2335.7 L171.2 2335.0 L171.4 2334.3 L171.7 2333.6 L172.1 2333.0 L172.5 2332.5 L172.9 2332.1 L173.4 2331.7 L173.9 2331.4 L174.4 2331.2 L175.0 2331.0 L175.5 2331.0 L176.0 2331.0 L176.6 2331.2 L177.1 2331.4 L177.6 2331.7 L178.1 2332.1 L178.5 2332.5 L178.9 2333.0 L179.3 2333.6 L179.6 2334.3 L179.8 2335.0 L180.0 2335.7 L180.1 2336.5 L180.1 2337.3 L180.1 2338.2 L180.0 2339.0 L179.9 2339.9 L179.6 2340.8 L179.3 2341.6 L179.0 2342.4 L178.5 2343.2 L178.0 2344.0 L177.5 2344.8 L176.9 2345.4 L176.3 2346.1 L175.6 2346.7 L174.9 2347.2 L174.2 2347.6 L173.5 2348.0 L172.7 2348.3 L172.0 2348.5 L171.3 2348.6 L170.6 2348.7 L169.9 2348.7 L169.2 2348.6 L168.6 2348.5 L168.1 2348.2 L167.5 2348.0 L167.1 2347.6 L166.7 2347.2 L166.4 2346.8 L166.2 2346.3 L166.0 2345.7 L165.9 2345.2 L165.9 2344.6 L166.0 2344.0 L166.2 2343.4 L166.5 2342.8 L166.8 2342.2 L167.2 2341.6 L167.7 2341.0 L168.2 2340.5 L168.9 2340.0 L169.6 2339.6 L170.3 2339.2 L171.1 2338.8 L171.9 2338.5 L172.8 2338.3 L173.7 2338.1 L174.6 2338.0 L175.5 2338.0 Z" fill="none" stroke="#1c4f66" stroke-width="1.7"/>
<path d="M175.5 2338.8 L176.2 2338.8 L176.9 2338.9 L177.6 2339.0 L178.3 2339.2 L178.9 2339.4 L179.6 2339.7 L180.1 2340.0 L180.7 2340.3 L181.2 2340.7 L181.6 2341.1 L182.0 2341.6 L182.3 2342.0 L182.6 2342.5 L182.8 2343.0 L182.9 2343.4 L183.0 2343.9 L183.0 2344.4 L182.9 2344.8 L182.8 2345.2 L182.6 2345.6 L182.3 2345.9 L182.1 2346.3 L181.7 2346.5 L181.3 2346.8 L180.9 2346.9 L180.4 2347.1 L179.9 2347.1 L179.4 2347.1 L178.8 2347.1 L178.2 2347.0 L177.7 2346.8 L177.1 2346.6 L176.5 2346.3 L175.9 2345.9 L175.4 2345.5 L174.9 2345.1 L174.4 2344.6 L173.9 2344.0 L173.5 2343.5 L173.1 2342.9 L172.8 2342.2 L172.5 2341.6 L172.3 2340.9 L172.1 2340.2 L172.0 2339.6 L171.9 2338.9 L171.9 2338.2 L171.9 2337.6 L172.0 2337.0 L172.1 2336.4 L172.3 2335.9 L172.6 2335.4 L172.8 2334.9 L173.1 2334.5 L173.5 2334.1 L173.8 2333.8 L174.2 2333.6 L174.7 2333.4 L175.1 2333.3 L175.5 2333.3 L175.9 2333.3 L176.3 2333.4 L176.8 2333.6 L177.2 2333.8 L177.5 2334.1 L177.9 2334.5 L178.2 2334.9 L178.4 2335.4 L178.7 2335.9 L178.9 2336.4 L179.0 2337.0 L179.1 2337.6 L179.1 2338.2 L179.1 2338.9 L179.0 2339.6 L178.9 2340.2 L178.7 2340.9 L178.5 2341.6 L178.2 2342.2 L177.9 2342.9 L177.5 2343.5 L177.1 2344.0 L176.6 2344.6 L176.1 2345.1 L175.6 2345.5 L175.1 2345.9 L174.5 2346.3 L173.9 2346.6 L173.3 2346.8 L172.8 2347.0 L172.2 2347.1 L171.6 2347.1 L171.1 2347.1 L170.6 2347.1 L170.1 2346.9 L169.7 2346.8 L169.3 2346.5 L168.9 2346.3 L168.7 2345.9 L168.4 2345.6 L168.2 2345.2 L168.1 2344.8 L168.0 2344.4 L168.0 2343.9 L168.1 2343.4 L168.2 2343.0 L168.4 2342.5 L168.7 2342.0 L169.0 2341.6 L169.4 2341.1 L169.8 2340.7 L170.3 2340.3 L170.9 2340.0 L171.4 2339.7 L172.1 2339.4 L172.7 2339.2 L173.4 2339.0 L174.1 2338.9 L174.8 2338.8 L175.5 2338.8 Z" fill="none" stroke="#1c4f66" stroke-width="1.3"/>
<path d="M70.3 2453.5 L71.2 2453.5 L72.1 2453.6 L73.0 2453.8 L73.9 2454.0 L74.7 2454.3 L75.5 2454.7 L76.2 2455.1 L76.9 2455.5 L77.6 2456.0 L78.1 2456.5 L78.6 2457.1 L79.0 2457.7 L79.3 2458.3 L79.6 2458.9 L79.8 2459.5 L79.9 2460.1 L79.9 2460.7 L79.8 2461.2 L79.6 2461.8 L79.4 2462.2 L79.1 2462.7 L78.7 2463.1 L78.3 2463.5 L77.7 2463.7 L77.2 2464.0 L76.6 2464.1 L75.9 2464.2 L75.2 2464.2 L74.5 2464.1 L73.8 2464.0 L73.1 2463.8 L72.3 2463.5 L71.6 2463.1 L70.9 2462.7 L70.2 2462.2 L69.5 2461.6 L68.9 2460.9 L68.3 2460.3 L67.8 2459.5 L67.3 2458.8 L66.8 2457.9 L66.5 2457.1 L66.2 2456.3 L65.9 2455.4 L65.8 2454.5 L65.7 2453.7 L65.7 2452.8 L65.7 2452.0 L65.8 2451.2 L66.0 2450.5 L66.2 2449.8 L66.5 2449.1 L66.9 2448.5 L67.3 2448.0 L67.7 2447.6 L68.2 2447.2 L68.7 2446.9 L69.2 2446.7 L69.8 2446.5 L70.3 2446.5 L70.8 2446.5 L71.4 2446.7 L71.9 2446.9 L72.4 2447.2 L72.9 2447.6 L73.3 2448.0 L73.7 2448.5 L74.1 2449.1 L74.4 2449.8 L74.6 2450.5 L74.8 2451.2 L74.9 2452.0 L74.9 2452.8 L74.9 2453.7 L74.8 2454.5 L74.7 2455.4 L74.4 2456.3 L74.1 2457.1 L73.8 2457.9 L73.3 2458.8 L72.8 2459.5 L72.3 2460.3 L71.7 2460.9 L71.1 2461.6 L70.4 2462.2 L69.7 2462.7 L69.0 2463.1 L68.3 2463.5 L67.5 2463.8 L66.8 2464.0 L66.1 2464.1 L65.4 2464.2 L64.7 2464.2 L64.0 2464.1 L63.4 2464.0 L62.9 2463.7 L62.3 2463.5 L61.9 2463.1 L61.5 2462.7 L61.2 2462.2 L61.0 2461.8 L60.8 2461.2 L60.7 2460.7 L60.7 2460.1 L60.8 2459.5 L61.0 2458.9 L61.3 2458.3 L61.6 2457.7 L62.0 2457.1 L62.5 2456.5 L63.0 2456.0 L63.7 2455.5 L64.4 2455.1 L65.1 2454.7 L65.9 2454.3 L66.7 2454.0 L67.6 2453.8 L68.5 2453.6 L69.4 2453.5 L70.3 2453.5 Z" fill="none" stroke="#1c4f66" stroke-width="1.7"/>
<path d="M70.3 2454.3 L71.0 2454.3 L71.7 2454.4 L72.4 2454.5 L73.1 2454.7 L73.7 2454.9 L74.4 2455.2 L74.9 2455.5 L75.5 2455.8 L76.0 2456.2 L76.4 2456.6 L76.8 2457.1 L77.1 2457.5 L77.4 2458.0 L77.6 2458.5 L77.7 2458.9 L77.8 2459.4 L77.8 2459.9 L77.7 2460.3 L77.6 2460.7 L77.4 2461.1 L77.1 2461.4 L76.9 2461.8 L76.5 2462.0 L76.1 2462.3 L75.7 2462.4 L75.2 2462.6 L74.7 2462.6 L74.2 2462.6 L73.6 2462.6 L73.0 2462.5 L72.5 2462.3 L71.9 2462.1 L71.3 2461.8 L70.7 2461.4 L70.2 2461.0 L69.7 2460.6 L69.2 2460.1 L68.7 2459.5 L68.3 2459.0 L67.9 2458.4 L67.6 2457.7 L67.3 2457.1 L67.1 2456.4 L66.9 2455.7 L66.8 2455.1 L66.7 2454.4 L66.7 2453.7 L66.7 2453.1 L66.8 2452.5 L66.9 2451.9 L67.1 2451.4 L67.4 2450.9 L67.6 2450.4 L67.9 2450.0 L68.3 2449.6 L68.6 2449.3 L69.0 2449.1 L69.5 2448.9 L69.9 2448.8 L70.3 2448.8 L70.7 2448.8 L71.1 2448.9 L71.6 2449.1 L72.0 2449.3 L72.3 2449.6 L72.7 2450.0 L73.0 2450.4 L73.2 2450.9 L73.5 2451.4 L73.7 2451.9 L73.8 2452.5 L73.9 2453.1 L73.9 2453.7 L73.9 2454.4 L73.8 2455.1 L73.7 2455.7 L73.5 2456.4 L73.3 2457.1 L73.0 2457.7 L72.7 2458.4 L72.3 2459.0 L71.9 2459.5 L71.4 2460.1 L70.9 2460.6 L70.4 2461.0 L69.9 2461.4 L69.3 2461.8 L68.7 2462.1 L68.1 2462.3 L67.6 2462.5 L67.0 2462.6 L66.4 2462.6 L65.9 2462.6 L65.4 2462.6 L64.9 2462.4 L64.5 2462.3 L64.1 2462.0 L63.7 2461.8 L63.5 2461.4 L63.2 2461.1 L63.0 2460.7 L62.9 2460.3 L62.8 2459.9 L62.8 2459.4 L62.9 2458.9 L63.0 2458.5 L63.2 2458.0 L63.5 2457.5 L63.8 2457.1 L64.2 2456.6 L64.6 2456.2 L65.1 2455.8 L65.7 2455.5 L66.2 2455.2 L66.9 2454.9 L67.5 2454.7 L68.2 2454.5 L68.9 2454.4 L69.6 2454.3 L70.3 2454.3 Z" fill="none" stroke="#1c4f66" stroke-width="1.3"/>
<g><ellipse cx="96" cy="2281" rx="5" ry="6" fill="#3da33d"/><ellipse cx="104" cy="2281" rx="5" ry="6" fill="#4cb84c"/><ellipse cx="100" cy="2275" rx="6" ry="4" fill="#e53935"/><circle cx="100" cy="2267" r="6.8" fill="#2467c2"/></g>
<g><ellipse cx="10.4" cy="2318" rx="5" ry="6" fill="#3da33d"/><ellipse cx="18.4" cy="2318" rx="5" ry="6" fill="#4cb84c"/><ellipse cx="14.4" cy="2312" rx="6" ry="4" fill="#e53935"/><circle cx="14.4" cy="2304" r="6.8" fill="#2467c2"/></g>
<g><ellipse cx="59.6" cy="2326" rx="5" ry="6" fill="#3da33d"/><ellipse cx="67.6" cy="2326" rx="5" ry="6" fill="#4cb84c"/><ellipse cx="63.6" cy="2320" rx="6" ry="4" fill="#e53935"/><circle cx="63.6" cy="2312" r="6.8" fill="#2467c2"/></g>
<polygon points="110,2278 119.5,2278 113,2292 120,2292 106,2322 110,2301 104,2301" fill="#3a3a3a"/>
<path d="M266.4 2279 L272.0 2279 L272.0 2295.3 L279.9 2295.3 L269.2 2319.5 L258.5 2295.3 L266.4 2295.3 Z" fill="#4a8a00"/>
<path d="M269.2 2331.6 L279.9 2356.9 L272.0 2356.9 L272.0 2373 L266.4 2373 L266.4 2356.9 L258.5 2356.9 Z" fill="#f00000"/>
<path d="M269.2 2391.3 L279.9 2416.5 L272.0 2416.5 L272.0 2433.7 L266.4 2433.7 L266.4 2416.5 L258.5 2416.5 Z" fill="#f00000"/>
<text x="286.8" y="2310.3" font-size="27" textLength="270.2" lengthAdjust="spacingAndGlyphs" stroke="#000" stroke-width="0.6" >mtDNA copy number</text>
<text x="286.8" y="2364" font-size="27" textLength="95" lengthAdjust="spacingAndGlyphs" stroke="#000" stroke-width="0.6" >mtROS</text>
<text x="287.5" y="2424" font-size="27" textLength="220.5" lengthAdjust="spacingAndGlyphs" stroke="#000" stroke-width="0.6" >Cytosolic mtDNA</text>
</g>
</svg>
</body></html>
